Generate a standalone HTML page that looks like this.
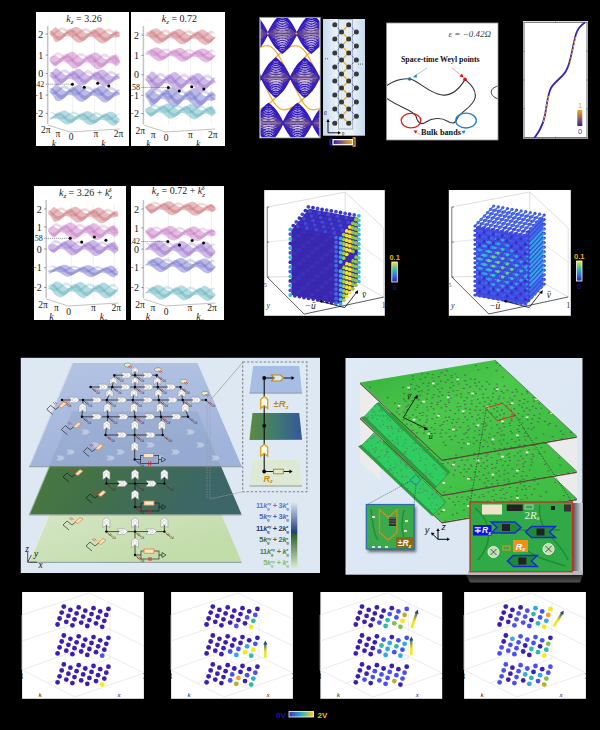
<!DOCTYPE html>
<html><head><meta charset="utf-8"><style>
html,body{margin:0;padding:0;background:#000;}
body{width:600px;height:730px;overflow:hidden;}
svg{display:block;}
</style></head><body>
<svg width="600" height="730" viewBox="0 0 600 730">
<rect x="0" y="0" width="600" height="730" fill="#000"/>
<rect x="36" y="12" width="93" height="134" fill="#fff"/>
<clipPath id="bp1"><rect x="36" y="12" width="93" height="134"/></clipPath><g clip-path="url(#bp1)">
<line x1="72.7" y1="30" x2="72.7" y2="124" stroke="#e6e6e6" stroke-width="0.6"/>
<line x1="94.7" y1="30" x2="94.7" y2="124" stroke="#e6e6e6" stroke-width="0.6"/>
<line x1="115.7" y1="30" x2="115.7" y2="124" stroke="#e6e6e6" stroke-width="0.6"/>
<line x1="47.7" y1="26" x2="47.7" y2="124" stroke="#c4c4c4" stroke-width="1.5"/>
<text x="43.2" y="37.5" font-size="10" fill="#222" text-anchor="end" font-family="Liberation Serif" >2</text>
<line x1="45.7" y1="34" x2="47.7" y2="34" stroke="#444" stroke-width="0.6"/>
<text x="43.2" y="58.5" font-size="10" fill="#222" text-anchor="end" font-family="Liberation Serif" >1</text>
<line x1="45.7" y1="55" x2="47.7" y2="55" stroke="#444" stroke-width="0.6"/>
<text x="43.2" y="77" font-size="10" fill="#222" text-anchor="end" font-family="Liberation Serif" >0</text>
<line x1="45.7" y1="73.5" x2="47.7" y2="73.5" stroke="#444" stroke-width="0.6"/>
<text x="43.2" y="98.5" font-size="10" fill="#222" text-anchor="end" font-family="Liberation Serif" >−1</text>
<line x1="45.7" y1="95" x2="47.7" y2="95" stroke="#444" stroke-width="0.6"/>
<text x="43.2" y="116.9" font-size="10" fill="#222" text-anchor="end" font-family="Liberation Serif" >−2</text>
<line x1="45.7" y1="113.4" x2="47.7" y2="113.4" stroke="#444" stroke-width="0.6"/>
<polygon points="49.7,32 51.6,30.3 53.6,28.5 55.5,27.1 57.5,28.5 59.4,30.2 61.4,31.7 63.3,32.7 65.3,32.8 67.2,32.1 69.1,30.8 71.1,29.2 73,27.7 75,26.9 76.9,26.9 78.9,27.7 80.8,29.1 82.8,30.8 84.7,32.4 86.6,33.3 88.6,33.4 90.5,32.7 92.5,31.4 94.4,29.8 96.4,28.4 98.3,27.5 100.3,27.5 102.2,28.3 104.1,29.8 106.1,31.5 108,33 110,34 111.9,34.1 113.9,33.3 115.8,32.1 117.8,32.1 119.7,33.3 119.7,36.2 117.8,37.2 115.8,37.6 113.9,37.4 111.9,37.9 110,39.1 108,40.6 106.1,42.2 104.1,43.2 102.2,43.5 100.3,42.9 98.3,41.6 96.4,39.9 94.4,38.3 92.5,37.1 90.5,36.8 88.6,37.2 86.6,38.4 84.7,40 82.8,41.5 80.8,42.6 78.9,42.8 76.9,42.2 75,40.9 73,39.2 71.1,37.6 69.1,36.5 67.2,36.1 65.3,36.6 63.3,37.8 61.4,39.4 59.4,40.9 57.5,41.9 55.5,42.1 53.6,39.3 51.6,36.3 49.7,33.7" fill="rgb(190,80,90)" fill-opacity="0.38"/>
<polygon points="49.7,30.4 51.6,31.5 53.6,33.1 55.5,34.6 57.5,36 59.4,36.4 61.4,35.8 63.3,34.2 65.3,32.2 67.2,30.3 69.1,29 71.1,28.7 73,29.4 75,31.1 76.9,33.2 78.9,35.3 80.8,36.7 82.8,37.1 84.7,36.4 86.6,34.8 88.6,32.8 90.5,30.9 92.5,29.6 94.4,29.3 96.4,30.1 98.3,31.8 100.3,33.9 102.2,35.9 104.1,37.3 106.1,37.7 108,37 110,35.4 111.9,33.4 113.9,31.5 115.8,30.3 117.8,30.7 119.7,32.2 119.7,33.2 117.8,33 115.8,33.9 113.9,35.3 111.9,37.2 110,39.3 108,40.9 106.1,41.6 104.1,41.2 102.2,39.8 100.3,37.8 98.3,35.6 96.4,33.9 94.4,33.1 92.5,33.4 90.5,34.7 88.6,36.6 86.6,38.7 84.7,40.2 82.8,40.9 80.8,40.5 78.9,39.1 76.9,37.1 75,34.9 73,33.3 71.1,32.5 69.1,32.8 67.2,34.1 65.3,36 63.3,38.1 61.4,39.6 59.4,40.3 57.5,39.9 55.5,38.4 53.6,35.8 51.6,33.2 49.7,31" fill="rgb(190,80,90)" fill-opacity="0.32"/>
<polygon points="49.7,34.6 51.6,34.1 53.6,32.9 55.5,31.1 57.5,29.4 59.4,28.1 61.4,27.4 63.3,27.5 65.3,28.5 67.2,30 69.1,31.7 71.1,33.2 73,34 75,33.9 76.9,33.1 78.9,31.6 80.8,30 82.8,28.7 84.7,28 86.6,28.2 88.6,29.1 90.5,30.7 92.5,32.4 94.4,33.8 96.4,34.6 98.3,34.6 100.3,33.7 102.2,32.3 104.1,30.7 106.1,29.3 108,28.7 110,28.8 111.9,29.8 113.9,31.4 115.8,33.1 117.8,35.1 119.7,36.3 119.7,37.1 117.8,36.8 115.8,35.9 113.9,34.2 111.9,32.7 110,31.7 108,31.5 106.1,32.2 104.1,33.5 102.2,35.1 100.3,36.6 98.3,37.4 96.4,37.5 94.4,36.7 92.5,35.3 90.5,33.6 88.6,32 86.6,31.1 84.7,30.9 82.8,31.6 80.8,32.9 78.9,34.5 76.9,36 75,36.8 73,36.9 71.1,36.1 69.1,34.6 67.2,32.9 65.3,31.4 63.3,30.4 61.4,30.3 59.4,31 57.5,32.3 55.5,33.9 53.6,34.9 51.6,35.4 49.7,35" fill="rgb(190,80,90)" fill-opacity="0.22"/>
<polygon points="49.7,58.1 51.6,56.6 53.6,55.7 55.5,55.6 57.5,57.1 59.4,58 61.4,58 63.3,57.1 65.3,55.6 67.2,53.9 69.1,52.5 71.1,51.7 73,51.8 75,52.8 76.9,54.4 78.9,56.2 80.8,57.8 82.8,58.7 84.7,58.7 86.6,57.8 88.6,56.3 90.5,54.6 92.5,53.1 94.4,52.4 96.4,52.5 98.3,53.5 100.3,55.1 102.2,56.9 104.1,58.5 106.1,59.3 108,59.3 110,58.4 111.9,56.9 113.9,55.2 115.8,54.2 117.8,56.1 119.7,59.3 119.7,63.4 117.8,65.2 115.8,66.2 113.9,64.8 111.9,63.5 110,62.9 108,63.3 106.1,64.5 104.1,66.1 102.2,67.8 100.3,69 98.3,69.4 96.4,68.9 94.4,67.6 92.5,65.9 90.5,64.1 88.6,62.8 86.6,62.3 84.7,62.6 82.8,63.8 80.8,65.5 78.9,67.1 76.9,68.3 75,68.7 73,68.2 71.1,66.9 69.1,65.1 67.2,63.4 65.3,62.1 63.3,61.6 61.4,62 59.4,63.2 57.5,64.8 55.5,66.4 53.6,65.6 51.6,63.5 49.7,60.5" fill="rgb(185,85,180)" fill-opacity="0.38"/>
<polygon points="49.7,59.8 51.6,61.4 53.6,62.2 55.5,61.9 57.5,61 59.4,59.3 61.4,57.1 63.3,55.1 65.3,53.9 67.2,53.7 69.1,54.7 71.1,56.5 73,58.8 75,60.9 76.9,62.3 78.9,62.6 80.8,61.7 82.8,59.9 84.7,57.7 86.6,55.8 88.6,54.5 90.5,54.4 92.5,55.4 94.4,57.3 96.4,59.5 98.3,61.6 100.3,63 102.2,63.2 104.1,62.3 106.1,60.6 108,58.4 110,56.4 111.9,55.2 113.9,55.1 115.8,56.2 117.8,58.8 119.7,61.8 119.7,62.8 117.8,61.2 115.8,60 113.9,59.1 111.9,59.3 110,60.5 108,62.5 106.1,64.6 104.1,66.4 102.2,67.3 100.3,67.1 98.3,65.7 96.4,63.6 94.4,61.3 92.5,59.4 90.5,58.4 88.6,58.6 86.6,59.8 84.7,61.8 82.8,64 80.8,65.8 78.9,66.6 76.9,66.4 75,65 73,62.9 71.1,60.6 69.1,58.7 67.2,57.8 65.3,57.9 63.3,59.2 61.4,61.2 59.4,63.3 57.5,65.1 55.5,65.9 53.6,65.1 51.6,63.1 49.7,60.4" fill="rgb(185,85,180)" fill-opacity="0.32"/>
<polygon points="49.7,58.8 51.6,56.8 53.6,54.7 55.5,52.9 57.5,52.3 59.4,52.5 61.4,53.7 63.3,55.3 65.3,57.1 67.2,58.6 69.1,59.3 71.1,59.2 73,58.2 75,56.6 76.9,54.9 78.9,53.6 80.8,52.9 82.8,53.2 84.7,54.4 86.6,56 88.6,57.8 90.5,59.3 92.5,60 94.4,59.8 96.4,58.8 98.3,57.2 100.3,55.5 102.2,54.2 104.1,53.6 106.1,53.9 108,55.1 110,56.8 111.9,58.6 113.9,60 115.8,60.8 117.8,61.1 119.7,60.6 119.7,61.4 117.8,62.9 115.8,63.7 113.9,63.1 111.9,61.6 110,59.8 108,58.1 106.1,57 104.1,56.7 102.2,57.3 100.3,58.6 98.3,60.3 96.4,61.9 94.4,62.9 92.5,63.1 90.5,62.4 88.6,60.9 86.6,59.1 84.7,57.4 82.8,56.3 80.8,56 78.9,56.6 76.9,58 75,59.6 73,61.2 71.1,62.2 69.1,62.4 67.2,61.7 65.3,60.2 63.3,58.4 61.4,56.7 59.4,55.6 57.5,55.3 55.5,55.9 53.6,56.9 51.6,58.1 49.7,59.3" fill="rgb(185,85,180)" fill-opacity="0.22"/>
<polygon points="49.7,74.6 51.6,72.8 53.6,70.5 55.5,68.3 57.5,68.8 59.4,70.2 61.4,72 63.3,73.7 65.3,74.9 67.2,75.3 69.1,74.7 71.1,73.5 73,71.8 75,70.2 76.9,69.1 78.9,68.8 80.8,69.5 82.8,70.9 84.7,72.7 86.6,74.4 88.6,75.6 90.5,76 92.5,75.4 94.4,74.1 96.4,72.4 98.3,70.8 100.3,69.8 102.2,69.5 104.1,70.2 106.1,71.6 108,73.4 110,75.1 111.9,76.3 113.9,76.6 115.8,76.2 117.8,75.9 119.7,76.2 119.7,78.3 117.8,79.2 115.8,80.1 113.9,80.9 111.9,82.3 110,84 108,85.5 106.1,86.4 104.1,86.5 102.2,85.7 100.3,84.2 98.3,82.4 96.4,80.7 94.4,79.7 92.5,79.5 90.5,80.2 88.6,81.6 86.6,83.3 84.7,84.8 82.8,85.8 80.8,85.8 78.9,85 76.9,83.5 75,81.6 73,80 71.1,79 69.1,78.8 67.2,79.5 65.3,81 63.3,82.7 61.4,84.2 59.4,85.1 57.5,85.1 55.5,84.1 53.6,80.6 51.6,77.7 49.7,75.8" fill="rgb(128,76,192)" fill-opacity="0.38"/>
<polygon points="49.7,71.9 51.6,71.8 53.6,72.8 55.5,74.5 57.5,76.7 59.4,78.4 61.4,79.1 63.3,78.7 65.3,77.2 67.2,75.1 69.1,73 71.1,71.4 73,70.8 75,71.4 76.9,72.9 78.9,75.1 80.8,77.4 82.8,79.1 84.7,79.8 86.6,79.3 88.6,77.9 90.5,75.8 92.5,73.6 94.4,72.1 96.4,71.5 98.3,72.1 100.3,73.7 102.2,75.9 104.1,78.1 106.1,79.8 108,80.5 110,80 111.9,78.5 113.9,76.4 115.8,74.4 117.8,73.5 119.7,73.7 119.7,74.7 117.8,76 115.8,78.3 113.9,80.5 111.9,82.6 110,84.1 108,84.5 106.1,83.9 104.1,82.2 102.2,79.9 100.3,77.7 98.3,76.1 96.4,75.6 94.4,76.1 92.5,77.7 90.5,79.8 88.6,81.9 86.6,83.4 84.7,83.9 82.8,83.2 80.8,81.5 78.9,79.2 76.9,77 75,75.4 73,74.9 71.1,75.5 69.1,77.1 67.2,79.2 65.3,81.3 63.3,82.7 61.4,83.2 59.4,82.5 57.5,80.7 55.5,78.5 53.6,75.7 51.6,73.6 49.7,72.5" fill="rgb(128,76,192)" fill-opacity="0.32"/>
<polygon points="49.7,75.9 51.6,76.5 53.6,76.3 55.5,75.2 57.5,73.8 59.4,72.1 61.4,70.5 63.3,69.6 65.3,69.5 67.2,70.3 69.1,71.8 71.1,73.7 73,75.3 75,76.4 76.9,76.5 78.9,75.8 80.8,74.4 82.8,72.7 84.7,71.2 86.6,70.3 88.6,70.2 90.5,71 92.5,72.6 94.4,74.4 96.4,76 98.3,77 100.3,77.2 102.2,76.5 104.1,75.1 106.1,73.4 108,71.8 110,70.9 111.9,70.9 113.9,71.7 115.8,73.4 117.8,75.7 119.7,77.9 119.7,78.6 117.8,77.5 115.8,76.2 113.9,74.8 111.9,73.9 110,74 108,74.9 106.1,76.4 104.1,78.1 102.2,79.5 100.3,80.3 98.3,80.1 96.4,79.1 94.4,77.4 92.5,75.6 90.5,74.1 88.6,73.3 86.6,73.3 84.7,74.2 82.8,75.8 80.8,77.5 78.9,78.9 76.9,79.6 75,79.4 73,78.4 71.1,76.7 69.1,74.9 67.2,73.4 65.3,72.6 63.3,72.6 61.4,73.6 59.4,75.1 57.5,76.8 55.5,78.2 53.6,78.5 51.6,77.8 49.7,76.4" fill="rgb(128,76,192)" fill-opacity="0.22"/>
<polygon points="49.7,90.6 51.6,88.8 53.6,86.5 55.5,84.3 57.5,84.8 59.4,86.2 61.4,88 63.3,89.7 65.3,90.9 67.2,91.3 69.1,90.7 71.1,89.4 73,87.7 75,86.1 76.9,85.1 78.9,84.8 80.8,85.5 82.8,86.9 84.7,88.7 86.6,90.4 88.6,91.6 90.5,92 92.5,91.4 94.4,90.1 96.4,88.4 98.3,86.8 100.3,85.7 102.2,85.5 104.1,86.2 106.1,87.7 108,89.5 110,91.2 111.9,92.3 113.9,92.6 115.8,92.2 117.8,91.9 119.7,92.2 119.7,94.3 117.8,95.2 115.8,96 113.9,96.8 111.9,98.2 110,99.9 108,101.5 106.1,102.4 104.1,102.5 102.2,101.7 100.3,100.2 98.3,98.4 96.4,96.7 94.4,95.7 92.5,95.5 90.5,96.2 88.6,97.6 86.6,99.3 84.7,100.8 82.8,101.8 80.8,101.8 78.9,101 76.9,99.5 75,97.7 73,96 71.1,95 69.1,94.8 67.2,95.5 65.3,96.9 63.3,98.6 61.4,100.2 59.4,101.1 57.5,101.1 55.5,100.2 53.6,96.7 51.6,93.7 49.7,91.8" fill="rgb(78,78,192)" fill-opacity="0.38"/>
<polygon points="49.7,87.9 51.6,87.9 53.6,88.9 55.5,90.5 57.5,92.7 59.4,94.4 61.4,95.1 63.3,94.6 65.3,93.2 67.2,91.1 69.1,88.9 71.1,87.4 73,86.8 75,87.4 76.9,89 78.9,91.2 80.8,93.4 82.8,95.1 84.7,95.8 86.6,95.3 88.6,93.8 90.5,91.7 92.5,89.6 94.4,88 96.4,87.5 98.3,88.1 100.3,89.7 102.2,91.9 104.1,94.1 106.1,95.8 108,96.5 110,96 111.9,94.5 113.9,92.4 115.8,90.4 117.8,89.5 119.7,89.7 119.7,90.7 117.8,92 115.8,94.2 113.9,96.4 111.9,98.5 110,100 108,100.5 106.1,99.9 104.1,98.2 102.2,96 100.3,93.8 98.3,92.2 96.4,91.6 94.4,92.1 92.5,93.7 90.5,95.8 88.6,97.9 86.6,99.4 84.7,99.9 82.8,99.2 80.8,97.5 78.9,95.3 76.9,93.1 75,91.5 73,90.9 71.1,91.5 69.1,93 67.2,95.1 65.3,97.2 63.3,98.7 61.4,99.2 59.4,98.5 57.5,96.8 55.5,94.5 53.6,91.7 51.6,89.6 49.7,88.5" fill="rgb(78,78,192)" fill-opacity="0.32"/>
<polygon points="49.7,91.9 51.6,92.5 53.6,92.3 55.5,91.2 57.5,89.7 59.4,88 61.4,86.5 63.3,85.6 65.3,85.5 67.2,86.4 69.1,87.9 71.1,89.7 73,91.3 75,92.4 76.9,92.5 78.9,91.8 80.8,90.4 82.8,88.7 84.7,87.2 86.6,86.2 88.6,86.2 90.5,87.1 92.5,88.6 94.4,90.4 96.4,92 98.3,93.1 100.3,93.2 102.2,92.4 104.1,91 106.1,89.3 108,87.8 110,86.9 111.9,86.9 113.9,87.8 115.8,89.4 117.8,91.7 119.7,93.9 119.7,94.7 117.8,93.6 115.8,92.3 113.9,90.8 111.9,90 110,90 108,90.9 106.1,92.4 104.1,94.1 102.2,95.5 100.3,96.3 98.3,96.1 96.4,95.1 94.4,93.5 92.5,91.7 90.5,90.1 88.6,89.3 86.6,89.3 84.7,90.2 82.8,91.7 80.8,93.4 78.9,94.8 76.9,95.6 75,95.4 73,94.4 71.1,92.8 69.1,90.9 67.2,89.4 65.3,88.6 63.3,88.6 61.4,89.6 59.4,91.1 57.5,92.8 55.5,94.2 53.6,94.5 51.6,93.9 49.7,92.4" fill="rgb(78,78,192)" fill-opacity="0.22"/>
<polygon points="49.7,117.7 51.6,117 53.6,116.2 55.5,115.1 57.5,113.8 59.4,112.4 61.4,111.2 63.3,110.6 65.3,110.6 67.2,111.4 69.1,112.8 71.1,114.3 73,115.5 75,116.3 76.9,116.3 78.9,115.6 80.8,114.4 82.8,113 84.7,111.8 86.6,111.1 88.6,111.2 90.5,112 92.5,113.3 94.4,114.8 96.4,116.1 98.3,116.9 100.3,116.9 102.2,116.1 104.1,114.9 106.1,113.5 108,112.3 110,111.7 111.9,111.8 113.9,112.6 115.8,114.2 117.8,117.2 119.7,119.1 119.7,120.6 117.8,122.6 115.8,125 113.9,125.7 111.9,125.3 110,124.2 108,122.8 106.1,121.3 104.1,120.3 102.2,119.8 100.3,120.1 98.3,121.1 96.4,122.5 94.4,123.8 92.5,124.8 90.5,125.1 88.6,124.7 86.6,123.7 84.7,122.2 82.8,120.8 80.8,119.7 78.9,119.3 76.9,119.6 75,120.6 73,121.9 71.1,123.3 69.1,124.3 67.2,124.6 65.3,124.2 63.3,123.1 61.4,121.6 59.4,120.2 57.5,119.1 55.5,118.7 53.6,118.6 51.6,118.8 49.7,118.7" fill="rgb(60,160,175)" fill-opacity="0.38"/>
<polygon points="49.7,119.7 51.6,117.8 53.6,115.5 55.5,113.4 57.5,112.3 59.4,112.2 61.4,113 63.3,114.5 65.3,116.4 67.2,118.1 69.1,119.3 71.1,119.5 73,118.8 75,117.3 76.9,115.6 78.9,113.9 80.8,112.9 82.8,112.8 84.7,113.6 86.6,115.1 88.6,117 90.5,118.7 92.5,119.8 94.4,120.1 96.4,119.3 98.3,117.9 100.3,116.1 102.2,114.5 104.1,113.4 106.1,113.3 108,114.2 110,115.7 111.9,117.6 113.9,119.3 115.8,120.5 117.8,121.3 119.7,121.1 119.7,122 117.8,123.3 115.8,123.7 113.9,122.7 111.9,121 110,119.1 108,117.5 106.1,116.7 104.1,116.8 102.2,117.8 100.3,119.4 98.3,121.2 96.4,122.7 94.4,123.4 92.5,123.2 90.5,122.1 88.6,120.4 86.6,118.5 84.7,116.9 82.8,116.1 80.8,116.3 78.9,117.3 76.9,118.9 75,120.7 73,122.2 71.1,122.9 69.1,122.6 67.2,121.5 65.3,119.8 63.3,117.9 61.4,116.4 59.4,115.6 57.5,115.7 55.5,116.7 53.6,117.9 51.6,119.2 49.7,120.2" fill="rgb(60,160,175)" fill-opacity="0.32"/>
<polygon points="49.7,112.1 51.6,112 53.6,112.5 55.5,113.6 57.5,115 59.4,116.2 61.4,116.9 63.3,116.7 65.3,115.9 67.2,114.6 69.1,113.2 71.1,112.1 73,111.6 75,111.8 76.9,112.7 78.9,114.1 80.8,115.6 82.8,116.8 84.7,117.4 86.6,117.3 88.6,116.4 90.5,115.1 92.5,113.7 94.4,112.6 96.4,112.1 98.3,112.4 100.3,113.3 102.2,114.7 104.1,116.2 106.1,117.4 108,118 110,117.8 111.9,117 113.9,115.7 115.8,114.4 117.8,113.7 119.7,113.6 119.7,114.3 117.8,115.2 115.8,116.7 113.9,118.2 111.9,119.5 110,120.3 108,120.5 106.1,119.9 104.1,118.7 102.2,117.2 100.3,115.8 98.3,114.9 96.4,114.7 94.4,115.2 92.5,116.3 90.5,117.7 88.6,119 86.6,119.8 84.7,119.9 82.8,119.3 80.8,118.1 78.9,116.7 76.9,115.3 75,114.3 73,114.1 71.1,114.6 69.1,115.7 67.2,117.1 65.3,118.4 63.3,119.2 61.4,119.4 59.4,118.8 57.5,117.6 55.5,116 53.6,114.3 51.6,113 49.7,112.5" fill="rgb(60,160,175)" fill-opacity="0.22"/>
<line x1="45.7" y1="84.2" x2="72.4" y2="84.2" stroke="#333" stroke-width="0.6" stroke-dasharray="1,1"/>
<text x="44.2" y="87" font-size="8" fill="#222" text-anchor="end" font-family="Liberation Serif" >−0.42</text>
<circle cx="72.4" cy="84.2" r="1.5" fill="#000"/>
<circle cx="84.3" cy="87.3" r="1.5" fill="#000"/>
<circle cx="97.7" cy="83.2" r="1.5" fill="#000"/>
<circle cx="108.8" cy="85.9" r="1.5" fill="#000"/>
<text x="84" y="21.5" font-size="10" fill="#222" text-anchor="middle" font-family="Liberation Serif" ><tspan font-style="italic">k</tspan><tspan font-size="7" dy="2" font-style="italic">z</tspan><tspan dy="-2"> = 3.26</tspan></text>
<line x1="47.7" y1="125" x2="69.7" y2="132" stroke="#999" stroke-width="0.6"/>
<line x1="69.7" y1="132" x2="119.7" y2="129" stroke="#999" stroke-width="0.6"/>
<text x="45.7" y="133" font-size="9.5" fill="#222" text-anchor="middle" font-family="Liberation Serif" >2π</text>
<text x="58" y="137" font-size="9.5" fill="#222" text-anchor="middle" font-family="Liberation Serif" >π</text>
<text x="71" y="140" font-size="9.5" fill="#222" text-anchor="middle" font-family="Liberation Serif" >0</text>
<text x="96" y="137" font-size="9.5" fill="#222" text-anchor="middle" font-family="Liberation Serif" >π</text>
<text x="118.6" y="137" font-size="9.5" fill="#222" text-anchor="middle" font-family="Liberation Serif" >2π</text>
<text x="54" y="147" font-size="10" fill="#222" text-anchor="middle" font-family="Liberation Serif" font-style="italic" >k</text>
<text x="105" y="147" font-size="10" fill="#222" text-anchor="middle" font-family="Liberation Serif" font-style="italic" >k<tspan font-size="7" dy="1.5">x</tspan></text>
</g>
<rect x="131" y="12" width="94" height="134" fill="#fff"/>
<clipPath id="bp2"><rect x="131" y="12" width="94" height="134"/></clipPath><g clip-path="url(#bp2)">
<line x1="168.4" y1="30" x2="168.4" y2="124" stroke="#e6e6e6" stroke-width="0.6"/>
<line x1="190.4" y1="30" x2="190.4" y2="124" stroke="#e6e6e6" stroke-width="0.6"/>
<line x1="211.4" y1="30" x2="211.4" y2="124" stroke="#e6e6e6" stroke-width="0.6"/>
<line x1="143.4" y1="26" x2="143.4" y2="124" stroke="#c4c4c4" stroke-width="1.5"/>
<text x="138.9" y="38.5" font-size="10" fill="#222" text-anchor="end" font-family="Liberation Serif" >2</text>
<line x1="141.4" y1="35" x2="143.4" y2="35" stroke="#444" stroke-width="0.6"/>
<text x="138.9" y="58.8" font-size="10" fill="#222" text-anchor="end" font-family="Liberation Serif" >1</text>
<line x1="141.4" y1="55.3" x2="143.4" y2="55.3" stroke="#444" stroke-width="0.6"/>
<text x="138.9" y="78.2" font-size="10" fill="#222" text-anchor="end" font-family="Liberation Serif" >0</text>
<line x1="141.4" y1="74.7" x2="143.4" y2="74.7" stroke="#444" stroke-width="0.6"/>
<text x="138.9" y="98.7" font-size="10" fill="#222" text-anchor="end" font-family="Liberation Serif" >−1</text>
<line x1="141.4" y1="95.2" x2="143.4" y2="95.2" stroke="#444" stroke-width="0.6"/>
<text x="138.9" y="117.1" font-size="10" fill="#222" text-anchor="end" font-family="Liberation Serif" >−2</text>
<line x1="141.4" y1="113.6" x2="143.4" y2="113.6" stroke="#444" stroke-width="0.6"/>
<polygon points="145.4,35.6 147.3,34.4 149.3,32.8 151.2,30.5 153.2,29.1 155.1,28.4 157.1,28.5 159,29.4 161,30.9 162.9,32.5 164.8,33.9 166.8,34.7 168.7,34.7 170.7,33.9 172.6,32.5 174.6,31 176.5,29.7 178.5,29 180.4,29.1 182.3,30.1 184.3,31.5 186.2,33.2 188.2,34.5 190.1,35.3 192.1,35.3 194,34.5 196,33.1 197.9,31.6 199.8,30.3 201.8,29.6 203.7,29.8 205.7,30.7 207.6,32.2 209.6,33.8 211.5,35.4 213.5,36.8 215.4,37.2 215.4,38.1 213.5,39.6 211.5,41.7 209.6,43.4 207.6,44.5 205.7,45 203.7,44.6 201.8,43.4 199.8,41.9 197.9,40.3 196,39.1 194,38.5 192.1,38.8 190.1,39.9 188.2,41.4 186.2,42.8 184.3,43.9 182.3,44.3 180.4,43.9 178.5,42.8 176.5,41.2 174.6,39.6 172.6,38.4 170.7,37.9 168.7,38.2 166.8,39.3 164.8,40.8 162.9,42.3 161,43.3 159,43.7 157.1,43.3 155.1,42.2 153.2,40.6 151.2,38.9 149.3,36.9 147.3,36.2 145.4,36.1" fill="rgb(190,80,90)" fill-opacity="0.38"/>
<polygon points="145.4,34.8 147.3,32.5 149.3,30.9 151.2,30.3 153.2,31.1 155.1,32.8 157.1,34.9 159,36.8 161,38 162.9,38.2 164.8,37.4 166.8,35.7 168.7,33.8 170.7,32 172.6,30.9 174.6,30.8 176.5,31.8 178.5,33.5 180.4,35.6 182.3,37.4 184.3,38.6 186.2,38.8 188.2,37.9 190.1,36.3 192.1,34.4 194,32.6 196,31.5 197.9,31.5 199.8,32.4 201.8,34.1 203.7,36.2 205.7,38.1 207.6,39.2 209.6,39.4 211.5,38.6 213.5,37.6 215.4,36.3 215.4,37.2 213.5,39.8 211.5,42.1 209.6,43.1 207.6,42.9 205.7,41.7 203.7,39.9 201.8,37.8 199.8,36.1 197.9,35.1 196,35.2 194,36.3 192.1,38 190.1,40 188.2,41.6 186.2,42.5 184.3,42.3 182.3,41.1 180.4,39.2 178.5,37.2 176.5,35.4 174.6,34.5 172.6,34.6 170.7,35.7 168.7,37.5 166.8,39.4 164.8,41 162.9,41.9 161,41.6 159,40.4 157.1,38.6 155.1,36.5 153.2,34.8 151.2,33.9 149.3,33.5 147.3,34.1 145.4,35.3" fill="rgb(190,80,90)" fill-opacity="0.32"/>
<polygon points="145.4,31.4 147.3,32.5 149.3,33.8 151.2,34.7 153.2,35.3 155.1,35.1 157.1,34.2 159,32.8 161,31.2 162.9,30.1 164.8,29.5 166.8,29.8 168.7,30.9 170.7,32.4 172.6,34 174.6,35.3 176.5,35.9 178.5,35.7 180.4,34.8 182.3,33.3 184.3,31.8 186.2,30.7 188.2,30.1 190.1,30.4 192.1,31.5 194,33 196,34.6 197.9,35.9 199.8,36.5 201.8,36.3 203.7,35.4 205.7,33.9 207.6,32.4 209.6,31.2 211.5,30.8 213.5,31.6 215.4,33.2 215.4,33.9 213.5,33.3 211.5,33.4 209.6,34 207.6,35.2 205.7,36.7 203.7,38.1 201.8,39.1 199.8,39.3 197.9,38.7 196,37.4 194,35.8 192.1,34.2 190.1,33.2 188.2,32.9 186.2,33.4 184.3,34.6 182.3,36.1 180.4,37.5 178.5,38.5 176.5,38.7 174.6,38 172.6,36.8 170.7,35.1 168.7,33.6 166.8,32.6 164.8,32.3 162.9,32.8 161,34 159,35.5 157.1,36.9 155.1,37.9 153.2,38.1 151.2,37.4 149.3,35.7 147.3,33.7 145.4,31.8" fill="rgb(190,80,90)" fill-opacity="0.22"/>
<polygon points="145.4,54 147.3,53 149.3,51.6 151.2,49.5 153.2,48.2 155.1,47.4 157.1,47.3 159,47.9 161,49.2 162.9,50.6 164.8,52 166.8,52.9 168.7,53.1 170.7,52.5 172.6,51.4 174.6,50 176.5,48.7 178.5,47.9 180.4,47.8 182.3,48.5 184.3,49.7 186.2,51.2 188.2,52.6 190.1,53.5 192.1,53.6 194,53.1 196,51.9 197.9,50.5 199.8,49.3 201.8,48.5 203.7,48.4 205.7,49.1 207.6,50.3 209.6,51.8 211.5,53.4 213.5,55 215.4,55.5 215.4,56.3 213.5,57.7 211.5,59.8 209.6,61.3 207.6,62.2 205.7,62.4 203.7,61.8 201.8,60.7 199.8,59.2 197.9,57.8 196,56.8 194,56.5 192.1,57 190.1,58.1 188.2,59.5 186.2,60.8 184.3,61.7 182.3,61.8 180.4,61.3 178.5,60.1 176.5,58.6 174.6,57.2 172.6,56.2 170.7,56 168.7,56.5 166.8,57.6 164.8,59 162.9,60.3 161,61.1 159,61.3 157.1,60.7 155.1,59.5 153.2,58 151.2,56.6 149.3,55 147.3,54.4 145.4,54.5" fill="rgb(185,85,180)" fill-opacity="0.38"/>
<polygon points="145.4,53.6 147.3,51.4 149.3,49.7 151.2,48.9 153.2,49.5 155.1,50.9 157.1,52.7 159,54.5 161,55.8 162.9,56.3 164.8,55.7 166.8,54.4 168.7,52.7 170.7,51 172.6,49.8 174.6,49.4 176.5,50 178.5,51.5 180.4,53.3 182.3,55.1 184.3,56.4 186.2,56.8 188.2,56.3 190.1,55 192.1,53.2 194,51.5 196,50.3 197.9,50 199.8,50.6 201.8,52 203.7,53.9 205.7,55.7 207.6,57 209.6,57.4 211.5,56.9 213.5,56.2 215.4,55 215.4,55.8 213.5,58.2 211.5,60.1 209.6,60.7 207.6,60.3 205.7,59.1 203.7,57.3 201.8,55.4 199.8,54 197.9,53.3 196,53.7 194,54.9 192.1,56.6 190.1,58.3 188.2,59.6 186.2,60.2 184.3,59.7 182.3,58.5 180.4,56.7 178.5,54.8 176.5,53.4 174.6,52.8 172.6,53.1 170.7,54.3 168.7,56 166.8,57.8 164.8,59.1 162.9,59.6 161,59.2 159,57.9 157.1,56.1 155.1,54.2 153.2,52.8 151.2,52.2 149.3,52.1 147.3,52.8 145.4,54.1" fill="rgb(185,85,180)" fill-opacity="0.32"/>
<polygon points="145.4,49.7 147.3,50.7 149.3,51.8 151.2,52.8 153.2,53.5 155.1,53.5 157.1,52.8 159,51.6 161,50.2 162.9,49 164.8,48.4 166.8,48.4 168.7,49.2 170.7,50.5 172.6,52 174.6,53.3 176.5,54.1 178.5,54.1 180.4,53.4 182.3,52.2 184.3,50.8 186.2,49.6 188.2,48.9 190.1,49 192.1,49.8 194,51.1 196,52.6 197.9,53.9 199.8,54.6 201.8,54.6 203.7,53.9 205.7,52.7 207.6,51.3 209.6,50.1 211.5,49.5 213.5,50.1 215.4,51.3 215.4,51.9 213.5,51.6 211.5,51.9 209.6,52.6 207.6,53.8 205.7,55.2 203.7,56.4 201.8,57.2 199.8,57.1 197.9,56.4 196,55.1 194,53.6 192.1,52.3 190.1,51.5 188.2,51.4 186.2,52.1 184.3,53.3 182.3,54.7 180.4,55.9 178.5,56.6 176.5,56.6 174.6,55.8 172.6,54.5 170.7,53 168.7,51.7 166.8,50.9 164.8,50.9 162.9,51.5 161,52.7 159,54.1 157.1,55.4 155.1,56.1 153.2,56 151.2,55.2 149.3,53.6 147.3,51.7 145.4,50.1" fill="rgb(185,85,180)" fill-opacity="0.22"/>
<polygon points="145.4,78.6 147.3,76.6 149.3,74.1 151.2,71.5 153.2,71.8 155.1,73.2 157.1,75.1 159,77.1 161,78.6 162.9,79.2 164.8,78.9 166.8,77.6 168.7,75.8 170.7,74 172.6,72.6 174.6,72.1 176.5,72.6 178.5,74 180.4,75.9 182.3,77.8 184.3,79.3 186.2,80 188.2,79.6 190.1,78.3 192.1,76.6 194,74.7 196,73.4 197.9,72.9 199.8,73.4 201.8,74.7 203.7,76.7 205.7,78.6 207.6,80.1 209.6,80.7 211.5,80.5 213.5,80.2 215.4,80.4 215.4,82.5 213.5,83.5 211.5,84.6 209.6,85.7 207.6,87.4 205.7,89.2 203.7,90.8 201.8,91.6 199.8,91.4 197.9,90.3 196,88.5 194,86.5 192.1,84.8 190.1,83.9 188.2,84 186.2,85 184.3,86.7 182.3,88.5 180.4,90.1 178.5,90.9 176.5,90.7 174.6,89.5 172.6,87.7 170.7,85.7 168.7,84.1 166.8,83.2 164.8,83.2 162.9,84.3 161,85.9 159,87.8 157.1,89.3 155.1,90.1 153.2,89.9 151.2,88.6 149.3,84.7 147.3,81.6 145.4,79.8" fill="rgb(128,76,192)" fill-opacity="0.38"/>
<polygon points="145.4,75.5 147.3,75.2 149.3,76 151.2,77.7 153.2,80.2 155.1,82.2 157.1,83.3 159,83.2 161,81.8 162.9,79.7 164.8,77.3 166.8,75.3 168.7,74.3 170.7,74.6 172.6,76.1 174.6,78.4 176.5,80.9 178.5,83 180.4,84.1 182.3,83.9 184.3,82.5 186.2,80.4 188.2,78 190.1,76 192.1,75.1 194,75.4 196,76.9 197.9,79.2 199.8,81.7 201.8,83.8 203.7,84.9 205.7,84.7 207.6,83.3 209.6,81.1 211.5,78.8 213.5,77.7 215.4,77.5 215.4,78.6 213.5,80.3 211.5,83 209.6,85.6 207.6,87.8 205.7,89.1 203.7,89.3 201.8,88.3 199.8,86.2 197.9,83.7 196,81.4 194,79.9 192.1,79.6 190.1,80.5 188.2,82.5 186.2,84.9 184.3,87 182.3,88.4 180.4,88.6 178.5,87.5 176.5,85.4 174.6,82.9 172.6,80.6 170.7,79.1 168.7,78.8 166.8,79.8 164.8,81.8 162.9,84.1 161,86.3 159,87.7 157.1,87.8 155.1,86.7 153.2,84.6 151.2,82.1 149.3,79.2 147.3,77.1 145.4,76.2" fill="rgb(128,76,192)" fill-opacity="0.32"/>
<polygon points="145.4,79.5 147.3,80.4 149.3,80.4 151.2,79.4 153.2,78 155.1,76.2 157.1,74.4 159,73.1 161,72.8 162.9,73.5 164.8,75 166.8,76.9 168.7,78.8 170.7,80.2 172.6,80.6 174.6,80.1 176.5,78.7 178.5,76.9 180.4,75.1 182.3,73.9 184.3,73.6 186.2,74.2 188.2,75.8 190.1,77.7 192.1,79.6 194,81 196,81.4 197.9,80.8 199.8,79.4 201.8,77.6 203.7,75.8 205.7,74.6 207.6,74.3 209.6,75 211.5,76.6 213.5,79.2 215.4,81.7 215.4,82.5 213.5,81.2 211.5,79.8 209.6,78.4 207.6,77.7 205.7,78 203.7,79.2 201.8,80.9 199.8,82.8 197.9,84.2 196,84.8 194,84.3 192.1,83 190.1,81.1 188.2,79.1 186.2,77.6 184.3,76.9 182.3,77.2 180.4,78.5 178.5,80.2 176.5,82.1 174.6,83.5 172.6,84 170.7,83.6 168.7,82.2 166.8,80.3 164.8,78.3 162.9,76.8 161,76.2 159,76.5 157.1,77.7 155.1,79.5 153.2,81.4 151.2,82.7 149.3,82.8 147.3,81.8 145.4,80" fill="rgb(128,76,192)" fill-opacity="0.22"/>
<polygon points="145.4,93.7 147.3,91.6 149.3,89.5 151.2,88.2 153.2,90 155.1,92.1 157.1,93.8 159,94.7 161,94.5 162.9,93.3 164.8,91.5 166.8,89.5 168.7,87.9 170.7,87.2 172.6,87.5 174.6,88.8 176.5,90.8 178.5,92.9 180.4,94.6 182.3,95.5 184.3,95.3 186.2,94.1 188.2,92.2 190.1,90.3 192.1,88.7 194,88 196,88.3 197.9,89.7 199.8,91.6 201.8,93.7 203.7,95.4 205.7,96.2 207.6,96 209.6,94.8 211.5,93.2 213.5,93.4 215.4,95.3 215.4,99.2 213.5,100.5 211.5,101 209.6,100.4 207.6,100.6 205.7,101.8 203.7,103.7 201.8,105.6 199.8,107.2 197.9,107.9 196,107.5 194,106.1 192.1,104.2 190.1,102.1 188.2,100.4 186.2,99.6 184.3,99.9 182.3,101.1 180.4,102.9 178.5,104.9 176.5,106.4 174.6,107.1 172.6,106.7 170.7,105.3 168.7,103.3 166.8,101.2 164.8,99.6 162.9,98.8 161,99.1 159,100.3 157.1,102.2 155.1,104.1 153.2,105.6 151.2,106.1 149.3,103.1 147.3,99.3 145.4,96" fill="rgb(78,78,192)" fill-opacity="0.38"/>
<polygon points="145.4,92.3 147.3,93.9 149.3,95.9 151.2,97.6 153.2,99 155.1,99 157.1,97.8 159,95.6 161,93.1 162.9,90.9 164.8,89.6 166.8,89.7 168.7,91.1 170.7,93.4 172.6,96.1 174.6,98.4 176.5,99.8 178.5,99.8 180.4,98.6 182.3,96.4 184.3,93.8 186.2,91.6 188.2,90.4 190.1,90.5 192.1,91.9 194,94.2 196,96.9 197.9,99.2 199.8,100.6 201.8,100.6 203.7,99.3 205.7,97.1 207.6,94.6 209.6,92.4 211.5,91.3 213.5,92.3 215.4,94.5 215.4,95.7 213.5,95.1 211.5,95.8 209.6,97.1 207.6,99.3 205.7,101.9 203.7,104.1 201.8,105.3 199.8,105.3 197.9,104 196,101.7 194,99 192.1,96.6 190.1,95.3 188.2,95.2 186.2,96.4 184.3,98.6 182.3,101.1 180.4,103.3 178.5,104.6 176.5,104.5 174.6,103.1 172.6,100.8 170.7,98.2 168.7,95.8 166.8,94.5 164.8,94.4 162.9,95.6 161,97.8 159,100.4 157.1,102.6 155.1,103.8 153.2,103.7 151.2,102.3 149.3,99.3 147.3,96 145.4,93" fill="rgb(78,78,192)" fill-opacity="0.32"/>
<polygon points="145.4,96.9 147.3,96.1 149.3,94.2 151.2,91.8 153.2,89.9 155.1,88.4 157.1,87.9 159,88.4 161,89.9 162.9,91.9 164.8,94 166.8,95.5 168.7,96.2 170.7,95.8 172.6,94.5 174.6,92.6 176.5,90.6 178.5,89.2 180.4,88.7 182.3,89.2 184.3,90.7 186.2,92.7 188.2,94.8 190.1,96.4 192.1,97 194,96.6 196,95.2 197.9,93.3 199.8,91.4 201.8,90 203.7,89.5 205.7,90 207.6,91.5 209.6,93.6 211.5,95.7 213.5,97.9 215.4,99.1 215.4,100 213.5,100 211.5,99.1 209.6,97.1 207.6,95.1 205.7,93.6 203.7,93 201.8,93.5 199.8,95 197.9,96.9 196,98.8 194,100.1 192.1,100.6 190.1,99.9 188.2,98.4 186.2,96.3 184.3,94.3 182.3,92.8 180.4,92.3 178.5,92.8 176.5,94.2 174.6,96.1 172.6,98 170.7,99.4 168.7,99.8 166.8,99.1 164.8,97.5 162.9,95.5 161,93.4 159,92 157.1,91.5 155.1,92 153.2,93.4 151.2,95.3 149.3,96.7 147.3,97.6 145.4,97.5" fill="rgb(78,78,192)" fill-opacity="0.22"/>
<polygon points="145.4,109.2 147.3,107.9 149.3,107 151.2,106.8 153.2,108.2 155.1,109.1 157.1,109.2 159,108.5 161,107.2 162.9,105.7 164.8,104.4 166.8,103.6 168.7,103.6 170.7,104.4 172.6,105.8 174.6,107.4 176.5,108.8 178.5,109.7 180.4,109.8 182.3,109.1 184.3,107.8 186.2,106.3 188.2,105 190.1,104.2 192.1,104.2 194,105 196,106.4 197.9,108 199.8,109.4 201.8,110.3 203.7,110.4 205.7,109.7 207.6,108.4 209.6,106.9 211.5,105.8 213.5,107.5 215.4,110.3 215.4,114 213.5,115.5 211.5,116.3 209.6,115.1 207.6,114 205.7,113.6 203.7,114 201.8,115.1 199.8,116.6 197.9,118.1 196,119.1 194,119.4 192.1,118.8 190.1,117.6 188.2,116 186.2,114.5 184.3,113.4 182.3,113 180.4,113.4 178.5,114.5 176.5,116 174.6,117.5 172.6,118.5 170.7,118.7 168.7,118.2 166.8,117 164.8,115.4 162.9,113.8 161,112.7 159,112.4 157.1,112.8 155.1,114 153.2,115.4 151.2,116.8 149.3,116 147.3,114 145.4,111.4" fill="rgb(60,160,175)" fill-opacity="0.38"/>
<polygon points="145.4,110.6 147.3,112 149.3,112.8 151.2,112.7 153.2,112 155.1,110.5 157.1,108.6 159,106.8 161,105.5 162.9,105.3 164.8,106 166.8,107.6 168.7,109.7 170.7,111.6 172.6,112.9 174.6,113.3 176.5,112.6 178.5,111.1 180.4,109.2 182.3,107.3 184.3,106.1 186.2,105.9 188.2,106.7 190.1,108.3 192.1,110.3 194,112.2 196,113.5 197.9,113.9 199.8,113.2 201.8,111.7 203.7,109.7 205.7,107.9 207.6,106.7 209.6,106.5 211.5,107.4 213.5,109.7 215.4,112.3 215.4,113.2 213.5,111.8 211.5,110.8 209.6,110.1 207.6,110.4 205.7,111.6 203.7,113.4 201.8,115.3 199.8,116.8 197.9,117.5 196,117.2 194,115.9 192.1,114 190.1,111.9 188.2,110.3 186.2,109.5 184.3,109.8 182.3,111 180.4,112.8 178.5,114.7 176.5,116.2 174.6,116.9 172.6,116.6 170.7,115.2 168.7,113.3 166.8,111.3 164.8,109.7 162.9,108.9 161,109.2 159,110.4 157.1,112.2 155.1,114.2 153.2,115.7 151.2,116.3 149.3,115.4 147.3,113.6 145.4,111.1" fill="rgb(60,160,175)" fill-opacity="0.32"/>
<polygon points="145.4,110 147.3,108.3 149.3,106.4 151.2,104.7 153.2,104.1 155.1,104.2 157.1,105.1 159,106.6 161,108.2 162.9,109.6 164.8,110.3 166.8,110.3 168.7,109.4 170.7,108.1 172.6,106.6 174.6,105.3 176.5,104.7 178.5,104.8 180.4,105.8 182.3,107.2 184.3,108.9 186.2,110.2 188.2,110.9 190.1,110.9 192.1,110 194,108.7 196,107.1 197.9,105.9 199.8,105.3 201.8,105.4 203.7,106.4 205.7,107.9 207.6,109.5 209.6,110.8 211.5,111.6 213.5,112 215.4,111.6 215.4,112.3 213.5,113.7 211.5,114.2 209.6,113.6 207.6,112.2 205.7,110.6 203.7,109.1 201.8,108.2 199.8,108 197.9,108.6 196,109.9 194,111.4 192.1,112.8 190.1,113.6 188.2,113.7 186.2,113 184.3,111.6 182.3,110 180.4,108.5 178.5,107.6 176.5,107.4 174.6,108 172.6,109.3 170.7,110.8 168.7,112.2 166.8,113 164.8,113.1 162.9,112.3 161,111 159,109.3 157.1,107.9 155.1,107 153.2,106.8 151.2,107.4 149.3,108.3 147.3,109.4 145.4,110.4" fill="rgb(60,160,175)" fill-opacity="0.22"/>
<line x1="141.4" y1="87.5" x2="168.3" y2="87.5" stroke="#333" stroke-width="0.6" stroke-dasharray="1,1"/>
<text x="139.9" y="90.3" font-size="8" fill="#222" text-anchor="end" font-family="Liberation Serif" >−0.58</text>
<circle cx="168.3" cy="87.5" r="1.5" fill="#000"/>
<circle cx="179.3" cy="91" r="1.5" fill="#000"/>
<circle cx="191.7" cy="86.8" r="1.5" fill="#000"/>
<circle cx="203.8" cy="88.9" r="1.5" fill="#000"/>
<text x="179.4" y="21.5" font-size="10" fill="#222" text-anchor="middle" font-family="Liberation Serif" ><tspan font-style="italic">k</tspan><tspan font-size="7" dy="2" font-style="italic">z</tspan><tspan dy="-2"> = 0.72</tspan></text>
<line x1="143.4" y1="125" x2="165.4" y2="132" stroke="#999" stroke-width="0.6"/>
<line x1="165.4" y1="132" x2="215.4" y2="129" stroke="#999" stroke-width="0.6"/>
<text x="140.3" y="134" font-size="9.5" fill="#222" text-anchor="middle" font-family="Liberation Serif" >2π</text>
<text x="153.2" y="138" font-size="9.5" fill="#222" text-anchor="middle" font-family="Liberation Serif" >π</text>
<text x="166" y="141" font-size="9.5" fill="#222" text-anchor="middle" font-family="Liberation Serif" >0</text>
<text x="190.5" y="138" font-size="9.5" fill="#222" text-anchor="middle" font-family="Liberation Serif" >π</text>
<text x="212.7" y="138" font-size="9.5" fill="#222" text-anchor="middle" font-family="Liberation Serif" >2π</text>
<text x="148.5" y="147" font-size="10" fill="#222" text-anchor="middle" font-family="Liberation Serif" font-style="italic" >k</text>
<text x="199.7" y="147" font-size="10" fill="#222" text-anchor="middle" font-family="Liberation Serif" font-style="italic" >k<tspan font-size="7" dy="1.5">x</tspan></text>
</g>
<rect x="34" y="186" width="92" height="134" fill="#fff"/>
<clipPath id="bp3"><rect x="34" y="186" width="92" height="134"/></clipPath><g clip-path="url(#bp3)">
<line x1="71.2" y1="204" x2="71.2" y2="298" stroke="#e6e6e6" stroke-width="0.6"/>
<line x1="93.2" y1="204" x2="93.2" y2="298" stroke="#e6e6e6" stroke-width="0.6"/>
<line x1="114.2" y1="204" x2="114.2" y2="298" stroke="#e6e6e6" stroke-width="0.6"/>
<line x1="46.2" y1="200" x2="46.2" y2="298" stroke="#c4c4c4" stroke-width="1.5"/>
<text x="41.7" y="212.5" font-size="10" fill="#222" text-anchor="end" font-family="Liberation Serif" >2</text>
<line x1="44.2" y1="209" x2="46.2" y2="209" stroke="#444" stroke-width="0.6"/>
<text x="41.7" y="230.5" font-size="10" fill="#222" text-anchor="end" font-family="Liberation Serif" >1</text>
<line x1="44.2" y1="227" x2="46.2" y2="227" stroke="#444" stroke-width="0.6"/>
<text x="41.7" y="252.5" font-size="10" fill="#222" text-anchor="end" font-family="Liberation Serif" >0</text>
<line x1="44.2" y1="249" x2="46.2" y2="249" stroke="#444" stroke-width="0.6"/>
<text x="41.7" y="271.3" font-size="10" fill="#222" text-anchor="end" font-family="Liberation Serif" >−1</text>
<line x1="44.2" y1="267.8" x2="46.2" y2="267.8" stroke="#444" stroke-width="0.6"/>
<text x="41.7" y="291" font-size="10" fill="#222" text-anchor="end" font-family="Liberation Serif" >−2</text>
<line x1="44.2" y1="287.5" x2="46.2" y2="287.5" stroke="#444" stroke-width="0.6"/>
<polygon points="48.2,212 50.1,210.2 52.1,208.3 54,206.8 56,207.9 57.9,209.5 59.9,211.1 61.8,212.3 63.8,212.8 65.7,212.4 67.6,211.3 69.6,209.7 71.5,208.2 73.5,207.1 75.4,206.8 77.4,207.3 79.3,208.5 81.3,210.2 83.2,211.8 85.1,213 87.1,213.4 89,213 91,211.9 92.9,210.3 94.9,208.8 96.8,207.7 98.8,207.4 100.7,207.9 102.6,209.2 104.6,210.8 106.5,212.5 108.5,213.6 110.4,214.1 112.4,213.6 114.3,212.6 116.3,212.4 118.2,213.3 118.2,215.9 116.3,216.8 114.3,217.3 112.4,217.4 110.4,218.1 108.5,219.5 106.5,221.1 104.6,222.4 102.6,223.2 100.7,223.2 98.8,222.3 96.8,220.8 94.9,219.2 92.9,217.7 91,216.8 89,216.7 87.1,217.5 85.1,218.9 83.2,220.5 81.3,221.8 79.3,222.6 77.4,222.5 75.4,221.7 73.5,220.2 71.5,218.5 69.6,217 67.6,216.2 65.7,216.1 63.8,216.9 61.8,218.3 59.9,219.9 57.9,221.2 56,222 54,221.8 52.1,218.8 50.1,215.8 48.2,213.5" fill="rgb(190,80,90)" fill-opacity="0.38"/>
<polygon points="48.2,210 50.1,210.8 52.1,212.3 54,213.9 56,215.5 57.9,216.3 59.9,216 61.8,214.8 63.8,212.9 65.7,210.9 67.6,209.3 69.6,208.6 71.5,209 73.5,210.4 75.4,212.4 77.4,214.5 79.3,216.2 81.3,216.9 83.2,216.7 85.1,215.4 87.1,213.5 89,211.5 91,209.9 92.9,209.3 94.9,209.7 96.8,211.1 98.8,213.1 100.7,215.2 102.6,216.8 104.6,217.6 106.5,217.3 108.5,216 110.4,214.1 112.4,212.1 114.3,210.7 116.3,210.7 118.2,211.7 118.2,212.7 116.3,212.9 114.3,214.2 112.4,215.9 110.4,217.9 108.5,219.8 106.5,221.1 104.6,221.4 102.6,220.6 100.7,219 98.8,216.8 96.8,214.8 94.9,213.5 92.9,213.1 91,213.7 89,215.3 87.1,217.3 85.1,219.2 83.2,220.5 81.3,220.7 79.3,220 77.4,218.3 75.4,216.2 73.5,214.2 71.5,212.8 69.6,212.4 67.6,213.1 65.7,214.7 63.8,216.7 61.8,218.6 59.9,219.8 57.9,220.1 56,219.3 54,217.6 52.1,215 50.1,212.4 48.2,210.6" fill="rgb(190,80,90)" fill-opacity="0.32"/>
<polygon points="48.2,214.3 50.1,214.2 52.1,213.2 54,211.6 56,210 57.9,208.5 59.9,207.6 61.8,207.4 63.8,208.1 65.7,209.4 67.6,211.1 69.6,212.6 71.5,213.7 73.5,214 75.4,213.4 77.4,212.2 79.3,210.6 81.3,209.1 83.2,208.2 85.1,208 87.1,208.7 89,210.1 91,211.7 92.9,213.3 94.9,214.3 96.8,214.6 98.8,214 100.7,212.8 102.6,211.2 104.6,209.7 106.5,208.8 108.5,208.7 110.4,209.4 112.4,210.7 114.3,212.5 116.3,214.5 118.2,216.1 118.2,216.8 116.3,216.2 114.3,215.2 112.4,213.6 110.4,212.2 108.5,211.5 106.5,211.7 104.6,212.6 102.6,214 100.7,215.6 98.8,216.9 96.8,217.5 94.9,217.2 92.9,216.1 91,214.6 89,212.9 87.1,211.6 85.1,210.9 83.2,211 81.3,212 79.3,213.4 77.4,215 75.4,216.3 73.5,216.8 71.5,216.5 69.6,215.5 67.6,213.9 65.7,212.2 63.8,210.9 61.8,210.2 59.9,210.4 57.9,211.4 56,212.8 54,214.4 52.1,215.2 50.1,215.4 48.2,214.7" fill="rgb(190,80,90)" fill-opacity="0.22"/>
<polygon points="48.2,228.9 50.1,227.4 52.1,226.5 54,226.3 56,227.8 57.9,228.8 59.9,228.8 61.8,228 63.8,226.5 65.7,224.8 67.6,223.3 69.6,222.5 71.5,222.6 73.5,223.5 75.4,225.1 77.4,226.9 79.3,228.5 81.3,229.4 83.2,229.5 85.1,228.6 87.1,227.1 89,225.4 91,224 92.9,223.2 94.9,223.3 96.8,224.2 98.8,225.8 100.7,227.7 102.6,229.2 104.6,230.1 106.5,230.1 108.5,229.3 110.4,227.8 112.4,226.1 114.3,225 116.3,226.9 118.2,230.1 118.2,234.2 116.3,236 114.3,237 112.4,235.6 110.4,234.3 108.5,233.7 106.5,234.1 104.6,235.3 102.6,237 100.7,238.6 98.8,239.8 96.8,240.2 94.9,239.7 92.9,238.4 91,236.6 89,234.8 87.1,233.6 85.1,233.1 83.2,233.5 81.3,234.7 79.3,236.3 77.4,238 75.4,239.1 73.5,239.5 71.5,239 69.6,237.7 67.6,235.9 65.7,234.1 63.8,232.9 61.8,232.4 59.9,232.8 57.9,234 56,235.7 54,237.2 52.1,236.4 50.1,234.3 48.2,231.3" fill="rgb(185,85,180)" fill-opacity="0.38"/>
<polygon points="48.2,230.6 50.1,232.1 52.1,233 54,232.7 56,231.9 57.9,230.1 59.9,228 61.8,226 63.8,224.7 65.7,224.5 67.6,225.4 69.6,227.3 71.5,229.6 73.5,231.7 75.4,233.1 77.4,233.4 79.3,232.5 81.3,230.8 83.2,228.6 85.1,226.6 87.1,225.3 89,225.2 91,226.1 92.9,228 94.9,230.3 96.8,232.4 98.8,233.8 100.7,234 102.6,233.2 104.6,231.4 106.5,229.2 108.5,227.3 110.4,226 112.4,225.8 114.3,226.9 116.3,229.5 118.2,232.5 118.2,233.6 116.3,232 114.3,230.8 112.4,229.9 110.4,230.1 108.5,231.3 106.5,233.3 104.6,235.5 102.6,237.3 100.7,238.1 98.8,237.8 96.8,236.5 94.9,234.4 92.9,232.1 91,230.2 89,229.2 87.1,229.4 85.1,230.7 83.2,232.7 81.3,234.8 79.3,236.6 77.4,237.4 75.4,237.1 73.5,235.8 71.5,233.6 69.6,231.4 67.6,229.5 65.7,228.6 63.8,228.8 61.8,230 59.9,232 57.9,234.2 56,235.9 54,236.7 52.1,235.8 50.1,233.9 48.2,231.2" fill="rgb(185,85,180)" fill-opacity="0.32"/>
<polygon points="48.2,229.6 50.1,227.7 52.1,225.5 54,223.7 56,223.1 57.9,223.3 59.9,224.4 61.8,226.1 63.8,227.9 65.7,229.4 67.6,230.1 69.6,230 71.5,229 73.5,227.4 75.4,225.7 77.4,224.4 79.3,223.7 81.3,224 83.2,225.1 85.1,226.8 87.1,228.6 89,230.1 91,230.8 92.9,230.7 94.9,229.6 96.8,228.1 98.8,226.4 100.7,225 102.6,224.4 104.6,224.7 106.5,225.8 108.5,227.5 110.4,229.3 112.4,230.8 114.3,231.6 116.3,231.9 118.2,231.5 118.2,232.2 116.3,233.8 114.3,234.5 112.4,233.8 110.4,232.4 108.5,230.6 106.5,228.9 104.6,227.8 102.6,227.5 100.7,228.1 98.8,229.4 96.8,231.1 94.9,232.7 92.9,233.7 91,233.9 89,233.1 87.1,231.7 85.1,229.9 83.2,228.2 81.3,227.1 79.3,226.8 77.4,227.4 75.4,228.8 73.5,230.5 71.5,232.1 69.6,233 67.6,233.2 65.7,232.4 63.8,231 61.8,229.1 59.9,227.5 57.9,226.4 56,226.1 54,226.8 52.1,227.7 50.1,229 48.2,230.1" fill="rgb(185,85,180)" fill-opacity="0.22"/>
<polygon points="48.2,245.7 50.1,244.5 52.1,243.8 54,243.7 56,244.9 57.9,245.5 59.9,245.2 61.8,244.1 63.8,242.6 65.7,241 67.6,239.9 69.6,239.4 71.5,239.8 73.5,241 75.4,242.6 77.4,244.3 79.3,245.6 81.3,246.1 83.2,245.8 85.1,244.7 87.1,243.2 89,241.6 91,240.5 92.9,240.1 94.9,240.5 96.8,241.7 98.8,243.3 100.7,245 102.6,246.2 104.6,246.7 106.5,246.4 108.5,245.3 110.4,243.8 112.4,242.3 114.3,241.5 116.3,243.7 118.2,246.9 118.2,250.7 116.3,252.6 114.3,253.7 112.4,252.3 110.4,250.9 108.5,250.1 106.5,250.1 104.6,251 102.6,252.4 100.7,254 98.8,255.3 96.8,256 94.9,255.9 92.9,254.9 91,253.4 89,251.7 87.1,250.2 85.1,249.5 83.2,249.5 81.3,250.4 79.3,251.8 77.4,253.4 75.4,254.7 73.5,255.4 71.5,255.2 69.6,254.2 67.6,252.7 65.7,251 63.8,249.6 61.8,248.8 59.9,248.9 57.9,249.7 56,251.2 54,252.7 52.1,252.3 50.1,250.6 48.2,248" fill="rgb(128,76,192)" fill-opacity="0.38"/>
<polygon points="48.2,247.9 50.1,249.1 52.1,249.5 54,248.9 56,247.7 57.9,245.8 59.9,243.8 61.8,242.1 63.8,241.3 65.7,241.6 67.6,242.8 69.6,244.8 71.5,246.9 73.5,248.7 75.4,249.6 77.4,249.5 79.3,248.3 81.3,246.4 83.2,244.4 85.1,242.8 87.1,242 89,242.2 91,243.5 92.9,245.5 94.9,247.6 96.8,249.4 98.8,250.3 100.7,250.1 102.6,248.9 104.6,247 106.5,245 108.5,243.4 110.4,242.6 112.4,242.9 114.3,244.3 116.3,246.9 118.2,249.7 118.2,250.7 116.3,249.2 114.3,247.9 112.4,246.7 110.4,246.4 108.5,247.2 106.5,248.8 104.6,250.9 102.6,252.7 100.7,253.9 98.8,254.1 96.8,253.2 94.9,251.4 92.9,249.3 91,247.3 89,246 87.1,245.8 85.1,246.6 83.2,248.2 81.3,250.3 79.3,252.1 77.4,253.3 75.4,253.4 73.5,252.5 71.5,250.8 69.6,248.6 67.6,246.7 65.7,245.4 63.8,245.1 61.8,246 59.9,247.6 57.9,249.7 56,251.5 54,252.6 52.1,252.2 50.1,250.8 48.2,248.5" fill="rgb(128,76,192)" fill-opacity="0.32"/>
<polygon points="48.2,245.6 50.1,243.7 52.1,241.8 54,240.3 56,240 57.9,240.6 59.9,241.9 61.8,243.5 63.8,245.2 65.7,246.3 67.6,246.7 69.6,246.2 71.5,245 73.5,243.5 75.4,242 77.4,240.9 79.3,240.7 81.3,241.2 83.2,242.5 85.1,244.2 87.1,245.8 89,247 91,247.3 92.9,246.8 94.9,245.6 96.8,244.1 98.8,242.6 100.7,241.5 102.6,241.3 104.6,241.9 106.5,243.2 108.5,244.9 110.4,246.5 112.4,247.6 114.3,248 116.3,248 118.2,247.3 118.2,248 116.3,249.7 114.3,250.7 112.4,250.5 110.4,249.3 108.5,247.7 106.5,246.1 104.6,244.8 102.6,244.2 100.7,244.4 98.8,245.4 96.8,246.9 94.9,248.5 92.9,249.7 91,250.2 89,249.8 87.1,248.7 85.1,247.1 83.2,245.4 81.3,244.1 79.3,243.5 77.4,243.8 75.4,244.8 73.5,246.3 71.5,247.9 69.6,249.1 67.6,249.5 65.7,249.2 63.8,248 61.8,246.4 59.9,244.7 57.9,243.4 56,242.9 54,243.1 52.1,243.8 50.1,244.9 48.2,246.1" fill="rgb(128,76,192)" fill-opacity="0.22"/>
<polygon points="48.2,270.6 50.1,270 52.1,269.6 54,269.2 56,268.6 57.9,267.6 59.9,266.3 61.8,265.3 63.8,264.7 65.7,264.7 67.6,265.4 69.6,266.5 71.5,267.7 73.5,268.9 75.4,269.5 77.4,269.6 79.3,269 81.3,268 83.2,266.8 85.1,265.8 87.1,265.2 89,265.2 91,265.8 92.9,267 94.9,268.2 96.8,269.4 98.8,270 100.7,270.1 102.6,269.5 104.6,268.5 106.5,267.3 108.5,266.2 110.4,265.6 112.4,265.7 114.3,266.7 116.3,269.5 118.2,271.7 118.2,273.6 116.3,275.4 114.3,277.3 112.4,277.2 110.4,276.3 108.5,275.1 106.5,273.8 104.6,272.9 102.6,272.6 100.7,272.9 98.8,273.8 96.8,275 94.9,276.1 92.9,276.9 91,277.2 89,276.8 87.1,275.8 85.1,274.6 83.2,273.3 81.3,272.4 79.3,272.1 77.4,272.4 75.4,273.3 73.5,274.5 71.5,275.6 69.6,276.4 67.6,276.7 65.7,276.3 63.8,275.3 61.8,274.1 59.9,272.8 57.9,271.9 56,271.6 54,272 52.1,272.3 50.1,272.4 48.2,271.8" fill="rgb(78,78,192)" fill-opacity="0.38"/>
<polygon points="48.2,273.1 50.1,272.2 52.1,270.6 54,268.6 56,267.2 57.9,266.2 59.9,266.1 61.8,266.7 63.8,268 65.7,269.6 67.6,271.1 69.6,272.1 71.5,272.3 73.5,271.8 75.4,270.6 77.4,269.1 79.3,267.6 81.3,266.7 83.2,266.5 85.1,267.2 87.1,268.5 89,270.1 91,271.6 92.9,272.6 94.9,272.8 96.8,272.3 98.8,271 100.7,269.5 102.6,268.1 104.6,267.2 106.5,267 108.5,267.7 110.4,269 112.4,270.6 114.3,272.2 116.3,273.7 118.2,274.4 118.2,275.1 116.3,275.4 114.3,274.9 112.4,273.5 110.4,271.9 108.5,270.6 106.5,269.9 104.6,270.1 102.6,271 100.7,272.4 98.8,273.9 96.8,275.1 94.9,275.7 92.9,275.5 91,274.5 89,273 87.1,271.3 85.1,270.1 83.2,269.4 81.3,269.6 79.3,270.5 77.4,271.9 75.4,273.5 73.5,274.7 71.5,275.2 69.6,275 67.6,274 65.7,272.4 63.8,270.8 61.8,269.6 59.9,268.9 57.9,269.1 56,270.1 54,271.5 52.1,272.6 50.1,273.4 48.2,273.5" fill="rgb(78,78,192)" fill-opacity="0.32"/>
<polygon points="48.2,266.5 50.1,265.7 52.1,265.5 54,266 56,267.1 57.9,268.4 59.9,269.5 61.8,270 63.8,270 65.7,269.3 67.6,268.2 69.6,267 71.5,266 73.5,265.6 75.4,265.7 77.4,266.5 79.3,267.6 81.3,268.9 83.2,270 85.1,270.5 87.1,270.4 89,269.8 91,268.7 92.9,267.5 94.9,266.5 96.8,266 98.8,266.2 100.7,267 102.6,268.1 104.6,269.4 106.5,270.5 108.5,271 110.4,270.9 112.4,270.2 114.3,269.2 116.3,268.4 118.2,267.8 118.2,268.3 116.3,269.7 114.3,271.2 112.4,272.4 110.4,273.1 108.5,273.2 106.5,272.6 104.6,271.6 102.6,270.3 100.7,269.1 98.8,268.4 96.8,268.2 94.9,268.7 92.9,269.6 91,270.8 89,271.9 87.1,272.6 85.1,272.7 83.2,272.1 81.3,271.1 79.3,269.8 77.4,268.6 75.4,267.9 73.5,267.7 71.5,268.2 69.6,269.2 67.6,270.4 65.7,271.5 63.8,272.1 61.8,272.2 59.9,271.6 57.9,270.6 56,269.3 54,268.1 52.1,267.1 50.1,266.6 48.2,266.8" fill="rgb(78,78,192)" fill-opacity="0.22"/>
<polygon points="48.2,288.3 50.1,286.8 52.1,284.8 54,282.3 56,281.4 57.9,281.4 59.9,282.3 61.8,283.8 63.8,285.5 65.7,287 67.6,287.9 69.6,287.9 71.5,287.2 73.5,285.8 75.4,284.2 77.4,282.8 79.3,282 81.3,282.1 83.2,282.9 85.1,284.4 87.1,286.1 89,287.6 91,288.5 92.9,288.6 94.9,287.8 96.8,286.4 98.8,284.8 100.7,283.4 102.6,282.6 104.6,282.7 106.5,283.6 108.5,285.1 110.4,286.8 112.4,288.3 114.3,289.3 116.3,289.9 118.2,290 118.2,291 116.3,292.2 114.3,293.9 112.4,295.6 110.4,297.2 108.5,298.3 106.5,298.6 104.6,298.1 102.6,296.9 100.7,295.2 98.8,293.6 96.8,292.4 94.9,291.9 92.9,292.3 91,293.5 89,295 87.1,296.6 85.1,297.7 83.2,298 81.3,297.5 79.3,296.2 77.4,294.6 75.4,292.9 73.5,291.7 71.5,291.3 69.6,291.7 67.6,292.9 65.7,294.4 63.8,295.9 61.8,297 59.9,297.4 57.9,296.8 56,295.6 54,293.8 52.1,291 50.1,289.4 48.2,288.9" fill="rgb(60,160,175)" fill-opacity="0.38"/>
<polygon points="48.2,286.3 50.1,284.5 52.1,283.8 54,284.1 56,285.8 57.9,287.9 59.9,289.9 61.8,291.3 63.8,291.6 65.7,290.8 67.6,289.2 69.6,287.2 71.5,285.3 73.5,284 75.4,283.8 77.4,284.7 79.3,286.4 81.3,288.6 83.2,290.6 85.1,291.9 87.1,292.2 89,291.4 91,289.8 92.9,287.8 94.9,285.9 96.8,284.7 98.8,284.5 100.7,285.4 102.6,287.1 104.6,289.3 106.5,291.3 108.5,292.6 110.4,292.8 112.4,292.1 114.3,290.5 116.3,289.1 118.2,287.9 118.2,288.9 116.3,291.4 114.3,294.1 112.4,295.9 110.4,296.7 108.5,296.4 106.5,295.1 104.6,293.1 102.6,291 100.7,289.2 98.8,288.3 96.8,288.5 94.9,289.7 92.9,291.6 91,293.6 89,295.3 87.1,296.1 85.1,295.7 83.2,294.4 81.3,292.4 79.3,290.3 77.4,288.6 75.4,287.7 73.5,287.9 71.5,289.1 69.6,291 67.6,293 65.7,294.7 63.8,295.4 61.8,295.1 59.9,293.8 57.9,291.8 56,289.6 54,287.9 52.1,286.5 50.1,286.2 48.2,286.9" fill="rgb(60,160,175)" fill-opacity="0.32"/>
<polygon points="48.2,285.9 50.1,287.2 52.1,288.2 54,288.5 56,288.4 57.9,287.5 59.9,286 61.8,284.4 63.8,283.2 65.7,282.5 67.6,282.7 69.6,283.8 71.5,285.3 73.5,287 75.4,288.4 77.4,289.2 79.3,289 81.3,288.1 83.2,286.7 85.1,285.1 87.1,283.8 89,283.2 91,283.4 92.9,284.4 94.9,286 96.8,287.7 98.8,289.1 100.7,289.8 102.6,289.7 104.6,288.7 106.5,287.3 108.5,285.7 110.4,284.4 112.4,283.8 114.3,284.1 116.3,285.7 118.2,287.7 118.2,288.5 116.3,287.4 114.3,286.8 112.4,286.7 110.4,287.3 108.5,288.6 106.5,290.1 104.6,291.6 102.6,292.5 100.7,292.7 98.8,292 96.8,290.6 94.9,288.9 92.9,287.3 91,286.3 89,286 87.1,286.7 85.1,287.9 83.2,289.5 81.3,291 79.3,291.9 77.4,292 75.4,291.3 73.5,289.9 71.5,288.2 69.6,286.6 67.6,285.6 65.7,285.4 63.8,286 61.8,287.3 59.9,288.9 57.9,290.4 56,291.3 54,291.4 52.1,290.2 50.1,288.4 48.2,286.3" fill="rgb(60,160,175)" fill-opacity="0.22"/>
<line x1="44.2" y1="238.3" x2="70.2" y2="238.3" stroke="#333" stroke-width="0.6" stroke-dasharray="1,1"/>
<text x="42.7" y="241.1" font-size="8" fill="#222" text-anchor="end" font-family="Liberation Serif" >−0.58</text>
<circle cx="70.2" cy="238.3" r="1.5" fill="#000"/>
<circle cx="81.7" cy="241.9" r="1.5" fill="#000"/>
<circle cx="94.4" cy="237" r="1.5" fill="#000"/>
<circle cx="105.9" cy="240.2" r="1.5" fill="#000"/>
<text x="85.5" y="196" font-size="10" fill="#222" text-anchor="middle" font-family="Liberation Serif" ><tspan font-style="italic">k</tspan><tspan font-size="7" dy="2" font-style="italic">z</tspan><tspan dy="-2"> = 3.26 + </tspan><tspan font-style="italic">k</tspan><tspan font-size="7" dy="2.5" font-style="italic">z</tspan><tspan font-size="6.5" dx="-3.5" dy="-7" font-style="italic">δ</tspan></text>
<line x1="46.2" y1="299" x2="68.2" y2="306" stroke="#999" stroke-width="0.6"/>
<line x1="68.2" y1="306" x2="118.2" y2="303" stroke="#999" stroke-width="0.6"/>
<text x="43" y="308" font-size="9.5" fill="#222" text-anchor="middle" font-family="Liberation Serif" >2π</text>
<text x="56.4" y="311" font-size="9.5" fill="#222" text-anchor="middle" font-family="Liberation Serif" >π</text>
<text x="68.5" y="314.5" font-size="9.5" fill="#222" text-anchor="middle" font-family="Liberation Serif" >0</text>
<text x="93.4" y="311" font-size="9.5" fill="#222" text-anchor="middle" font-family="Liberation Serif" >π</text>
<text x="116.3" y="311" font-size="9.5" fill="#222" text-anchor="middle" font-family="Liberation Serif" >2π</text>
<text x="51.5" y="320" font-size="10" fill="#222" text-anchor="middle" font-family="Liberation Serif" font-style="italic" >k</text>
<text x="103.5" y="320" font-size="10" fill="#222" text-anchor="middle" font-family="Liberation Serif" font-style="italic" >k<tspan font-size="7" dy="1.5">x</tspan></text>
</g>
<rect x="131" y="186" width="93" height="134" fill="#fff"/>
<clipPath id="bp4"><rect x="131" y="186" width="93" height="134"/></clipPath><g clip-path="url(#bp4)">
<line x1="168.4" y1="204" x2="168.4" y2="298" stroke="#e6e6e6" stroke-width="0.6"/>
<line x1="190.4" y1="204" x2="190.4" y2="298" stroke="#e6e6e6" stroke-width="0.6"/>
<line x1="211.4" y1="204" x2="211.4" y2="298" stroke="#e6e6e6" stroke-width="0.6"/>
<line x1="143.4" y1="200" x2="143.4" y2="298" stroke="#c4c4c4" stroke-width="1.5"/>
<text x="138.9" y="212.5" font-size="10" fill="#222" text-anchor="end" font-family="Liberation Serif" >2</text>
<line x1="141.4" y1="209" x2="143.4" y2="209" stroke="#444" stroke-width="0.6"/>
<text x="138.9" y="231.5" font-size="10" fill="#222" text-anchor="end" font-family="Liberation Serif" >1</text>
<line x1="141.4" y1="228" x2="143.4" y2="228" stroke="#444" stroke-width="0.6"/>
<text x="138.9" y="252.5" font-size="10" fill="#222" text-anchor="end" font-family="Liberation Serif" >0</text>
<line x1="141.4" y1="249" x2="143.4" y2="249" stroke="#444" stroke-width="0.6"/>
<text x="138.9" y="271.3" font-size="10" fill="#222" text-anchor="end" font-family="Liberation Serif" >−1</text>
<line x1="141.4" y1="267.8" x2="143.4" y2="267.8" stroke="#444" stroke-width="0.6"/>
<text x="138.9" y="291.1" font-size="10" fill="#222" text-anchor="end" font-family="Liberation Serif" >−2</text>
<line x1="141.4" y1="287.6" x2="143.4" y2="287.6" stroke="#444" stroke-width="0.6"/>
<polygon points="145.4,206.1 147.3,204.8 149.3,203.8 151.2,203.5 153.2,204.8 155.1,206 157.1,206.5 159,206.3 161,205.4 162.9,204.1 164.8,202.7 166.8,201.6 168.7,201.2 170.7,201.6 172.6,202.5 174.6,204 176.5,205.4 178.5,206.5 180.4,207.1 182.3,206.8 184.3,205.9 186.2,204.6 188.2,203.2 190.1,202.2 192.1,201.8 194,202.1 196,203.1 197.9,204.5 199.8,206 201.8,207.1 203.7,207.6 205.7,207.4 207.6,206.4 209.6,205.1 211.5,204 213.5,205 215.4,207.2 215.4,210.4 213.5,211.7 211.5,212.2 209.6,211.2 207.6,210.5 205.7,210.6 203.7,211.4 201.8,212.6 199.8,214 197.9,215.2 196,215.7 194,215.6 192.1,214.7 190.1,213.3 188.2,211.9 186.2,210.6 184.3,210 182.3,210.1 180.4,210.8 178.5,212.1 176.5,213.5 174.6,214.6 172.6,215.2 170.7,215 168.7,214.1 166.8,212.8 164.8,211.3 162.9,210.1 161,209.4 159,209.5 157.1,210.3 155.1,211.6 153.2,212.9 151.2,214 149.3,212.8 147.3,210.6 145.4,208.1" fill="rgb(190,80,90)" fill-opacity="0.38"/>
<polygon points="145.4,206.7 147.3,208.1 149.3,209.2 151.2,209.6 153.2,209.5 155.1,208.5 157.1,206.9 159,205.1 161,203.7 162.9,202.9 164.8,203.1 166.8,204.1 168.7,205.8 170.7,207.7 172.6,209.3 174.6,210.1 176.5,210 178.5,209 180.4,207.4 182.3,205.7 184.3,204.2 186.2,203.4 188.2,203.6 190.1,204.7 192.1,206.4 194,208.3 196,209.8 197.9,210.7 199.8,210.6 201.8,209.6 203.7,208 205.7,206.2 207.6,204.7 209.6,204 211.5,204.3 213.5,206 215.4,208.3 215.4,209.1 213.5,208 211.5,207.4 209.6,207.3 207.6,208.1 205.7,209.5 203.7,211.3 201.8,212.9 199.8,213.9 197.9,214 196,213.2 194,211.6 192.1,209.8 190.1,208.1 188.2,207 186.2,206.8 184.3,207.5 182.3,209 180.4,210.8 178.5,212.4 176.5,213.4 174.6,213.5 172.6,212.6 170.7,211 168.7,209.2 166.8,207.5 164.8,206.4 162.9,206.2 161,207 159,208.5 157.1,210.2 155.1,211.8 153.2,212.8 151.2,212.9 149.3,211.5 147.3,209.5 145.4,207.2" fill="rgb(190,80,90)" fill-opacity="0.32"/>
<polygon points="145.4,207.7 147.3,206.4 149.3,204.7 151.2,203 153.2,202 155.1,201.7 157.1,202.2 159,203.3 161,204.7 162.9,206.2 164.8,207.2 166.8,207.6 168.7,207.2 170.7,206.2 172.6,204.8 174.6,203.5 176.5,202.6 178.5,202.3 180.4,202.8 182.3,203.9 184.3,205.3 186.2,206.7 188.2,207.8 190.1,208.1 192.1,207.7 194,206.7 196,205.4 197.9,204 199.8,203.1 201.8,202.8 203.7,203.3 205.7,204.5 207.6,205.9 209.6,207.3 211.5,208.4 213.5,209.2 215.4,209.2 215.4,209.8 213.5,210.7 211.5,210.8 209.6,209.8 207.6,208.4 205.7,207 203.7,205.8 201.8,205.3 199.8,205.6 197.9,206.5 196,207.9 194,209.2 192.1,210.2 190.1,210.6 188.2,210.3 186.2,209.2 184.3,207.8 182.3,206.4 180.4,205.3 178.5,204.8 176.5,205.1 174.6,206 172.6,207.3 170.7,208.7 168.7,209.7 166.8,210.1 164.8,209.7 162.9,208.7 161,207.2 159,205.8 157.1,204.7 155.1,204.2 153.2,204.5 151.2,205.4 149.3,206.4 147.3,207.4 145.4,208.1" fill="rgb(190,80,90)" fill-opacity="0.22"/>
<polygon points="145.4,230.7 147.3,229.2 149.3,227.8 151.2,227 153.2,228.4 155.1,229.9 157.1,231 159,231.4 161,231 162.9,229.9 164.8,228.4 166.8,227 168.7,226 170.7,225.8 172.6,226.3 174.6,227.5 176.5,229 178.5,230.5 180.4,231.6 182.3,232 184.3,231.5 186.2,230.5 188.2,229 190.1,227.6 192.1,226.6 194,226.3 196,226.9 197.9,228.1 199.8,229.6 201.8,231.1 203.7,232.2 205.7,232.6 207.6,232.1 209.6,231 211.5,229.8 213.5,230.1 215.4,231.9 215.4,235 213.5,236 211.5,236.4 209.6,235.8 207.6,235.6 205.7,236.3 203.7,237.6 201.8,239 199.8,240.4 197.9,241.1 196,241.1 194,240.3 192.1,239 190.1,237.4 188.2,236 186.2,235.2 184.3,235.1 182.3,235.7 180.4,237 178.5,238.5 176.5,239.8 174.6,240.5 172.6,240.5 170.7,239.7 168.7,238.4 166.8,236.8 164.8,235.4 162.9,234.6 161,234.5 159,235.2 157.1,236.4 155.1,237.9 153.2,239.2 151.2,239.8 149.3,237.8 147.3,235.1 145.4,232.5" fill="rgb(185,85,180)" fill-opacity="0.38"/>
<polygon points="145.4,230.1 147.3,231.5 149.3,233 151.2,234 153.2,234.7 155.1,234.4 157.1,233.2 159,231.4 161,229.5 162.9,228.1 164.8,227.5 166.8,227.9 168.7,229.2 170.7,231.1 172.6,233.1 174.6,234.6 176.5,235.3 178.5,235 180.4,233.7 182.3,231.9 184.3,230.1 186.2,228.7 188.2,228.1 190.1,228.5 192.1,229.8 194,231.7 196,233.7 197.9,235.2 199.8,235.9 201.8,235.5 203.7,234.3 205.7,232.5 207.6,230.6 209.6,229.2 211.5,228.8 213.5,229.8 215.4,231.8 215.4,232.7 213.5,231.9 211.5,232.1 209.6,232.8 207.6,234.2 205.7,236 203.7,237.8 201.8,239.1 199.8,239.4 197.9,238.8 196,237.2 194,235.3 192.1,233.4 190.1,232 188.2,231.6 186.2,232.2 184.3,233.6 182.3,235.5 180.4,237.3 178.5,238.5 176.5,238.8 174.6,238.1 172.6,236.6 170.7,234.6 168.7,232.8 166.8,231.4 164.8,231 162.9,231.6 161,233.1 159,234.9 157.1,236.7 155.1,237.9 153.2,238.2 151.2,237.5 149.3,235.5 147.3,233 145.4,230.6" fill="rgb(185,85,180)" fill-opacity="0.32"/>
<polygon points="145.4,233 147.3,232.1 149.3,230.5 151.2,228.7 153.2,227.3 155.1,226.5 157.1,226.3 159,227 161,228.3 162.9,229.8 164.8,231.3 166.8,232.3 168.7,232.5 170.7,231.9 172.6,230.7 174.6,229.2 176.5,227.9 178.5,227 180.4,226.9 182.3,227.6 184.3,228.9 186.2,230.5 188.2,231.9 190.1,232.9 192.1,233.1 194,232.5 196,231.3 197.9,229.8 199.8,228.5 201.8,227.6 203.7,227.5 205.7,228.2 207.6,229.5 209.6,231.1 211.5,232.6 213.5,234 215.4,234.7 215.4,235.3 213.5,235.6 211.5,235.1 209.6,233.7 207.6,232.2 205.7,230.9 203.7,230.2 201.8,230.3 199.8,231.1 197.9,232.5 196,234 194,235.1 192.1,235.7 190.1,235.5 188.2,234.6 186.2,233.1 184.3,231.6 182.3,230.3 180.4,229.6 178.5,229.7 176.5,230.6 174.6,231.9 172.6,233.4 170.7,234.6 168.7,235.1 166.8,234.9 164.8,234 162.9,232.5 161,230.9 159,229.7 157.1,229 155.1,229.1 153.2,230 151.2,231.3 149.3,232.4 147.3,233.2 145.4,233.4" fill="rgb(185,85,180)" fill-opacity="0.22"/>
<polygon points="145.4,248.8 147.3,247.8 149.3,246.7 151.2,244.8 153.2,243.1 155.1,241.5 157.1,240.4 159,240.2 161,240.8 162.9,242.3 164.8,244 166.8,245.8 168.7,246.9 170.7,247.3 172.6,246.7 174.6,245.4 176.5,243.8 178.5,242.2 180.4,241.1 182.3,240.9 184.3,241.5 186.2,243 188.2,244.8 190.1,246.5 192.1,247.6 194,248 196,247.4 197.9,246.1 199.8,244.4 201.8,242.8 203.7,241.8 205.7,241.6 207.6,242.2 209.6,243.7 211.5,245.8 213.5,248.9 215.4,250.6 215.4,252 213.5,254.2 211.5,257.2 209.6,258.5 207.6,258.5 205.7,257.7 203.7,256.2 201.8,254.4 199.8,252.8 197.9,251.7 196,251.5 194,252.2 192.1,253.6 190.1,255.3 188.2,256.8 186.2,257.8 184.3,257.9 182.3,257 180.4,255.5 178.5,253.7 176.5,252.1 174.6,251 172.6,250.8 170.7,251.6 168.7,253 166.8,254.7 164.8,256.2 162.9,257.1 161,257.2 159,256.3 157.1,254.8 155.1,253 153.2,251.4 151.2,250.3 149.3,249.6 147.3,249.7 145.4,249.7" fill="rgb(128,76,192)" fill-opacity="0.38"/>
<polygon points="145.4,250.3 147.3,247.6 149.3,244.9 151.2,242.8 153.2,242.1 155.1,242.7 157.1,244.3 159,246.5 161,248.7 162.9,250.4 164.8,251.1 166.8,250.7 168.7,249.2 170.7,247.1 172.6,245 174.6,243.4 176.5,242.8 178.5,243.4 180.4,245 182.3,247.2 184.3,249.4 186.2,251.1 188.2,251.8 190.1,251.3 192.1,249.8 194,247.8 196,245.6 197.9,244.1 199.8,243.5 201.8,244.1 203.7,245.7 205.7,247.9 207.6,250.2 209.6,251.8 211.5,252.6 213.5,252.8 215.4,252 215.4,253 213.5,255.3 211.5,256.5 209.6,255.9 207.6,254.2 205.7,252 203.7,249.8 201.8,248.2 199.8,247.6 197.9,248.2 196,249.7 194,251.8 192.1,253.9 190.1,255.4 188.2,255.9 186.2,255.2 184.3,253.5 182.3,251.3 180.4,249.1 178.5,247.5 176.5,246.9 174.6,247.5 172.6,249.1 170.7,251.2 168.7,253.3 166.8,254.8 164.8,255.2 162.9,254.5 161,252.8 159,250.6 157.1,248.4 155.1,246.8 153.2,246.2 151.2,246.8 149.3,247.8 147.3,249.4 145.4,250.9" fill="rgb(128,76,192)" fill-opacity="0.32"/>
<polygon points="145.4,242.2 147.3,242.6 149.3,243.6 151.2,245 153.2,246.7 155.1,247.7 157.1,247.9 159,247.2 161,245.8 162.9,244.1 164.8,242.5 166.8,241.6 168.7,241.5 170.7,242.4 172.6,243.9 174.6,245.7 176.5,247.4 178.5,248.4 180.4,248.6 182.3,247.8 184.3,246.4 186.2,244.7 188.2,243.2 190.1,242.3 192.1,242.2 194,243.1 196,244.6 197.9,246.4 199.8,248.1 201.8,249.1 203.7,249.2 205.7,248.5 207.6,247.1 209.6,245.4 211.5,243.9 213.5,243.6 215.4,244.1 215.4,244.8 213.5,245.4 211.5,246.8 209.6,248.4 207.6,250.1 205.7,251.5 203.7,252.3 201.8,252.1 199.8,251.1 197.9,249.5 196,247.7 194,246.1 192.1,245.3 190.1,245.3 188.2,246.2 186.2,247.8 184.3,249.5 182.3,250.9 180.4,251.6 178.5,251.4 176.5,250.4 174.6,248.8 172.6,247 170.7,245.4 168.7,244.6 166.8,244.7 164.8,245.6 162.9,247.1 161,248.8 159,250.2 157.1,250.9 155.1,250.8 153.2,249.7 151.2,248 149.3,245.8 147.3,243.9 145.4,242.6" fill="rgb(128,76,192)" fill-opacity="0.22"/>
<polygon points="145.4,264.7 147.3,263.7 149.3,262.5 151.2,260.6 153.2,259.1 155.1,257.9 157.1,257.3 159,257.4 161,258.4 162.9,259.8 164.8,261.4 166.8,262.7 168.7,263.4 170.7,263.3 172.6,262.5 174.6,261.1 176.5,259.6 178.5,258.4 180.4,257.8 182.3,258 184.3,259 186.2,260.4 188.2,262 190.1,263.3 192.1,264 194,263.9 196,263.1 197.9,261.7 199.8,260.2 201.8,259 203.7,258.4 205.7,258.6 207.6,259.6 209.6,261.1 211.5,262.9 213.5,265.2 215.4,266.2 215.4,267.3 213.5,269 211.5,271.5 209.6,272.9 207.6,273.4 205.7,273.1 203.7,272 201.8,270.5 199.8,268.9 197.9,267.7 196,267.1 194,267.4 192.1,268.3 190.1,269.7 188.2,271.2 186.2,272.3 184.3,272.8 182.3,272.4 180.4,271.4 178.5,269.9 176.5,268.3 174.6,267.1 172.6,266.5 170.7,266.8 168.7,267.8 166.8,269.2 164.8,270.6 162.9,271.8 161,272.2 159,271.8 157.1,270.8 155.1,269.3 153.2,267.7 151.2,266.4 149.3,265.4 147.3,265.2 145.4,265.3" fill="rgb(78,78,192)" fill-opacity="0.38"/>
<polygon points="145.4,265.2 147.3,262.8 149.3,260.6 151.2,259.1 153.2,259.1 155.1,260 157.1,261.7 159,263.8 161,265.5 162.9,266.6 164.8,266.8 166.8,265.9 168.7,264.3 170.7,262.4 172.6,260.7 174.6,259.7 176.5,259.7 178.5,260.7 180.4,262.4 182.3,264.4 184.3,266.2 186.2,267.2 188.2,267.3 190.1,266.5 192.1,264.8 194,262.9 196,261.2 197.9,260.3 199.8,260.3 201.8,261.3 203.7,263 205.7,265 207.6,266.8 209.6,267.8 211.5,268 213.5,267.7 215.4,266.7 215.4,267.6 213.5,269.9 211.5,271.4 209.6,271.4 207.6,270.4 205.7,268.6 203.7,266.6 201.8,264.9 199.8,263.9 197.9,263.8 196,264.8 194,266.5 192.1,268.4 190.1,270 188.2,270.9 186.2,270.8 184.3,269.7 182.3,268 180.4,266 178.5,264.2 176.5,263.3 174.6,263.3 172.6,264.2 170.7,265.9 168.7,267.8 166.8,269.5 164.8,270.3 162.9,270.2 161,269.1 159,267.3 157.1,265.3 155.1,263.6 153.2,262.6 151.2,262.6 149.3,263.1 147.3,264.3 145.4,265.8" fill="rgb(78,78,192)" fill-opacity="0.32"/>
<polygon points="145.4,259.2 147.3,259.9 149.3,261.1 151.2,262.2 153.2,263.4 155.1,264 157.1,263.8 159,262.8 161,261.4 162.9,259.9 164.8,258.8 166.8,258.4 168.7,258.7 170.7,259.8 172.6,261.3 174.6,262.8 176.5,264.1 178.5,264.6 180.4,264.3 182.3,263.4 184.3,262 186.2,260.5 188.2,259.4 190.1,258.9 192.1,259.3 194,260.4 196,261.9 197.9,263.5 199.8,264.7 201.8,265.2 203.7,264.9 205.7,263.9 207.6,262.5 209.6,261.1 211.5,260 213.5,260.1 215.4,260.9 215.4,261.6 213.5,261.7 211.5,262.6 209.6,263.7 207.6,265.2 205.7,266.6 203.7,267.6 201.8,267.9 199.8,267.3 197.9,266.1 196,264.6 194,263.1 192.1,262 190.1,261.6 188.2,262.1 186.2,263.2 184.3,264.6 182.3,266.1 180.4,267 178.5,267.3 176.5,266.7 174.6,265.5 172.6,264 170.7,262.4 168.7,261.4 166.8,261 164.8,261.5 162.9,262.6 161,264.1 159,265.5 157.1,266.4 155.1,266.7 153.2,266.1 151.2,264.9 149.3,262.9 147.3,261.1 145.4,259.6" fill="rgb(78,78,192)" fill-opacity="0.22"/>
<polygon points="145.4,292.4 147.3,291.5 149.3,290.3 151.2,288.6 153.2,287 155.1,285.7 157.1,284.9 159,284.9 161,285.7 162.9,287.1 164.8,288.6 166.8,290.1 168.7,290.9 170.7,291 172.6,290.4 174.6,289.1 176.5,287.6 178.5,286.3 180.4,285.5 182.3,285.5 184.3,286.3 186.2,287.7 188.2,289.3 190.1,290.7 192.1,291.5 194,291.6 196,290.9 197.9,289.7 199.8,288.2 201.8,286.9 203.7,286.1 205.7,286.1 207.6,286.9 209.6,288.3 211.5,290.2 213.5,292.7 215.4,293.9 215.4,295.1 213.5,296.9 211.5,299.4 209.6,300.7 207.6,301 205.7,300.5 203.7,299.3 201.8,297.7 199.8,296.2 197.9,295.1 196,294.7 194,295.2 192.1,296.3 190.1,297.7 188.2,299.1 186.2,300.1 184.3,300.4 182.3,299.9 180.4,298.7 178.5,297.1 176.5,295.6 174.6,294.5 172.6,294.1 170.7,294.6 168.7,295.7 166.8,297.1 164.8,298.6 162.9,299.5 161,299.8 159,299.3 157.1,298 155.1,296.5 153.2,295 151.2,293.9 149.3,293 147.3,293 145.4,293.1" fill="rgb(60,160,175)" fill-opacity="0.38"/>
<polygon points="145.4,293.3 147.3,290.9 149.3,288.6 151.2,286.9 153.2,286.6 155.1,287.3 157.1,288.9 159,290.9 161,292.8 162.9,294.1 164.8,294.4 166.8,293.8 168.7,292.3 170.7,290.4 172.6,288.6 174.6,287.4 176.5,287.2 178.5,288 180.4,289.5 182.3,291.5 184.3,293.4 186.2,294.7 188.2,295 190.1,294.4 192.1,292.9 194,291 196,289.2 197.9,288 199.8,287.8 201.8,288.6 203.7,290.2 205.7,292.2 207.6,294 209.6,295.3 211.5,295.7 213.5,295.7 215.4,294.8 215.4,295.7 213.5,297.8 211.5,299.1 209.6,298.9 207.6,297.6 205.7,295.7 203.7,293.7 201.8,292.1 199.8,291.4 197.9,291.6 196,292.8 194,294.6 192.1,296.4 190.1,297.9 188.2,298.6 186.2,298.3 184.3,297 182.3,295.1 180.4,293.1 178.5,291.5 176.5,290.8 174.6,291 172.6,292.2 170.7,294 168.7,295.9 166.8,297.4 164.8,298 162.9,297.6 161,296.4 159,294.5 157.1,292.5 155.1,290.9 153.2,290.2 151.2,290.4 149.3,291.1 147.3,292.4 145.4,293.8" fill="rgb(60,160,175)" fill-opacity="0.32"/>
<polygon points="145.4,286.7 147.3,287.2 149.3,288.3 151.2,289.5 153.2,290.8 155.1,291.6 157.1,291.5 159,290.7 161,289.4 162.9,287.9 164.8,286.6 166.8,286 168.7,286.2 170.7,287.1 172.6,288.5 174.6,290.1 176.5,291.4 178.5,292.2 180.4,292.1 182.3,291.3 184.3,289.9 186.2,288.4 188.2,287.2 190.1,286.6 192.1,286.8 194,287.7 196,289.1 197.9,290.7 199.8,292 201.8,292.8 203.7,292.7 205.7,291.8 207.6,290.5 209.6,289 211.5,287.9 213.5,287.7 215.4,288.4 215.4,289 213.5,289.3 211.5,290.4 209.6,291.7 207.6,293.2 205.7,294.5 203.7,295.4 201.8,295.4 199.8,294.7 197.9,293.4 196,291.8 194,290.4 192.1,289.4 190.1,289.3 188.2,289.9 186.2,291.1 184.3,292.6 182.3,293.9 180.4,294.8 178.5,294.8 176.5,294.1 174.6,292.8 172.6,291.2 170.7,289.8 168.7,288.8 166.8,288.7 164.8,289.3 162.9,290.5 161,292 159,293.4 157.1,294.2 155.1,294.2 153.2,293.5 151.2,292.1 149.3,290.2 147.3,288.4 145.4,287.1" fill="rgb(60,160,175)" fill-opacity="0.22"/>
<line x1="141.4" y1="241.5" x2="167.8" y2="241.5" stroke="#333" stroke-width="0.6" stroke-dasharray="1,1"/>
<text x="139.9" y="244.3" font-size="8" fill="#222" text-anchor="end" font-family="Liberation Serif" >−0.42</text>
<circle cx="167.8" cy="241.5" r="1.5" fill="#000"/>
<circle cx="179.5" cy="245" r="1.5" fill="#000"/>
<circle cx="192.2" cy="240.4" r="1.5" fill="#000"/>
<circle cx="203.5" cy="243" r="1.5" fill="#000"/>
<text x="178.4" y="194" font-size="10" fill="#222" text-anchor="middle" font-family="Liberation Serif" ><tspan font-style="italic">k</tspan><tspan font-size="7" dy="2" font-style="italic">z</tspan><tspan dy="-2"> = 0.72 + </tspan><tspan font-style="italic">k</tspan><tspan font-size="7" dy="2.5" font-style="italic">z</tspan><tspan font-size="6.5" dx="-3.5" dy="-7" font-style="italic">δ</tspan></text>
<line x1="143.4" y1="299" x2="165.4" y2="306" stroke="#999" stroke-width="0.6"/>
<line x1="165.4" y1="306" x2="215.4" y2="303" stroke="#999" stroke-width="0.6"/>
<text x="140" y="308" font-size="9.5" fill="#222" text-anchor="middle" font-family="Liberation Serif" >2π</text>
<text x="153" y="311" font-size="9.5" fill="#222" text-anchor="middle" font-family="Liberation Serif" >π</text>
<text x="166" y="314.5" font-size="9.5" fill="#222" text-anchor="middle" font-family="Liberation Serif" >0</text>
<text x="190" y="311" font-size="9.5" fill="#222" text-anchor="middle" font-family="Liberation Serif" >π</text>
<text x="212" y="311" font-size="9.5" fill="#222" text-anchor="middle" font-family="Liberation Serif" >2π</text>
<text x="148" y="320" font-size="10" fill="#222" text-anchor="middle" font-family="Liberation Serif" font-style="italic" >k</text>
<text x="200" y="320" font-size="10" fill="#222" text-anchor="middle" font-family="Liberation Serif" font-style="italic" >k<tspan font-size="7" dy="1.5">x</tspan></text>
</g>
<rect x="259.7" y="17.3" width="60.6" height="120.7" fill="#fff"/>
<clipPath id="cb"><rect x="260.5" y="18.1" width="59.00000000000002" height="119.10000000000001"/></clipPath>
<g clip-path="url(#cb)">
<path d="M203,77.6 C211,64 225,45.7 238,45.7 C247,45.7 253,62 260.8,77.6" fill="none" stroke="#f0a818" stroke-width="1.3" stroke-opacity="0.9"/>
<path d="M203,77.6 C211,93 217,109.8 226,109.8 C239,109.8 253,91 260.8,77.6" fill="none" stroke="#f0a818" stroke-width="1.3" stroke-opacity="0.9"/>
<path d="M232,77.6 C240,64 254,45.7 267,45.7 C276,45.7 282,62 289.8,77.6" fill="none" stroke="#f0a818" stroke-width="1.3" stroke-opacity="0.9"/>
<path d="M232,77.6 C240,93 246,109.8 255,109.8 C268,109.8 282,91 289.8,77.6" fill="none" stroke="#f0a818" stroke-width="1.3" stroke-opacity="0.9"/>
<path d="M261,77.6 C269,64 283,45.7 296,45.7 C305,45.7 311,62 318.8,77.6" fill="none" stroke="#f0a818" stroke-width="1.3" stroke-opacity="0.9"/>
<path d="M261,77.6 C269,93 275,109.8 284,109.8 C297,109.8 311,91 318.8,77.6" fill="none" stroke="#f0a818" stroke-width="1.3" stroke-opacity="0.9"/>
<path d="M290,77.6 C298,64 312,45.7 325,45.7 C334,45.7 340,62 347.8,77.6" fill="none" stroke="#f0a818" stroke-width="1.3" stroke-opacity="0.9"/>
<path d="M290,77.6 C298,93 304,109.8 313,109.8 C326,109.8 340,91 347.8,77.6" fill="none" stroke="#f0a818" stroke-width="1.3" stroke-opacity="0.9"/>
<line x1="209.8" y1="33.6" x2="238.8" y2="33.6" stroke="#6a4a8a" stroke-width="1.6"/>
<line x1="238.8" y1="33.6" x2="267.8" y2="33.6" stroke="#6a4a8a" stroke-width="1.6"/>
<line x1="267.8" y1="33.6" x2="296.8" y2="33.6" stroke="#6a4a8a" stroke-width="1.6"/>
<line x1="296.8" y1="33.6" x2="325.8" y2="33.6" stroke="#6a4a8a" stroke-width="1.6"/>
<line x1="325.8" y1="33.6" x2="354.8" y2="33.6" stroke="#6a4a8a" stroke-width="1.6"/>
<path d="M209.8 33.6 212.2 29.2 214.6 25.9 217.1 23.3 219.5 21.3 221.9 20 224.3 19.4 226.7 20 229.1 21.3 231.6 23.3 234 25.9 236.4 29.2 238.8 33.6M209.8 33.6 212.2 38 214.6 41.3 217.1 43.9 219.5 45.9 221.9 47.2 224.3 47.8 226.7 47.2 229.1 45.9 231.6 43.9 234 41.3 236.4 38 238.8 33.6M209.8 33.6 212.2 28.9 214.6 25.2 217.1 22.1 219.5 19.8 221.9 18.3 224.3 17.6 226.7 18.3 229.1 19.8 231.6 22.1 234 25.2 236.4 28.9 238.8 33.6M209.8 33.6 212.2 38.3 214.6 42 217.1 45.1 219.5 47.4 221.9 48.9 224.3 49.6 226.7 48.9 229.1 47.4 231.6 45.1 234 42 236.4 38.3 238.8 33.6M209.8 33.6 212.2 28.7 214.6 24.5 217.1 20.9 219.5 18.2 221.9 16.5 224.3 15.9 226.7 16.5 229.1 18.2 231.6 20.9 234 24.5 236.4 28.7 238.8 33.6M209.8 33.6 212.2 38.5 214.6 42.7 217.1 46.3 219.5 49 221.9 50.7 224.3 51.3 226.7 50.7 229.1 49 231.6 46.3 234 42.7 236.4 38.5 238.8 33.6M209.8 33.6 212.2 29.4 214.6 25.3 217.1 21.6 219.5 18.5 221.9 15.9 224.3 14.1 226.7 15.9 229.1 18.5 231.6 21.6 234 25.3 236.4 29.4 238.8 33.6M209.8 33.6 212.2 37.8 214.6 41.9 217.1 45.6 219.5 48.7 221.9 51.3 224.3 53.1 226.7 51.3 229.1 48.7 231.6 45.6 234 41.9 236.4 37.8 238.8 33.6M238.8 33.6 241.2 29.2 243.6 25.9 246.1 23.3 248.5 21.3 250.9 20 253.3 19.4 255.7 20 258.1 21.3 260.6 23.3 263 25.9 265.4 29.2 267.8 33.6M238.8 33.6 241.2 38 243.6 41.3 246.1 43.9 248.5 45.9 250.9 47.2 253.3 47.8 255.7 47.2 258.1 45.9 260.6 43.9 263 41.3 265.4 38 267.8 33.6M238.8 33.6 241.2 28.9 243.6 25.2 246.1 22.1 248.5 19.8 250.9 18.3 253.3 17.6 255.7 18.3 258.1 19.8 260.6 22.1 263 25.2 265.4 28.9 267.8 33.6M238.8 33.6 241.2 38.3 243.6 42 246.1 45.1 248.5 47.4 250.9 48.9 253.3 49.6 255.7 48.9 258.1 47.4 260.6 45.1 263 42 265.4 38.3 267.8 33.6M238.8 33.6 241.2 28.7 243.6 24.5 246.1 20.9 248.5 18.2 250.9 16.5 253.3 15.9 255.7 16.5 258.1 18.2 260.6 20.9 263 24.5 265.4 28.7 267.8 33.6M238.8 33.6 241.2 38.5 243.6 42.7 246.1 46.3 248.5 49 250.9 50.7 253.3 51.3 255.7 50.7 258.1 49 260.6 46.3 263 42.7 265.4 38.5 267.8 33.6M238.8 33.6 241.2 29.4 243.6 25.3 246.1 21.6 248.5 18.5 250.9 15.9 253.3 14.1 255.7 15.9 258.1 18.5 260.6 21.6 263 25.3 265.4 29.4 267.8 33.6M238.8 33.6 241.2 37.8 243.6 41.9 246.1 45.6 248.5 48.7 250.9 51.3 253.3 53.1 255.7 51.3 258.1 48.7 260.6 45.6 263 41.9 265.4 37.8 267.8 33.6M267.8 33.6 270.2 29.2 272.6 25.9 275.1 23.3 277.5 21.3 279.9 20 282.3 19.4 284.7 20 287.1 21.3 289.6 23.3 292 25.9 294.4 29.2 296.8 33.6M267.8 33.6 270.2 38 272.6 41.3 275.1 43.9 277.5 45.9 279.9 47.2 282.3 47.8 284.7 47.2 287.1 45.9 289.6 43.9 292 41.3 294.4 38 296.8 33.6M267.8 33.6 270.2 28.9 272.6 25.2 275.1 22.1 277.5 19.8 279.9 18.3 282.3 17.6 284.7 18.3 287.1 19.8 289.6 22.1 292 25.2 294.4 28.9 296.8 33.6M267.8 33.6 270.2 38.3 272.6 42 275.1 45.1 277.5 47.4 279.9 48.9 282.3 49.6 284.7 48.9 287.1 47.4 289.6 45.1 292 42 294.4 38.3 296.8 33.6M267.8 33.6 270.2 28.7 272.6 24.5 275.1 20.9 277.5 18.2 279.9 16.5 282.3 15.9 284.7 16.5 287.1 18.2 289.6 20.9 292 24.5 294.4 28.7 296.8 33.6M267.8 33.6 270.2 38.5 272.6 42.7 275.1 46.3 277.5 49 279.9 50.7 282.3 51.3 284.7 50.7 287.1 49 289.6 46.3 292 42.7 294.4 38.5 296.8 33.6M267.8 33.6 270.2 29.4 272.6 25.3 275.1 21.6 277.5 18.5 279.9 15.9 282.3 14.1 284.7 15.9 287.1 18.5 289.6 21.6 292 25.3 294.4 29.4 296.8 33.6M267.8 33.6 270.2 37.8 272.6 41.9 275.1 45.6 277.5 48.7 279.9 51.3 282.3 53.1 284.7 51.3 287.1 48.7 289.6 45.6 292 41.9 294.4 37.8 296.8 33.6M296.8 33.6 299.2 29.2 301.6 25.9 304.1 23.3 306.5 21.3 308.9 20 311.3 19.4 313.7 20 316.1 21.3 318.6 23.3 321 25.9 323.4 29.2 325.8 33.6M296.8 33.6 299.2 38 301.6 41.3 304.1 43.9 306.5 45.9 308.9 47.2 311.3 47.8 313.7 47.2 316.1 45.9 318.6 43.9 321 41.3 323.4 38 325.8 33.6M296.8 33.6 299.2 28.9 301.6 25.2 304.1 22.1 306.5 19.8 308.9 18.3 311.3 17.6 313.7 18.3 316.1 19.8 318.6 22.1 321 25.2 323.4 28.9 325.8 33.6M296.8 33.6 299.2 38.3 301.6 42 304.1 45.1 306.5 47.4 308.9 48.9 311.3 49.6 313.7 48.9 316.1 47.4 318.6 45.1 321 42 323.4 38.3 325.8 33.6M296.8 33.6 299.2 28.7 301.6 24.5 304.1 20.9 306.5 18.2 308.9 16.5 311.3 15.9 313.7 16.5 316.1 18.2 318.6 20.9 321 24.5 323.4 28.7 325.8 33.6M296.8 33.6 299.2 38.5 301.6 42.7 304.1 46.3 306.5 49 308.9 50.7 311.3 51.3 313.7 50.7 316.1 49 318.6 46.3 321 42.7 323.4 38.5 325.8 33.6M296.8 33.6 299.2 29.4 301.6 25.3 304.1 21.6 306.5 18.5 308.9 15.9 311.3 14.1 313.7 15.9 316.1 18.5 318.6 21.6 321 25.3 323.4 29.4 325.8 33.6M296.8 33.6 299.2 37.8 301.6 41.9 304.1 45.6 306.5 48.7 308.9 51.3 311.3 53.1 313.7 51.3 316.1 48.7 318.6 45.6 321 41.9 323.4 37.8 325.8 33.6M325.8 33.6 328.2 29.2 330.6 25.9 333.1 23.3 335.5 21.3 337.9 20 340.3 19.4 342.7 20 345.1 21.3 347.6 23.3 350 25.9 352.4 29.2 354.8 33.6M325.8 33.6 328.2 38 330.6 41.3 333.1 43.9 335.5 45.9 337.9 47.2 340.3 47.8 342.7 47.2 345.1 45.9 347.6 43.9 350 41.3 352.4 38 354.8 33.6M325.8 33.6 328.2 28.9 330.6 25.2 333.1 22.1 335.5 19.8 337.9 18.3 340.3 17.6 342.7 18.3 345.1 19.8 347.6 22.1 350 25.2 352.4 28.9 354.8 33.6M325.8 33.6 328.2 38.3 330.6 42 333.1 45.1 335.5 47.4 337.9 48.9 340.3 49.6 342.7 48.9 345.1 47.4 347.6 45.1 350 42 352.4 38.3 354.8 33.6M325.8 33.6 328.2 28.7 330.6 24.5 333.1 20.9 335.5 18.2 337.9 16.5 340.3 15.9 342.7 16.5 345.1 18.2 347.6 20.9 350 24.5 352.4 28.7 354.8 33.6M325.8 33.6 328.2 38.5 330.6 42.7 333.1 46.3 335.5 49 337.9 50.7 340.3 51.3 342.7 50.7 345.1 49 347.6 46.3 350 42.7 352.4 38.5 354.8 33.6M325.8 33.6 328.2 29.4 330.6 25.3 333.1 21.6 335.5 18.5 337.9 15.9 340.3 14.1 342.7 15.9 345.1 18.5 347.6 21.6 350 25.3 352.4 29.4 354.8 33.6M325.8 33.6 328.2 37.8 330.6 41.9 333.1 45.6 335.5 48.7 337.9 51.3 340.3 53.1 342.7 51.3 345.1 48.7 347.6 45.6 350 41.9 352.4 37.8 354.8 33.6" fill="none" stroke="#3218c0" stroke-width="1.35"/>
<path d="M209.8 33.6 212.2 32.8 214.6 32.5 217.1 32.3 219.5 32.1 221.9 32 224.3 31.8 226.7 32 229.1 32.1 231.6 32.3 234 32.5 236.4 32.8 238.8 33.6M209.8 33.6 212.2 34.4 214.6 34.7 217.1 34.9 219.5 35.1 221.9 35.2 224.3 35.4 226.7 35.2 229.1 35.1 231.6 34.9 234 34.7 236.4 34.4 238.8 33.6M209.8 33.6 212.2 32.1 214.6 31.5 217.1 31 219.5 30.6 221.9 30.3 224.3 30.1 226.7 30.3 229.1 30.6 231.6 31 234 31.5 236.4 32.1 238.8 33.6M209.8 33.6 212.2 35.1 214.6 35.7 217.1 36.2 219.5 36.6 221.9 36.9 224.3 37.1 226.7 36.9 229.1 36.6 231.6 36.2 234 35.7 236.4 35.1 238.8 33.6M209.8 33.6 212.2 31.5 214.6 30.5 217.1 29.7 219.5 29.1 221.9 28.6 224.3 28.3 226.7 28.6 229.1 29.1 231.6 29.7 234 30.5 236.4 31.5 238.8 33.6M209.8 33.6 212.2 35.7 214.6 36.7 217.1 37.5 219.5 38.1 221.9 38.6 224.3 38.9 226.7 38.6 229.1 38.1 231.6 37.5 234 36.7 236.4 35.7 238.8 33.6M238.8 33.6 241.2 32.8 243.6 32.5 246.1 32.3 248.5 32.1 250.9 32 253.3 31.8 255.7 32 258.1 32.1 260.6 32.3 263 32.5 265.4 32.8 267.8 33.6M238.8 33.6 241.2 34.4 243.6 34.7 246.1 34.9 248.5 35.1 250.9 35.2 253.3 35.4 255.7 35.2 258.1 35.1 260.6 34.9 263 34.7 265.4 34.4 267.8 33.6M238.8 33.6 241.2 32.1 243.6 31.5 246.1 31 248.5 30.6 250.9 30.3 253.3 30.1 255.7 30.3 258.1 30.6 260.6 31 263 31.5 265.4 32.1 267.8 33.6M238.8 33.6 241.2 35.1 243.6 35.7 246.1 36.2 248.5 36.6 250.9 36.9 253.3 37.1 255.7 36.9 258.1 36.6 260.6 36.2 263 35.7 265.4 35.1 267.8 33.6M238.8 33.6 241.2 31.5 243.6 30.5 246.1 29.7 248.5 29.1 250.9 28.6 253.3 28.3 255.7 28.6 258.1 29.1 260.6 29.7 263 30.5 265.4 31.5 267.8 33.6M238.8 33.6 241.2 35.7 243.6 36.7 246.1 37.5 248.5 38.1 250.9 38.6 253.3 38.9 255.7 38.6 258.1 38.1 260.6 37.5 263 36.7 265.4 35.7 267.8 33.6M267.8 33.6 270.2 32.8 272.6 32.5 275.1 32.3 277.5 32.1 279.9 32 282.3 31.8 284.7 32 287.1 32.1 289.6 32.3 292 32.5 294.4 32.8 296.8 33.6M267.8 33.6 270.2 34.4 272.6 34.7 275.1 34.9 277.5 35.1 279.9 35.2 282.3 35.4 284.7 35.2 287.1 35.1 289.6 34.9 292 34.7 294.4 34.4 296.8 33.6M267.8 33.6 270.2 32.1 272.6 31.5 275.1 31 277.5 30.6 279.9 30.3 282.3 30.1 284.7 30.3 287.1 30.6 289.6 31 292 31.5 294.4 32.1 296.8 33.6M267.8 33.6 270.2 35.1 272.6 35.7 275.1 36.2 277.5 36.6 279.9 36.9 282.3 37.1 284.7 36.9 287.1 36.6 289.6 36.2 292 35.7 294.4 35.1 296.8 33.6M267.8 33.6 270.2 31.5 272.6 30.5 275.1 29.7 277.5 29.1 279.9 28.6 282.3 28.3 284.7 28.6 287.1 29.1 289.6 29.7 292 30.5 294.4 31.5 296.8 33.6M267.8 33.6 270.2 35.7 272.6 36.7 275.1 37.5 277.5 38.1 279.9 38.6 282.3 38.9 284.7 38.6 287.1 38.1 289.6 37.5 292 36.7 294.4 35.7 296.8 33.6M296.8 33.6 299.2 32.8 301.6 32.5 304.1 32.3 306.5 32.1 308.9 32 311.3 31.8 313.7 32 316.1 32.1 318.6 32.3 321 32.5 323.4 32.8 325.8 33.6M296.8 33.6 299.2 34.4 301.6 34.7 304.1 34.9 306.5 35.1 308.9 35.2 311.3 35.4 313.7 35.2 316.1 35.1 318.6 34.9 321 34.7 323.4 34.4 325.8 33.6M296.8 33.6 299.2 32.1 301.6 31.5 304.1 31 306.5 30.6 308.9 30.3 311.3 30.1 313.7 30.3 316.1 30.6 318.6 31 321 31.5 323.4 32.1 325.8 33.6M296.8 33.6 299.2 35.1 301.6 35.7 304.1 36.2 306.5 36.6 308.9 36.9 311.3 37.1 313.7 36.9 316.1 36.6 318.6 36.2 321 35.7 323.4 35.1 325.8 33.6M296.8 33.6 299.2 31.5 301.6 30.5 304.1 29.7 306.5 29.1 308.9 28.6 311.3 28.3 313.7 28.6 316.1 29.1 318.6 29.7 321 30.5 323.4 31.5 325.8 33.6M296.8 33.6 299.2 35.7 301.6 36.7 304.1 37.5 306.5 38.1 308.9 38.6 311.3 38.9 313.7 38.6 316.1 38.1 318.6 37.5 321 36.7 323.4 35.7 325.8 33.6M325.8 33.6 328.2 32.8 330.6 32.5 333.1 32.3 335.5 32.1 337.9 32 340.3 31.8 342.7 32 345.1 32.1 347.6 32.3 350 32.5 352.4 32.8 354.8 33.6M325.8 33.6 328.2 34.4 330.6 34.7 333.1 34.9 335.5 35.1 337.9 35.2 340.3 35.4 342.7 35.2 345.1 35.1 347.6 34.9 350 34.7 352.4 34.4 354.8 33.6M325.8 33.6 328.2 32.1 330.6 31.5 333.1 31 335.5 30.6 337.9 30.3 340.3 30.1 342.7 30.3 345.1 30.6 347.6 31 350 31.5 352.4 32.1 354.8 33.6M325.8 33.6 328.2 35.1 330.6 35.7 333.1 36.2 335.5 36.6 337.9 36.9 340.3 37.1 342.7 36.9 345.1 36.6 347.6 36.2 350 35.7 352.4 35.1 354.8 33.6M325.8 33.6 328.2 31.5 330.6 30.5 333.1 29.7 335.5 29.1 337.9 28.6 340.3 28.3 342.7 28.6 345.1 29.1 347.6 29.7 350 30.5 352.4 31.5 354.8 33.6M325.8 33.6 328.2 35.7 330.6 36.7 333.1 37.5 335.5 38.1 337.9 38.6 340.3 38.9 342.7 38.6 345.1 38.1 347.6 37.5 350 36.7 352.4 35.7 354.8 33.6" fill="none" stroke="#5e3e92" stroke-width="1.15"/>
<path d="M209.8 33.6 212.2 30.9 214.6 29.5 217.1 28.4 219.5 27.5 221.9 26.9 224.3 26.5 226.7 26.9 229.1 27.5 231.6 28.4 234 29.5 236.4 30.9 238.8 33.6M209.8 33.6 212.2 36.3 214.6 37.7 217.1 38.8 219.5 39.7 221.9 40.3 224.3 40.7 226.7 40.3 229.1 39.7 231.6 38.8 234 37.7 236.4 36.3 238.8 33.6M209.8 33.6 212.2 30.4 214.6 28.5 217.1 27.1 219.5 26 221.9 25.2 224.3 24.7 226.7 25.2 229.1 26 231.6 27.1 234 28.5 236.4 30.4 238.8 33.6M209.8 33.6 212.2 36.8 214.6 38.7 217.1 40.1 219.5 41.2 221.9 42 224.3 42.5 226.7 42 229.1 41.2 231.6 40.1 234 38.7 236.4 36.8 238.8 33.6M209.8 33.6 212.2 29.9 214.6 27.6 217.1 25.8 219.5 24.4 221.9 23.5 224.3 23 226.7 23.5 229.1 24.4 231.6 25.8 234 27.6 236.4 29.9 238.8 33.6M209.8 33.6 212.2 37.3 214.6 39.6 217.1 41.4 219.5 42.8 221.9 43.7 224.3 44.2 226.7 43.7 229.1 42.8 231.6 41.4 234 39.6 236.4 37.3 238.8 33.6M209.8 33.6 212.2 29.5 214.6 26.8 217.1 24.6 219.5 22.9 221.9 21.8 224.3 21.2 226.7 21.8 229.1 22.9 231.6 24.6 234 26.8 236.4 29.5 238.8 33.6M209.8 33.6 212.2 37.7 214.6 40.4 217.1 42.6 219.5 44.3 221.9 45.4 224.3 46 226.7 45.4 229.1 44.3 231.6 42.6 234 40.4 236.4 37.7 238.8 33.6M238.8 33.6 241.2 30.9 243.6 29.5 246.1 28.4 248.5 27.5 250.9 26.9 253.3 26.5 255.7 26.9 258.1 27.5 260.6 28.4 263 29.5 265.4 30.9 267.8 33.6M238.8 33.6 241.2 36.3 243.6 37.7 246.1 38.8 248.5 39.7 250.9 40.3 253.3 40.7 255.7 40.3 258.1 39.7 260.6 38.8 263 37.7 265.4 36.3 267.8 33.6M238.8 33.6 241.2 30.4 243.6 28.5 246.1 27.1 248.5 26 250.9 25.2 253.3 24.7 255.7 25.2 258.1 26 260.6 27.1 263 28.5 265.4 30.4 267.8 33.6M238.8 33.6 241.2 36.8 243.6 38.7 246.1 40.1 248.5 41.2 250.9 42 253.3 42.5 255.7 42 258.1 41.2 260.6 40.1 263 38.7 265.4 36.8 267.8 33.6M238.8 33.6 241.2 29.9 243.6 27.6 246.1 25.8 248.5 24.4 250.9 23.5 253.3 23 255.7 23.5 258.1 24.4 260.6 25.8 263 27.6 265.4 29.9 267.8 33.6M238.8 33.6 241.2 37.3 243.6 39.6 246.1 41.4 248.5 42.8 250.9 43.7 253.3 44.2 255.7 43.7 258.1 42.8 260.6 41.4 263 39.6 265.4 37.3 267.8 33.6M238.8 33.6 241.2 29.5 243.6 26.8 246.1 24.6 248.5 22.9 250.9 21.8 253.3 21.2 255.7 21.8 258.1 22.9 260.6 24.6 263 26.8 265.4 29.5 267.8 33.6M238.8 33.6 241.2 37.7 243.6 40.4 246.1 42.6 248.5 44.3 250.9 45.4 253.3 46 255.7 45.4 258.1 44.3 260.6 42.6 263 40.4 265.4 37.7 267.8 33.6M267.8 33.6 270.2 30.9 272.6 29.5 275.1 28.4 277.5 27.5 279.9 26.9 282.3 26.5 284.7 26.9 287.1 27.5 289.6 28.4 292 29.5 294.4 30.9 296.8 33.6M267.8 33.6 270.2 36.3 272.6 37.7 275.1 38.8 277.5 39.7 279.9 40.3 282.3 40.7 284.7 40.3 287.1 39.7 289.6 38.8 292 37.7 294.4 36.3 296.8 33.6M267.8 33.6 270.2 30.4 272.6 28.5 275.1 27.1 277.5 26 279.9 25.2 282.3 24.7 284.7 25.2 287.1 26 289.6 27.1 292 28.5 294.4 30.4 296.8 33.6M267.8 33.6 270.2 36.8 272.6 38.7 275.1 40.1 277.5 41.2 279.9 42 282.3 42.5 284.7 42 287.1 41.2 289.6 40.1 292 38.7 294.4 36.8 296.8 33.6M267.8 33.6 270.2 29.9 272.6 27.6 275.1 25.8 277.5 24.4 279.9 23.5 282.3 23 284.7 23.5 287.1 24.4 289.6 25.8 292 27.6 294.4 29.9 296.8 33.6M267.8 33.6 270.2 37.3 272.6 39.6 275.1 41.4 277.5 42.8 279.9 43.7 282.3 44.2 284.7 43.7 287.1 42.8 289.6 41.4 292 39.6 294.4 37.3 296.8 33.6M267.8 33.6 270.2 29.5 272.6 26.8 275.1 24.6 277.5 22.9 279.9 21.8 282.3 21.2 284.7 21.8 287.1 22.9 289.6 24.6 292 26.8 294.4 29.5 296.8 33.6M267.8 33.6 270.2 37.7 272.6 40.4 275.1 42.6 277.5 44.3 279.9 45.4 282.3 46 284.7 45.4 287.1 44.3 289.6 42.6 292 40.4 294.4 37.7 296.8 33.6M296.8 33.6 299.2 30.9 301.6 29.5 304.1 28.4 306.5 27.5 308.9 26.9 311.3 26.5 313.7 26.9 316.1 27.5 318.6 28.4 321 29.5 323.4 30.9 325.8 33.6M296.8 33.6 299.2 36.3 301.6 37.7 304.1 38.8 306.5 39.7 308.9 40.3 311.3 40.7 313.7 40.3 316.1 39.7 318.6 38.8 321 37.7 323.4 36.3 325.8 33.6M296.8 33.6 299.2 30.4 301.6 28.5 304.1 27.1 306.5 26 308.9 25.2 311.3 24.7 313.7 25.2 316.1 26 318.6 27.1 321 28.5 323.4 30.4 325.8 33.6M296.8 33.6 299.2 36.8 301.6 38.7 304.1 40.1 306.5 41.2 308.9 42 311.3 42.5 313.7 42 316.1 41.2 318.6 40.1 321 38.7 323.4 36.8 325.8 33.6M296.8 33.6 299.2 29.9 301.6 27.6 304.1 25.8 306.5 24.4 308.9 23.5 311.3 23 313.7 23.5 316.1 24.4 318.6 25.8 321 27.6 323.4 29.9 325.8 33.6M296.8 33.6 299.2 37.3 301.6 39.6 304.1 41.4 306.5 42.8 308.9 43.7 311.3 44.2 313.7 43.7 316.1 42.8 318.6 41.4 321 39.6 323.4 37.3 325.8 33.6M296.8 33.6 299.2 29.5 301.6 26.8 304.1 24.6 306.5 22.9 308.9 21.8 311.3 21.2 313.7 21.8 316.1 22.9 318.6 24.6 321 26.8 323.4 29.5 325.8 33.6M296.8 33.6 299.2 37.7 301.6 40.4 304.1 42.6 306.5 44.3 308.9 45.4 311.3 46 313.7 45.4 316.1 44.3 318.6 42.6 321 40.4 323.4 37.7 325.8 33.6M325.8 33.6 328.2 30.9 330.6 29.5 333.1 28.4 335.5 27.5 337.9 26.9 340.3 26.5 342.7 26.9 345.1 27.5 347.6 28.4 350 29.5 352.4 30.9 354.8 33.6M325.8 33.6 328.2 36.3 330.6 37.7 333.1 38.8 335.5 39.7 337.9 40.3 340.3 40.7 342.7 40.3 345.1 39.7 347.6 38.8 350 37.7 352.4 36.3 354.8 33.6M325.8 33.6 328.2 30.4 330.6 28.5 333.1 27.1 335.5 26 337.9 25.2 340.3 24.7 342.7 25.2 345.1 26 347.6 27.1 350 28.5 352.4 30.4 354.8 33.6M325.8 33.6 328.2 36.8 330.6 38.7 333.1 40.1 335.5 41.2 337.9 42 340.3 42.5 342.7 42 345.1 41.2 347.6 40.1 350 38.7 352.4 36.8 354.8 33.6M325.8 33.6 328.2 29.9 330.6 27.6 333.1 25.8 335.5 24.4 337.9 23.5 340.3 23 342.7 23.5 345.1 24.4 347.6 25.8 350 27.6 352.4 29.9 354.8 33.6M325.8 33.6 328.2 37.3 330.6 39.6 333.1 41.4 335.5 42.8 337.9 43.7 340.3 44.2 342.7 43.7 345.1 42.8 347.6 41.4 350 39.6 352.4 37.3 354.8 33.6M325.8 33.6 328.2 29.5 330.6 26.8 333.1 24.6 335.5 22.9 337.9 21.8 340.3 21.2 342.7 21.8 345.1 22.9 347.6 24.6 350 26.8 352.4 29.5 354.8 33.6M325.8 33.6 328.2 37.7 330.6 40.4 333.1 42.6 335.5 44.3 337.9 45.4 340.3 46 342.7 45.4 345.1 44.3 347.6 42.6 350 40.4 352.4 37.7 354.8 33.6" fill="none" stroke="#3a22b4" stroke-width="1.15"/>
<line x1="203.3" y1="77.7" x2="232.3" y2="77.7" stroke="#6a4a8a" stroke-width="1.6"/>
<line x1="232.3" y1="77.7" x2="261.3" y2="77.7" stroke="#6a4a8a" stroke-width="1.6"/>
<line x1="261.3" y1="77.7" x2="290.3" y2="77.7" stroke="#6a4a8a" stroke-width="1.6"/>
<line x1="290.3" y1="77.7" x2="319.3" y2="77.7" stroke="#6a4a8a" stroke-width="1.6"/>
<line x1="319.3" y1="77.7" x2="348.3" y2="77.7" stroke="#6a4a8a" stroke-width="1.6"/>
<path d="M203.3 77.7 205.7 73.3 208.1 70 210.6 67.4 213 65.4 215.4 64.1 217.8 63.5 220.2 64.1 222.6 65.4 225.1 67.4 227.5 70 229.9 73.3 232.3 77.7M203.3 77.7 205.7 82.1 208.1 85.4 210.6 88 213 90 215.4 91.3 217.8 91.9 220.2 91.3 222.6 90 225.1 88 227.5 85.4 229.9 82.1 232.3 77.7M203.3 77.7 205.7 73 208.1 69.3 210.6 66.2 213 63.9 215.4 62.4 217.8 61.7 220.2 62.4 222.6 63.9 225.1 66.2 227.5 69.3 229.9 73 232.3 77.7M203.3 77.7 205.7 82.4 208.1 86.1 210.6 89.2 213 91.5 215.4 93 217.8 93.7 220.2 93 222.6 91.5 225.1 89.2 227.5 86.1 229.9 82.4 232.3 77.7M203.3 77.7 205.7 72.8 208.1 68.6 210.6 65 213 62.3 215.4 60.6 217.8 60 220.2 60.6 222.6 62.3 225.1 65 227.5 68.6 229.9 72.8 232.3 77.7M203.3 77.7 205.7 82.6 208.1 86.8 210.6 90.4 213 93.1 215.4 94.8 217.8 95.4 220.2 94.8 222.6 93.1 225.1 90.4 227.5 86.8 229.9 82.6 232.3 77.7M203.3 77.7 205.7 73.5 208.1 69.4 210.6 65.7 213 62.6 215.4 60 217.8 58.2 220.2 60 222.6 62.6 225.1 65.7 227.5 69.4 229.9 73.5 232.3 77.7M203.3 77.7 205.7 81.9 208.1 86 210.6 89.7 213 92.8 215.4 95.4 217.8 97.2 220.2 95.4 222.6 92.8 225.1 89.7 227.5 86 229.9 81.9 232.3 77.7M232.3 77.7 234.7 73.3 237.1 70 239.6 67.4 242 65.4 244.4 64.1 246.8 63.5 249.2 64.1 251.6 65.4 254.1 67.4 256.5 70 258.9 73.3 261.3 77.7M232.3 77.7 234.7 82.1 237.1 85.4 239.6 88 242 90 244.4 91.3 246.8 91.9 249.2 91.3 251.6 90 254.1 88 256.5 85.4 258.9 82.1 261.3 77.7M232.3 77.7 234.7 73 237.1 69.3 239.6 66.2 242 63.9 244.4 62.4 246.8 61.7 249.2 62.4 251.6 63.9 254.1 66.2 256.5 69.3 258.9 73 261.3 77.7M232.3 77.7 234.7 82.4 237.1 86.1 239.6 89.2 242 91.5 244.4 93 246.8 93.7 249.2 93 251.6 91.5 254.1 89.2 256.5 86.1 258.9 82.4 261.3 77.7M232.3 77.7 234.7 72.8 237.1 68.6 239.6 65 242 62.3 244.4 60.6 246.8 60 249.2 60.6 251.6 62.3 254.1 65 256.5 68.6 258.9 72.8 261.3 77.7M232.3 77.7 234.7 82.6 237.1 86.8 239.6 90.4 242 93.1 244.4 94.8 246.8 95.4 249.2 94.8 251.6 93.1 254.1 90.4 256.5 86.8 258.9 82.6 261.3 77.7M232.3 77.7 234.7 73.5 237.1 69.4 239.6 65.7 242 62.6 244.4 60 246.8 58.2 249.2 60 251.6 62.6 254.1 65.7 256.5 69.4 258.9 73.5 261.3 77.7M232.3 77.7 234.7 81.9 237.1 86 239.6 89.7 242 92.8 244.4 95.4 246.8 97.2 249.2 95.4 251.6 92.8 254.1 89.7 256.5 86 258.9 81.9 261.3 77.7M261.3 77.7 263.7 73.3 266.1 70 268.6 67.4 271 65.4 273.4 64.1 275.8 63.5 278.2 64.1 280.6 65.4 283.1 67.4 285.5 70 287.9 73.3 290.3 77.7M261.3 77.7 263.7 82.1 266.1 85.4 268.6 88 271 90 273.4 91.3 275.8 91.9 278.2 91.3 280.6 90 283.1 88 285.5 85.4 287.9 82.1 290.3 77.7M261.3 77.7 263.7 73 266.1 69.3 268.6 66.2 271 63.9 273.4 62.4 275.8 61.7 278.2 62.4 280.6 63.9 283.1 66.2 285.5 69.3 287.9 73 290.3 77.7M261.3 77.7 263.7 82.4 266.1 86.1 268.6 89.2 271 91.5 273.4 93 275.8 93.7 278.2 93 280.6 91.5 283.1 89.2 285.5 86.1 287.9 82.4 290.3 77.7M261.3 77.7 263.7 72.8 266.1 68.6 268.6 65 271 62.3 273.4 60.6 275.8 60 278.2 60.6 280.6 62.3 283.1 65 285.5 68.6 287.9 72.8 290.3 77.7M261.3 77.7 263.7 82.6 266.1 86.8 268.6 90.4 271 93.1 273.4 94.8 275.8 95.4 278.2 94.8 280.6 93.1 283.1 90.4 285.5 86.8 287.9 82.6 290.3 77.7M261.3 77.7 263.7 73.5 266.1 69.4 268.6 65.7 271 62.6 273.4 60 275.8 58.2 278.2 60 280.6 62.6 283.1 65.7 285.5 69.4 287.9 73.5 290.3 77.7M261.3 77.7 263.7 81.9 266.1 86 268.6 89.7 271 92.8 273.4 95.4 275.8 97.2 278.2 95.4 280.6 92.8 283.1 89.7 285.5 86 287.9 81.9 290.3 77.7M290.3 77.7 292.7 73.3 295.1 70 297.6 67.4 300 65.4 302.4 64.1 304.8 63.5 307.2 64.1 309.6 65.4 312.1 67.4 314.5 70 316.9 73.3 319.3 77.7M290.3 77.7 292.7 82.1 295.1 85.4 297.6 88 300 90 302.4 91.3 304.8 91.9 307.2 91.3 309.6 90 312.1 88 314.5 85.4 316.9 82.1 319.3 77.7M290.3 77.7 292.7 73 295.1 69.3 297.6 66.2 300 63.9 302.4 62.4 304.8 61.7 307.2 62.4 309.6 63.9 312.1 66.2 314.5 69.3 316.9 73 319.3 77.7M290.3 77.7 292.7 82.4 295.1 86.1 297.6 89.2 300 91.5 302.4 93 304.8 93.7 307.2 93 309.6 91.5 312.1 89.2 314.5 86.1 316.9 82.4 319.3 77.7M290.3 77.7 292.7 72.8 295.1 68.6 297.6 65 300 62.3 302.4 60.6 304.8 60 307.2 60.6 309.6 62.3 312.1 65 314.5 68.6 316.9 72.8 319.3 77.7M290.3 77.7 292.7 82.6 295.1 86.8 297.6 90.4 300 93.1 302.4 94.8 304.8 95.4 307.2 94.8 309.6 93.1 312.1 90.4 314.5 86.8 316.9 82.6 319.3 77.7M290.3 77.7 292.7 73.5 295.1 69.4 297.6 65.7 300 62.6 302.4 60 304.8 58.2 307.2 60 309.6 62.6 312.1 65.7 314.5 69.4 316.9 73.5 319.3 77.7M290.3 77.7 292.7 81.9 295.1 86 297.6 89.7 300 92.8 302.4 95.4 304.8 97.2 307.2 95.4 309.6 92.8 312.1 89.7 314.5 86 316.9 81.9 319.3 77.7M319.3 77.7 321.7 73.3 324.1 70 326.6 67.4 329 65.4 331.4 64.1 333.8 63.5 336.2 64.1 338.6 65.4 341.1 67.4 343.5 70 345.9 73.3 348.3 77.7M319.3 77.7 321.7 82.1 324.1 85.4 326.6 88 329 90 331.4 91.3 333.8 91.9 336.2 91.3 338.6 90 341.1 88 343.5 85.4 345.9 82.1 348.3 77.7M319.3 77.7 321.7 73 324.1 69.3 326.6 66.2 329 63.9 331.4 62.4 333.8 61.7 336.2 62.4 338.6 63.9 341.1 66.2 343.5 69.3 345.9 73 348.3 77.7M319.3 77.7 321.7 82.4 324.1 86.1 326.6 89.2 329 91.5 331.4 93 333.8 93.7 336.2 93 338.6 91.5 341.1 89.2 343.5 86.1 345.9 82.4 348.3 77.7M319.3 77.7 321.7 72.8 324.1 68.6 326.6 65 329 62.3 331.4 60.6 333.8 60 336.2 60.6 338.6 62.3 341.1 65 343.5 68.6 345.9 72.8 348.3 77.7M319.3 77.7 321.7 82.6 324.1 86.8 326.6 90.4 329 93.1 331.4 94.8 333.8 95.4 336.2 94.8 338.6 93.1 341.1 90.4 343.5 86.8 345.9 82.6 348.3 77.7M319.3 77.7 321.7 73.5 324.1 69.4 326.6 65.7 329 62.6 331.4 60 333.8 58.2 336.2 60 338.6 62.6 341.1 65.7 343.5 69.4 345.9 73.5 348.3 77.7M319.3 77.7 321.7 81.9 324.1 86 326.6 89.7 329 92.8 331.4 95.4 333.8 97.2 336.2 95.4 338.6 92.8 341.1 89.7 343.5 86 345.9 81.9 348.3 77.7" fill="none" stroke="#3218c0" stroke-width="1.35"/>
<path d="M203.3 77.7 205.7 76.9 208.1 76.6 210.6 76.4 213 76.2 215.4 76.1 217.8 75.9 220.2 76.1 222.6 76.2 225.1 76.4 227.5 76.6 229.9 76.9 232.3 77.7M203.3 77.7 205.7 78.5 208.1 78.8 210.6 79 213 79.2 215.4 79.3 217.8 79.5 220.2 79.3 222.6 79.2 225.1 79 227.5 78.8 229.9 78.5 232.3 77.7M203.3 77.7 205.7 76.2 208.1 75.6 210.6 75.1 213 74.7 215.4 74.4 217.8 74.2 220.2 74.4 222.6 74.7 225.1 75.1 227.5 75.6 229.9 76.2 232.3 77.7M203.3 77.7 205.7 79.2 208.1 79.8 210.6 80.3 213 80.7 215.4 81 217.8 81.2 220.2 81 222.6 80.7 225.1 80.3 227.5 79.8 229.9 79.2 232.3 77.7M203.3 77.7 205.7 75.6 208.1 74.6 210.6 73.8 213 73.2 215.4 72.7 217.8 72.4 220.2 72.7 222.6 73.2 225.1 73.8 227.5 74.6 229.9 75.6 232.3 77.7M203.3 77.7 205.7 79.8 208.1 80.8 210.6 81.6 213 82.2 215.4 82.7 217.8 83 220.2 82.7 222.6 82.2 225.1 81.6 227.5 80.8 229.9 79.8 232.3 77.7M232.3 77.7 234.7 76.9 237.1 76.6 239.6 76.4 242 76.2 244.4 76.1 246.8 75.9 249.2 76.1 251.6 76.2 254.1 76.4 256.5 76.6 258.9 76.9 261.3 77.7M232.3 77.7 234.7 78.5 237.1 78.8 239.6 79 242 79.2 244.4 79.3 246.8 79.5 249.2 79.3 251.6 79.2 254.1 79 256.5 78.8 258.9 78.5 261.3 77.7M232.3 77.7 234.7 76.2 237.1 75.6 239.6 75.1 242 74.7 244.4 74.4 246.8 74.2 249.2 74.4 251.6 74.7 254.1 75.1 256.5 75.6 258.9 76.2 261.3 77.7M232.3 77.7 234.7 79.2 237.1 79.8 239.6 80.3 242 80.7 244.4 81 246.8 81.2 249.2 81 251.6 80.7 254.1 80.3 256.5 79.8 258.9 79.2 261.3 77.7M232.3 77.7 234.7 75.6 237.1 74.6 239.6 73.8 242 73.2 244.4 72.7 246.8 72.4 249.2 72.7 251.6 73.2 254.1 73.8 256.5 74.6 258.9 75.6 261.3 77.7M232.3 77.7 234.7 79.8 237.1 80.8 239.6 81.6 242 82.2 244.4 82.7 246.8 83 249.2 82.7 251.6 82.2 254.1 81.6 256.5 80.8 258.9 79.8 261.3 77.7M261.3 77.7 263.7 76.9 266.1 76.6 268.6 76.4 271 76.2 273.4 76.1 275.8 75.9 278.2 76.1 280.6 76.2 283.1 76.4 285.5 76.6 287.9 76.9 290.3 77.7M261.3 77.7 263.7 78.5 266.1 78.8 268.6 79 271 79.2 273.4 79.3 275.8 79.5 278.2 79.3 280.6 79.2 283.1 79 285.5 78.8 287.9 78.5 290.3 77.7M261.3 77.7 263.7 76.2 266.1 75.6 268.6 75.1 271 74.7 273.4 74.4 275.8 74.2 278.2 74.4 280.6 74.7 283.1 75.1 285.5 75.6 287.9 76.2 290.3 77.7M261.3 77.7 263.7 79.2 266.1 79.8 268.6 80.3 271 80.7 273.4 81 275.8 81.2 278.2 81 280.6 80.7 283.1 80.3 285.5 79.8 287.9 79.2 290.3 77.7M261.3 77.7 263.7 75.6 266.1 74.6 268.6 73.8 271 73.2 273.4 72.7 275.8 72.4 278.2 72.7 280.6 73.2 283.1 73.8 285.5 74.6 287.9 75.6 290.3 77.7M261.3 77.7 263.7 79.8 266.1 80.8 268.6 81.6 271 82.2 273.4 82.7 275.8 83 278.2 82.7 280.6 82.2 283.1 81.6 285.5 80.8 287.9 79.8 290.3 77.7M290.3 77.7 292.7 76.9 295.1 76.6 297.6 76.4 300 76.2 302.4 76.1 304.8 75.9 307.2 76.1 309.6 76.2 312.1 76.4 314.5 76.6 316.9 76.9 319.3 77.7M290.3 77.7 292.7 78.5 295.1 78.8 297.6 79 300 79.2 302.4 79.3 304.8 79.5 307.2 79.3 309.6 79.2 312.1 79 314.5 78.8 316.9 78.5 319.3 77.7M290.3 77.7 292.7 76.2 295.1 75.6 297.6 75.1 300 74.7 302.4 74.4 304.8 74.2 307.2 74.4 309.6 74.7 312.1 75.1 314.5 75.6 316.9 76.2 319.3 77.7M290.3 77.7 292.7 79.2 295.1 79.8 297.6 80.3 300 80.7 302.4 81 304.8 81.2 307.2 81 309.6 80.7 312.1 80.3 314.5 79.8 316.9 79.2 319.3 77.7M290.3 77.7 292.7 75.6 295.1 74.6 297.6 73.8 300 73.2 302.4 72.7 304.8 72.4 307.2 72.7 309.6 73.2 312.1 73.8 314.5 74.6 316.9 75.6 319.3 77.7M290.3 77.7 292.7 79.8 295.1 80.8 297.6 81.6 300 82.2 302.4 82.7 304.8 83 307.2 82.7 309.6 82.2 312.1 81.6 314.5 80.8 316.9 79.8 319.3 77.7M319.3 77.7 321.7 76.9 324.1 76.6 326.6 76.4 329 76.2 331.4 76.1 333.8 75.9 336.2 76.1 338.6 76.2 341.1 76.4 343.5 76.6 345.9 76.9 348.3 77.7M319.3 77.7 321.7 78.5 324.1 78.8 326.6 79 329 79.2 331.4 79.3 333.8 79.5 336.2 79.3 338.6 79.2 341.1 79 343.5 78.8 345.9 78.5 348.3 77.7M319.3 77.7 321.7 76.2 324.1 75.6 326.6 75.1 329 74.7 331.4 74.4 333.8 74.2 336.2 74.4 338.6 74.7 341.1 75.1 343.5 75.6 345.9 76.2 348.3 77.7M319.3 77.7 321.7 79.2 324.1 79.8 326.6 80.3 329 80.7 331.4 81 333.8 81.2 336.2 81 338.6 80.7 341.1 80.3 343.5 79.8 345.9 79.2 348.3 77.7M319.3 77.7 321.7 75.6 324.1 74.6 326.6 73.8 329 73.2 331.4 72.7 333.8 72.4 336.2 72.7 338.6 73.2 341.1 73.8 343.5 74.6 345.9 75.6 348.3 77.7M319.3 77.7 321.7 79.8 324.1 80.8 326.6 81.6 329 82.2 331.4 82.7 333.8 83 336.2 82.7 338.6 82.2 341.1 81.6 343.5 80.8 345.9 79.8 348.3 77.7" fill="none" stroke="#5e3e92" stroke-width="1.15"/>
<path d="M203.3 77.7 205.7 75 208.1 73.6 210.6 72.5 213 71.6 215.4 71 217.8 70.6 220.2 71 222.6 71.6 225.1 72.5 227.5 73.6 229.9 75 232.3 77.7M203.3 77.7 205.7 80.4 208.1 81.8 210.6 82.9 213 83.8 215.4 84.4 217.8 84.8 220.2 84.4 222.6 83.8 225.1 82.9 227.5 81.8 229.9 80.4 232.3 77.7M203.3 77.7 205.7 74.5 208.1 72.6 210.6 71.2 213 70.1 215.4 69.3 217.8 68.8 220.2 69.3 222.6 70.1 225.1 71.2 227.5 72.6 229.9 74.5 232.3 77.7M203.3 77.7 205.7 80.9 208.1 82.8 210.6 84.2 213 85.3 215.4 86.1 217.8 86.6 220.2 86.1 222.6 85.3 225.1 84.2 227.5 82.8 229.9 80.9 232.3 77.7M203.3 77.7 205.7 74 208.1 71.7 210.6 69.9 213 68.5 215.4 67.6 217.8 67.1 220.2 67.6 222.6 68.5 225.1 69.9 227.5 71.7 229.9 74 232.3 77.7M203.3 77.7 205.7 81.4 208.1 83.7 210.6 85.5 213 86.9 215.4 87.8 217.8 88.3 220.2 87.8 222.6 86.9 225.1 85.5 227.5 83.7 229.9 81.4 232.3 77.7M203.3 77.7 205.7 73.6 208.1 70.9 210.6 68.7 213 67 215.4 65.9 217.8 65.3 220.2 65.9 222.6 67 225.1 68.7 227.5 70.9 229.9 73.6 232.3 77.7M203.3 77.7 205.7 81.8 208.1 84.5 210.6 86.7 213 88.4 215.4 89.5 217.8 90.1 220.2 89.5 222.6 88.4 225.1 86.7 227.5 84.5 229.9 81.8 232.3 77.7M232.3 77.7 234.7 75 237.1 73.6 239.6 72.5 242 71.6 244.4 71 246.8 70.6 249.2 71 251.6 71.6 254.1 72.5 256.5 73.6 258.9 75 261.3 77.7M232.3 77.7 234.7 80.4 237.1 81.8 239.6 82.9 242 83.8 244.4 84.4 246.8 84.8 249.2 84.4 251.6 83.8 254.1 82.9 256.5 81.8 258.9 80.4 261.3 77.7M232.3 77.7 234.7 74.5 237.1 72.6 239.6 71.2 242 70.1 244.4 69.3 246.8 68.8 249.2 69.3 251.6 70.1 254.1 71.2 256.5 72.6 258.9 74.5 261.3 77.7M232.3 77.7 234.7 80.9 237.1 82.8 239.6 84.2 242 85.3 244.4 86.1 246.8 86.6 249.2 86.1 251.6 85.3 254.1 84.2 256.5 82.8 258.9 80.9 261.3 77.7M232.3 77.7 234.7 74 237.1 71.7 239.6 69.9 242 68.5 244.4 67.6 246.8 67.1 249.2 67.6 251.6 68.5 254.1 69.9 256.5 71.7 258.9 74 261.3 77.7M232.3 77.7 234.7 81.4 237.1 83.7 239.6 85.5 242 86.9 244.4 87.8 246.8 88.3 249.2 87.8 251.6 86.9 254.1 85.5 256.5 83.7 258.9 81.4 261.3 77.7M232.3 77.7 234.7 73.6 237.1 70.9 239.6 68.7 242 67 244.4 65.9 246.8 65.3 249.2 65.9 251.6 67 254.1 68.7 256.5 70.9 258.9 73.6 261.3 77.7M232.3 77.7 234.7 81.8 237.1 84.5 239.6 86.7 242 88.4 244.4 89.5 246.8 90.1 249.2 89.5 251.6 88.4 254.1 86.7 256.5 84.5 258.9 81.8 261.3 77.7M261.3 77.7 263.7 75 266.1 73.6 268.6 72.5 271 71.6 273.4 71 275.8 70.6 278.2 71 280.6 71.6 283.1 72.5 285.5 73.6 287.9 75 290.3 77.7M261.3 77.7 263.7 80.4 266.1 81.8 268.6 82.9 271 83.8 273.4 84.4 275.8 84.8 278.2 84.4 280.6 83.8 283.1 82.9 285.5 81.8 287.9 80.4 290.3 77.7M261.3 77.7 263.7 74.5 266.1 72.6 268.6 71.2 271 70.1 273.4 69.3 275.8 68.8 278.2 69.3 280.6 70.1 283.1 71.2 285.5 72.6 287.9 74.5 290.3 77.7M261.3 77.7 263.7 80.9 266.1 82.8 268.6 84.2 271 85.3 273.4 86.1 275.8 86.6 278.2 86.1 280.6 85.3 283.1 84.2 285.5 82.8 287.9 80.9 290.3 77.7M261.3 77.7 263.7 74 266.1 71.7 268.6 69.9 271 68.5 273.4 67.6 275.8 67.1 278.2 67.6 280.6 68.5 283.1 69.9 285.5 71.7 287.9 74 290.3 77.7M261.3 77.7 263.7 81.4 266.1 83.7 268.6 85.5 271 86.9 273.4 87.8 275.8 88.3 278.2 87.8 280.6 86.9 283.1 85.5 285.5 83.7 287.9 81.4 290.3 77.7M261.3 77.7 263.7 73.6 266.1 70.9 268.6 68.7 271 67 273.4 65.9 275.8 65.3 278.2 65.9 280.6 67 283.1 68.7 285.5 70.9 287.9 73.6 290.3 77.7M261.3 77.7 263.7 81.8 266.1 84.5 268.6 86.7 271 88.4 273.4 89.5 275.8 90.1 278.2 89.5 280.6 88.4 283.1 86.7 285.5 84.5 287.9 81.8 290.3 77.7M290.3 77.7 292.7 75 295.1 73.6 297.6 72.5 300 71.6 302.4 71 304.8 70.6 307.2 71 309.6 71.6 312.1 72.5 314.5 73.6 316.9 75 319.3 77.7M290.3 77.7 292.7 80.4 295.1 81.8 297.6 82.9 300 83.8 302.4 84.4 304.8 84.8 307.2 84.4 309.6 83.8 312.1 82.9 314.5 81.8 316.9 80.4 319.3 77.7M290.3 77.7 292.7 74.5 295.1 72.6 297.6 71.2 300 70.1 302.4 69.3 304.8 68.8 307.2 69.3 309.6 70.1 312.1 71.2 314.5 72.6 316.9 74.5 319.3 77.7M290.3 77.7 292.7 80.9 295.1 82.8 297.6 84.2 300 85.3 302.4 86.1 304.8 86.6 307.2 86.1 309.6 85.3 312.1 84.2 314.5 82.8 316.9 80.9 319.3 77.7M290.3 77.7 292.7 74 295.1 71.7 297.6 69.9 300 68.5 302.4 67.6 304.8 67.1 307.2 67.6 309.6 68.5 312.1 69.9 314.5 71.7 316.9 74 319.3 77.7M290.3 77.7 292.7 81.4 295.1 83.7 297.6 85.5 300 86.9 302.4 87.8 304.8 88.3 307.2 87.8 309.6 86.9 312.1 85.5 314.5 83.7 316.9 81.4 319.3 77.7M290.3 77.7 292.7 73.6 295.1 70.9 297.6 68.7 300 67 302.4 65.9 304.8 65.3 307.2 65.9 309.6 67 312.1 68.7 314.5 70.9 316.9 73.6 319.3 77.7M290.3 77.7 292.7 81.8 295.1 84.5 297.6 86.7 300 88.4 302.4 89.5 304.8 90.1 307.2 89.5 309.6 88.4 312.1 86.7 314.5 84.5 316.9 81.8 319.3 77.7M319.3 77.7 321.7 75 324.1 73.6 326.6 72.5 329 71.6 331.4 71 333.8 70.6 336.2 71 338.6 71.6 341.1 72.5 343.5 73.6 345.9 75 348.3 77.7M319.3 77.7 321.7 80.4 324.1 81.8 326.6 82.9 329 83.8 331.4 84.4 333.8 84.8 336.2 84.4 338.6 83.8 341.1 82.9 343.5 81.8 345.9 80.4 348.3 77.7M319.3 77.7 321.7 74.5 324.1 72.6 326.6 71.2 329 70.1 331.4 69.3 333.8 68.8 336.2 69.3 338.6 70.1 341.1 71.2 343.5 72.6 345.9 74.5 348.3 77.7M319.3 77.7 321.7 80.9 324.1 82.8 326.6 84.2 329 85.3 331.4 86.1 333.8 86.6 336.2 86.1 338.6 85.3 341.1 84.2 343.5 82.8 345.9 80.9 348.3 77.7M319.3 77.7 321.7 74 324.1 71.7 326.6 69.9 329 68.5 331.4 67.6 333.8 67.1 336.2 67.6 338.6 68.5 341.1 69.9 343.5 71.7 345.9 74 348.3 77.7M319.3 77.7 321.7 81.4 324.1 83.7 326.6 85.5 329 86.9 331.4 87.8 333.8 88.3 336.2 87.8 338.6 86.9 341.1 85.5 343.5 83.7 345.9 81.4 348.3 77.7M319.3 77.7 321.7 73.6 324.1 70.9 326.6 68.7 329 67 331.4 65.9 333.8 65.3 336.2 65.9 338.6 67 341.1 68.7 343.5 70.9 345.9 73.6 348.3 77.7M319.3 77.7 321.7 81.8 324.1 84.5 326.6 86.7 329 88.4 331.4 89.5 333.8 90.1 336.2 89.5 338.6 88.4 341.1 86.7 343.5 84.5 345.9 81.8 348.3 77.7" fill="none" stroke="#3a22b4" stroke-width="1.15"/>
<line x1="225" y1="123" x2="254" y2="123" stroke="#6a4a8a" stroke-width="1.6"/>
<line x1="254" y1="123" x2="283" y2="123" stroke="#6a4a8a" stroke-width="1.6"/>
<line x1="283" y1="123" x2="312" y2="123" stroke="#6a4a8a" stroke-width="1.6"/>
<line x1="312" y1="123" x2="341" y2="123" stroke="#6a4a8a" stroke-width="1.6"/>
<line x1="341" y1="123" x2="370" y2="123" stroke="#6a4a8a" stroke-width="1.6"/>
<path d="M225 123 227.4 118.6 229.8 115.3 232.2 112.7 234.7 110.7 237.1 109.4 239.5 108.8 241.9 109.4 244.3 110.7 246.8 112.7 249.2 115.3 251.6 118.6 254 123M225 123 227.4 127.4 229.8 130.7 232.2 133.3 234.7 135.3 237.1 136.6 239.5 137.2 241.9 136.6 244.3 135.3 246.8 133.3 249.2 130.7 251.6 127.4 254 123M225 123 227.4 118.3 229.8 114.6 232.2 111.5 234.7 109.2 237.1 107.7 239.5 107 241.9 107.7 244.3 109.2 246.8 111.5 249.2 114.6 251.6 118.3 254 123M225 123 227.4 127.7 229.8 131.4 232.2 134.5 234.7 136.8 237.1 138.3 239.5 139 241.9 138.3 244.3 136.8 246.8 134.5 249.2 131.4 251.6 127.7 254 123M225 123 227.4 118.1 229.8 113.9 232.2 110.3 234.7 107.6 237.1 105.9 239.5 105.3 241.9 105.9 244.3 107.6 246.8 110.3 249.2 113.9 251.6 118.1 254 123M225 123 227.4 127.9 229.8 132.1 232.2 135.7 234.7 138.4 237.1 140.1 239.5 140.7 241.9 140.1 244.3 138.4 246.8 135.7 249.2 132.1 251.6 127.9 254 123M225 123 227.4 118.8 229.8 114.7 232.2 111 234.7 107.9 237.1 105.3 239.5 103.5 241.9 105.3 244.3 107.9 246.8 111 249.2 114.7 251.6 118.8 254 123M225 123 227.4 127.2 229.8 131.3 232.2 135 234.7 138.1 237.1 140.7 239.5 142.5 241.9 140.7 244.3 138.1 246.8 135 249.2 131.3 251.6 127.2 254 123M254 123 256.4 118.6 258.8 115.3 261.2 112.7 263.7 110.7 266.1 109.4 268.5 108.8 270.9 109.4 273.3 110.7 275.8 112.7 278.2 115.3 280.6 118.6 283 123M254 123 256.4 127.4 258.8 130.7 261.2 133.3 263.7 135.3 266.1 136.6 268.5 137.2 270.9 136.6 273.3 135.3 275.8 133.3 278.2 130.7 280.6 127.4 283 123M254 123 256.4 118.3 258.8 114.6 261.2 111.5 263.7 109.2 266.1 107.7 268.5 107 270.9 107.7 273.3 109.2 275.8 111.5 278.2 114.6 280.6 118.3 283 123M254 123 256.4 127.7 258.8 131.4 261.2 134.5 263.7 136.8 266.1 138.3 268.5 139 270.9 138.3 273.3 136.8 275.8 134.5 278.2 131.4 280.6 127.7 283 123M254 123 256.4 118.1 258.8 113.9 261.2 110.3 263.7 107.6 266.1 105.9 268.5 105.3 270.9 105.9 273.3 107.6 275.8 110.3 278.2 113.9 280.6 118.1 283 123M254 123 256.4 127.9 258.8 132.1 261.2 135.7 263.7 138.4 266.1 140.1 268.5 140.7 270.9 140.1 273.3 138.4 275.8 135.7 278.2 132.1 280.6 127.9 283 123M254 123 256.4 118.8 258.8 114.7 261.2 111 263.7 107.9 266.1 105.3 268.5 103.5 270.9 105.3 273.3 107.9 275.8 111 278.2 114.7 280.6 118.8 283 123M254 123 256.4 127.2 258.8 131.3 261.2 135 263.7 138.1 266.1 140.7 268.5 142.5 270.9 140.7 273.3 138.1 275.8 135 278.2 131.3 280.6 127.2 283 123M283 123 285.4 118.6 287.8 115.3 290.2 112.7 292.7 110.7 295.1 109.4 297.5 108.8 299.9 109.4 302.3 110.7 304.8 112.7 307.2 115.3 309.6 118.6 312 123M283 123 285.4 127.4 287.8 130.7 290.2 133.3 292.7 135.3 295.1 136.6 297.5 137.2 299.9 136.6 302.3 135.3 304.8 133.3 307.2 130.7 309.6 127.4 312 123M283 123 285.4 118.3 287.8 114.6 290.2 111.5 292.7 109.2 295.1 107.7 297.5 107 299.9 107.7 302.3 109.2 304.8 111.5 307.2 114.6 309.6 118.3 312 123M283 123 285.4 127.7 287.8 131.4 290.2 134.5 292.7 136.8 295.1 138.3 297.5 139 299.9 138.3 302.3 136.8 304.8 134.5 307.2 131.4 309.6 127.7 312 123M283 123 285.4 118.1 287.8 113.9 290.2 110.3 292.7 107.6 295.1 105.9 297.5 105.3 299.9 105.9 302.3 107.6 304.8 110.3 307.2 113.9 309.6 118.1 312 123M283 123 285.4 127.9 287.8 132.1 290.2 135.7 292.7 138.4 295.1 140.1 297.5 140.7 299.9 140.1 302.3 138.4 304.8 135.7 307.2 132.1 309.6 127.9 312 123M283 123 285.4 118.8 287.8 114.7 290.2 111 292.7 107.9 295.1 105.3 297.5 103.5 299.9 105.3 302.3 107.9 304.8 111 307.2 114.7 309.6 118.8 312 123M283 123 285.4 127.2 287.8 131.3 290.2 135 292.7 138.1 295.1 140.7 297.5 142.5 299.9 140.7 302.3 138.1 304.8 135 307.2 131.3 309.6 127.2 312 123M312 123 314.4 118.6 316.8 115.3 319.2 112.7 321.7 110.7 324.1 109.4 326.5 108.8 328.9 109.4 331.3 110.7 333.8 112.7 336.2 115.3 338.6 118.6 341 123M312 123 314.4 127.4 316.8 130.7 319.2 133.3 321.7 135.3 324.1 136.6 326.5 137.2 328.9 136.6 331.3 135.3 333.8 133.3 336.2 130.7 338.6 127.4 341 123M312 123 314.4 118.3 316.8 114.6 319.2 111.5 321.7 109.2 324.1 107.7 326.5 107 328.9 107.7 331.3 109.2 333.8 111.5 336.2 114.6 338.6 118.3 341 123M312 123 314.4 127.7 316.8 131.4 319.2 134.5 321.7 136.8 324.1 138.3 326.5 139 328.9 138.3 331.3 136.8 333.8 134.5 336.2 131.4 338.6 127.7 341 123M312 123 314.4 118.1 316.8 113.9 319.2 110.3 321.7 107.6 324.1 105.9 326.5 105.3 328.9 105.9 331.3 107.6 333.8 110.3 336.2 113.9 338.6 118.1 341 123M312 123 314.4 127.9 316.8 132.1 319.2 135.7 321.7 138.4 324.1 140.1 326.5 140.7 328.9 140.1 331.3 138.4 333.8 135.7 336.2 132.1 338.6 127.9 341 123M312 123 314.4 118.8 316.8 114.7 319.2 111 321.7 107.9 324.1 105.3 326.5 103.5 328.9 105.3 331.3 107.9 333.8 111 336.2 114.7 338.6 118.8 341 123M312 123 314.4 127.2 316.8 131.3 319.2 135 321.7 138.1 324.1 140.7 326.5 142.5 328.9 140.7 331.3 138.1 333.8 135 336.2 131.3 338.6 127.2 341 123M341 123 343.4 118.6 345.8 115.3 348.2 112.7 350.7 110.7 353.1 109.4 355.5 108.8 357.9 109.4 360.3 110.7 362.8 112.7 365.2 115.3 367.6 118.6 370 123M341 123 343.4 127.4 345.8 130.7 348.2 133.3 350.7 135.3 353.1 136.6 355.5 137.2 357.9 136.6 360.3 135.3 362.8 133.3 365.2 130.7 367.6 127.4 370 123M341 123 343.4 118.3 345.8 114.6 348.2 111.5 350.7 109.2 353.1 107.7 355.5 107 357.9 107.7 360.3 109.2 362.8 111.5 365.2 114.6 367.6 118.3 370 123M341 123 343.4 127.7 345.8 131.4 348.2 134.5 350.7 136.8 353.1 138.3 355.5 139 357.9 138.3 360.3 136.8 362.8 134.5 365.2 131.4 367.6 127.7 370 123M341 123 343.4 118.1 345.8 113.9 348.2 110.3 350.7 107.6 353.1 105.9 355.5 105.3 357.9 105.9 360.3 107.6 362.8 110.3 365.2 113.9 367.6 118.1 370 123M341 123 343.4 127.9 345.8 132.1 348.2 135.7 350.7 138.4 353.1 140.1 355.5 140.7 357.9 140.1 360.3 138.4 362.8 135.7 365.2 132.1 367.6 127.9 370 123M341 123 343.4 118.8 345.8 114.7 348.2 111 350.7 107.9 353.1 105.3 355.5 103.5 357.9 105.3 360.3 107.9 362.8 111 365.2 114.7 367.6 118.8 370 123M341 123 343.4 127.2 345.8 131.3 348.2 135 350.7 138.1 353.1 140.7 355.5 142.5 357.9 140.7 360.3 138.1 362.8 135 365.2 131.3 367.6 127.2 370 123" fill="none" stroke="#3218c0" stroke-width="1.35"/>
<path d="M225 123 227.4 122.2 229.8 121.9 232.2 121.7 234.7 121.5 237.1 121.4 239.5 121.2 241.9 121.4 244.3 121.5 246.8 121.7 249.2 121.9 251.6 122.2 254 123M225 123 227.4 123.8 229.8 124.1 232.2 124.3 234.7 124.5 237.1 124.6 239.5 124.8 241.9 124.6 244.3 124.5 246.8 124.3 249.2 124.1 251.6 123.8 254 123M225 123 227.4 121.5 229.8 120.9 232.2 120.4 234.7 120 237.1 119.7 239.5 119.5 241.9 119.7 244.3 120 246.8 120.4 249.2 120.9 251.6 121.5 254 123M225 123 227.4 124.5 229.8 125.1 232.2 125.6 234.7 126 237.1 126.3 239.5 126.5 241.9 126.3 244.3 126 246.8 125.6 249.2 125.1 251.6 124.5 254 123M225 123 227.4 120.9 229.8 119.9 232.2 119.1 234.7 118.5 237.1 118 239.5 117.7 241.9 118 244.3 118.5 246.8 119.1 249.2 119.9 251.6 120.9 254 123M225 123 227.4 125.1 229.8 126.1 232.2 126.9 234.7 127.5 237.1 128 239.5 128.3 241.9 128 244.3 127.5 246.8 126.9 249.2 126.1 251.6 125.1 254 123M254 123 256.4 122.2 258.8 121.9 261.2 121.7 263.7 121.5 266.1 121.4 268.5 121.2 270.9 121.4 273.3 121.5 275.8 121.7 278.2 121.9 280.6 122.2 283 123M254 123 256.4 123.8 258.8 124.1 261.2 124.3 263.7 124.5 266.1 124.6 268.5 124.8 270.9 124.6 273.3 124.5 275.8 124.3 278.2 124.1 280.6 123.8 283 123M254 123 256.4 121.5 258.8 120.9 261.2 120.4 263.7 120 266.1 119.7 268.5 119.5 270.9 119.7 273.3 120 275.8 120.4 278.2 120.9 280.6 121.5 283 123M254 123 256.4 124.5 258.8 125.1 261.2 125.6 263.7 126 266.1 126.3 268.5 126.5 270.9 126.3 273.3 126 275.8 125.6 278.2 125.1 280.6 124.5 283 123M254 123 256.4 120.9 258.8 119.9 261.2 119.1 263.7 118.5 266.1 118 268.5 117.7 270.9 118 273.3 118.5 275.8 119.1 278.2 119.9 280.6 120.9 283 123M254 123 256.4 125.1 258.8 126.1 261.2 126.9 263.7 127.5 266.1 128 268.5 128.3 270.9 128 273.3 127.5 275.8 126.9 278.2 126.1 280.6 125.1 283 123M283 123 285.4 122.2 287.8 121.9 290.2 121.7 292.7 121.5 295.1 121.4 297.5 121.2 299.9 121.4 302.3 121.5 304.8 121.7 307.2 121.9 309.6 122.2 312 123M283 123 285.4 123.8 287.8 124.1 290.2 124.3 292.7 124.5 295.1 124.6 297.5 124.8 299.9 124.6 302.3 124.5 304.8 124.3 307.2 124.1 309.6 123.8 312 123M283 123 285.4 121.5 287.8 120.9 290.2 120.4 292.7 120 295.1 119.7 297.5 119.5 299.9 119.7 302.3 120 304.8 120.4 307.2 120.9 309.6 121.5 312 123M283 123 285.4 124.5 287.8 125.1 290.2 125.6 292.7 126 295.1 126.3 297.5 126.5 299.9 126.3 302.3 126 304.8 125.6 307.2 125.1 309.6 124.5 312 123M283 123 285.4 120.9 287.8 119.9 290.2 119.1 292.7 118.5 295.1 118 297.5 117.7 299.9 118 302.3 118.5 304.8 119.1 307.2 119.9 309.6 120.9 312 123M283 123 285.4 125.1 287.8 126.1 290.2 126.9 292.7 127.5 295.1 128 297.5 128.3 299.9 128 302.3 127.5 304.8 126.9 307.2 126.1 309.6 125.1 312 123M312 123 314.4 122.2 316.8 121.9 319.2 121.7 321.7 121.5 324.1 121.4 326.5 121.2 328.9 121.4 331.3 121.5 333.8 121.7 336.2 121.9 338.6 122.2 341 123M312 123 314.4 123.8 316.8 124.1 319.2 124.3 321.7 124.5 324.1 124.6 326.5 124.8 328.9 124.6 331.3 124.5 333.8 124.3 336.2 124.1 338.6 123.8 341 123M312 123 314.4 121.5 316.8 120.9 319.2 120.4 321.7 120 324.1 119.7 326.5 119.5 328.9 119.7 331.3 120 333.8 120.4 336.2 120.9 338.6 121.5 341 123M312 123 314.4 124.5 316.8 125.1 319.2 125.6 321.7 126 324.1 126.3 326.5 126.5 328.9 126.3 331.3 126 333.8 125.6 336.2 125.1 338.6 124.5 341 123M312 123 314.4 120.9 316.8 119.9 319.2 119.1 321.7 118.5 324.1 118 326.5 117.7 328.9 118 331.3 118.5 333.8 119.1 336.2 119.9 338.6 120.9 341 123M312 123 314.4 125.1 316.8 126.1 319.2 126.9 321.7 127.5 324.1 128 326.5 128.3 328.9 128 331.3 127.5 333.8 126.9 336.2 126.1 338.6 125.1 341 123M341 123 343.4 122.2 345.8 121.9 348.2 121.7 350.7 121.5 353.1 121.4 355.5 121.2 357.9 121.4 360.3 121.5 362.8 121.7 365.2 121.9 367.6 122.2 370 123M341 123 343.4 123.8 345.8 124.1 348.2 124.3 350.7 124.5 353.1 124.6 355.5 124.8 357.9 124.6 360.3 124.5 362.8 124.3 365.2 124.1 367.6 123.8 370 123M341 123 343.4 121.5 345.8 120.9 348.2 120.4 350.7 120 353.1 119.7 355.5 119.5 357.9 119.7 360.3 120 362.8 120.4 365.2 120.9 367.6 121.5 370 123M341 123 343.4 124.5 345.8 125.1 348.2 125.6 350.7 126 353.1 126.3 355.5 126.5 357.9 126.3 360.3 126 362.8 125.6 365.2 125.1 367.6 124.5 370 123M341 123 343.4 120.9 345.8 119.9 348.2 119.1 350.7 118.5 353.1 118 355.5 117.7 357.9 118 360.3 118.5 362.8 119.1 365.2 119.9 367.6 120.9 370 123M341 123 343.4 125.1 345.8 126.1 348.2 126.9 350.7 127.5 353.1 128 355.5 128.3 357.9 128 360.3 127.5 362.8 126.9 365.2 126.1 367.6 125.1 370 123" fill="none" stroke="#5e3e92" stroke-width="1.15"/>
<path d="M225 123 227.4 120.3 229.8 118.9 232.2 117.8 234.7 116.9 237.1 116.3 239.5 115.9 241.9 116.3 244.3 116.9 246.8 117.8 249.2 118.9 251.6 120.3 254 123M225 123 227.4 125.7 229.8 127.1 232.2 128.2 234.7 129.1 237.1 129.7 239.5 130.1 241.9 129.7 244.3 129.1 246.8 128.2 249.2 127.1 251.6 125.7 254 123M225 123 227.4 119.8 229.8 117.9 232.2 116.5 234.7 115.4 237.1 114.6 239.5 114.1 241.9 114.6 244.3 115.4 246.8 116.5 249.2 117.9 251.6 119.8 254 123M225 123 227.4 126.2 229.8 128.1 232.2 129.5 234.7 130.6 237.1 131.4 239.5 131.9 241.9 131.4 244.3 130.6 246.8 129.5 249.2 128.1 251.6 126.2 254 123M225 123 227.4 119.3 229.8 117 232.2 115.2 234.7 113.8 237.1 112.9 239.5 112.4 241.9 112.9 244.3 113.8 246.8 115.2 249.2 117 251.6 119.3 254 123M225 123 227.4 126.7 229.8 129 232.2 130.8 234.7 132.2 237.1 133.1 239.5 133.6 241.9 133.1 244.3 132.2 246.8 130.8 249.2 129 251.6 126.7 254 123M225 123 227.4 118.9 229.8 116.2 232.2 114 234.7 112.3 237.1 111.2 239.5 110.6 241.9 111.2 244.3 112.3 246.8 114 249.2 116.2 251.6 118.9 254 123M225 123 227.4 127.1 229.8 129.8 232.2 132 234.7 133.7 237.1 134.8 239.5 135.4 241.9 134.8 244.3 133.7 246.8 132 249.2 129.8 251.6 127.1 254 123M254 123 256.4 120.3 258.8 118.9 261.2 117.8 263.7 116.9 266.1 116.3 268.5 115.9 270.9 116.3 273.3 116.9 275.8 117.8 278.2 118.9 280.6 120.3 283 123M254 123 256.4 125.7 258.8 127.1 261.2 128.2 263.7 129.1 266.1 129.7 268.5 130.1 270.9 129.7 273.3 129.1 275.8 128.2 278.2 127.1 280.6 125.7 283 123M254 123 256.4 119.8 258.8 117.9 261.2 116.5 263.7 115.4 266.1 114.6 268.5 114.1 270.9 114.6 273.3 115.4 275.8 116.5 278.2 117.9 280.6 119.8 283 123M254 123 256.4 126.2 258.8 128.1 261.2 129.5 263.7 130.6 266.1 131.4 268.5 131.9 270.9 131.4 273.3 130.6 275.8 129.5 278.2 128.1 280.6 126.2 283 123M254 123 256.4 119.3 258.8 117 261.2 115.2 263.7 113.8 266.1 112.9 268.5 112.4 270.9 112.9 273.3 113.8 275.8 115.2 278.2 117 280.6 119.3 283 123M254 123 256.4 126.7 258.8 129 261.2 130.8 263.7 132.2 266.1 133.1 268.5 133.6 270.9 133.1 273.3 132.2 275.8 130.8 278.2 129 280.6 126.7 283 123M254 123 256.4 118.9 258.8 116.2 261.2 114 263.7 112.3 266.1 111.2 268.5 110.6 270.9 111.2 273.3 112.3 275.8 114 278.2 116.2 280.6 118.9 283 123M254 123 256.4 127.1 258.8 129.8 261.2 132 263.7 133.7 266.1 134.8 268.5 135.4 270.9 134.8 273.3 133.7 275.8 132 278.2 129.8 280.6 127.1 283 123M283 123 285.4 120.3 287.8 118.9 290.2 117.8 292.7 116.9 295.1 116.3 297.5 115.9 299.9 116.3 302.3 116.9 304.8 117.8 307.2 118.9 309.6 120.3 312 123M283 123 285.4 125.7 287.8 127.1 290.2 128.2 292.7 129.1 295.1 129.7 297.5 130.1 299.9 129.7 302.3 129.1 304.8 128.2 307.2 127.1 309.6 125.7 312 123M283 123 285.4 119.8 287.8 117.9 290.2 116.5 292.7 115.4 295.1 114.6 297.5 114.1 299.9 114.6 302.3 115.4 304.8 116.5 307.2 117.9 309.6 119.8 312 123M283 123 285.4 126.2 287.8 128.1 290.2 129.5 292.7 130.6 295.1 131.4 297.5 131.9 299.9 131.4 302.3 130.6 304.8 129.5 307.2 128.1 309.6 126.2 312 123M283 123 285.4 119.3 287.8 117 290.2 115.2 292.7 113.8 295.1 112.9 297.5 112.4 299.9 112.9 302.3 113.8 304.8 115.2 307.2 117 309.6 119.3 312 123M283 123 285.4 126.7 287.8 129 290.2 130.8 292.7 132.2 295.1 133.1 297.5 133.6 299.9 133.1 302.3 132.2 304.8 130.8 307.2 129 309.6 126.7 312 123M283 123 285.4 118.9 287.8 116.2 290.2 114 292.7 112.3 295.1 111.2 297.5 110.6 299.9 111.2 302.3 112.3 304.8 114 307.2 116.2 309.6 118.9 312 123M283 123 285.4 127.1 287.8 129.8 290.2 132 292.7 133.7 295.1 134.8 297.5 135.4 299.9 134.8 302.3 133.7 304.8 132 307.2 129.8 309.6 127.1 312 123M312 123 314.4 120.3 316.8 118.9 319.2 117.8 321.7 116.9 324.1 116.3 326.5 115.9 328.9 116.3 331.3 116.9 333.8 117.8 336.2 118.9 338.6 120.3 341 123M312 123 314.4 125.7 316.8 127.1 319.2 128.2 321.7 129.1 324.1 129.7 326.5 130.1 328.9 129.7 331.3 129.1 333.8 128.2 336.2 127.1 338.6 125.7 341 123M312 123 314.4 119.8 316.8 117.9 319.2 116.5 321.7 115.4 324.1 114.6 326.5 114.1 328.9 114.6 331.3 115.4 333.8 116.5 336.2 117.9 338.6 119.8 341 123M312 123 314.4 126.2 316.8 128.1 319.2 129.5 321.7 130.6 324.1 131.4 326.5 131.9 328.9 131.4 331.3 130.6 333.8 129.5 336.2 128.1 338.6 126.2 341 123M312 123 314.4 119.3 316.8 117 319.2 115.2 321.7 113.8 324.1 112.9 326.5 112.4 328.9 112.9 331.3 113.8 333.8 115.2 336.2 117 338.6 119.3 341 123M312 123 314.4 126.7 316.8 129 319.2 130.8 321.7 132.2 324.1 133.1 326.5 133.6 328.9 133.1 331.3 132.2 333.8 130.8 336.2 129 338.6 126.7 341 123M312 123 314.4 118.9 316.8 116.2 319.2 114 321.7 112.3 324.1 111.2 326.5 110.6 328.9 111.2 331.3 112.3 333.8 114 336.2 116.2 338.6 118.9 341 123M312 123 314.4 127.1 316.8 129.8 319.2 132 321.7 133.7 324.1 134.8 326.5 135.4 328.9 134.8 331.3 133.7 333.8 132 336.2 129.8 338.6 127.1 341 123M341 123 343.4 120.3 345.8 118.9 348.2 117.8 350.7 116.9 353.1 116.3 355.5 115.9 357.9 116.3 360.3 116.9 362.8 117.8 365.2 118.9 367.6 120.3 370 123M341 123 343.4 125.7 345.8 127.1 348.2 128.2 350.7 129.1 353.1 129.7 355.5 130.1 357.9 129.7 360.3 129.1 362.8 128.2 365.2 127.1 367.6 125.7 370 123M341 123 343.4 119.8 345.8 117.9 348.2 116.5 350.7 115.4 353.1 114.6 355.5 114.1 357.9 114.6 360.3 115.4 362.8 116.5 365.2 117.9 367.6 119.8 370 123M341 123 343.4 126.2 345.8 128.1 348.2 129.5 350.7 130.6 353.1 131.4 355.5 131.9 357.9 131.4 360.3 130.6 362.8 129.5 365.2 128.1 367.6 126.2 370 123M341 123 343.4 119.3 345.8 117 348.2 115.2 350.7 113.8 353.1 112.9 355.5 112.4 357.9 112.9 360.3 113.8 362.8 115.2 365.2 117 367.6 119.3 370 123M341 123 343.4 126.7 345.8 129 348.2 130.8 350.7 132.2 353.1 133.1 355.5 133.6 357.9 133.1 360.3 132.2 362.8 130.8 365.2 129 367.6 126.7 370 123M341 123 343.4 118.9 345.8 116.2 348.2 114 350.7 112.3 353.1 111.2 355.5 110.6 357.9 111.2 360.3 112.3 362.8 114 365.2 116.2 367.6 118.9 370 123M341 123 343.4 127.1 345.8 129.8 348.2 132 350.7 133.7 353.1 134.8 355.5 135.4 357.9 134.8 360.3 133.7 362.8 132 365.2 129.8 367.6 127.1 370 123" fill="none" stroke="#3a22b4" stroke-width="1.15"/>
<circle cx="267.8" cy="33.6" r="1.1" fill="#f0a818"/>
<circle cx="296.4" cy="33.6" r="1.1" fill="#f0a818"/>
</g>
<rect x="259.7" y="17.3" width="60.6" height="120.7" fill="none" stroke="#888" stroke-width="0.8"/>
<linearGradient id="gch" x1="0" x2="1" y1="0" y2="0"><stop offset="0" stop-color="#c6daee"/><stop offset="0.35" stop-color="#eef4fa"/><stop offset="0.65" stop-color="#eef4fa"/><stop offset="1" stop-color="#c6daee"/></linearGradient>
<rect x="323" y="19" width="42" height="116.7" fill="url(#gch)"/>
<rect x="338.3" y="19.5" width="14.4" height="109.5" fill="#e2ecf6" stroke="#8a9aa8" stroke-width="0.7"/>
<line x1="341.5" y1="31.9" x2="348.7" y2="24.8" stroke="#f0b020" stroke-width="1.3"/>
<line x1="341.5" y1="31.9" x2="348.7" y2="38.9" stroke="#f0b020" stroke-width="1.3"/>
<line x1="334.8" y1="24.8" x2="341.5" y2="31.9" stroke="#3a50f0" stroke-width="1.0" stroke-dasharray="1.2,0.9"/>
<line x1="334.8" y1="38.9" x2="341.5" y2="31.9" stroke="#3a50f0" stroke-width="1.0" stroke-dasharray="1.2,0.9"/>
<line x1="348.7" y1="24.8" x2="356.4" y2="31.9" stroke="#3a50f0" stroke-width="1.0" stroke-dasharray="1.2,0.9"/>
<line x1="348.7" y1="38.9" x2="356.4" y2="31.9" stroke="#3a50f0" stroke-width="1.0" stroke-dasharray="1.2,0.9"/>
<line x1="341.5" y1="45.9" x2="348.7" y2="38.9" stroke="#f0b020" stroke-width="1.3"/>
<line x1="341.5" y1="45.9" x2="348.7" y2="52.9" stroke="#f0b020" stroke-width="1.3"/>
<line x1="334.8" y1="38.9" x2="341.5" y2="45.9" stroke="#3a50f0" stroke-width="1.0" stroke-dasharray="1.2,0.9"/>
<line x1="334.8" y1="52.9" x2="341.5" y2="45.9" stroke="#3a50f0" stroke-width="1.0" stroke-dasharray="1.2,0.9"/>
<line x1="348.7" y1="38.9" x2="356.4" y2="45.9" stroke="#3a50f0" stroke-width="1.0" stroke-dasharray="1.2,0.9"/>
<line x1="348.7" y1="52.9" x2="356.4" y2="45.9" stroke="#3a50f0" stroke-width="1.0" stroke-dasharray="1.2,0.9"/>
<line x1="341.5" y1="60" x2="348.7" y2="52.9" stroke="#f0b020" stroke-width="1.3"/>
<line x1="341.5" y1="60" x2="348.7" y2="67" stroke="#f0b020" stroke-width="1.3"/>
<line x1="334.8" y1="52.9" x2="341.5" y2="60" stroke="#3a50f0" stroke-width="1.0" stroke-dasharray="1.2,0.9"/>
<line x1="334.8" y1="67" x2="341.5" y2="60" stroke="#3a50f0" stroke-width="1.0" stroke-dasharray="1.2,0.9"/>
<line x1="348.7" y1="52.9" x2="356.4" y2="60" stroke="#3a50f0" stroke-width="1.0" stroke-dasharray="1.2,0.9"/>
<line x1="348.7" y1="67" x2="356.4" y2="60" stroke="#3a50f0" stroke-width="1.0" stroke-dasharray="1.2,0.9"/>
<line x1="341.5" y1="74" x2="348.7" y2="67" stroke="#f0b020" stroke-width="1.3"/>
<line x1="341.5" y1="74" x2="348.7" y2="81" stroke="#f0b020" stroke-width="1.3"/>
<line x1="334.8" y1="67" x2="341.5" y2="74" stroke="#3a50f0" stroke-width="1.0" stroke-dasharray="1.2,0.9"/>
<line x1="334.8" y1="81" x2="341.5" y2="74" stroke="#3a50f0" stroke-width="1.0" stroke-dasharray="1.2,0.9"/>
<line x1="348.7" y1="67" x2="356.4" y2="74" stroke="#3a50f0" stroke-width="1.0" stroke-dasharray="1.2,0.9"/>
<line x1="348.7" y1="81" x2="356.4" y2="74" stroke="#3a50f0" stroke-width="1.0" stroke-dasharray="1.2,0.9"/>
<line x1="341.5" y1="88" x2="348.7" y2="81" stroke="#f0b020" stroke-width="1.3"/>
<line x1="341.5" y1="88" x2="348.7" y2="95" stroke="#f0b020" stroke-width="1.3"/>
<line x1="334.8" y1="81" x2="341.5" y2="88" stroke="#3a50f0" stroke-width="1.0" stroke-dasharray="1.2,0.9"/>
<line x1="334.8" y1="95" x2="341.5" y2="88" stroke="#3a50f0" stroke-width="1.0" stroke-dasharray="1.2,0.9"/>
<line x1="348.7" y1="81" x2="356.4" y2="88" stroke="#3a50f0" stroke-width="1.0" stroke-dasharray="1.2,0.9"/>
<line x1="348.7" y1="95" x2="356.4" y2="88" stroke="#3a50f0" stroke-width="1.0" stroke-dasharray="1.2,0.9"/>
<line x1="341.5" y1="102.1" x2="348.7" y2="95" stroke="#f0b020" stroke-width="1.3"/>
<line x1="341.5" y1="102.1" x2="348.7" y2="109.1" stroke="#f0b020" stroke-width="1.3"/>
<line x1="334.8" y1="95" x2="341.5" y2="102.1" stroke="#3a50f0" stroke-width="1.0" stroke-dasharray="1.2,0.9"/>
<line x1="334.8" y1="109.1" x2="341.5" y2="102.1" stroke="#3a50f0" stroke-width="1.0" stroke-dasharray="1.2,0.9"/>
<line x1="348.7" y1="95" x2="356.4" y2="102.1" stroke="#3a50f0" stroke-width="1.0" stroke-dasharray="1.2,0.9"/>
<line x1="348.7" y1="109.1" x2="356.4" y2="102.1" stroke="#3a50f0" stroke-width="1.0" stroke-dasharray="1.2,0.9"/>
<line x1="341.5" y1="116.2" x2="348.7" y2="109.1" stroke="#f0b020" stroke-width="1.3"/>
<line x1="341.5" y1="116.2" x2="348.7" y2="123.2" stroke="#f0b020" stroke-width="1.3"/>
<line x1="334.8" y1="109.1" x2="341.5" y2="116.2" stroke="#3a50f0" stroke-width="1.0" stroke-dasharray="1.2,0.9"/>
<line x1="334.8" y1="123.2" x2="341.5" y2="116.2" stroke="#3a50f0" stroke-width="1.0" stroke-dasharray="1.2,0.9"/>
<line x1="348.7" y1="109.1" x2="356.4" y2="116.2" stroke="#3a50f0" stroke-width="1.0" stroke-dasharray="1.2,0.9"/>
<line x1="348.7" y1="123.2" x2="356.4" y2="116.2" stroke="#3a50f0" stroke-width="1.0" stroke-dasharray="1.2,0.9"/>
<circle cx="334.8" cy="24.8" r="2.5" fill="#383838"/>
<circle cx="348.7" cy="24.8" r="2.5" fill="#383838"/>
<circle cx="341.5" cy="31.9" r="2.5" fill="#383838"/>
<circle cx="356.4" cy="31.9" r="2.5" fill="#383838"/>
<circle cx="334.8" cy="38.9" r="2.5" fill="#383838"/>
<circle cx="348.7" cy="38.9" r="2.5" fill="#383838"/>
<circle cx="341.5" cy="45.9" r="2.5" fill="#383838"/>
<circle cx="356.4" cy="45.9" r="2.5" fill="#383838"/>
<circle cx="334.8" cy="52.9" r="2.5" fill="#383838"/>
<circle cx="348.7" cy="52.9" r="2.5" fill="#383838"/>
<circle cx="341.5" cy="60" r="2.5" fill="#383838"/>
<circle cx="356.4" cy="60" r="2.5" fill="#383838"/>
<circle cx="334.8" cy="67" r="2.5" fill="#383838"/>
<circle cx="348.7" cy="67" r="2.5" fill="#383838"/>
<circle cx="341.5" cy="74" r="2.5" fill="#383838"/>
<circle cx="356.4" cy="74" r="2.5" fill="#383838"/>
<circle cx="334.8" cy="81" r="2.5" fill="#383838"/>
<circle cx="348.7" cy="81" r="2.5" fill="#383838"/>
<circle cx="341.5" cy="88" r="2.5" fill="#383838"/>
<circle cx="356.4" cy="88" r="2.5" fill="#383838"/>
<circle cx="334.8" cy="95" r="2.5" fill="#383838"/>
<circle cx="348.7" cy="95" r="2.5" fill="#383838"/>
<circle cx="341.5" cy="102.1" r="2.5" fill="#383838"/>
<circle cx="356.4" cy="102.1" r="2.5" fill="#383838"/>
<circle cx="334.8" cy="109.1" r="2.5" fill="#383838"/>
<circle cx="348.7" cy="109.1" r="2.5" fill="#383838"/>
<circle cx="341.5" cy="116.2" r="2.5" fill="#383838"/>
<circle cx="356.4" cy="116.2" r="2.5" fill="#383838"/>
<circle cx="334.8" cy="123.2" r="2.5" fill="#383838"/>
<circle cx="348.7" cy="123.2" r="2.5" fill="#383838"/>
<circle cx="325.5" cy="58.8" r="0.5" fill="#333"/>
<circle cx="327.5" cy="58.8" r="0.5" fill="#333"/>
<circle cx="358.5" cy="64" r="0.5" fill="#333"/>
<circle cx="360.5" cy="64" r="0.5" fill="#333"/>
<circle cx="362.5" cy="64" r="0.5" fill="#333"/>
<line x1="328" y1="132.8" x2="328" y2="121.5" stroke="#000" stroke-width="0.9"/>
<polygon points="326.4,122 329.6,122 328,118.8" fill="#000"/>
<line x1="328" y1="132.8" x2="338.5" y2="132.8" stroke="#000" stroke-width="0.9"/>
<polygon points="338,131.2 338,134.4 341,132.8" fill="#000"/>
<text x="325.3" y="115" font-size="6" fill="#222" text-anchor="middle" font-family="Liberation Serif" font-style="italic" >ū</text>
<text x="343" y="135.5" font-size="6" fill="#222" text-anchor="middle" font-family="Liberation Serif" font-style="italic" >v̄</text>
<linearGradient id="gcb1" x1="0" x2="1"><stop offset="0" stop-color="#3a22b8"/><stop offset="1" stop-color="#f0a818"/></linearGradient>
<rect x="332.4" y="139" width="21" height="6.3" fill="#fff"/>
<rect x="333.6" y="140.2" width="18.6" height="3.9" fill="url(#gcb1)"/>
<path d="M332.4,138.5 L330,140 L330,144.2 L332.4,145.7" fill="none" stroke="#2a20d0" stroke-width="1.3"/>
<path d="M352.5,138 L355,138 L355,146 L352.5,146" fill="none" stroke="#f0a818" stroke-width="1.3"/>
<rect x="386.6" y="23" width="111.4" height="117" fill="#fff" stroke="#999" stroke-width="0.8"/>
<clipPath id="cc"><rect x="387" y="23.5" width="110.6" height="116"/></clipPath><g clip-path="url(#cc)">
<path d="M386,86 C392,82 401,78 409.6,79 C418,80 428,93 442,95 C452,96 460,88 465,79.4 C470,84 477,90 475,98 C473,107 460,112 457,119 C455,124 452,124 447,121 C441,117 432,118 426,122 C421,126 417,122 416,116 C413,110 400,108 386,98" fill="none" stroke="#333" stroke-width="1.1"/>
<path d="M498,86 C490,88 488,95 498,99" fill="none" stroke="#333" stroke-width="1.0"/>
</g>
<circle cx="409.6" cy="79" r="1.7" fill="#1f6fc0"/>
<circle cx="465" cy="79.4" r="1.8" fill="#e01010"/>
<ellipse cx="411" cy="120.6" rx="9.8" ry="7.2" fill="none" stroke="#e02020" stroke-width="1.3"/>
<ellipse cx="466" cy="120.6" rx="10.3" ry="7.4" fill="none" stroke="#2080d0" stroke-width="1.3"/>
<line x1="427" y1="68" x2="414" y2="76.5" stroke="#80b0e0" stroke-width="0.7"/>
<polygon points="413,77.2 416.5,74 417,77.5" fill="#2080d0"/>
<line x1="452" y1="68" x2="462.5" y2="76.5" stroke="#f08080" stroke-width="0.7"/>
<polygon points="463.5,77.5 459.5,76.5 462,73.5" fill="#e01010"/>
<line x1="421" y1="135" x2="415" y2="131.5" stroke="#f08080" stroke-width="0.7"/>
<polygon points="413.5,130.5 417.5,130.5 415.5,133.5" fill="#e01010"/>
<line x1="460" y1="134" x2="464" y2="131.5" stroke="#80b0e0" stroke-width="0.7"/>
<polygon points="465.5,130.5 461.5,131 464,134" fill="#2080d0"/>
<text x="440.3" y="62" font-size="7.9" fill="#111" text-anchor="middle" font-family="Liberation Serif" font-weight="bold" >Space-time Weyl points</text>
<text x="441" y="134.8" font-size="8.2" fill="#111" text-anchor="middle" font-family="Liberation Serif" font-weight="bold" >Bulk bands</text>
<text x="491" y="36.5" font-size="9" fill="#444" text-anchor="end" font-family="Liberation Serif" font-style="italic" >ε = −0.42Ω</text>
<rect x="523" y="21" width="65" height="117.6" fill="#fff"/>
<rect x="524" y="22.3" width="63" height="115.3" fill="none" stroke="#707070" stroke-width="1.1"/>
<line x1="523" y1="51.3" x2="525" y2="51.3" stroke="#666" stroke-width="0.6"/>
<line x1="586" y1="51.3" x2="588" y2="51.3" stroke="#666" stroke-width="0.6"/>
<line x1="523" y1="80" x2="525" y2="80" stroke="#666" stroke-width="0.6"/>
<line x1="586" y1="80" x2="588" y2="80" stroke="#666" stroke-width="0.6"/>
<line x1="523" y1="108.8" x2="525" y2="108.8" stroke="#666" stroke-width="0.6"/>
<line x1="586" y1="108.8" x2="588" y2="108.8" stroke="#666" stroke-width="0.6"/>
<line x1="555.5" y1="21" x2="555.5" y2="23" stroke="#666" stroke-width="0.6"/>
<line x1="555.5" y1="136.6" x2="555.5" y2="138.6" stroke="#666" stroke-width="0.6"/>
<clipPath id="cd"><rect x="523.5" y="21.5" width="64" height="116.6"/></clipPath><g clip-path="url(#cd)">
<path d="M533,140 C538,133 543,126 545,115 C547,104 548,93 551,88 C555,81 562,78 566,71 C571,63 572,48 576,34 C578,28 581,25 585,22.5" fill="none" stroke="#3a22b0" stroke-width="1.8"/>
<path d="M543.5,122 C545,113 547,104 548.5,96" fill="none" stroke="#e8a820" stroke-width="1.2" stroke-dasharray="2.5,1.5"/>
<path d="M570,63 C572,54 574,44 575.5,37" fill="none" stroke="#e8a820" stroke-width="1.2" stroke-dasharray="2.5,1.5"/>
</g>
<linearGradient id="gcbd" x1="0" x2="0" y1="0" y2="1"><stop offset="0" stop-color="#f0a818"/><stop offset="1" stop-color="#3020b0"/></linearGradient>
<rect x="577.3" y="110" width="5" height="16" fill="url(#gcbd)"/>
<text x="580" y="107.5" font-size="7.5" fill="#f0a818" text-anchor="middle" font-family="Liberation Sans" >1</text>
<text x="580" y="134" font-size="7.5" fill="#3a30c0" text-anchor="middle" font-family="Liberation Sans" >0</text>
<rect x="264.2" y="190.1" width="120.6" height="125.7" fill="#fff"/>
<line x1="267.2" y1="207.1" x2="345.2" y2="192.1" stroke="#d0d0d0" stroke-width="0.7"/>
<line x1="345.2" y1="192.1" x2="383.7" y2="228.1" stroke="#d0d0d0" stroke-width="0.7"/>
<line x1="345.2" y1="192.1" x2="345.2" y2="275.1" stroke="#d0d0d0" stroke-width="0.7"/>
<line x1="383.7" y1="228.1" x2="383.7" y2="297.1" stroke="#d0d0d0" stroke-width="0.7"/>
<line x1="267.2" y1="277.1" x2="345.2" y2="275.1" stroke="#d0d0d0" stroke-width="0.7"/>
<line x1="345.2" y1="275.1" x2="383.7" y2="297.1" stroke="#d0d0d0" stroke-width="0.7"/>
<line x1="267.2" y1="242.1" x2="345.2" y2="234.1" stroke="#d0d0d0" stroke-width="0.5"/>
<line x1="345.2" y1="234.1" x2="383.7" y2="262.1" stroke="#d0d0d0" stroke-width="0.5"/>
<line x1="267.2" y1="207.1" x2="267.2" y2="277.1" stroke="#555" stroke-width="0.8"/>
<line x1="267.2" y1="277.1" x2="304.2" y2="314.1" stroke="#333" stroke-width="0.8"/>
<line x1="304.2" y1="314.1" x2="383.7" y2="297.1" stroke="#333" stroke-width="0.8"/>
<line x1="267.2" y1="207.1" x2="269.2" y2="207.1" stroke="#333" stroke-width="0.6"/>
<line x1="267.2" y1="242.1" x2="269.2" y2="242.1" stroke="#333" stroke-width="0.6"/>
<line x1="267.2" y1="277.1" x2="269.2" y2="277.1" stroke="#333" stroke-width="0.6"/>
<polygon points="291.3,230.4 309.4,208.8 357.8,217.8 357.8,281.4 340.7,304 291.3,295" fill="#3a28b0"/>
<circle cx="308.4" cy="206.8" r="1.9" fill="#4048d8"/>
<circle cx="308.4" cy="211.5" r="1.9" fill="#3a28b0"/>
<circle cx="313" cy="207.6" r="1.9" fill="#3a30c0"/>
<circle cx="313" cy="212.3" r="1.9" fill="#3a28b0"/>
<circle cx="317.6" cy="208.4" r="1.9" fill="#4048d8"/>
<circle cx="317.6" cy="213.1" r="1.9" fill="#3d30b8"/>
<circle cx="322.1" cy="209.3" r="1.9" fill="#3a30c0"/>
<circle cx="322.1" cy="213.9" r="1.9" fill="#3a28b0"/>
<circle cx="326.7" cy="210.1" r="1.9" fill="#4048d8"/>
<circle cx="326.7" cy="214.8" r="1.9" fill="#3a28b0"/>
<circle cx="331.3" cy="210.9" r="1.9" fill="#3a30c0"/>
<circle cx="331.3" cy="215.6" r="1.9" fill="#3d30b8"/>
<circle cx="335.9" cy="211.7" r="1.9" fill="#4048d8"/>
<circle cx="335.9" cy="216.4" r="1.9" fill="#3a28b0"/>
<circle cx="340.5" cy="212.5" r="1.9" fill="#3a30c0"/>
<circle cx="340.5" cy="217.2" r="1.9" fill="#3a28b0"/>
<circle cx="345.1" cy="213.3" r="1.9" fill="#4048d8"/>
<circle cx="345.1" cy="218" r="1.9" fill="#3d30b8"/>
<circle cx="349.6" cy="214.2" r="1.9" fill="#3a30c0"/>
<circle cx="349.6" cy="218.8" r="1.9" fill="#3a28b0"/>
<circle cx="305.4" cy="210.6" r="1.9" fill="#3a30c0"/>
<circle cx="354.2" cy="215" r="1.9" fill="#4048d8"/>
<circle cx="305.4" cy="215.3" r="1.9" fill="#3a28b0"/>
<circle cx="354.2" cy="219.7" r="1.9" fill="#3a28b0"/>
<circle cx="354.2" cy="224.4" r="1.9" fill="#3d30b8"/>
<circle cx="354.2" cy="229" r="1.9" fill="#3a28b0"/>
<circle cx="354.2" cy="233.7" r="1.9" fill="#3a28b0"/>
<circle cx="354.2" cy="238.4" r="1.9" fill="#3d30b8"/>
<circle cx="354.2" cy="243.1" r="1.9" fill="#3a28b0"/>
<circle cx="354.2" cy="247.8" r="1.9" fill="#3a28b0"/>
<circle cx="354.2" cy="252.5" r="1.9" fill="#3d30b8"/>
<circle cx="354.2" cy="257.2" r="1.9" fill="#3a28b0"/>
<circle cx="310" cy="211.4" r="1.9" fill="#4048d8"/>
<circle cx="354.2" cy="261.8" r="1.9" fill="#3a28b0"/>
<circle cx="358.8" cy="215.8" r="1.9" fill="#38b0e8"/>
<circle cx="310" cy="216.1" r="1.9" fill="#3a28b0"/>
<circle cx="354.2" cy="266.5" r="1.9" fill="#3d30b8"/>
<circle cx="358.8" cy="220.5" r="1.9" fill="#40c8e0"/>
<circle cx="354.2" cy="271.2" r="1.9" fill="#3a28b0"/>
<circle cx="358.8" cy="225.2" r="1.9" fill="#38b0e8"/>
<circle cx="354.2" cy="275.9" r="1.9" fill="#3a28b0"/>
<circle cx="358.8" cy="229.9" r="1.9" fill="#40c8e0"/>
<circle cx="354.2" cy="280.6" r="1.9" fill="#3d30b8"/>
<circle cx="358.8" cy="234.5" r="1.9" fill="#38b0e8"/>
<circle cx="358.8" cy="239.2" r="1.9" fill="#40c8e0"/>
<circle cx="358.8" cy="243.9" r="1.9" fill="#38b0e8"/>
<circle cx="358.8" cy="248.6" r="1.9" fill="#40c8e0"/>
<circle cx="358.8" cy="253.3" r="1.9" fill="#38b0e8"/>
<circle cx="358.8" cy="258" r="1.9" fill="#40c8e0"/>
<circle cx="314.5" cy="212.2" r="1.9" fill="#3a30c0"/>
<circle cx="358.8" cy="262.7" r="1.9" fill="#38b0e8"/>
<circle cx="314.5" cy="216.9" r="1.9" fill="#3d30b8"/>
<circle cx="358.8" cy="267.3" r="1.9" fill="#40c8e0"/>
<circle cx="358.8" cy="272" r="1.9" fill="#38b0e8"/>
<circle cx="358.8" cy="276.7" r="1.9" fill="#40c8e0"/>
<circle cx="358.8" cy="281.4" r="1.9" fill="#38b0e8"/>
<circle cx="319.1" cy="213" r="1.9" fill="#4048d8"/>
<circle cx="319.1" cy="217.7" r="1.9" fill="#3a28b0"/>
<circle cx="323.7" cy="213.8" r="1.9" fill="#3a30c0"/>
<circle cx="323.7" cy="218.5" r="1.9" fill="#3a28b0"/>
<circle cx="328.3" cy="214.7" r="1.9" fill="#4048d8"/>
<circle cx="328.3" cy="219.3" r="1.9" fill="#3d30b8"/>
<circle cx="332.9" cy="215.5" r="1.9" fill="#3a30c0"/>
<circle cx="332.9" cy="220.2" r="1.9" fill="#3a28b0"/>
<circle cx="337.5" cy="216.3" r="1.9" fill="#4048d8"/>
<circle cx="337.5" cy="221" r="1.9" fill="#3a28b0"/>
<circle cx="342" cy="217.1" r="1.9" fill="#3a30c0"/>
<circle cx="342" cy="221.8" r="1.9" fill="#3d30b8"/>
<circle cx="346.6" cy="217.9" r="1.9" fill="#4048d8"/>
<circle cx="346.6" cy="222.6" r="1.9" fill="#3a28b0"/>
<circle cx="302.4" cy="214.3" r="1.9" fill="#4048d8"/>
<circle cx="351.2" cy="218.7" r="1.9" fill="#3a30c0"/>
<circle cx="302.4" cy="219" r="1.9" fill="#3a28b0"/>
<circle cx="351.2" cy="223.4" r="1.9" fill="#3a28b0"/>
<circle cx="351.2" cy="228.1" r="1.9" fill="#3d30b8"/>
<circle cx="351.2" cy="232.8" r="1.9" fill="#3a28b0"/>
<circle cx="351.2" cy="237.5" r="1.9" fill="#3a28b0"/>
<circle cx="351.2" cy="242.2" r="1.9" fill="#3d30b8"/>
<circle cx="351.2" cy="246.9" r="1.9" fill="#3a28b0"/>
<circle cx="351.2" cy="251.5" r="1.9" fill="#3a28b0"/>
<circle cx="351.2" cy="256.2" r="1.9" fill="#3d30b8"/>
<circle cx="351.2" cy="260.9" r="1.9" fill="#3a28b0"/>
<circle cx="306.9" cy="215.2" r="1.9" fill="#3a30c0"/>
<circle cx="351.2" cy="265.6" r="1.9" fill="#3a28b0"/>
<circle cx="355.8" cy="219.6" r="1.9" fill="#90c840"/>
<circle cx="306.9" cy="219.8" r="1.9" fill="#3a28b0"/>
<circle cx="351.2" cy="270.3" r="1.9" fill="#3d30b8"/>
<circle cx="355.8" cy="224.3" r="1.9" fill="#90c840"/>
<circle cx="351.2" cy="275" r="1.9" fill="#3a28b0"/>
<circle cx="355.8" cy="228.9" r="1.9" fill="#90c840"/>
<circle cx="351.2" cy="279.7" r="1.9" fill="#3a28b0"/>
<circle cx="355.8" cy="233.6" r="1.9" fill="#90c840"/>
<circle cx="351.2" cy="284.3" r="1.9" fill="#3d30b8"/>
<circle cx="355.8" cy="238.3" r="1.9" fill="#90c840"/>
<circle cx="355.8" cy="243" r="1.9" fill="#90c840"/>
<circle cx="355.8" cy="247.7" r="1.9" fill="#90c840"/>
<circle cx="355.8" cy="252.4" r="1.9" fill="#3a2ab0"/>
<circle cx="355.8" cy="257.1" r="1.9" fill="#90c840"/>
<circle cx="355.8" cy="261.7" r="1.9" fill="#90c840"/>
<circle cx="311.5" cy="216" r="1.9" fill="#4048d8"/>
<circle cx="355.8" cy="266.4" r="1.9" fill="#90c840"/>
<circle cx="311.5" cy="220.7" r="1.9" fill="#3d30b8"/>
<circle cx="355.8" cy="271.1" r="1.9" fill="#90c840"/>
<circle cx="355.8" cy="275.8" r="1.9" fill="#90c840"/>
<circle cx="355.8" cy="280.5" r="1.9" fill="#90c840"/>
<circle cx="355.8" cy="285.2" r="1.9" fill="#90c840"/>
<circle cx="316.1" cy="216.8" r="1.9" fill="#3a30c0"/>
<circle cx="316.1" cy="221.5" r="1.9" fill="#3a28b0"/>
<circle cx="320.7" cy="217.6" r="1.9" fill="#4048d8"/>
<circle cx="320.7" cy="222.3" r="1.9" fill="#3a28b0"/>
<circle cx="325.3" cy="218.4" r="1.9" fill="#3a30c0"/>
<circle cx="325.3" cy="223.1" r="1.9" fill="#3d30b8"/>
<circle cx="329.9" cy="219.2" r="1.9" fill="#4048d8"/>
<circle cx="329.9" cy="223.9" r="1.9" fill="#3a28b0"/>
<circle cx="334.4" cy="220.1" r="1.9" fill="#3a30c0"/>
<circle cx="334.4" cy="224.7" r="1.9" fill="#3a28b0"/>
<circle cx="339" cy="220.9" r="1.9" fill="#4048d8"/>
<circle cx="339" cy="225.6" r="1.9" fill="#3d30b8"/>
<circle cx="343.6" cy="221.7" r="1.9" fill="#3a30c0"/>
<circle cx="343.6" cy="226.4" r="1.9" fill="#3a28b0"/>
<circle cx="299.4" cy="218.1" r="1.9" fill="#3a30c0"/>
<circle cx="348.2" cy="222.5" r="1.9" fill="#4048d8"/>
<circle cx="299.4" cy="222.8" r="1.9" fill="#3a28b0"/>
<circle cx="348.2" cy="227.2" r="1.9" fill="#3a28b0"/>
<circle cx="348.2" cy="231.9" r="1.9" fill="#3d30b8"/>
<circle cx="348.2" cy="236.6" r="1.9" fill="#3a28b0"/>
<circle cx="348.2" cy="241.3" r="1.9" fill="#3a28b0"/>
<circle cx="348.2" cy="245.9" r="1.9" fill="#3d30b8"/>
<circle cx="348.2" cy="250.6" r="1.9" fill="#3a28b0"/>
<circle cx="348.2" cy="255.3" r="1.9" fill="#3a28b0"/>
<circle cx="348.2" cy="260" r="1.9" fill="#3d30b8"/>
<circle cx="348.2" cy="264.7" r="1.9" fill="#3a28b0"/>
<circle cx="303.9" cy="218.9" r="1.9" fill="#4048d8"/>
<circle cx="348.2" cy="269.4" r="1.9" fill="#3a28b0"/>
<circle cx="352.8" cy="223.3" r="1.9" fill="#90c840"/>
<circle cx="303.9" cy="223.6" r="1.9" fill="#3a28b0"/>
<circle cx="348.2" cy="274.1" r="1.9" fill="#3d30b8"/>
<circle cx="352.8" cy="228" r="1.9" fill="#90c840"/>
<circle cx="348.2" cy="278.7" r="1.9" fill="#3a28b0"/>
<circle cx="352.8" cy="232.7" r="1.9" fill="#90c840"/>
<circle cx="348.2" cy="283.4" r="1.9" fill="#3a28b0"/>
<circle cx="352.8" cy="237.4" r="1.9" fill="#90c840"/>
<circle cx="348.2" cy="288.1" r="1.9" fill="#3d30b8"/>
<circle cx="352.8" cy="242.1" r="1.9" fill="#90c840"/>
<circle cx="352.8" cy="246.8" r="1.9" fill="#90c840"/>
<circle cx="352.8" cy="251.4" r="1.9" fill="#90c840"/>
<circle cx="352.8" cy="256.1" r="1.9" fill="#3a2ab0"/>
<circle cx="352.8" cy="260.8" r="1.9" fill="#90c840"/>
<circle cx="352.8" cy="265.5" r="1.9" fill="#90c840"/>
<circle cx="308.5" cy="219.7" r="1.9" fill="#3a30c0"/>
<circle cx="352.8" cy="270.2" r="1.9" fill="#90c840"/>
<circle cx="308.5" cy="224.4" r="1.9" fill="#3d30b8"/>
<circle cx="352.8" cy="274.9" r="1.9" fill="#90c840"/>
<circle cx="352.8" cy="279.6" r="1.9" fill="#90c840"/>
<circle cx="352.8" cy="284.2" r="1.9" fill="#90c840"/>
<circle cx="352.8" cy="288.9" r="1.9" fill="#90c840"/>
<circle cx="313.1" cy="220.6" r="1.9" fill="#4048d8"/>
<circle cx="313.1" cy="225.2" r="1.9" fill="#3a28b0"/>
<circle cx="317.7" cy="221.4" r="1.9" fill="#3a30c0"/>
<circle cx="317.7" cy="226.1" r="1.9" fill="#3a28b0"/>
<circle cx="322.3" cy="222.2" r="1.9" fill="#4048d8"/>
<circle cx="322.3" cy="226.9" r="1.9" fill="#3d30b8"/>
<circle cx="326.8" cy="223" r="1.9" fill="#3a30c0"/>
<circle cx="326.8" cy="227.7" r="1.9" fill="#3a28b0"/>
<circle cx="331.4" cy="223.8" r="1.9" fill="#4048d8"/>
<circle cx="331.4" cy="228.5" r="1.9" fill="#3a28b0"/>
<circle cx="336" cy="224.6" r="1.9" fill="#3a30c0"/>
<circle cx="336" cy="229.3" r="1.9" fill="#3d30b8"/>
<circle cx="340.6" cy="225.5" r="1.9" fill="#4048d8"/>
<circle cx="340.6" cy="230.1" r="1.9" fill="#3a28b0"/>
<circle cx="296.3" cy="221.9" r="1.9" fill="#4048d8"/>
<circle cx="345.2" cy="226.3" r="1.9" fill="#3a30c0"/>
<circle cx="296.3" cy="226.6" r="1.9" fill="#3a28b0"/>
<circle cx="345.2" cy="231" r="1.9" fill="#3a28b0"/>
<circle cx="345.2" cy="235.7" r="1.9" fill="#3d30b8"/>
<circle cx="345.2" cy="240.3" r="1.9" fill="#3a28b0"/>
<circle cx="345.2" cy="245" r="1.9" fill="#3a28b0"/>
<circle cx="345.2" cy="249.7" r="1.9" fill="#3d30b8"/>
<circle cx="345.2" cy="254.4" r="1.9" fill="#3a28b0"/>
<circle cx="345.2" cy="259.1" r="1.9" fill="#3a28b0"/>
<circle cx="345.2" cy="263.8" r="1.9" fill="#3d30b8"/>
<circle cx="345.2" cy="268.5" r="1.9" fill="#3a28b0"/>
<circle cx="300.9" cy="222.7" r="1.9" fill="#3a30c0"/>
<circle cx="345.2" cy="273.1" r="1.9" fill="#3a28b0"/>
<circle cx="349.8" cy="227.1" r="1.9" fill="#f8e818"/>
<circle cx="300.9" cy="227.4" r="1.9" fill="#3a28b0"/>
<circle cx="345.2" cy="277.8" r="1.9" fill="#3d30b8"/>
<circle cx="349.8" cy="231.8" r="1.9" fill="#f8e818"/>
<circle cx="345.2" cy="282.5" r="1.9" fill="#3a28b0"/>
<circle cx="349.8" cy="236.5" r="1.9" fill="#f8e818"/>
<circle cx="345.2" cy="287.2" r="1.9" fill="#3a28b0"/>
<circle cx="349.8" cy="241.2" r="1.9" fill="#f8e818"/>
<circle cx="345.2" cy="291.9" r="1.9" fill="#3d30b8"/>
<circle cx="349.8" cy="245.8" r="1.9" fill="#f8e818"/>
<circle cx="349.8" cy="250.5" r="1.9" fill="#f8e818"/>
<circle cx="349.8" cy="255.2" r="1.9" fill="#3a2ab0"/>
<circle cx="349.8" cy="259.9" r="1.9" fill="#3a2ab0"/>
<circle cx="349.8" cy="264.6" r="1.9" fill="#f8e818"/>
<circle cx="349.8" cy="269.3" r="1.9" fill="#f8e818"/>
<circle cx="305.5" cy="223.5" r="1.9" fill="#4048d8"/>
<circle cx="349.8" cy="274" r="1.9" fill="#f8e818"/>
<circle cx="305.5" cy="228.2" r="1.9" fill="#3d30b8"/>
<circle cx="349.8" cy="278.6" r="1.9" fill="#f8e818"/>
<circle cx="349.8" cy="283.3" r="1.9" fill="#f8e818"/>
<circle cx="349.8" cy="288" r="1.9" fill="#f8e818"/>
<circle cx="349.8" cy="292.7" r="1.9" fill="#f8e818"/>
<circle cx="310.1" cy="224.3" r="1.9" fill="#3a30c0"/>
<circle cx="310.1" cy="229" r="1.9" fill="#3a28b0"/>
<circle cx="314.7" cy="225.1" r="1.9" fill="#4048d8"/>
<circle cx="314.7" cy="229.8" r="1.9" fill="#3a28b0"/>
<circle cx="319.2" cy="226" r="1.9" fill="#3a30c0"/>
<circle cx="319.2" cy="230.6" r="1.9" fill="#3d30b8"/>
<circle cx="323.8" cy="226.8" r="1.9" fill="#4048d8"/>
<circle cx="323.8" cy="231.5" r="1.9" fill="#3a28b0"/>
<circle cx="328.4" cy="227.6" r="1.9" fill="#3a30c0"/>
<circle cx="328.4" cy="232.3" r="1.9" fill="#3a28b0"/>
<circle cx="333" cy="228.4" r="1.9" fill="#4048d8"/>
<circle cx="333" cy="233.1" r="1.9" fill="#3d30b8"/>
<circle cx="337.6" cy="229.2" r="1.9" fill="#3a30c0"/>
<circle cx="337.6" cy="233.9" r="1.9" fill="#3a28b0"/>
<circle cx="293.3" cy="225.6" r="1.9" fill="#3a30c0"/>
<circle cx="342.2" cy="230" r="1.9" fill="#4048d8"/>
<circle cx="293.3" cy="230.3" r="1.9" fill="#3a28b0"/>
<circle cx="342.2" cy="234.7" r="1.9" fill="#3a28b0"/>
<circle cx="293.3" cy="235" r="1.9" fill="#3a28b0"/>
<circle cx="342.2" cy="239.4" r="1.9" fill="#3d30b8"/>
<circle cx="293.3" cy="239.7" r="1.9" fill="#3d30b8"/>
<circle cx="342.2" cy="244.1" r="1.9" fill="#3a28b0"/>
<circle cx="293.3" cy="244.4" r="1.9" fill="#3a28b0"/>
<circle cx="342.2" cy="248.8" r="1.9" fill="#3a28b0"/>
<circle cx="293.3" cy="249.1" r="1.9" fill="#3a28b0"/>
<circle cx="342.2" cy="253.5" r="1.9" fill="#3d30b8"/>
<circle cx="293.3" cy="253.7" r="1.9" fill="#3d30b8"/>
<circle cx="342.2" cy="258.2" r="1.9" fill="#3a28b0"/>
<circle cx="293.3" cy="258.4" r="1.9" fill="#3a28b0"/>
<circle cx="342.2" cy="262.8" r="1.9" fill="#3a28b0"/>
<circle cx="293.3" cy="263.1" r="1.9" fill="#3a28b0"/>
<circle cx="342.2" cy="267.5" r="1.9" fill="#3d30b8"/>
<circle cx="293.3" cy="267.8" r="1.9" fill="#3d30b8"/>
<circle cx="342.2" cy="272.2" r="1.9" fill="#3a28b0"/>
<circle cx="293.3" cy="272.5" r="1.9" fill="#3a28b0"/>
<circle cx="297.9" cy="226.5" r="1.9" fill="#4048d8"/>
<circle cx="342.2" cy="276.9" r="1.9" fill="#3a28b0"/>
<circle cx="346.7" cy="230.9" r="1.9" fill="#f8e818"/>
<circle cx="293.3" cy="277.2" r="1.9" fill="#3a28b0"/>
<circle cx="297.9" cy="231.1" r="1.9" fill="#3a28b0"/>
<circle cx="342.2" cy="281.6" r="1.9" fill="#3d30b8"/>
<circle cx="346.7" cy="235.6" r="1.9" fill="#f8e818"/>
<circle cx="293.3" cy="281.9" r="1.9" fill="#3d30b8"/>
<circle cx="297.9" cy="235.8" r="1.9" fill="#3d30b8"/>
<circle cx="342.2" cy="286.3" r="1.9" fill="#3a28b0"/>
<circle cx="346.7" cy="240.2" r="1.9" fill="#f8e818"/>
<circle cx="293.3" cy="286.5" r="1.9" fill="#3a28b0"/>
<circle cx="297.9" cy="240.5" r="1.9" fill="#3a28b0"/>
<circle cx="342.2" cy="291" r="1.9" fill="#3a28b0"/>
<circle cx="346.7" cy="244.9" r="1.9" fill="#f8e818"/>
<circle cx="293.3" cy="291.2" r="1.9" fill="#3a28b0"/>
<circle cx="297.9" cy="245.2" r="1.9" fill="#3a28b0"/>
<circle cx="342.2" cy="295.6" r="1.9" fill="#3d30b8"/>
<circle cx="346.7" cy="249.6" r="1.9" fill="#f8e818"/>
<circle cx="297.9" cy="249.9" r="1.9" fill="#3d30b8"/>
<circle cx="346.7" cy="254.3" r="1.9" fill="#f8e818"/>
<circle cx="297.9" cy="254.6" r="1.9" fill="#3a28b0"/>
<circle cx="346.7" cy="259" r="1.9" fill="#3a2ab0"/>
<circle cx="297.9" cy="259.3" r="1.9" fill="#3a28b0"/>
<circle cx="346.7" cy="263.7" r="1.9" fill="#f8e818"/>
<circle cx="297.9" cy="263.9" r="1.9" fill="#3d30b8"/>
<circle cx="346.7" cy="268.4" r="1.9" fill="#f8e818"/>
<circle cx="297.9" cy="268.6" r="1.9" fill="#3a28b0"/>
<circle cx="346.7" cy="273" r="1.9" fill="#f8e818"/>
<circle cx="297.9" cy="273.3" r="1.9" fill="#3a28b0"/>
<circle cx="302.5" cy="227.3" r="1.9" fill="#3a30c0"/>
<circle cx="346.7" cy="277.7" r="1.9" fill="#f8e818"/>
<circle cx="297.9" cy="278" r="1.9" fill="#3d30b8"/>
<circle cx="302.5" cy="232" r="1.9" fill="#3d30b8"/>
<circle cx="346.7" cy="282.4" r="1.9" fill="#f8e818"/>
<circle cx="297.9" cy="282.7" r="1.9" fill="#3a28b0"/>
<circle cx="302.5" cy="236.6" r="1.9" fill="#3a28b0"/>
<circle cx="346.7" cy="287.1" r="1.9" fill="#f8e818"/>
<circle cx="297.9" cy="287.4" r="1.9" fill="#3a28b0"/>
<circle cx="302.5" cy="241.3" r="1.9" fill="#3a28b0"/>
<circle cx="346.7" cy="291.8" r="1.9" fill="#f8e818"/>
<circle cx="297.9" cy="292.1" r="1.9" fill="#3d30b8"/>
<circle cx="302.5" cy="246" r="1.9" fill="#3d30b8"/>
<circle cx="346.7" cy="296.5" r="1.9" fill="#f8e818"/>
<circle cx="302.5" cy="250.7" r="1.9" fill="#3a28b0"/>
<circle cx="302.5" cy="255.4" r="1.9" fill="#3a28b0"/>
<circle cx="302.5" cy="260.1" r="1.9" fill="#3d30b8"/>
<circle cx="302.5" cy="264.8" r="1.9" fill="#3a28b0"/>
<circle cx="302.5" cy="269.4" r="1.9" fill="#3a28b0"/>
<circle cx="302.5" cy="274.1" r="1.9" fill="#3d30b8"/>
<circle cx="307.1" cy="228.1" r="1.9" fill="#4048d8"/>
<circle cx="302.5" cy="278.8" r="1.9" fill="#3a28b0"/>
<circle cx="307.1" cy="232.8" r="1.9" fill="#3a28b0"/>
<circle cx="302.5" cy="283.5" r="1.9" fill="#3a28b0"/>
<circle cx="307.1" cy="237.5" r="1.9" fill="#3a28b0"/>
<circle cx="302.5" cy="288.2" r="1.9" fill="#3d30b8"/>
<circle cx="307.1" cy="242.1" r="1.9" fill="#3d30b8"/>
<circle cx="302.5" cy="292.9" r="1.9" fill="#3a28b0"/>
<circle cx="307.1" cy="246.8" r="1.9" fill="#3a28b0"/>
<circle cx="307.1" cy="251.5" r="1.9" fill="#3a28b0"/>
<circle cx="307.1" cy="256.2" r="1.9" fill="#3d30b8"/>
<circle cx="307.1" cy="260.9" r="1.9" fill="#3a28b0"/>
<circle cx="307.1" cy="265.6" r="1.9" fill="#3a28b0"/>
<circle cx="307.1" cy="270.3" r="1.9" fill="#3d30b8"/>
<circle cx="307.1" cy="274.9" r="1.9" fill="#3a28b0"/>
<circle cx="311.6" cy="228.9" r="1.9" fill="#3a30c0"/>
<circle cx="307.1" cy="279.6" r="1.9" fill="#3a28b0"/>
<circle cx="311.6" cy="233.6" r="1.9" fill="#3a28b0"/>
<circle cx="307.1" cy="284.3" r="1.9" fill="#3d30b8"/>
<circle cx="311.6" cy="238.3" r="1.9" fill="#3d30b8"/>
<circle cx="307.1" cy="289" r="1.9" fill="#3a28b0"/>
<circle cx="311.6" cy="243" r="1.9" fill="#3a28b0"/>
<circle cx="307.1" cy="293.7" r="1.9" fill="#3a28b0"/>
<circle cx="311.6" cy="247.6" r="1.9" fill="#3a28b0"/>
<circle cx="311.6" cy="252.3" r="1.9" fill="#3d30b8"/>
<circle cx="311.6" cy="257" r="1.9" fill="#3a28b0"/>
<circle cx="311.6" cy="261.7" r="1.9" fill="#3a28b0"/>
<circle cx="311.6" cy="266.4" r="1.9" fill="#3d30b8"/>
<circle cx="311.6" cy="271.1" r="1.9" fill="#3a28b0"/>
<circle cx="311.6" cy="275.8" r="1.9" fill="#3a28b0"/>
<circle cx="316.2" cy="229.7" r="1.9" fill="#4048d8"/>
<circle cx="311.6" cy="280.4" r="1.9" fill="#3d30b8"/>
<circle cx="316.2" cy="234.4" r="1.9" fill="#3d30b8"/>
<circle cx="311.6" cy="285.1" r="1.9" fill="#3a28b0"/>
<circle cx="316.2" cy="239.1" r="1.9" fill="#3a28b0"/>
<circle cx="311.6" cy="289.8" r="1.9" fill="#3a28b0"/>
<circle cx="316.2" cy="243.8" r="1.9" fill="#3a28b0"/>
<circle cx="311.6" cy="294.5" r="1.9" fill="#3d30b8"/>
<circle cx="316.2" cy="248.5" r="1.9" fill="#3d30b8"/>
<circle cx="316.2" cy="253.2" r="1.9" fill="#3a28b0"/>
<circle cx="316.2" cy="257.8" r="1.9" fill="#3a28b0"/>
<circle cx="316.2" cy="262.5" r="1.9" fill="#3d30b8"/>
<circle cx="316.2" cy="267.2" r="1.9" fill="#3a28b0"/>
<circle cx="316.2" cy="271.9" r="1.9" fill="#3a28b0"/>
<circle cx="316.2" cy="276.6" r="1.9" fill="#3d30b8"/>
<circle cx="320.8" cy="230.5" r="1.9" fill="#3a30c0"/>
<circle cx="316.2" cy="281.3" r="1.9" fill="#3a28b0"/>
<circle cx="320.8" cy="235.2" r="1.9" fill="#3a28b0"/>
<circle cx="316.2" cy="286" r="1.9" fill="#3a28b0"/>
<circle cx="320.8" cy="239.9" r="1.9" fill="#3a28b0"/>
<circle cx="316.2" cy="290.6" r="1.9" fill="#3d30b8"/>
<circle cx="320.8" cy="244.6" r="1.9" fill="#3d30b8"/>
<circle cx="316.2" cy="295.3" r="1.9" fill="#3a28b0"/>
<circle cx="320.8" cy="249.3" r="1.9" fill="#3a28b0"/>
<circle cx="320.8" cy="254" r="1.9" fill="#3a28b0"/>
<circle cx="320.8" cy="258.7" r="1.9" fill="#3d30b8"/>
<circle cx="320.8" cy="263.3" r="1.9" fill="#3a28b0"/>
<circle cx="320.8" cy="268" r="1.9" fill="#3a28b0"/>
<circle cx="320.8" cy="272.7" r="1.9" fill="#3d30b8"/>
<circle cx="320.8" cy="277.4" r="1.9" fill="#3a28b0"/>
<circle cx="325.4" cy="231.4" r="1.9" fill="#4048d8"/>
<circle cx="320.8" cy="282.1" r="1.9" fill="#3a28b0"/>
<circle cx="325.4" cy="236" r="1.9" fill="#3a28b0"/>
<circle cx="320.8" cy="286.8" r="1.9" fill="#3d30b8"/>
<circle cx="325.4" cy="240.7" r="1.9" fill="#3d30b8"/>
<circle cx="320.8" cy="291.5" r="1.9" fill="#3a28b0"/>
<circle cx="325.4" cy="245.4" r="1.9" fill="#3a28b0"/>
<circle cx="320.8" cy="296.1" r="1.9" fill="#3a28b0"/>
<circle cx="325.4" cy="250.1" r="1.9" fill="#3a28b0"/>
<circle cx="325.4" cy="254.8" r="1.9" fill="#3d30b8"/>
<circle cx="325.4" cy="259.5" r="1.9" fill="#3a28b0"/>
<circle cx="325.4" cy="264.2" r="1.9" fill="#3a28b0"/>
<circle cx="325.4" cy="268.8" r="1.9" fill="#3d30b8"/>
<circle cx="325.4" cy="273.5" r="1.9" fill="#3a28b0"/>
<circle cx="325.4" cy="278.2" r="1.9" fill="#3a28b0"/>
<circle cx="330" cy="232.2" r="1.9" fill="#3a30c0"/>
<circle cx="325.4" cy="282.9" r="1.9" fill="#3d30b8"/>
<circle cx="330" cy="236.9" r="1.9" fill="#3d30b8"/>
<circle cx="325.4" cy="287.6" r="1.9" fill="#3a28b0"/>
<circle cx="330" cy="241.6" r="1.9" fill="#3a28b0"/>
<circle cx="325.4" cy="292.3" r="1.9" fill="#3a28b0"/>
<circle cx="330" cy="246.2" r="1.9" fill="#3a28b0"/>
<circle cx="325.4" cy="297" r="1.9" fill="#3d30b8"/>
<circle cx="330" cy="250.9" r="1.9" fill="#3d30b8"/>
<circle cx="330" cy="255.6" r="1.9" fill="#3a28b0"/>
<circle cx="330" cy="260.3" r="1.9" fill="#3a28b0"/>
<circle cx="330" cy="265" r="1.9" fill="#3d30b8"/>
<circle cx="330" cy="269.7" r="1.9" fill="#3a28b0"/>
<circle cx="330" cy="274.4" r="1.9" fill="#3a28b0"/>
<circle cx="330" cy="279" r="1.9" fill="#3d30b8"/>
<circle cx="334.6" cy="233" r="1.9" fill="#4048d8"/>
<circle cx="330" cy="283.7" r="1.9" fill="#3a28b0"/>
<circle cx="334.6" cy="237.7" r="1.9" fill="#3a28b0"/>
<circle cx="330" cy="288.4" r="1.9" fill="#3a28b0"/>
<circle cx="334.6" cy="242.4" r="1.9" fill="#3a28b0"/>
<circle cx="330" cy="293.1" r="1.9" fill="#3d30b8"/>
<circle cx="334.6" cy="247.1" r="1.9" fill="#3d30b8"/>
<circle cx="330" cy="297.8" r="1.9" fill="#3a28b0"/>
<circle cx="334.6" cy="251.7" r="1.9" fill="#3a28b0"/>
<circle cx="334.6" cy="256.4" r="1.9" fill="#3a28b0"/>
<circle cx="334.6" cy="261.1" r="1.9" fill="#3d30b8"/>
<circle cx="334.6" cy="265.8" r="1.9" fill="#3a28b0"/>
<circle cx="334.6" cy="270.5" r="1.9" fill="#3a28b0"/>
<circle cx="334.6" cy="275.2" r="1.9" fill="#3d30b8"/>
<circle cx="290.3" cy="229.4" r="1.9" fill="#30a8e0"/>
<circle cx="334.6" cy="279.9" r="1.9" fill="#3a28b0"/>
<circle cx="339.1" cy="233.8" r="1.9" fill="#3a30c0"/>
<circle cx="290.3" cy="234.1" r="1.9" fill="#4a50e0"/>
<circle cx="334.6" cy="284.5" r="1.9" fill="#3a28b0"/>
<circle cx="339.1" cy="238.5" r="1.9" fill="#3a28b0"/>
<circle cx="290.3" cy="238.8" r="1.9" fill="#30c0d8"/>
<circle cx="334.6" cy="289.2" r="1.9" fill="#3d30b8"/>
<circle cx="339.1" cy="243.2" r="1.9" fill="#3d30b8"/>
<circle cx="290.3" cy="243.5" r="1.9" fill="#3a2ab0"/>
<circle cx="334.6" cy="293.9" r="1.9" fill="#3a28b0"/>
<circle cx="339.1" cy="247.9" r="1.9" fill="#3a28b0"/>
<circle cx="290.3" cy="248.1" r="1.9" fill="#30a8e0"/>
<circle cx="334.6" cy="298.6" r="1.9" fill="#3a28b0"/>
<circle cx="339.1" cy="252.6" r="1.9" fill="#3a28b0"/>
<circle cx="290.3" cy="252.8" r="1.9" fill="#4a50e0"/>
<circle cx="339.1" cy="257.2" r="1.9" fill="#3d30b8"/>
<circle cx="290.3" cy="257.5" r="1.9" fill="#30c0d8"/>
<circle cx="339.1" cy="261.9" r="1.9" fill="#3a28b0"/>
<circle cx="290.3" cy="262.2" r="1.9" fill="#3a2ab0"/>
<circle cx="339.1" cy="266.6" r="1.9" fill="#3a28b0"/>
<circle cx="290.3" cy="266.9" r="1.9" fill="#30a8e0"/>
<circle cx="339.1" cy="271.3" r="1.9" fill="#3d30b8"/>
<circle cx="290.3" cy="271.6" r="1.9" fill="#4a50e0"/>
<circle cx="339.1" cy="276" r="1.9" fill="#3a28b0"/>
<circle cx="290.3" cy="276.3" r="1.9" fill="#30c0d8"/>
<circle cx="294.9" cy="230.2" r="1.9" fill="#3a28b0"/>
<circle cx="339.1" cy="280.7" r="1.9" fill="#3a28b0"/>
<circle cx="343.7" cy="234.6" r="1.9" fill="#a8d030"/>
<circle cx="290.3" cy="280.9" r="1.9" fill="#3a2ab0"/>
<circle cx="294.9" cy="234.9" r="1.9" fill="#3a28b0"/>
<circle cx="339.1" cy="285.4" r="1.9" fill="#3d30b8"/>
<circle cx="343.7" cy="239.3" r="1.9" fill="#a8d030"/>
<circle cx="290.3" cy="285.6" r="1.9" fill="#30a8e0"/>
<circle cx="294.9" cy="239.6" r="1.9" fill="#3d30b8"/>
<circle cx="339.1" cy="290" r="1.9" fill="#3a28b0"/>
<circle cx="343.7" cy="244" r="1.9" fill="#a8d030"/>
<circle cx="290.3" cy="290.3" r="1.9" fill="#4a50e0"/>
<circle cx="294.9" cy="244.3" r="1.9" fill="#3a28b0"/>
<circle cx="339.1" cy="294.7" r="1.9" fill="#3a28b0"/>
<circle cx="343.7" cy="248.7" r="1.9" fill="#a8d030"/>
<circle cx="290.3" cy="295" r="1.9" fill="#30c0d8"/>
<circle cx="294.9" cy="249" r="1.9" fill="#3a28b0"/>
<circle cx="339.1" cy="299.4" r="1.9" fill="#3d30b8"/>
<circle cx="343.7" cy="253.4" r="1.9" fill="#a8d030"/>
<circle cx="294.9" cy="253.6" r="1.9" fill="#3d30b8"/>
<circle cx="343.7" cy="258.1" r="1.9" fill="#a8d030"/>
<circle cx="294.9" cy="258.3" r="1.9" fill="#3a28b0"/>
<circle cx="343.7" cy="262.7" r="1.9" fill="#3a2ab0"/>
<circle cx="294.9" cy="263" r="1.9" fill="#3a28b0"/>
<circle cx="343.7" cy="267.4" r="1.9" fill="#a8d030"/>
<circle cx="294.9" cy="267.7" r="1.9" fill="#3d30b8"/>
<circle cx="343.7" cy="272.1" r="1.9" fill="#a8d030"/>
<circle cx="294.9" cy="272.4" r="1.9" fill="#3a28b0"/>
<circle cx="343.7" cy="276.8" r="1.9" fill="#a8d030"/>
<circle cx="294.9" cy="277.1" r="1.9" fill="#3a28b0"/>
<circle cx="299.5" cy="231" r="1.9" fill="#3a28b0"/>
<circle cx="343.7" cy="281.5" r="1.9" fill="#a8d030"/>
<circle cx="294.9" cy="281.8" r="1.9" fill="#3d30b8"/>
<circle cx="299.5" cy="235.7" r="1.9" fill="#3d30b8"/>
<circle cx="343.7" cy="286.2" r="1.9" fill="#a8d030"/>
<circle cx="294.9" cy="286.4" r="1.9" fill="#3a28b0"/>
<circle cx="299.5" cy="240.4" r="1.9" fill="#3a28b0"/>
<circle cx="343.7" cy="290.9" r="1.9" fill="#a8d030"/>
<circle cx="294.9" cy="291.1" r="1.9" fill="#3a28b0"/>
<circle cx="299.5" cy="245.1" r="1.9" fill="#3a28b0"/>
<circle cx="343.7" cy="295.5" r="1.9" fill="#a8d030"/>
<circle cx="294.9" cy="295.8" r="1.9" fill="#3d30b8"/>
<circle cx="299.5" cy="249.8" r="1.9" fill="#3d30b8"/>
<circle cx="343.7" cy="300.2" r="1.9" fill="#a8d030"/>
<circle cx="299.5" cy="254.5" r="1.9" fill="#3a28b0"/>
<circle cx="299.5" cy="259.2" r="1.9" fill="#3a28b0"/>
<circle cx="299.5" cy="263.8" r="1.9" fill="#3d30b8"/>
<circle cx="299.5" cy="268.5" r="1.9" fill="#3a28b0"/>
<circle cx="299.5" cy="273.2" r="1.9" fill="#3a28b0"/>
<circle cx="299.5" cy="277.9" r="1.9" fill="#3d30b8"/>
<circle cx="304" cy="231.9" r="1.9" fill="#3d30b8"/>
<circle cx="299.5" cy="282.6" r="1.9" fill="#3a28b0"/>
<circle cx="304" cy="236.5" r="1.9" fill="#3a28b0"/>
<circle cx="299.5" cy="287.3" r="1.9" fill="#3a28b0"/>
<circle cx="304" cy="241.2" r="1.9" fill="#3a28b0"/>
<circle cx="299.5" cy="292" r="1.9" fill="#3d30b8"/>
<circle cx="304" cy="245.9" r="1.9" fill="#3d30b8"/>
<circle cx="299.5" cy="296.6" r="1.9" fill="#3a28b0"/>
<circle cx="304" cy="250.6" r="1.9" fill="#3a28b0"/>
<circle cx="304" cy="255.3" r="1.9" fill="#3a28b0"/>
<circle cx="304" cy="260" r="1.9" fill="#3d30b8"/>
<circle cx="304" cy="264.7" r="1.9" fill="#3a28b0"/>
<circle cx="304" cy="269.3" r="1.9" fill="#3a28b0"/>
<circle cx="304" cy="274" r="1.9" fill="#3d30b8"/>
<circle cx="304" cy="278.7" r="1.9" fill="#3a28b0"/>
<circle cx="308.6" cy="232.7" r="1.9" fill="#3a28b0"/>
<circle cx="304" cy="283.4" r="1.9" fill="#3a28b0"/>
<circle cx="308.6" cy="237.4" r="1.9" fill="#3a28b0"/>
<circle cx="304" cy="288.1" r="1.9" fill="#3d30b8"/>
<circle cx="308.6" cy="242" r="1.9" fill="#3d30b8"/>
<circle cx="304" cy="292.8" r="1.9" fill="#3a28b0"/>
<circle cx="308.6" cy="246.7" r="1.9" fill="#3a28b0"/>
<circle cx="304" cy="297.5" r="1.9" fill="#3a28b0"/>
<circle cx="308.6" cy="251.4" r="1.9" fill="#3a28b0"/>
<circle cx="308.6" cy="256.1" r="1.9" fill="#3d30b8"/>
<circle cx="308.6" cy="260.8" r="1.9" fill="#3a28b0"/>
<circle cx="308.6" cy="265.5" r="1.9" fill="#3a28b0"/>
<circle cx="308.6" cy="270.2" r="1.9" fill="#3d30b8"/>
<circle cx="308.6" cy="274.8" r="1.9" fill="#3a28b0"/>
<circle cx="308.6" cy="279.5" r="1.9" fill="#3a28b0"/>
<circle cx="313.2" cy="233.5" r="1.9" fill="#3a28b0"/>
<circle cx="308.6" cy="284.2" r="1.9" fill="#3d30b8"/>
<circle cx="313.2" cy="238.2" r="1.9" fill="#3d30b8"/>
<circle cx="308.6" cy="288.9" r="1.9" fill="#3a28b0"/>
<circle cx="313.2" cy="242.9" r="1.9" fill="#3a28b0"/>
<circle cx="308.6" cy="293.6" r="1.9" fill="#3a28b0"/>
<circle cx="313.2" cy="247.5" r="1.9" fill="#3a28b0"/>
<circle cx="308.6" cy="298.3" r="1.9" fill="#3d30b8"/>
<circle cx="313.2" cy="252.2" r="1.9" fill="#3d30b8"/>
<circle cx="313.2" cy="256.9" r="1.9" fill="#3a28b0"/>
<circle cx="313.2" cy="261.6" r="1.9" fill="#3a28b0"/>
<circle cx="313.2" cy="266.3" r="1.9" fill="#3d30b8"/>
<circle cx="313.2" cy="271" r="1.9" fill="#3a28b0"/>
<circle cx="313.2" cy="275.7" r="1.9" fill="#3a28b0"/>
<circle cx="313.2" cy="280.3" r="1.9" fill="#3d30b8"/>
<circle cx="317.8" cy="234.3" r="1.9" fill="#3d30b8"/>
<circle cx="313.2" cy="285" r="1.9" fill="#3a28b0"/>
<circle cx="317.8" cy="239" r="1.9" fill="#3a28b0"/>
<circle cx="313.2" cy="289.7" r="1.9" fill="#3a28b0"/>
<circle cx="317.8" cy="243.7" r="1.9" fill="#3a28b0"/>
<circle cx="313.2" cy="294.4" r="1.9" fill="#3d30b8"/>
<circle cx="317.8" cy="248.4" r="1.9" fill="#3d30b8"/>
<circle cx="313.2" cy="299.1" r="1.9" fill="#3a28b0"/>
<circle cx="317.8" cy="253.1" r="1.9" fill="#3a28b0"/>
<circle cx="317.8" cy="257.7" r="1.9" fill="#3a28b0"/>
<circle cx="317.8" cy="262.4" r="1.9" fill="#3d30b8"/>
<circle cx="317.8" cy="267.1" r="1.9" fill="#3a28b0"/>
<circle cx="317.8" cy="271.8" r="1.9" fill="#3a28b0"/>
<circle cx="317.8" cy="276.5" r="1.9" fill="#3d30b8"/>
<circle cx="317.8" cy="281.2" r="1.9" fill="#3a28b0"/>
<circle cx="322.4" cy="235.1" r="1.9" fill="#3a28b0"/>
<circle cx="317.8" cy="285.9" r="1.9" fill="#3a28b0"/>
<circle cx="322.4" cy="239.8" r="1.9" fill="#3a28b0"/>
<circle cx="317.8" cy="290.5" r="1.9" fill="#3d30b8"/>
<circle cx="322.4" cy="244.5" r="1.9" fill="#3d30b8"/>
<circle cx="317.8" cy="295.2" r="1.9" fill="#3a28b0"/>
<circle cx="322.4" cy="249.2" r="1.9" fill="#3a28b0"/>
<circle cx="317.8" cy="299.9" r="1.9" fill="#3a28b0"/>
<circle cx="322.4" cy="253.9" r="1.9" fill="#3a28b0"/>
<circle cx="322.4" cy="258.6" r="1.9" fill="#3d30b8"/>
<circle cx="322.4" cy="263.2" r="1.9" fill="#3a28b0"/>
<circle cx="322.4" cy="267.9" r="1.9" fill="#3a28b0"/>
<circle cx="322.4" cy="272.6" r="1.9" fill="#3d30b8"/>
<circle cx="322.4" cy="277.3" r="1.9" fill="#3a28b0"/>
<circle cx="322.4" cy="282" r="1.9" fill="#3a28b0"/>
<circle cx="327" cy="235.9" r="1.9" fill="#3a28b0"/>
<circle cx="322.4" cy="286.7" r="1.9" fill="#3d30b8"/>
<circle cx="327" cy="240.6" r="1.9" fill="#3d30b8"/>
<circle cx="322.4" cy="291.4" r="1.9" fill="#3a28b0"/>
<circle cx="327" cy="245.3" r="1.9" fill="#3a28b0"/>
<circle cx="322.4" cy="296" r="1.9" fill="#3a28b0"/>
<circle cx="327" cy="250" r="1.9" fill="#3a28b0"/>
<circle cx="322.4" cy="300.7" r="1.9" fill="#3d30b8"/>
<circle cx="327" cy="254.7" r="1.9" fill="#3d30b8"/>
<circle cx="327" cy="259.4" r="1.9" fill="#3a28b0"/>
<circle cx="327" cy="264.1" r="1.9" fill="#3a28b0"/>
<circle cx="327" cy="268.7" r="1.9" fill="#3d30b8"/>
<circle cx="327" cy="273.4" r="1.9" fill="#3a28b0"/>
<circle cx="327" cy="278.1" r="1.9" fill="#3a28b0"/>
<circle cx="327" cy="282.8" r="1.9" fill="#3d30b8"/>
<circle cx="331.5" cy="236.8" r="1.9" fill="#3d30b8"/>
<circle cx="327" cy="287.5" r="1.9" fill="#3a28b0"/>
<circle cx="331.5" cy="241.4" r="1.9" fill="#3a28b0"/>
<circle cx="327" cy="292.2" r="1.9" fill="#3a28b0"/>
<circle cx="331.5" cy="246.1" r="1.9" fill="#3a28b0"/>
<circle cx="327" cy="296.9" r="1.9" fill="#3d30b8"/>
<circle cx="331.5" cy="250.8" r="1.9" fill="#3d30b8"/>
<circle cx="327" cy="301.5" r="1.9" fill="#3a28b0"/>
<circle cx="331.5" cy="255.5" r="1.9" fill="#3a28b0"/>
<circle cx="331.5" cy="260.2" r="1.9" fill="#3a28b0"/>
<circle cx="331.5" cy="264.9" r="1.9" fill="#3d30b8"/>
<circle cx="331.5" cy="269.6" r="1.9" fill="#3a28b0"/>
<circle cx="331.5" cy="274.2" r="1.9" fill="#3a28b0"/>
<circle cx="331.5" cy="278.9" r="1.9" fill="#3d30b8"/>
<circle cx="331.5" cy="283.6" r="1.9" fill="#3a28b0"/>
<circle cx="336.1" cy="237.6" r="1.9" fill="#4070e8"/>
<circle cx="331.5" cy="288.3" r="1.9" fill="#3a28b0"/>
<circle cx="336.1" cy="242.3" r="1.9" fill="#4a60e0"/>
<circle cx="331.5" cy="293" r="1.9" fill="#3d30b8"/>
<circle cx="336.1" cy="247" r="1.9" fill="#4070e8"/>
<circle cx="331.5" cy="297.7" r="1.9" fill="#3a28b0"/>
<circle cx="336.1" cy="251.6" r="1.9" fill="#4a60e0"/>
<circle cx="331.5" cy="302.4" r="1.9" fill="#3a28b0"/>
<circle cx="336.1" cy="256.3" r="1.9" fill="#4070e8"/>
<circle cx="336.1" cy="261" r="1.9" fill="#4a60e0"/>
<circle cx="336.1" cy="265.7" r="1.9" fill="#4070e8"/>
<circle cx="336.1" cy="270.4" r="1.9" fill="#4a60e0"/>
<circle cx="336.1" cy="275.1" r="1.9" fill="#4070e8"/>
<circle cx="336.1" cy="279.8" r="1.9" fill="#4a60e0"/>
<circle cx="336.1" cy="284.4" r="1.9" fill="#4070e8"/>
<circle cx="340.7" cy="238.4" r="1.9" fill="#30a8e8"/>
<circle cx="336.1" cy="289.1" r="1.9" fill="#4a60e0"/>
<circle cx="340.7" cy="243.1" r="1.9" fill="#38c0d8"/>
<circle cx="336.1" cy="293.8" r="1.9" fill="#4070e8"/>
<circle cx="340.7" cy="247.8" r="1.9" fill="#30a8e8"/>
<circle cx="336.1" cy="298.5" r="1.9" fill="#4a60e0"/>
<circle cx="340.7" cy="252.5" r="1.9" fill="#38c0d8"/>
<circle cx="336.1" cy="303.2" r="1.9" fill="#4070e8"/>
<circle cx="340.7" cy="257.1" r="1.9" fill="#30a8e8"/>
<circle cx="340.7" cy="261.8" r="1.9" fill="#38c0d8"/>
<circle cx="340.7" cy="266.5" r="1.9" fill="#3a2ab0"/>
<circle cx="340.7" cy="271.2" r="1.9" fill="#38c0d8"/>
<circle cx="340.7" cy="275.9" r="1.9" fill="#30a8e8"/>
<circle cx="340.7" cy="280.6" r="1.9" fill="#38c0d8"/>
<circle cx="340.7" cy="285.3" r="1.9" fill="#30a8e8"/>
<circle cx="340.7" cy="289.9" r="1.9" fill="#38c0d8"/>
<circle cx="340.7" cy="294.6" r="1.9" fill="#30a8e8"/>
<circle cx="340.7" cy="299.3" r="1.9" fill="#38c0d8"/>
<circle cx="340.7" cy="304" r="1.9" fill="#30a8e8"/>
<text x="310.2" y="308.6" font-size="9.5" fill="#222" text-anchor="middle" font-family="Liberation Serif" font-style="italic" >−ū</text>
<text x="364.2" y="298.1" font-size="9.5" fill="#222" text-anchor="middle" font-family="Liberation Serif" font-style="italic" >v̄</text>
<line x1="344.7" y1="307.6" x2="321.2" y2="301.6" stroke="#000" stroke-width="0.8"/>
<polygon points="318.7,301.1 322.2,299.6 321.7,303.1" fill="#000"/>
<line x1="344.7" y1="307.6" x2="356.7" y2="292.1" stroke="#000" stroke-width="0.8"/>
<polygon points="358.2,290.1 354.7,292.6 357.7,294.1" fill="#000"/>
<text x="383.7" y="308.1" font-size="8" fill="#333" text-anchor="middle" font-family="Liberation Serif" >1</text>
<text x="268.2" y="308.1" font-size="8" fill="#333" text-anchor="middle" font-family="Liberation Serif" font-style="italic" >y</text>
<text x="265.2" y="287.1" font-size="7" fill="#555" text-anchor="middle" font-family="Liberation Serif" >5</text>
<linearGradient id="gcbf" x1="0" x2="0" y1="0" y2="1"><stop offset="0" stop-color="#f8e020"/><stop offset="0.35" stop-color="#40c0a0"/><stop offset="0.7" stop-color="#3070e0"/><stop offset="1" stop-color="#3020a0"/></linearGradient>
<rect x="391.8" y="262" width="5.5" height="20" fill="url(#gcbf)" stroke="#fff" stroke-width="0.8"/>
<text x="394.6" y="260" font-size="7.5" fill="#f0b000" text-anchor="middle" font-family="Liberation Sans" font-weight="bold" >0.1</text>
<text x="394.6" y="290" font-size="7.5" fill="#101090" text-anchor="middle" font-family="Liberation Sans" font-weight="bold" >0</text>
<rect x="448.8" y="190" width="122" height="125.8" fill="#fff"/>
<line x1="451.8" y1="207" x2="529.8" y2="192" stroke="#d0d0d0" stroke-width="0.7"/>
<line x1="529.8" y1="192" x2="568.2" y2="228" stroke="#d0d0d0" stroke-width="0.7"/>
<line x1="529.8" y1="192" x2="529.8" y2="275" stroke="#d0d0d0" stroke-width="0.7"/>
<line x1="568.2" y1="228" x2="568.2" y2="297" stroke="#d0d0d0" stroke-width="0.7"/>
<line x1="451.8" y1="277" x2="529.8" y2="275" stroke="#d0d0d0" stroke-width="0.7"/>
<line x1="529.8" y1="275" x2="568.2" y2="297" stroke="#d0d0d0" stroke-width="0.7"/>
<line x1="451.8" y1="242" x2="529.8" y2="234" stroke="#d0d0d0" stroke-width="0.5"/>
<line x1="529.8" y1="234" x2="568.2" y2="262" stroke="#d0d0d0" stroke-width="0.5"/>
<line x1="451.8" y1="207" x2="451.8" y2="277" stroke="#555" stroke-width="0.8"/>
<line x1="451.8" y1="277" x2="488.8" y2="314" stroke="#333" stroke-width="0.8"/>
<line x1="488.8" y1="314" x2="568.2" y2="297" stroke="#333" stroke-width="0.8"/>
<line x1="451.8" y1="207" x2="453.8" y2="207" stroke="#333" stroke-width="0.6"/>
<line x1="451.8" y1="242" x2="453.8" y2="242" stroke="#333" stroke-width="0.6"/>
<line x1="451.8" y1="277" x2="453.8" y2="277" stroke="#333" stroke-width="0.6"/>
<polygon points="476,227 525.5,236 543.2,217 543.2,284 525.5,304 476,295" fill="#4048e0"/>
<circle cx="493.7" cy="206" r="1.6" fill="#3a60e8"/>
<circle cx="493.7" cy="210.6" r="1.6" fill="#4048e0"/>
<circle cx="498.3" cy="206.8" r="1.6" fill="#4048e0"/>
<circle cx="498.3" cy="211.4" r="1.6" fill="#4048e0"/>
<circle cx="502.9" cy="207.6" r="1.6" fill="#3a60e8"/>
<circle cx="502.9" cy="212.2" r="1.6" fill="#4048e0"/>
<circle cx="507.5" cy="208.5" r="1.6" fill="#4048e0"/>
<circle cx="507.5" cy="213.1" r="1.6" fill="#4048e0"/>
<circle cx="512.1" cy="209.3" r="1.6" fill="#3a60e8"/>
<circle cx="512.1" cy="213.9" r="1.6" fill="#4048e0"/>
<circle cx="516.7" cy="210.1" r="1.6" fill="#4048e0"/>
<circle cx="516.7" cy="214.7" r="1.6" fill="#4048e0"/>
<circle cx="521.2" cy="210.9" r="1.6" fill="#3a60e8"/>
<circle cx="521.2" cy="215.5" r="1.6" fill="#4048e0"/>
<circle cx="525.8" cy="211.7" r="1.6" fill="#4048e0"/>
<circle cx="525.8" cy="216.3" r="1.6" fill="#4048e0"/>
<circle cx="530.4" cy="212.5" r="1.6" fill="#3a60e8"/>
<circle cx="530.4" cy="217.1" r="1.6" fill="#4048e0"/>
<circle cx="535" cy="213.4" r="1.6" fill="#4048e0"/>
<circle cx="535" cy="218" r="1.6" fill="#4048e0"/>
<circle cx="490.6" cy="209.3" r="1.6" fill="#4048e0"/>
<circle cx="539.6" cy="214.2" r="1.6" fill="#3a60e8"/>
<circle cx="490.6" cy="213.9" r="1.6" fill="#4048e0"/>
<circle cx="539.6" cy="218.8" r="1.6" fill="#4048e0"/>
<circle cx="539.6" cy="223.4" r="1.6" fill="#4048e0"/>
<circle cx="539.6" cy="228" r="1.6" fill="#4048e0"/>
<circle cx="539.6" cy="232.6" r="1.6" fill="#4048e0"/>
<circle cx="539.6" cy="237.2" r="1.6" fill="#4048e0"/>
<circle cx="539.6" cy="241.8" r="1.6" fill="#4048e0"/>
<circle cx="539.6" cy="246.4" r="1.6" fill="#4048e0"/>
<circle cx="539.6" cy="251" r="1.6" fill="#4048e0"/>
<circle cx="539.6" cy="255.6" r="1.6" fill="#4048e0"/>
<circle cx="495.2" cy="210.2" r="1.6" fill="#3a60e8"/>
<circle cx="539.6" cy="260.2" r="1.6" fill="#4048e0"/>
<circle cx="544.2" cy="215" r="1.6" fill="#3e40d8"/>
<circle cx="495.2" cy="214.8" r="1.6" fill="#4048e0"/>
<circle cx="539.6" cy="264.8" r="1.6" fill="#4048e0"/>
<circle cx="544.2" cy="219.6" r="1.6" fill="#3e40d8"/>
<circle cx="539.6" cy="269.4" r="1.6" fill="#4048e0"/>
<circle cx="544.2" cy="224.2" r="1.6" fill="#3e40d8"/>
<circle cx="539.6" cy="274" r="1.6" fill="#4048e0"/>
<circle cx="544.2" cy="228.8" r="1.6" fill="#3e40d8"/>
<circle cx="539.6" cy="278.6" r="1.6" fill="#4048e0"/>
<circle cx="544.2" cy="233.4" r="1.6" fill="#3e40d8"/>
<circle cx="539.6" cy="283.2" r="1.6" fill="#4048e0"/>
<circle cx="544.2" cy="238" r="1.6" fill="#3e40d8"/>
<circle cx="544.2" cy="242.6" r="1.6" fill="#3e40d8"/>
<circle cx="544.2" cy="247.2" r="1.6" fill="#3e40d8"/>
<circle cx="544.2" cy="251.8" r="1.6" fill="#3e40d8"/>
<circle cx="544.2" cy="256.4" r="1.6" fill="#3e40d8"/>
<circle cx="499.8" cy="211" r="1.6" fill="#4048e0"/>
<circle cx="544.2" cy="261" r="1.6" fill="#3e40d8"/>
<circle cx="499.8" cy="215.6" r="1.6" fill="#4048e0"/>
<circle cx="544.2" cy="265.6" r="1.6" fill="#3e40d8"/>
<circle cx="544.2" cy="270.2" r="1.6" fill="#3e40d8"/>
<circle cx="544.2" cy="274.8" r="1.6" fill="#3e40d8"/>
<circle cx="544.2" cy="279.4" r="1.6" fill="#3e40d8"/>
<circle cx="544.2" cy="284" r="1.6" fill="#3e40d8"/>
<circle cx="504.4" cy="211.8" r="1.6" fill="#3a60e8"/>
<circle cx="504.4" cy="216.4" r="1.6" fill="#4048e0"/>
<circle cx="508.9" cy="212.6" r="1.6" fill="#4048e0"/>
<circle cx="508.9" cy="217.2" r="1.6" fill="#4048e0"/>
<circle cx="513.5" cy="213.4" r="1.6" fill="#3a60e8"/>
<circle cx="513.5" cy="218" r="1.6" fill="#4048e0"/>
<circle cx="518.1" cy="214.2" r="1.6" fill="#4048e0"/>
<circle cx="518.1" cy="218.8" r="1.6" fill="#4048e0"/>
<circle cx="522.7" cy="215.1" r="1.6" fill="#3a60e8"/>
<circle cx="522.7" cy="219.7" r="1.6" fill="#4048e0"/>
<circle cx="527.3" cy="215.9" r="1.6" fill="#4048e0"/>
<circle cx="527.3" cy="220.5" r="1.6" fill="#4048e0"/>
<circle cx="531.9" cy="216.7" r="1.6" fill="#3a60e8"/>
<circle cx="531.9" cy="221.3" r="1.6" fill="#4048e0"/>
<circle cx="487.5" cy="212.7" r="1.6" fill="#3a60e8"/>
<circle cx="536.5" cy="217.5" r="1.6" fill="#4048e0"/>
<circle cx="487.5" cy="217.3" r="1.6" fill="#4048e0"/>
<circle cx="536.5" cy="222.1" r="1.6" fill="#4048e0"/>
<circle cx="536.5" cy="226.7" r="1.6" fill="#4048e0"/>
<circle cx="536.5" cy="231.3" r="1.6" fill="#4048e0"/>
<circle cx="536.5" cy="235.9" r="1.6" fill="#4048e0"/>
<circle cx="536.5" cy="240.5" r="1.6" fill="#4048e0"/>
<circle cx="536.5" cy="245.1" r="1.6" fill="#4048e0"/>
<circle cx="536.5" cy="249.7" r="1.6" fill="#4048e0"/>
<circle cx="536.5" cy="254.3" r="1.6" fill="#4048e0"/>
<circle cx="536.5" cy="258.9" r="1.6" fill="#4048e0"/>
<circle cx="492.1" cy="213.5" r="1.6" fill="#4048e0"/>
<circle cx="536.5" cy="263.5" r="1.6" fill="#4048e0"/>
<circle cx="541.1" cy="218.3" r="1.6" fill="#3e40d8"/>
<circle cx="492.1" cy="218.1" r="1.6" fill="#4048e0"/>
<circle cx="536.5" cy="268.1" r="1.6" fill="#4048e0"/>
<circle cx="541.1" cy="222.9" r="1.6" fill="#3e40d8"/>
<circle cx="536.5" cy="272.7" r="1.6" fill="#4048e0"/>
<circle cx="541.1" cy="227.5" r="1.6" fill="#3e40d8"/>
<circle cx="536.5" cy="277.3" r="1.6" fill="#4048e0"/>
<circle cx="541.1" cy="232.1" r="1.6" fill="#3e40d8"/>
<circle cx="536.5" cy="281.9" r="1.6" fill="#4048e0"/>
<circle cx="541.1" cy="236.7" r="1.6" fill="#3e40d8"/>
<circle cx="536.5" cy="286.5" r="1.6" fill="#4048e0"/>
<circle cx="541.1" cy="241.3" r="1.6" fill="#3e40d8"/>
<circle cx="541.1" cy="245.9" r="1.6" fill="#3e40d8"/>
<circle cx="541.1" cy="250.5" r="1.6" fill="#3e40d8"/>
<circle cx="541.1" cy="255.1" r="1.6" fill="#3e40d8"/>
<circle cx="541.1" cy="259.7" r="1.6" fill="#3e40d8"/>
<circle cx="496.6" cy="214.3" r="1.6" fill="#3a60e8"/>
<circle cx="541.1" cy="264.3" r="1.6" fill="#3e40d8"/>
<circle cx="496.6" cy="218.9" r="1.6" fill="#4048e0"/>
<circle cx="541.1" cy="268.9" r="1.6" fill="#3e40d8"/>
<circle cx="541.1" cy="273.5" r="1.6" fill="#3e40d8"/>
<circle cx="541.1" cy="278.1" r="1.6" fill="#3e40d8"/>
<circle cx="541.1" cy="282.7" r="1.6" fill="#3e40d8"/>
<circle cx="541.1" cy="287.3" r="1.6" fill="#3e40d8"/>
<circle cx="501.2" cy="215.1" r="1.6" fill="#4048e0"/>
<circle cx="501.2" cy="219.7" r="1.6" fill="#4048e0"/>
<circle cx="505.8" cy="215.9" r="1.6" fill="#3a60e8"/>
<circle cx="505.8" cy="220.5" r="1.6" fill="#4048e0"/>
<circle cx="510.4" cy="216.8" r="1.6" fill="#4048e0"/>
<circle cx="510.4" cy="221.4" r="1.6" fill="#4048e0"/>
<circle cx="515" cy="217.6" r="1.6" fill="#3a60e8"/>
<circle cx="515" cy="222.2" r="1.6" fill="#4048e0"/>
<circle cx="519.6" cy="218.4" r="1.6" fill="#4048e0"/>
<circle cx="519.6" cy="223" r="1.6" fill="#4048e0"/>
<circle cx="524.2" cy="219.2" r="1.6" fill="#3a60e8"/>
<circle cx="524.2" cy="223.8" r="1.6" fill="#4048e0"/>
<circle cx="528.8" cy="220" r="1.6" fill="#4048e0"/>
<circle cx="528.8" cy="224.6" r="1.6" fill="#4048e0"/>
<circle cx="484.4" cy="216" r="1.6" fill="#4048e0"/>
<circle cx="533.4" cy="220.8" r="1.6" fill="#3a60e8"/>
<circle cx="484.4" cy="220.6" r="1.6" fill="#4048e0"/>
<circle cx="533.4" cy="225.4" r="1.6" fill="#4048e0"/>
<circle cx="533.4" cy="230" r="1.6" fill="#4048e0"/>
<circle cx="533.4" cy="234.6" r="1.6" fill="#4048e0"/>
<circle cx="533.4" cy="239.2" r="1.6" fill="#4048e0"/>
<circle cx="533.4" cy="243.8" r="1.6" fill="#4048e0"/>
<circle cx="533.4" cy="248.4" r="1.6" fill="#4048e0"/>
<circle cx="533.4" cy="253" r="1.6" fill="#4048e0"/>
<circle cx="533.4" cy="257.6" r="1.6" fill="#4048e0"/>
<circle cx="533.4" cy="262.2" r="1.6" fill="#4048e0"/>
<circle cx="488.9" cy="216.8" r="1.6" fill="#3a60e8"/>
<circle cx="533.4" cy="266.8" r="1.6" fill="#4048e0"/>
<circle cx="538" cy="221.7" r="1.6" fill="#3e40d8"/>
<circle cx="488.9" cy="221.4" r="1.6" fill="#4048e0"/>
<circle cx="533.4" cy="271.4" r="1.6" fill="#4048e0"/>
<circle cx="538" cy="226.3" r="1.6" fill="#3e40d8"/>
<circle cx="533.4" cy="276" r="1.6" fill="#4048e0"/>
<circle cx="538" cy="230.9" r="1.6" fill="#3e40d8"/>
<circle cx="533.4" cy="280.6" r="1.6" fill="#4048e0"/>
<circle cx="538" cy="235.5" r="1.6" fill="#3e40d8"/>
<circle cx="533.4" cy="285.2" r="1.6" fill="#4048e0"/>
<circle cx="538" cy="240.1" r="1.6" fill="#3e40d8"/>
<circle cx="533.4" cy="289.8" r="1.6" fill="#4048e0"/>
<circle cx="538" cy="244.7" r="1.6" fill="#3e40d8"/>
<circle cx="538" cy="249.3" r="1.6" fill="#3e40d8"/>
<circle cx="538" cy="253.9" r="1.6" fill="#3e40d8"/>
<circle cx="538" cy="258.5" r="1.6" fill="#3e40d8"/>
<circle cx="538" cy="263.1" r="1.6" fill="#3e40d8"/>
<circle cx="493.5" cy="217.6" r="1.6" fill="#4048e0"/>
<circle cx="538" cy="267.7" r="1.6" fill="#3e40d8"/>
<circle cx="493.5" cy="222.2" r="1.6" fill="#4048e0"/>
<circle cx="538" cy="272.3" r="1.6" fill="#3e40d8"/>
<circle cx="538" cy="276.9" r="1.6" fill="#3e40d8"/>
<circle cx="538" cy="281.5" r="1.6" fill="#3e40d8"/>
<circle cx="538" cy="286.1" r="1.6" fill="#3e40d8"/>
<circle cx="538" cy="290.7" r="1.6" fill="#3e40d8"/>
<circle cx="498.1" cy="218.5" r="1.6" fill="#3a60e8"/>
<circle cx="498.1" cy="223.1" r="1.6" fill="#4048e0"/>
<circle cx="502.7" cy="219.3" r="1.6" fill="#4048e0"/>
<circle cx="502.7" cy="223.9" r="1.6" fill="#4048e0"/>
<circle cx="507.3" cy="220.1" r="1.6" fill="#3a60e8"/>
<circle cx="507.3" cy="224.7" r="1.6" fill="#4048e0"/>
<circle cx="511.9" cy="220.9" r="1.6" fill="#4048e0"/>
<circle cx="511.9" cy="225.5" r="1.6" fill="#4048e0"/>
<circle cx="516.5" cy="221.7" r="1.6" fill="#3a60e8"/>
<circle cx="516.5" cy="226.3" r="1.6" fill="#4048e0"/>
<circle cx="521.1" cy="222.5" r="1.6" fill="#4048e0"/>
<circle cx="521.1" cy="227.1" r="1.6" fill="#4048e0"/>
<circle cx="525.7" cy="223.4" r="1.6" fill="#3a60e8"/>
<circle cx="525.7" cy="228" r="1.6" fill="#4048e0"/>
<circle cx="481.2" cy="219.3" r="1.6" fill="#3a60e8"/>
<circle cx="530.3" cy="224.2" r="1.6" fill="#4048e0"/>
<circle cx="481.2" cy="223.9" r="1.6" fill="#4048e0"/>
<circle cx="530.3" cy="228.8" r="1.6" fill="#4048e0"/>
<circle cx="530.3" cy="233.4" r="1.6" fill="#4048e0"/>
<circle cx="530.3" cy="238" r="1.6" fill="#4048e0"/>
<circle cx="530.3" cy="242.6" r="1.6" fill="#4048e0"/>
<circle cx="530.3" cy="247.2" r="1.6" fill="#4048e0"/>
<circle cx="530.3" cy="251.8" r="1.6" fill="#4048e0"/>
<circle cx="530.3" cy="256.4" r="1.6" fill="#4048e0"/>
<circle cx="530.3" cy="261" r="1.6" fill="#4048e0"/>
<circle cx="530.3" cy="265.6" r="1.6" fill="#4048e0"/>
<circle cx="485.8" cy="220.2" r="1.6" fill="#4048e0"/>
<circle cx="530.3" cy="270.2" r="1.6" fill="#4048e0"/>
<circle cx="534.9" cy="225" r="1.6" fill="#3e40d8"/>
<circle cx="485.8" cy="224.8" r="1.6" fill="#4048e0"/>
<circle cx="530.3" cy="274.8" r="1.6" fill="#4048e0"/>
<circle cx="534.9" cy="229.6" r="1.6" fill="#3e40d8"/>
<circle cx="530.3" cy="279.4" r="1.6" fill="#4048e0"/>
<circle cx="534.9" cy="234.2" r="1.6" fill="#3e40d8"/>
<circle cx="530.3" cy="284" r="1.6" fill="#4048e0"/>
<circle cx="534.9" cy="238.8" r="1.6" fill="#3e40d8"/>
<circle cx="530.3" cy="288.6" r="1.6" fill="#4048e0"/>
<circle cx="534.9" cy="243.4" r="1.6" fill="#3e40d8"/>
<circle cx="530.3" cy="293.2" r="1.6" fill="#4048e0"/>
<circle cx="534.9" cy="248" r="1.6" fill="#3e40d8"/>
<circle cx="534.9" cy="252.6" r="1.6" fill="#3e40d8"/>
<circle cx="534.9" cy="257.2" r="1.6" fill="#3e40d8"/>
<circle cx="534.9" cy="261.8" r="1.6" fill="#3e40d8"/>
<circle cx="534.9" cy="266.4" r="1.6" fill="#3e40d8"/>
<circle cx="490.4" cy="221" r="1.6" fill="#3a60e8"/>
<circle cx="534.9" cy="271" r="1.6" fill="#3e40d8"/>
<circle cx="490.4" cy="225.6" r="1.6" fill="#4048e0"/>
<circle cx="534.9" cy="275.6" r="1.6" fill="#3e40d8"/>
<circle cx="534.9" cy="280.2" r="1.6" fill="#3e40d8"/>
<circle cx="534.9" cy="284.8" r="1.6" fill="#3e40d8"/>
<circle cx="534.9" cy="289.4" r="1.6" fill="#3e40d8"/>
<circle cx="534.9" cy="294" r="1.6" fill="#3e40d8"/>
<circle cx="495" cy="221.8" r="1.6" fill="#4048e0"/>
<circle cx="495" cy="226.4" r="1.6" fill="#4048e0"/>
<circle cx="499.6" cy="222.6" r="1.6" fill="#3a60e8"/>
<circle cx="499.6" cy="227.2" r="1.6" fill="#4048e0"/>
<circle cx="504.2" cy="223.4" r="1.6" fill="#4048e0"/>
<circle cx="504.2" cy="228" r="1.6" fill="#4048e0"/>
<circle cx="508.8" cy="224.2" r="1.6" fill="#3a60e8"/>
<circle cx="508.8" cy="228.8" r="1.6" fill="#4048e0"/>
<circle cx="513.4" cy="225.1" r="1.6" fill="#4048e0"/>
<circle cx="513.4" cy="229.7" r="1.6" fill="#4048e0"/>
<circle cx="518" cy="225.9" r="1.6" fill="#3a60e8"/>
<circle cx="518" cy="230.5" r="1.6" fill="#4048e0"/>
<circle cx="522.6" cy="226.7" r="1.6" fill="#4048e0"/>
<circle cx="522.6" cy="231.3" r="1.6" fill="#4048e0"/>
<circle cx="478.1" cy="222.7" r="1.6" fill="#4048e0"/>
<circle cx="527.1" cy="227.5" r="1.6" fill="#3a60e8"/>
<circle cx="478.1" cy="227.3" r="1.6" fill="#4048e0"/>
<circle cx="527.1" cy="232.1" r="1.6" fill="#4048e0"/>
<circle cx="478.1" cy="231.9" r="1.6" fill="#4048e0"/>
<circle cx="527.1" cy="236.7" r="1.6" fill="#4048e0"/>
<circle cx="478.1" cy="236.5" r="1.6" fill="#4048e0"/>
<circle cx="527.1" cy="241.3" r="1.6" fill="#4048e0"/>
<circle cx="478.1" cy="241.1" r="1.6" fill="#4048e0"/>
<circle cx="527.1" cy="245.9" r="1.6" fill="#4048e0"/>
<circle cx="478.1" cy="245.7" r="1.6" fill="#4048e0"/>
<circle cx="527.1" cy="250.5" r="1.6" fill="#4048e0"/>
<circle cx="478.1" cy="250.3" r="1.6" fill="#4048e0"/>
<circle cx="527.1" cy="255.1" r="1.6" fill="#4048e0"/>
<circle cx="478.1" cy="254.9" r="1.6" fill="#4048e0"/>
<circle cx="527.1" cy="259.7" r="1.6" fill="#4048e0"/>
<circle cx="478.1" cy="259.5" r="1.6" fill="#4048e0"/>
<circle cx="527.1" cy="264.3" r="1.6" fill="#4048e0"/>
<circle cx="478.1" cy="264.1" r="1.6" fill="#4048e0"/>
<circle cx="527.1" cy="268.9" r="1.6" fill="#4048e0"/>
<circle cx="478.1" cy="268.7" r="1.6" fill="#4048e0"/>
<circle cx="482.7" cy="223.5" r="1.6" fill="#3a60e8"/>
<circle cx="527.1" cy="273.5" r="1.6" fill="#4048e0"/>
<circle cx="531.7" cy="228.3" r="1.6" fill="#3e40d8"/>
<circle cx="478.1" cy="273.3" r="1.6" fill="#4048e0"/>
<circle cx="482.7" cy="228.1" r="1.6" fill="#4048e0"/>
<circle cx="527.1" cy="278.1" r="1.6" fill="#4048e0"/>
<circle cx="531.7" cy="232.9" r="1.6" fill="#3e40d8"/>
<circle cx="478.1" cy="277.9" r="1.6" fill="#4048e0"/>
<circle cx="482.7" cy="232.7" r="1.6" fill="#4048e0"/>
<circle cx="527.1" cy="282.7" r="1.6" fill="#4048e0"/>
<circle cx="531.7" cy="237.5" r="1.6" fill="#3e40d8"/>
<circle cx="478.1" cy="282.5" r="1.6" fill="#4048e0"/>
<circle cx="482.7" cy="237.3" r="1.6" fill="#4048e0"/>
<circle cx="527.1" cy="287.3" r="1.6" fill="#4048e0"/>
<circle cx="531.7" cy="242.1" r="1.6" fill="#3e40d8"/>
<circle cx="478.1" cy="287.1" r="1.6" fill="#4048e0"/>
<circle cx="482.7" cy="241.9" r="1.6" fill="#4048e0"/>
<circle cx="527.1" cy="291.9" r="1.6" fill="#4048e0"/>
<circle cx="531.7" cy="246.7" r="1.6" fill="#3e40d8"/>
<circle cx="478.1" cy="291.7" r="1.6" fill="#4048e0"/>
<circle cx="482.7" cy="246.5" r="1.6" fill="#4048e0"/>
<circle cx="527.1" cy="296.5" r="1.6" fill="#4048e0"/>
<circle cx="531.7" cy="251.3" r="1.6" fill="#3e40d8"/>
<circle cx="482.7" cy="251.1" r="1.6" fill="#4048e0"/>
<circle cx="531.7" cy="255.9" r="1.6" fill="#3e40d8"/>
<circle cx="482.7" cy="255.7" r="1.6" fill="#4048e0"/>
<circle cx="531.7" cy="260.5" r="1.6" fill="#3e40d8"/>
<circle cx="482.7" cy="260.3" r="1.6" fill="#4048e0"/>
<circle cx="531.7" cy="265.1" r="1.6" fill="#3e40d8"/>
<circle cx="482.7" cy="264.9" r="1.6" fill="#4048e0"/>
<circle cx="531.7" cy="269.7" r="1.6" fill="#3e40d8"/>
<circle cx="482.7" cy="269.5" r="1.6" fill="#4048e0"/>
<circle cx="487.3" cy="224.3" r="1.6" fill="#4048e0"/>
<circle cx="531.7" cy="274.3" r="1.6" fill="#3e40d8"/>
<circle cx="482.7" cy="274.1" r="1.6" fill="#4048e0"/>
<circle cx="487.3" cy="228.9" r="1.6" fill="#4048e0"/>
<circle cx="531.7" cy="278.9" r="1.6" fill="#3e40d8"/>
<circle cx="482.7" cy="278.7" r="1.6" fill="#4048e0"/>
<circle cx="487.3" cy="233.5" r="1.6" fill="#4048e0"/>
<circle cx="531.7" cy="283.5" r="1.6" fill="#3e40d8"/>
<circle cx="482.7" cy="283.3" r="1.6" fill="#4048e0"/>
<circle cx="487.3" cy="238.1" r="1.6" fill="#4048e0"/>
<circle cx="531.7" cy="288.1" r="1.6" fill="#3e40d8"/>
<circle cx="482.7" cy="287.9" r="1.6" fill="#4048e0"/>
<circle cx="487.3" cy="242.7" r="1.6" fill="#4048e0"/>
<circle cx="531.7" cy="292.7" r="1.6" fill="#3e40d8"/>
<circle cx="482.7" cy="292.5" r="1.6" fill="#4048e0"/>
<circle cx="487.3" cy="247.3" r="1.6" fill="#4048e0"/>
<circle cx="531.7" cy="297.3" r="1.6" fill="#3e40d8"/>
<circle cx="487.3" cy="251.9" r="1.6" fill="#4048e0"/>
<circle cx="487.3" cy="256.5" r="1.6" fill="#4048e0"/>
<circle cx="487.3" cy="261.1" r="1.6" fill="#4048e0"/>
<circle cx="487.3" cy="265.7" r="1.6" fill="#4048e0"/>
<circle cx="487.3" cy="270.3" r="1.6" fill="#4048e0"/>
<circle cx="491.9" cy="225.1" r="1.6" fill="#3a60e8"/>
<circle cx="487.3" cy="274.9" r="1.6" fill="#4048e0"/>
<circle cx="491.9" cy="229.7" r="1.6" fill="#4048e0"/>
<circle cx="487.3" cy="279.5" r="1.6" fill="#4048e0"/>
<circle cx="491.9" cy="234.3" r="1.6" fill="#4048e0"/>
<circle cx="487.3" cy="284.1" r="1.6" fill="#4048e0"/>
<circle cx="491.9" cy="238.9" r="1.6" fill="#4048e0"/>
<circle cx="487.3" cy="288.7" r="1.6" fill="#4048e0"/>
<circle cx="491.9" cy="243.5" r="1.6" fill="#4048e0"/>
<circle cx="487.3" cy="293.3" r="1.6" fill="#4048e0"/>
<circle cx="491.9" cy="248.1" r="1.6" fill="#4048e0"/>
<circle cx="491.9" cy="252.7" r="1.6" fill="#4048e0"/>
<circle cx="491.9" cy="257.3" r="1.6" fill="#4048e0"/>
<circle cx="491.9" cy="261.9" r="1.6" fill="#4048e0"/>
<circle cx="491.9" cy="266.5" r="1.6" fill="#4048e0"/>
<circle cx="491.9" cy="271.1" r="1.6" fill="#4048e0"/>
<circle cx="496.5" cy="225.9" r="1.6" fill="#4048e0"/>
<circle cx="491.9" cy="275.7" r="1.6" fill="#4048e0"/>
<circle cx="496.5" cy="230.5" r="1.6" fill="#4048e0"/>
<circle cx="491.9" cy="280.3" r="1.6" fill="#4048e0"/>
<circle cx="496.5" cy="235.1" r="1.6" fill="#4048e0"/>
<circle cx="491.9" cy="284.9" r="1.6" fill="#4048e0"/>
<circle cx="496.5" cy="239.7" r="1.6" fill="#4048e0"/>
<circle cx="491.9" cy="289.5" r="1.6" fill="#4048e0"/>
<circle cx="496.5" cy="244.3" r="1.6" fill="#4048e0"/>
<circle cx="491.9" cy="294.1" r="1.6" fill="#4048e0"/>
<circle cx="496.5" cy="248.9" r="1.6" fill="#4048e0"/>
<circle cx="496.5" cy="253.5" r="1.6" fill="#4048e0"/>
<circle cx="496.5" cy="258.1" r="1.6" fill="#4048e0"/>
<circle cx="496.5" cy="262.7" r="1.6" fill="#4048e0"/>
<circle cx="496.5" cy="267.3" r="1.6" fill="#4048e0"/>
<circle cx="496.5" cy="271.9" r="1.6" fill="#4048e0"/>
<circle cx="501.1" cy="226.8" r="1.6" fill="#3a60e8"/>
<line x1="475" y1="226" x2="493.7" y2="206" stroke="#4a70e8" stroke-width="1.6"/>
<line x1="479.6" y1="226.8" x2="498.3" y2="206.8" stroke="#4a70e8" stroke-width="1.6"/>
<line x1="484.2" y1="227.6" x2="502.9" y2="207.6" stroke="#4a70e8" stroke-width="1.6"/>
<line x1="488.8" y1="228.5" x2="507.5" y2="208.5" stroke="#4a70e8" stroke-width="1.6"/>
<line x1="493.4" y1="229.3" x2="512.1" y2="209.3" stroke="#4a70e8" stroke-width="1.6"/>
<line x1="498" y1="230.1" x2="516.7" y2="210.1" stroke="#4a70e8" stroke-width="1.6"/>
<line x1="502.5" y1="230.9" x2="521.2" y2="210.9" stroke="#4a70e8" stroke-width="1.6"/>
<line x1="507.1" y1="231.7" x2="525.8" y2="211.7" stroke="#4a70e8" stroke-width="1.6"/>
<line x1="511.7" y1="232.5" x2="530.4" y2="212.5" stroke="#4a70e8" stroke-width="1.6"/>
<line x1="516.3" y1="233.4" x2="535" y2="213.4" stroke="#4a70e8" stroke-width="1.6"/>
<line x1="520.9" y1="234.2" x2="539.6" y2="214.2" stroke="#4a70e8" stroke-width="1.6"/>
<line x1="525.5" y1="235" x2="544.2" y2="215" stroke="#4a70e8" stroke-width="1.6"/>
<line x1="525.5" y1="239.6" x2="544.2" y2="219.6" stroke="#4070e8" stroke-width="2.0"/>
<line x1="525.5" y1="244.2" x2="544.2" y2="224.2" stroke="#4070e8" stroke-width="2.0"/>
<line x1="525.5" y1="248.8" x2="544.2" y2="228.8" stroke="#30a8e0" stroke-width="2.0"/>
<line x1="525.5" y1="253.4" x2="544.2" y2="233.4" stroke="#30a8e0" stroke-width="2.0"/>
<line x1="525.5" y1="258" x2="544.2" y2="238" stroke="#30a8e0" stroke-width="2.0"/>
<line x1="525.5" y1="262.6" x2="544.2" y2="242.6" stroke="#30a8e0" stroke-width="2.0"/>
<line x1="525.5" y1="267.2" x2="544.2" y2="247.2" stroke="#30a8e0" stroke-width="2.0"/>
<line x1="525.5" y1="271.8" x2="544.2" y2="251.8" stroke="#30a8e0" stroke-width="2.0"/>
<line x1="525.5" y1="276.4" x2="544.2" y2="256.4" stroke="#30a8e0" stroke-width="2.0"/>
<line x1="525.5" y1="281" x2="544.2" y2="261" stroke="#30a8e0" stroke-width="2.0"/>
<line x1="525.5" y1="285.6" x2="544.2" y2="265.6" stroke="#30a8e0" stroke-width="2.0"/>
<line x1="525.5" y1="290.2" x2="544.2" y2="270.2" stroke="#30a8e0" stroke-width="2.0"/>
<line x1="525.5" y1="294.8" x2="544.2" y2="274.8" stroke="#4070e8" stroke-width="2.0"/>
<line x1="525.5" y1="299.4" x2="544.2" y2="279.4" stroke="#4070e8" stroke-width="2.0"/>
<line x1="525.5" y1="304" x2="544.2" y2="284" stroke="#4070e8" stroke-width="2.0"/>
<line x1="475" y1="230.6" x2="479.6" y2="231.4" stroke="#4060e8" stroke-width="2.2"/>
<line x1="479.6" y1="231.4" x2="484.2" y2="232.2" stroke="#4060e8" stroke-width="2.2"/>
<line x1="484.2" y1="232.2" x2="488.8" y2="233.1" stroke="#4060e8" stroke-width="2.2"/>
<line x1="488.8" y1="233.1" x2="493.4" y2="233.9" stroke="#4060e8" stroke-width="2.2"/>
<line x1="493.4" y1="233.9" x2="498" y2="234.7" stroke="#3a80e8" stroke-width="2.2"/>
<line x1="498" y1="234.7" x2="502.5" y2="235.5" stroke="#3a80e8" stroke-width="2.2"/>
<line x1="502.5" y1="235.5" x2="507.1" y2="236.3" stroke="#3a80e8" stroke-width="2.2"/>
<line x1="507.1" y1="236.3" x2="511.7" y2="237.1" stroke="#4060e8" stroke-width="2.2"/>
<line x1="511.7" y1="237.1" x2="516.3" y2="238" stroke="#4060e8" stroke-width="2.2"/>
<line x1="516.3" y1="238" x2="520.9" y2="238.8" stroke="#4060e8" stroke-width="2.2"/>
<line x1="520.9" y1="238.8" x2="525.5" y2="239.6" stroke="#4060e8" stroke-width="2.2"/>
<line x1="475" y1="235.2" x2="479.6" y2="236" stroke="#4060e8" stroke-width="2.2"/>
<line x1="479.6" y1="236" x2="484.2" y2="236.8" stroke="#4060e8" stroke-width="2.2"/>
<line x1="484.2" y1="236.8" x2="488.8" y2="237.7" stroke="#4060e8" stroke-width="2.2"/>
<line x1="488.8" y1="237.7" x2="493.4" y2="238.5" stroke="#3a80e8" stroke-width="2.2"/>
<line x1="493.4" y1="238.5" x2="498" y2="239.3" stroke="#3a80e8" stroke-width="2.2"/>
<line x1="498" y1="239.3" x2="502.5" y2="240.1" stroke="#3a80e8" stroke-width="2.2"/>
<line x1="502.5" y1="240.1" x2="507.1" y2="240.9" stroke="#3a80e8" stroke-width="2.2"/>
<line x1="507.1" y1="240.9" x2="511.7" y2="241.7" stroke="#3a80e8" stroke-width="2.2"/>
<line x1="511.7" y1="241.7" x2="516.3" y2="242.6" stroke="#4060e8" stroke-width="2.2"/>
<line x1="516.3" y1="242.6" x2="520.9" y2="243.4" stroke="#4060e8" stroke-width="2.2"/>
<line x1="520.9" y1="243.4" x2="525.5" y2="244.2" stroke="#4060e8" stroke-width="2.2"/>
<line x1="475" y1="239.8" x2="479.6" y2="240.6" stroke="#4060e8" stroke-width="2.2"/>
<line x1="479.6" y1="240.6" x2="484.2" y2="241.4" stroke="#4060e8" stroke-width="2.2"/>
<line x1="484.2" y1="241.4" x2="488.8" y2="242.3" stroke="#3a80e8" stroke-width="2.2"/>
<line x1="488.8" y1="242.3" x2="493.4" y2="243.1" stroke="#3a80e8" stroke-width="2.2"/>
<line x1="493.4" y1="243.1" x2="498" y2="243.9" stroke="#3a80e8" stroke-width="2.2"/>
<line x1="498" y1="243.9" x2="502.5" y2="244.7" stroke="#38a8e0" stroke-width="2.2"/>
<line x1="502.5" y1="244.7" x2="507.1" y2="245.5" stroke="#3a80e8" stroke-width="2.2"/>
<line x1="507.1" y1="245.5" x2="511.7" y2="246.3" stroke="#3a80e8" stroke-width="2.2"/>
<line x1="511.7" y1="246.3" x2="516.3" y2="247.2" stroke="#3a80e8" stroke-width="2.2"/>
<line x1="516.3" y1="247.2" x2="520.9" y2="248" stroke="#4060e8" stroke-width="2.2"/>
<line x1="520.9" y1="248" x2="525.5" y2="248.8" stroke="#4060e8" stroke-width="2.2"/>
<line x1="475" y1="244.4" x2="479.6" y2="245.2" stroke="#3a80e8" stroke-width="2.2"/>
<line x1="479.6" y1="245.2" x2="484.2" y2="246" stroke="#3a80e8" stroke-width="2.2"/>
<line x1="484.2" y1="246" x2="488.8" y2="246.9" stroke="#3a80e8" stroke-width="2.2"/>
<line x1="488.8" y1="246.9" x2="493.4" y2="247.7" stroke="#3a80e8" stroke-width="2.2"/>
<line x1="493.4" y1="247.7" x2="498" y2="248.5" stroke="#38a8e0" stroke-width="2.2"/>
<line x1="498" y1="248.5" x2="502.5" y2="249.3" stroke="#38a8e0" stroke-width="2.2"/>
<line x1="502.5" y1="249.3" x2="507.1" y2="250.1" stroke="#38a8e0" stroke-width="2.2"/>
<line x1="507.1" y1="250.1" x2="511.7" y2="250.9" stroke="#3a80e8" stroke-width="2.2"/>
<line x1="511.7" y1="250.9" x2="516.3" y2="251.8" stroke="#3a80e8" stroke-width="2.2"/>
<line x1="516.3" y1="251.8" x2="520.9" y2="252.6" stroke="#3a80e8" stroke-width="2.2"/>
<line x1="520.9" y1="252.6" x2="525.5" y2="253.4" stroke="#3a80e8" stroke-width="2.2"/>
<line x1="475" y1="249" x2="479.6" y2="249.8" stroke="#3a80e8" stroke-width="2.2"/>
<line x1="479.6" y1="249.8" x2="484.2" y2="250.6" stroke="#3a80e8" stroke-width="2.2"/>
<line x1="484.2" y1="250.6" x2="488.8" y2="251.5" stroke="#38a8e0" stroke-width="2.2"/>
<line x1="488.8" y1="251.5" x2="493.4" y2="252.3" stroke="#38a8e0" stroke-width="2.2"/>
<line x1="493.4" y1="252.3" x2="498" y2="253.1" stroke="#38a8e0" stroke-width="2.2"/>
<line x1="498" y1="253.1" x2="502.5" y2="253.9" stroke="#38a8e0" stroke-width="2.2"/>
<line x1="502.5" y1="253.9" x2="507.1" y2="254.7" stroke="#38a8e0" stroke-width="2.2"/>
<line x1="507.1" y1="254.7" x2="511.7" y2="255.5" stroke="#38a8e0" stroke-width="2.2"/>
<line x1="511.7" y1="255.5" x2="516.3" y2="256.4" stroke="#38a8e0" stroke-width="2.2"/>
<line x1="516.3" y1="256.4" x2="520.9" y2="257.2" stroke="#3a80e8" stroke-width="2.2"/>
<line x1="520.9" y1="257.2" x2="525.5" y2="258" stroke="#3a80e8" stroke-width="2.2"/>
<line x1="475" y1="253.6" x2="479.6" y2="254.4" stroke="#3a80e8" stroke-width="2.2"/>
<line x1="479.6" y1="254.4" x2="484.2" y2="255.2" stroke="#38a8e0" stroke-width="2.2"/>
<line x1="484.2" y1="255.2" x2="488.8" y2="256.1" stroke="#38a8e0" stroke-width="2.2"/>
<line x1="488.8" y1="256.1" x2="493.4" y2="256.9" stroke="#38a8e0" stroke-width="2.2"/>
<line x1="493.4" y1="256.9" x2="498" y2="257.7" stroke="#38a8e0" stroke-width="2.2"/>
<line x1="498" y1="257.7" x2="502.5" y2="258.5" stroke="#38a8e0" stroke-width="2.2"/>
<line x1="502.5" y1="258.5" x2="507.1" y2="259.3" stroke="#38a8e0" stroke-width="2.2"/>
<line x1="507.1" y1="259.3" x2="511.7" y2="260.1" stroke="#38a8e0" stroke-width="2.2"/>
<line x1="511.7" y1="260.1" x2="516.3" y2="261" stroke="#38a8e0" stroke-width="2.2"/>
<line x1="516.3" y1="261" x2="520.9" y2="261.8" stroke="#38a8e0" stroke-width="2.2"/>
<line x1="520.9" y1="261.8" x2="525.5" y2="262.6" stroke="#3a80e8" stroke-width="2.2"/>
<line x1="475" y1="258.2" x2="479.6" y2="259" stroke="#38a8e0" stroke-width="2.2"/>
<line x1="479.6" y1="259" x2="484.2" y2="259.8" stroke="#38a8e0" stroke-width="2.2"/>
<line x1="484.2" y1="259.8" x2="488.8" y2="260.7" stroke="#38a8e0" stroke-width="2.2"/>
<line x1="488.8" y1="260.7" x2="493.4" y2="261.5" stroke="#38a8e0" stroke-width="2.2"/>
<line x1="493.4" y1="261.5" x2="498" y2="262.3" stroke="#38a8e0" stroke-width="2.2"/>
<line x1="498" y1="262.3" x2="502.5" y2="263.1" stroke="#38a8e0" stroke-width="2.2"/>
<line x1="502.5" y1="263.1" x2="507.1" y2="263.9" stroke="#38a8e0" stroke-width="2.2"/>
<line x1="507.1" y1="263.9" x2="511.7" y2="264.7" stroke="#38a8e0" stroke-width="2.2"/>
<line x1="511.7" y1="264.7" x2="516.3" y2="265.6" stroke="#38a8e0" stroke-width="2.2"/>
<line x1="516.3" y1="265.6" x2="520.9" y2="266.4" stroke="#38a8e0" stroke-width="2.2"/>
<line x1="520.9" y1="266.4" x2="525.5" y2="267.2" stroke="#38a8e0" stroke-width="2.2"/>
<line x1="475" y1="262.8" x2="479.6" y2="263.6" stroke="#38a8e0" stroke-width="2.2"/>
<line x1="479.6" y1="263.6" x2="484.2" y2="264.4" stroke="#38a8e0" stroke-width="2.2"/>
<line x1="484.2" y1="264.4" x2="488.8" y2="265.3" stroke="#38a8e0" stroke-width="2.2"/>
<line x1="488.8" y1="265.3" x2="493.4" y2="266.1" stroke="#38a8e0" stroke-width="2.2"/>
<line x1="493.4" y1="266.1" x2="498" y2="266.9" stroke="#38a8e0" stroke-width="2.2"/>
<line x1="498" y1="266.9" x2="502.5" y2="267.7" stroke="#38a8e0" stroke-width="2.2"/>
<line x1="502.5" y1="267.7" x2="507.1" y2="268.5" stroke="#38a8e0" stroke-width="2.2"/>
<line x1="507.1" y1="268.5" x2="511.7" y2="269.3" stroke="#38a8e0" stroke-width="2.2"/>
<line x1="511.7" y1="269.3" x2="516.3" y2="270.2" stroke="#38a8e0" stroke-width="2.2"/>
<line x1="516.3" y1="270.2" x2="520.9" y2="271" stroke="#38a8e0" stroke-width="2.2"/>
<line x1="520.9" y1="271" x2="525.5" y2="271.8" stroke="#38a8e0" stroke-width="2.2"/>
<line x1="475" y1="267.4" x2="479.6" y2="268.2" stroke="#3a80e8" stroke-width="2.2"/>
<line x1="479.6" y1="268.2" x2="484.2" y2="269" stroke="#38a8e0" stroke-width="2.2"/>
<line x1="484.2" y1="269" x2="488.8" y2="269.9" stroke="#38a8e0" stroke-width="2.2"/>
<line x1="488.8" y1="269.9" x2="493.4" y2="270.7" stroke="#38a8e0" stroke-width="2.2"/>
<line x1="493.4" y1="270.7" x2="498" y2="271.5" stroke="#38a8e0" stroke-width="2.2"/>
<line x1="498" y1="271.5" x2="502.5" y2="272.3" stroke="#38a8e0" stroke-width="2.2"/>
<line x1="502.5" y1="272.3" x2="507.1" y2="273.1" stroke="#38a8e0" stroke-width="2.2"/>
<line x1="507.1" y1="273.1" x2="511.7" y2="273.9" stroke="#38a8e0" stroke-width="2.2"/>
<line x1="511.7" y1="273.9" x2="516.3" y2="274.8" stroke="#38a8e0" stroke-width="2.2"/>
<line x1="516.3" y1="274.8" x2="520.9" y2="275.6" stroke="#38a8e0" stroke-width="2.2"/>
<line x1="520.9" y1="275.6" x2="525.5" y2="276.4" stroke="#3a80e8" stroke-width="2.2"/>
<line x1="475" y1="272" x2="479.6" y2="272.8" stroke="#3a80e8" stroke-width="2.2"/>
<line x1="479.6" y1="272.8" x2="484.2" y2="273.6" stroke="#3a80e8" stroke-width="2.2"/>
<line x1="484.2" y1="273.6" x2="488.8" y2="274.5" stroke="#38a8e0" stroke-width="2.2"/>
<line x1="488.8" y1="274.5" x2="493.4" y2="275.3" stroke="#38a8e0" stroke-width="2.2"/>
<line x1="493.4" y1="275.3" x2="498" y2="276.1" stroke="#38a8e0" stroke-width="2.2"/>
<line x1="498" y1="276.1" x2="502.5" y2="276.9" stroke="#38a8e0" stroke-width="2.2"/>
<line x1="502.5" y1="276.9" x2="507.1" y2="277.7" stroke="#38a8e0" stroke-width="2.2"/>
<line x1="507.1" y1="277.7" x2="511.7" y2="278.5" stroke="#38a8e0" stroke-width="2.2"/>
<line x1="511.7" y1="278.5" x2="516.3" y2="279.4" stroke="#38a8e0" stroke-width="2.2"/>
<line x1="516.3" y1="279.4" x2="520.9" y2="280.2" stroke="#3a80e8" stroke-width="2.2"/>
<line x1="520.9" y1="280.2" x2="525.5" y2="281" stroke="#3a80e8" stroke-width="2.2"/>
<line x1="475" y1="276.6" x2="479.6" y2="277.4" stroke="#3a80e8" stroke-width="2.2"/>
<line x1="479.6" y1="277.4" x2="484.2" y2="278.2" stroke="#3a80e8" stroke-width="2.2"/>
<line x1="484.2" y1="278.2" x2="488.8" y2="279.1" stroke="#3a80e8" stroke-width="2.2"/>
<line x1="488.8" y1="279.1" x2="493.4" y2="279.9" stroke="#3a80e8" stroke-width="2.2"/>
<line x1="493.4" y1="279.9" x2="498" y2="280.7" stroke="#38a8e0" stroke-width="2.2"/>
<line x1="498" y1="280.7" x2="502.5" y2="281.5" stroke="#38a8e0" stroke-width="2.2"/>
<line x1="502.5" y1="281.5" x2="507.1" y2="282.3" stroke="#38a8e0" stroke-width="2.2"/>
<line x1="507.1" y1="282.3" x2="511.7" y2="283.1" stroke="#3a80e8" stroke-width="2.2"/>
<line x1="511.7" y1="283.1" x2="516.3" y2="284" stroke="#3a80e8" stroke-width="2.2"/>
<line x1="516.3" y1="284" x2="520.9" y2="284.8" stroke="#3a80e8" stroke-width="2.2"/>
<line x1="520.9" y1="284.8" x2="525.5" y2="285.6" stroke="#3a80e8" stroke-width="2.2"/>
<line x1="475" y1="281.2" x2="479.6" y2="282" stroke="#4060e8" stroke-width="2.2"/>
<line x1="479.6" y1="282" x2="484.2" y2="282.8" stroke="#4060e8" stroke-width="2.2"/>
<line x1="484.2" y1="282.8" x2="488.8" y2="283.7" stroke="#3a80e8" stroke-width="2.2"/>
<line x1="488.8" y1="283.7" x2="493.4" y2="284.5" stroke="#3a80e8" stroke-width="2.2"/>
<line x1="493.4" y1="284.5" x2="498" y2="285.3" stroke="#3a80e8" stroke-width="2.2"/>
<line x1="498" y1="285.3" x2="502.5" y2="286.1" stroke="#38a8e0" stroke-width="2.2"/>
<line x1="502.5" y1="286.1" x2="507.1" y2="286.9" stroke="#3a80e8" stroke-width="2.2"/>
<line x1="507.1" y1="286.9" x2="511.7" y2="287.7" stroke="#3a80e8" stroke-width="2.2"/>
<line x1="511.7" y1="287.7" x2="516.3" y2="288.6" stroke="#3a80e8" stroke-width="2.2"/>
<line x1="516.3" y1="288.6" x2="520.9" y2="289.4" stroke="#4060e8" stroke-width="2.2"/>
<line x1="520.9" y1="289.4" x2="525.5" y2="290.2" stroke="#4060e8" stroke-width="2.2"/>
<line x1="475" y1="285.8" x2="479.6" y2="286.6" stroke="#4060e8" stroke-width="2.2"/>
<line x1="479.6" y1="286.6" x2="484.2" y2="287.4" stroke="#4060e8" stroke-width="2.2"/>
<line x1="484.2" y1="287.4" x2="488.8" y2="288.3" stroke="#4060e8" stroke-width="2.2"/>
<line x1="488.8" y1="288.3" x2="493.4" y2="289.1" stroke="#3a80e8" stroke-width="2.2"/>
<line x1="493.4" y1="289.1" x2="498" y2="289.9" stroke="#3a80e8" stroke-width="2.2"/>
<line x1="498" y1="289.9" x2="502.5" y2="290.7" stroke="#3a80e8" stroke-width="2.2"/>
<line x1="502.5" y1="290.7" x2="507.1" y2="291.5" stroke="#3a80e8" stroke-width="2.2"/>
<line x1="507.1" y1="291.5" x2="511.7" y2="292.3" stroke="#3a80e8" stroke-width="2.2"/>
<line x1="511.7" y1="292.3" x2="516.3" y2="293.2" stroke="#4060e8" stroke-width="2.2"/>
<line x1="516.3" y1="293.2" x2="520.9" y2="294" stroke="#4060e8" stroke-width="2.2"/>
<line x1="520.9" y1="294" x2="525.5" y2="294.8" stroke="#4060e8" stroke-width="2.2"/>
<line x1="475" y1="290.4" x2="479.6" y2="291.2" stroke="#4060e8" stroke-width="2.2"/>
<line x1="479.6" y1="291.2" x2="484.2" y2="292" stroke="#4060e8" stroke-width="2.2"/>
<line x1="484.2" y1="292" x2="488.8" y2="292.9" stroke="#4060e8" stroke-width="2.2"/>
<line x1="488.8" y1="292.9" x2="493.4" y2="293.7" stroke="#4060e8" stroke-width="2.2"/>
<line x1="493.4" y1="293.7" x2="498" y2="294.5" stroke="#3a80e8" stroke-width="2.2"/>
<line x1="498" y1="294.5" x2="502.5" y2="295.3" stroke="#3a80e8" stroke-width="2.2"/>
<line x1="502.5" y1="295.3" x2="507.1" y2="296.1" stroke="#3a80e8" stroke-width="2.2"/>
<line x1="507.1" y1="296.1" x2="511.7" y2="296.9" stroke="#4060e8" stroke-width="2.2"/>
<line x1="511.7" y1="296.9" x2="516.3" y2="297.8" stroke="#4060e8" stroke-width="2.2"/>
<line x1="516.3" y1="297.8" x2="520.9" y2="298.6" stroke="#4060e8" stroke-width="2.2"/>
<line x1="520.9" y1="298.6" x2="525.5" y2="299.4" stroke="#4060e8" stroke-width="2.2"/>
<line x1="475" y1="295" x2="479.6" y2="295.8" stroke="#4060e8" stroke-width="2.2"/>
<line x1="479.6" y1="295.8" x2="484.2" y2="296.6" stroke="#4060e8" stroke-width="2.2"/>
<line x1="484.2" y1="296.6" x2="488.8" y2="297.5" stroke="#4060e8" stroke-width="2.2"/>
<line x1="488.8" y1="297.5" x2="493.4" y2="298.3" stroke="#4060e8" stroke-width="2.2"/>
<line x1="493.4" y1="298.3" x2="498" y2="299.1" stroke="#4060e8" stroke-width="2.2"/>
<line x1="498" y1="299.1" x2="502.5" y2="299.9" stroke="#4060e8" stroke-width="2.2"/>
<line x1="502.5" y1="299.9" x2="507.1" y2="300.7" stroke="#4060e8" stroke-width="2.2"/>
<line x1="507.1" y1="300.7" x2="511.7" y2="301.5" stroke="#4060e8" stroke-width="2.2"/>
<line x1="511.7" y1="301.5" x2="516.3" y2="302.4" stroke="#4060e8" stroke-width="2.2"/>
<line x1="516.3" y1="302.4" x2="520.9" y2="303.2" stroke="#4060e8" stroke-width="2.2"/>
<line x1="520.9" y1="303.2" x2="525.5" y2="304" stroke="#4060e8" stroke-width="2.2"/>
<circle cx="496.5" cy="276.5" r="1.6" fill="#4048e0"/>
<circle cx="501.1" cy="231.4" r="1.6" fill="#4048e0"/>
<circle cx="496.5" cy="281.1" r="1.6" fill="#4048e0"/>
<circle cx="501.1" cy="236" r="1.6" fill="#4048e0"/>
<circle cx="496.5" cy="285.7" r="1.6" fill="#4048e0"/>
<circle cx="501.1" cy="240.6" r="1.6" fill="#4048e0"/>
<circle cx="496.5" cy="290.3" r="1.6" fill="#4048e0"/>
<circle cx="501.1" cy="245.2" r="1.6" fill="#4048e0"/>
<circle cx="496.5" cy="294.9" r="1.6" fill="#4048e0"/>
<circle cx="501.1" cy="249.8" r="1.6" fill="#4048e0"/>
<circle cx="501.1" cy="254.4" r="1.6" fill="#4048e0"/>
<circle cx="501.1" cy="259" r="1.6" fill="#4048e0"/>
<circle cx="501.1" cy="263.6" r="1.6" fill="#4048e0"/>
<circle cx="501.1" cy="268.2" r="1.6" fill="#4048e0"/>
<circle cx="501.1" cy="272.8" r="1.6" fill="#4048e0"/>
<circle cx="505.7" cy="227.6" r="1.6" fill="#4048e0"/>
<circle cx="501.1" cy="277.4" r="1.6" fill="#4048e0"/>
<circle cx="505.7" cy="232.2" r="1.6" fill="#4048e0"/>
<circle cx="501.1" cy="282" r="1.6" fill="#4048e0"/>
<circle cx="505.7" cy="236.8" r="1.6" fill="#4048e0"/>
<circle cx="501.1" cy="286.6" r="1.6" fill="#4048e0"/>
<circle cx="505.7" cy="241.4" r="1.6" fill="#4048e0"/>
<circle cx="501.1" cy="291.2" r="1.6" fill="#4048e0"/>
<circle cx="505.7" cy="246" r="1.6" fill="#4048e0"/>
<circle cx="501.1" cy="295.8" r="1.6" fill="#4048e0"/>
<circle cx="505.7" cy="250.6" r="1.6" fill="#4048e0"/>
<circle cx="505.7" cy="255.2" r="1.6" fill="#4048e0"/>
<circle cx="505.7" cy="259.8" r="1.6" fill="#4048e0"/>
<circle cx="505.7" cy="264.4" r="1.6" fill="#4048e0"/>
<circle cx="505.7" cy="269" r="1.6" fill="#4048e0"/>
<circle cx="505.7" cy="273.6" r="1.6" fill="#4048e0"/>
<circle cx="510.3" cy="228.4" r="1.6" fill="#3a60e8"/>
<circle cx="505.7" cy="278.2" r="1.6" fill="#4048e0"/>
<circle cx="510.3" cy="233" r="1.6" fill="#4048e0"/>
<circle cx="505.7" cy="282.8" r="1.6" fill="#4048e0"/>
<circle cx="510.3" cy="237.6" r="1.6" fill="#4048e0"/>
<circle cx="505.7" cy="287.4" r="1.6" fill="#4048e0"/>
<circle cx="510.3" cy="242.2" r="1.6" fill="#4048e0"/>
<circle cx="505.7" cy="292" r="1.6" fill="#4048e0"/>
<circle cx="510.3" cy="246.8" r="1.6" fill="#4048e0"/>
<circle cx="505.7" cy="296.6" r="1.6" fill="#4048e0"/>
<circle cx="510.3" cy="251.4" r="1.6" fill="#4048e0"/>
<circle cx="510.3" cy="256" r="1.6" fill="#4048e0"/>
<circle cx="510.3" cy="260.6" r="1.6" fill="#4048e0"/>
<circle cx="510.3" cy="265.2" r="1.6" fill="#4048e0"/>
<circle cx="510.3" cy="269.8" r="1.6" fill="#4048e0"/>
<circle cx="510.3" cy="274.4" r="1.6" fill="#4048e0"/>
<circle cx="514.8" cy="229.2" r="1.6" fill="#4048e0"/>
<circle cx="510.3" cy="279" r="1.6" fill="#4048e0"/>
<circle cx="514.8" cy="233.8" r="1.6" fill="#4048e0"/>
<circle cx="510.3" cy="283.6" r="1.6" fill="#4048e0"/>
<circle cx="514.8" cy="238.4" r="1.6" fill="#4048e0"/>
<circle cx="510.3" cy="288.2" r="1.6" fill="#4048e0"/>
<circle cx="514.8" cy="243" r="1.6" fill="#4048e0"/>
<circle cx="510.3" cy="292.8" r="1.6" fill="#4048e0"/>
<circle cx="514.8" cy="247.6" r="1.6" fill="#4048e0"/>
<circle cx="510.3" cy="297.4" r="1.6" fill="#4048e0"/>
<circle cx="514.8" cy="252.2" r="1.6" fill="#4048e0"/>
<circle cx="514.8" cy="256.8" r="1.6" fill="#4048e0"/>
<circle cx="514.8" cy="261.4" r="1.6" fill="#4048e0"/>
<circle cx="514.8" cy="266" r="1.6" fill="#4048e0"/>
<circle cx="514.8" cy="270.6" r="1.6" fill="#4048e0"/>
<circle cx="514.8" cy="275.2" r="1.6" fill="#4048e0"/>
<circle cx="519.4" cy="230" r="1.6" fill="#3a60e8"/>
<circle cx="514.8" cy="279.8" r="1.6" fill="#4048e0"/>
<circle cx="519.4" cy="234.6" r="1.6" fill="#4048e0"/>
<circle cx="514.8" cy="284.4" r="1.6" fill="#4048e0"/>
<circle cx="519.4" cy="239.2" r="1.6" fill="#4048e0"/>
<circle cx="514.8" cy="289" r="1.6" fill="#4048e0"/>
<circle cx="519.4" cy="243.8" r="1.6" fill="#4048e0"/>
<circle cx="514.8" cy="293.6" r="1.6" fill="#4048e0"/>
<circle cx="519.4" cy="248.4" r="1.6" fill="#4048e0"/>
<circle cx="514.8" cy="298.2" r="1.6" fill="#4048e0"/>
<circle cx="519.4" cy="253" r="1.6" fill="#4048e0"/>
<circle cx="519.4" cy="257.6" r="1.6" fill="#4048e0"/>
<circle cx="519.4" cy="262.2" r="1.6" fill="#4048e0"/>
<circle cx="519.4" cy="266.8" r="1.6" fill="#4048e0"/>
<circle cx="519.4" cy="271.4" r="1.6" fill="#4048e0"/>
<circle cx="475" cy="226" r="1.6" fill="#4048e0"/>
<circle cx="519.4" cy="276" r="1.6" fill="#4048e0"/>
<circle cx="524" cy="230.8" r="1.6" fill="#4048e0"/>
<circle cx="475" cy="230.6" r="1.6" fill="#4048e0"/>
<circle cx="519.4" cy="280.6" r="1.6" fill="#4048e0"/>
<circle cx="524" cy="235.4" r="1.6" fill="#4048e0"/>
<circle cx="475" cy="235.2" r="1.6" fill="#4048e0"/>
<circle cx="519.4" cy="285.2" r="1.6" fill="#4048e0"/>
<circle cx="524" cy="240" r="1.6" fill="#4048e0"/>
<circle cx="475" cy="239.8" r="1.6" fill="#4048e0"/>
<circle cx="519.4" cy="289.8" r="1.6" fill="#4048e0"/>
<circle cx="524" cy="244.6" r="1.6" fill="#4048e0"/>
<circle cx="475" cy="244.4" r="1.6" fill="#4048e0"/>
<circle cx="519.4" cy="294.4" r="1.6" fill="#4048e0"/>
<circle cx="524" cy="249.2" r="1.6" fill="#4048e0"/>
<circle cx="475" cy="249" r="1.6" fill="#4048e0"/>
<circle cx="519.4" cy="299" r="1.6" fill="#4048e0"/>
<circle cx="524" cy="253.8" r="1.6" fill="#4048e0"/>
<circle cx="475" cy="253.6" r="1.6" fill="#4048e0"/>
<circle cx="524" cy="258.4" r="1.6" fill="#4048e0"/>
<circle cx="475" cy="258.2" r="1.6" fill="#4048e0"/>
<circle cx="524" cy="263" r="1.6" fill="#4048e0"/>
<circle cx="475" cy="262.8" r="1.6" fill="#4048e0"/>
<circle cx="524" cy="267.6" r="1.6" fill="#4048e0"/>
<circle cx="475" cy="267.4" r="1.6" fill="#4048e0"/>
<circle cx="524" cy="272.2" r="1.6" fill="#4048e0"/>
<circle cx="475" cy="272" r="1.6" fill="#4048e0"/>
<circle cx="479.6" cy="226.8" r="1.6" fill="#4048e0"/>
<circle cx="524" cy="276.8" r="1.6" fill="#4048e0"/>
<circle cx="528.6" cy="231.7" r="1.6" fill="#3e40d8"/>
<circle cx="475" cy="276.6" r="1.6" fill="#4048e0"/>
<circle cx="479.6" cy="231.4" r="1.6" fill="#4058e8"/>
<circle cx="524" cy="281.4" r="1.6" fill="#4048e0"/>
<circle cx="528.6" cy="236.3" r="1.6" fill="#3e40d8"/>
<circle cx="475" cy="281.2" r="1.6" fill="#4048e0"/>
<circle cx="479.6" cy="236" r="1.6" fill="#3a2ec4"/>
<circle cx="524" cy="286" r="1.6" fill="#4048e0"/>
<circle cx="528.6" cy="240.9" r="1.6" fill="#3e40d8"/>
<circle cx="475" cy="285.8" r="1.6" fill="#4048e0"/>
<circle cx="479.6" cy="240.6" r="1.6" fill="#4058e8"/>
<circle cx="524" cy="290.6" r="1.6" fill="#4048e0"/>
<circle cx="528.6" cy="245.5" r="1.6" fill="#3e40d8"/>
<circle cx="475" cy="290.4" r="1.6" fill="#4048e0"/>
<circle cx="479.6" cy="245.2" r="1.6" fill="#3a2ec4"/>
<circle cx="524" cy="295.2" r="1.6" fill="#4048e0"/>
<circle cx="528.6" cy="250.1" r="1.6" fill="#3e40d8"/>
<circle cx="475" cy="295" r="1.6" fill="#4048e0"/>
<circle cx="479.6" cy="249.8" r="1.6" fill="#30a0e8"/>
<circle cx="524" cy="299.8" r="1.6" fill="#4048e0"/>
<circle cx="528.6" cy="254.7" r="1.6" fill="#3e40d8"/>
<circle cx="479.6" cy="254.4" r="1.6" fill="#3a50d8"/>
<circle cx="528.6" cy="259.3" r="1.6" fill="#3e40d8"/>
<circle cx="479.6" cy="259" r="1.6" fill="#30c0c8"/>
<circle cx="528.6" cy="263.9" r="1.6" fill="#3e40d8"/>
<circle cx="479.6" cy="263.6" r="1.6" fill="#3a50d8"/>
<circle cx="528.6" cy="268.5" r="1.6" fill="#3e40d8"/>
<circle cx="479.6" cy="268.2" r="1.6" fill="#30a0e8"/>
<circle cx="528.6" cy="273.1" r="1.6" fill="#3e40d8"/>
<circle cx="479.6" cy="272.8" r="1.6" fill="#3a2ec4"/>
<circle cx="484.2" cy="227.6" r="1.6" fill="#4048e0"/>
<circle cx="528.6" cy="277.7" r="1.6" fill="#3e40d8"/>
<circle cx="479.6" cy="277.4" r="1.6" fill="#4058e8"/>
<circle cx="484.2" cy="232.2" r="1.6" fill="#3a2ec4"/>
<circle cx="528.6" cy="282.3" r="1.6" fill="#3e40d8"/>
<circle cx="479.6" cy="282" r="1.6" fill="#3a2ec4"/>
<circle cx="484.2" cy="236.8" r="1.6" fill="#4058e8"/>
<circle cx="528.6" cy="286.9" r="1.6" fill="#3e40d8"/>
<circle cx="479.6" cy="286.6" r="1.6" fill="#4058e8"/>
<circle cx="484.2" cy="241.4" r="1.6" fill="#3a2ec4"/>
<circle cx="528.6" cy="291.5" r="1.6" fill="#3e40d8"/>
<circle cx="479.6" cy="291.2" r="1.6" fill="#3a2ec4"/>
<circle cx="484.2" cy="246" r="1.6" fill="#30a0e8"/>
<circle cx="528.6" cy="296.1" r="1.6" fill="#3e40d8"/>
<circle cx="479.6" cy="295.8" r="1.6" fill="#4048e0"/>
<circle cx="484.2" cy="250.6" r="1.6" fill="#3a50d8"/>
<circle cx="528.6" cy="300.7" r="1.6" fill="#3e40d8"/>
<circle cx="484.2" cy="255.2" r="1.6" fill="#30c0c8"/>
<circle cx="484.2" cy="259.8" r="1.6" fill="#3a50d8"/>
<circle cx="484.2" cy="264.4" r="1.6" fill="#30c0c8"/>
<circle cx="484.2" cy="269" r="1.6" fill="#3a50d8"/>
<circle cx="484.2" cy="273.6" r="1.6" fill="#30a0e8"/>
<circle cx="488.8" cy="228.5" r="1.6" fill="#4048e0"/>
<circle cx="484.2" cy="278.2" r="1.6" fill="#3a2ec4"/>
<circle cx="488.8" cy="233.1" r="1.6" fill="#4058e8"/>
<circle cx="484.2" cy="282.8" r="1.6" fill="#4058e8"/>
<circle cx="488.8" cy="237.7" r="1.6" fill="#3a2ec4"/>
<circle cx="484.2" cy="287.4" r="1.6" fill="#3a2ec4"/>
<circle cx="488.8" cy="242.3" r="1.6" fill="#30a0e8"/>
<circle cx="484.2" cy="292" r="1.6" fill="#4058e8"/>
<circle cx="488.8" cy="246.9" r="1.6" fill="#3a2ec4"/>
<circle cx="484.2" cy="296.6" r="1.6" fill="#4048e0"/>
<circle cx="488.8" cy="251.5" r="1.6" fill="#30c0c8"/>
<circle cx="488.8" cy="256.1" r="1.6" fill="#3a50d8"/>
<circle cx="488.8" cy="260.7" r="1.6" fill="#70d070"/>
<circle cx="488.8" cy="265.3" r="1.6" fill="#3a50d8"/>
<circle cx="488.8" cy="269.9" r="1.6" fill="#30c0c8"/>
<circle cx="488.8" cy="274.5" r="1.6" fill="#3a50d8"/>
<circle cx="493.4" cy="229.3" r="1.6" fill="#4048e0"/>
<circle cx="488.8" cy="279.1" r="1.6" fill="#30a0e8"/>
<circle cx="493.4" cy="233.9" r="1.6" fill="#3a2ec4"/>
<circle cx="488.8" cy="283.7" r="1.6" fill="#3a2ec4"/>
<circle cx="493.4" cy="238.5" r="1.6" fill="#4058e8"/>
<circle cx="488.8" cy="288.3" r="1.6" fill="#4058e8"/>
<circle cx="493.4" cy="243.1" r="1.6" fill="#3a2ec4"/>
<circle cx="488.8" cy="292.9" r="1.6" fill="#3a2ec4"/>
<circle cx="493.4" cy="247.7" r="1.6" fill="#30a0e8"/>
<circle cx="488.8" cy="297.5" r="1.6" fill="#4048e0"/>
<circle cx="493.4" cy="252.3" r="1.6" fill="#3a50d8"/>
<circle cx="493.4" cy="256.9" r="1.6" fill="#70d070"/>
<circle cx="493.4" cy="261.5" r="1.6" fill="#3a50d8"/>
<circle cx="493.4" cy="266.1" r="1.6" fill="#70d070"/>
<circle cx="493.4" cy="270.7" r="1.6" fill="#3a50d8"/>
<circle cx="493.4" cy="275.3" r="1.6" fill="#30c0c8"/>
<circle cx="498" cy="230.1" r="1.6" fill="#4048e0"/>
<circle cx="493.4" cy="279.9" r="1.6" fill="#3a50d8"/>
<circle cx="498" cy="234.7" r="1.6" fill="#4058e8"/>
<circle cx="493.4" cy="284.5" r="1.6" fill="#30a0e8"/>
<circle cx="498" cy="239.3" r="1.6" fill="#3a2ec4"/>
<circle cx="493.4" cy="289.1" r="1.6" fill="#3a2ec4"/>
<circle cx="498" cy="243.9" r="1.6" fill="#30a0e8"/>
<circle cx="493.4" cy="293.7" r="1.6" fill="#4058e8"/>
<circle cx="498" cy="248.5" r="1.6" fill="#3a50d8"/>
<circle cx="493.4" cy="298.3" r="1.6" fill="#4048e0"/>
<circle cx="498" cy="253.1" r="1.6" fill="#70d070"/>
<circle cx="498" cy="257.7" r="1.6" fill="#3a50d8"/>
<circle cx="498" cy="262.3" r="1.6" fill="#70d070"/>
<circle cx="498" cy="266.9" r="1.6" fill="#3a50d8"/>
<circle cx="498" cy="271.5" r="1.6" fill="#70d070"/>
<circle cx="498" cy="276.1" r="1.6" fill="#3a50d8"/>
<circle cx="502.5" cy="230.9" r="1.6" fill="#4048e0"/>
<circle cx="498" cy="280.7" r="1.6" fill="#30c0c8"/>
<circle cx="502.5" cy="235.5" r="1.6" fill="#3a2ec4"/>
<circle cx="498" cy="285.3" r="1.6" fill="#3a50d8"/>
<circle cx="502.5" cy="240.1" r="1.6" fill="#30a0e8"/>
<circle cx="498" cy="289.9" r="1.6" fill="#30a0e8"/>
<circle cx="502.5" cy="244.7" r="1.6" fill="#3a50d8"/>
<circle cx="498" cy="294.5" r="1.6" fill="#3a2ec4"/>
<circle cx="502.5" cy="249.3" r="1.6" fill="#30c0c8"/>
<circle cx="498" cy="299.1" r="1.6" fill="#4048e0"/>
<circle cx="502.5" cy="253.9" r="1.6" fill="#3a50d8"/>
<circle cx="502.5" cy="258.5" r="1.6" fill="#70d070"/>
<circle cx="502.5" cy="263.1" r="1.6" fill="#3a50d8"/>
<circle cx="502.5" cy="267.7" r="1.6" fill="#70d070"/>
<circle cx="502.5" cy="272.3" r="1.6" fill="#3a50d8"/>
<circle cx="502.5" cy="276.9" r="1.6" fill="#70d070"/>
<circle cx="507.1" cy="231.7" r="1.6" fill="#4048e0"/>
<circle cx="502.5" cy="281.5" r="1.6" fill="#3a50d8"/>
<circle cx="507.1" cy="236.3" r="1.6" fill="#4058e8"/>
<circle cx="502.5" cy="286.1" r="1.6" fill="#30a0e8"/>
<circle cx="507.1" cy="240.9" r="1.6" fill="#3a2ec4"/>
<circle cx="502.5" cy="290.7" r="1.6" fill="#3a2ec4"/>
<circle cx="507.1" cy="245.5" r="1.6" fill="#30a0e8"/>
<circle cx="502.5" cy="295.3" r="1.6" fill="#4058e8"/>
<circle cx="507.1" cy="250.1" r="1.6" fill="#3a50d8"/>
<circle cx="502.5" cy="299.9" r="1.6" fill="#4048e0"/>
<circle cx="507.1" cy="254.7" r="1.6" fill="#30c0c8"/>
<circle cx="507.1" cy="259.3" r="1.6" fill="#3a50d8"/>
<circle cx="507.1" cy="263.9" r="1.6" fill="#70d070"/>
<circle cx="507.1" cy="268.5" r="1.6" fill="#3a50d8"/>
<circle cx="507.1" cy="273.1" r="1.6" fill="#70d070"/>
<circle cx="507.1" cy="277.7" r="1.6" fill="#3a50d8"/>
<circle cx="511.7" cy="232.5" r="1.6" fill="#4048e0"/>
<circle cx="507.1" cy="282.3" r="1.6" fill="#30a0e8"/>
<circle cx="511.7" cy="237.1" r="1.6" fill="#3a2ec4"/>
<circle cx="507.1" cy="286.9" r="1.6" fill="#3a2ec4"/>
<circle cx="511.7" cy="241.7" r="1.6" fill="#4058e8"/>
<circle cx="507.1" cy="291.5" r="1.6" fill="#4058e8"/>
<circle cx="511.7" cy="246.3" r="1.6" fill="#3a2ec4"/>
<circle cx="507.1" cy="296.1" r="1.6" fill="#3a2ec4"/>
<circle cx="511.7" cy="250.9" r="1.6" fill="#30a0e8"/>
<circle cx="507.1" cy="300.7" r="1.6" fill="#4048e0"/>
<circle cx="511.7" cy="255.5" r="1.6" fill="#3a50d8"/>
<circle cx="511.7" cy="260.1" r="1.6" fill="#30c0c8"/>
<circle cx="511.7" cy="264.7" r="1.6" fill="#3a50d8"/>
<circle cx="511.7" cy="269.3" r="1.6" fill="#70d070"/>
<circle cx="511.7" cy="273.9" r="1.6" fill="#3a50d8"/>
<circle cx="511.7" cy="278.5" r="1.6" fill="#30c0c8"/>
<circle cx="516.3" cy="233.4" r="1.6" fill="#4048e0"/>
<circle cx="511.7" cy="283.1" r="1.6" fill="#3a2ec4"/>
<circle cx="516.3" cy="238" r="1.6" fill="#4058e8"/>
<circle cx="511.7" cy="287.7" r="1.6" fill="#30a0e8"/>
<circle cx="516.3" cy="242.6" r="1.6" fill="#3a2ec4"/>
<circle cx="511.7" cy="292.3" r="1.6" fill="#3a2ec4"/>
<circle cx="516.3" cy="247.2" r="1.6" fill="#4058e8"/>
<circle cx="511.7" cy="296.9" r="1.6" fill="#4058e8"/>
<circle cx="516.3" cy="251.8" r="1.6" fill="#3a2ec4"/>
<circle cx="511.7" cy="301.5" r="1.6" fill="#4048e0"/>
<circle cx="516.3" cy="256.4" r="1.6" fill="#30a0e8"/>
<circle cx="516.3" cy="261" r="1.6" fill="#3a50d8"/>
<circle cx="516.3" cy="265.6" r="1.6" fill="#30c0c8"/>
<circle cx="516.3" cy="270.2" r="1.6" fill="#3a50d8"/>
<circle cx="516.3" cy="274.8" r="1.6" fill="#30c0c8"/>
<circle cx="516.3" cy="279.4" r="1.6" fill="#3a50d8"/>
<circle cx="520.9" cy="234.2" r="1.6" fill="#4048e0"/>
<circle cx="516.3" cy="284" r="1.6" fill="#30a0e8"/>
<circle cx="520.9" cy="238.8" r="1.6" fill="#3a2ec4"/>
<circle cx="516.3" cy="288.6" r="1.6" fill="#3a2ec4"/>
<circle cx="520.9" cy="243.4" r="1.6" fill="#4058e8"/>
<circle cx="516.3" cy="293.2" r="1.6" fill="#4058e8"/>
<circle cx="520.9" cy="248" r="1.6" fill="#3a2ec4"/>
<circle cx="516.3" cy="297.8" r="1.6" fill="#3a2ec4"/>
<circle cx="520.9" cy="252.6" r="1.6" fill="#4058e8"/>
<circle cx="516.3" cy="302.4" r="1.6" fill="#4048e0"/>
<circle cx="520.9" cy="257.2" r="1.6" fill="#3a2ec4"/>
<circle cx="520.9" cy="261.8" r="1.6" fill="#30a0e8"/>
<circle cx="520.9" cy="266.4" r="1.6" fill="#3a50d8"/>
<circle cx="520.9" cy="271" r="1.6" fill="#30c0c8"/>
<circle cx="520.9" cy="275.6" r="1.6" fill="#3a50d8"/>
<circle cx="520.9" cy="280.2" r="1.6" fill="#30a0e8"/>
<circle cx="525.5" cy="235" r="1.6" fill="#4048e0"/>
<circle cx="520.9" cy="284.8" r="1.6" fill="#3a2ec4"/>
<circle cx="525.5" cy="239.6" r="1.6" fill="#4058e8"/>
<circle cx="520.9" cy="289.4" r="1.6" fill="#4058e8"/>
<circle cx="525.5" cy="244.2" r="1.6" fill="#3a2ec4"/>
<circle cx="520.9" cy="294" r="1.6" fill="#3a2ec4"/>
<circle cx="525.5" cy="248.8" r="1.6" fill="#4058e8"/>
<circle cx="520.9" cy="298.6" r="1.6" fill="#4058e8"/>
<circle cx="525.5" cy="253.4" r="1.6" fill="#3a2ec4"/>
<circle cx="520.9" cy="303.2" r="1.6" fill="#4048e0"/>
<circle cx="525.5" cy="258" r="1.6" fill="#4058e8"/>
<circle cx="525.5" cy="262.6" r="1.6" fill="#3a2ec4"/>
<circle cx="525.5" cy="267.2" r="1.6" fill="#30a0e8"/>
<circle cx="525.5" cy="271.8" r="1.6" fill="#3a50d8"/>
<circle cx="525.5" cy="276.4" r="1.6" fill="#30a0e8"/>
<circle cx="525.5" cy="281" r="1.6" fill="#3a2ec4"/>
<circle cx="525.5" cy="285.6" r="1.6" fill="#4058e8"/>
<circle cx="525.5" cy="290.2" r="1.6" fill="#3a2ec4"/>
<circle cx="525.5" cy="294.8" r="1.6" fill="#4058e8"/>
<circle cx="525.5" cy="299.4" r="1.6" fill="#3a2ec4"/>
<circle cx="525.5" cy="304" r="1.6" fill="#4048e0"/>
<text x="494.8" y="308.5" font-size="9.5" fill="#222" text-anchor="middle" font-family="Liberation Serif" font-style="italic" >−ū</text>
<text x="548.8" y="298" font-size="9.5" fill="#222" text-anchor="middle" font-family="Liberation Serif" font-style="italic" >v̄</text>
<line x1="529.2" y1="307.5" x2="505.8" y2="301.5" stroke="#000" stroke-width="0.8"/>
<polygon points="503.2,301 506.8,299.5 506.2,303" fill="#000"/>
<line x1="529.2" y1="307.5" x2="541.2" y2="292" stroke="#000" stroke-width="0.8"/>
<polygon points="542.8,290 539.2,292.5 542.2,294" fill="#000"/>
<text x="568.2" y="308" font-size="8" fill="#333" text-anchor="middle" font-family="Liberation Serif" >1</text>
<text x="452.8" y="308" font-size="8" fill="#333" text-anchor="middle" font-family="Liberation Serif" font-style="italic" >y</text>
<text x="449.8" y="287" font-size="7" fill="#555" text-anchor="middle" font-family="Liberation Serif" >5</text>
<linearGradient id="gcbg" x1="0" x2="0" y1="0" y2="1"><stop offset="0" stop-color="#f8e020"/><stop offset="0.35" stop-color="#40c0a0"/><stop offset="0.7" stop-color="#3070e0"/><stop offset="1" stop-color="#3020a0"/></linearGradient>
<rect x="576.5" y="261" width="5.5" height="20" fill="url(#gcbg)" stroke="#fff" stroke-width="0.8"/>
<text x="579.2" y="259" font-size="7.5" fill="#f0b000" text-anchor="middle" font-family="Liberation Sans" font-weight="bold" >0.1</text>
<text x="579.2" y="289" font-size="7.5" fill="#101090" text-anchor="middle" font-family="Liberation Sans" font-weight="bold" >0</text>
<rect x="20.8" y="357.8" width="299.2" height="215.2" fill="#dee8f3"/>
<linearGradient id="gpl1" x1="0" y1="0" x2="0.3" y2="1"><stop offset="0" stop-color="#b4c4e4"/><stop offset="1" stop-color="#a0b3da"/></linearGradient>
<linearGradient id="gpl2" x1="0" y1="0" x2="1" y2="0.3"><stop offset="0" stop-color="#4c7e38"/><stop offset="0.5" stop-color="#42704a"/><stop offset="1" stop-color="#3c6668"/></linearGradient>
<linearGradient id="gpl3" x1="0" y1="0" x2="0.6" y2="1"><stop offset="0" stop-color="#e2ecd8"/><stop offset="1" stop-color="#c2dcaa"/></linearGradient>
<polygon points="72,458.7 197.5,458.7 241.6,561.7 29,561.7" fill="url(#gpl3)"/>
<line x1="29.5" y1="561.7" x2="72.5" y2="458.7" stroke="#ffffff" stroke-width="0.8" stroke-opacity="0.6"/>
<line x1="29" y1="562.3" x2="241.6" y2="562.3" stroke="#7a8a8a" stroke-width="1.2" stroke-opacity="0.7"/>
<polygon points="72,411.4 197.5,411.4 241.6,514.4 29,514.4" fill="url(#gpl2)"/>
<line x1="29.5" y1="514.4" x2="72.5" y2="411.4" stroke="#ffffff" stroke-width="0.8" stroke-opacity="0.6"/>
<line x1="29" y1="515" x2="241.6" y2="515" stroke="#7a8a8a" stroke-width="1.2" stroke-opacity="0.7"/>
<polygon points="72,363 197.5,363 241.6,466 29,466" fill="url(#gpl1)"/>
<line x1="29.5" y1="466" x2="72.5" y2="363" stroke="#ffffff" stroke-width="0.8" stroke-opacity="0.6"/>
<line x1="29" y1="466.6" x2="241.6" y2="466.6" stroke="#7a8a8a" stroke-width="1.2" stroke-opacity="0.7"/>
<polygon points="72,411.4 197.5,411.4 220.3,466 49.2,466" fill="#6a80a8" fill-opacity="0.18"/>
<polygon points="66,449.5 72,449.5 75,452 72,454.5 66,454.5 68.5,452" fill="#ffffff" fill-opacity="0.35"/>
<polygon points="91,442.5 97,442.5 100,445 97,447.5 91,447.5 93.5,445" fill="#ffffff" fill-opacity="0.35"/>
<polygon points="116,449.5 122,449.5 125,452 122,454.5 116,454.5 118.5,452" fill="#ffffff" fill-opacity="0.35"/>
<polygon points="146,442.5 152,442.5 155,445 152,447.5 146,447.5 148.5,445" fill="#ffffff" fill-opacity="0.35"/>
<polygon points="171,449.5 177,449.5 180,452 177,454.5 171,454.5 173.5,452" fill="#ffffff" fill-opacity="0.35"/>
<polygon points="196,442.5 202,442.5 205,445 202,447.5 196,447.5 198.5,445" fill="#ffffff" fill-opacity="0.35"/>
<polygon points="81,429.5 87,429.5 90,432 87,434.5 81,434.5 83.5,432" fill="#ffffff" fill-opacity="0.35"/>
<polygon points="186,429.5 192,429.5 195,432 192,434.5 186,434.5 188.5,432" fill="#ffffff" fill-opacity="0.35"/>
<polygon points="56,455.5 62,455.5 65,458 62,460.5 56,460.5 58.5,458" fill="#ffffff" fill-opacity="0.35"/>
<polygon points="211,455.5 217,455.5 220,458 217,460.5 211,460.5 213.5,458" fill="#ffffff" fill-opacity="0.35"/>
<polygon points="106,455.5 112,455.5 115,458 112,460.5 106,460.5 108.5,458" fill="#ffffff" fill-opacity="0.35"/>
<polygon points="156,455.5 162,455.5 165,458 162,460.5 156,460.5 158.5,458" fill="#ffffff" fill-opacity="0.35"/>
<line x1="135" y1="375.2" x2="135" y2="367" stroke="#111" stroke-width="0.7"/>
<polygon points="135,366.7 138.2,369.2 138.2,373.7 135,371.2 131.8,373.7 131.8,369.2" fill="#fafafa" stroke="#8a8a8a" stroke-width="0.5"/>
<circle cx="135" cy="370.2" r="1.8" fill="none" stroke="#aaa" stroke-width="0.4"/>
<line x1="114.4" y1="375.2" x2="135" y2="375.2" stroke="#111" stroke-width="0.7"/>
<line x1="135" y1="375.2" x2="156.7" y2="375.2" stroke="#111" stroke-width="0.7"/>
<line x1="114.4" y1="375.2" x2="112.3" y2="387" stroke="#111" stroke-width="0.7"/>
<line x1="135" y1="375.2" x2="135" y2="387" stroke="#111" stroke-width="0.7"/>
<line x1="156.7" y1="375.2" x2="157.8" y2="387" stroke="#111" stroke-width="0.7"/>
<line x1="90.6" y1="387" x2="112.3" y2="387" stroke="#111" stroke-width="0.7"/>
<line x1="112.3" y1="387" x2="135" y2="387" stroke="#111" stroke-width="0.7"/>
<line x1="135" y1="387" x2="157.8" y2="387" stroke="#111" stroke-width="0.7"/>
<line x1="157.8" y1="387" x2="180.5" y2="387" stroke="#111" stroke-width="0.7"/>
<line x1="112.3" y1="387" x2="106.8" y2="400" stroke="#111" stroke-width="0.7"/>
<line x1="135" y1="387" x2="132.8" y2="400" stroke="#111" stroke-width="0.7"/>
<line x1="157.8" y1="387" x2="158.8" y2="400" stroke="#111" stroke-width="0.7"/>
<line x1="180.5" y1="387" x2="182.7" y2="400" stroke="#111" stroke-width="0.7"/>
<line x1="62" y1="400" x2="83" y2="400" stroke="#111" stroke-width="0.7"/>
<line x1="83" y1="400" x2="106.8" y2="400" stroke="#111" stroke-width="0.7"/>
<line x1="106.8" y1="400" x2="132.8" y2="400" stroke="#111" stroke-width="0.7"/>
<line x1="132.8" y1="400" x2="158.8" y2="400" stroke="#111" stroke-width="0.7"/>
<line x1="158.8" y1="400" x2="182.7" y2="400" stroke="#111" stroke-width="0.7"/>
<line x1="182.7" y1="400" x2="206" y2="400" stroke="#111" stroke-width="0.7"/>
<line x1="83" y1="400" x2="81.9" y2="416.8" stroke="#111" stroke-width="0.7"/>
<line x1="106.8" y1="400" x2="107.9" y2="416.8" stroke="#111" stroke-width="0.7"/>
<line x1="132.8" y1="400" x2="135" y2="416.8" stroke="#111" stroke-width="0.7"/>
<line x1="158.8" y1="400" x2="161" y2="416.8" stroke="#111" stroke-width="0.7"/>
<line x1="182.7" y1="400" x2="188" y2="416.8" stroke="#111" stroke-width="0.7"/>
<line x1="81.9" y1="416.8" x2="107.9" y2="416.8" stroke="#111" stroke-width="0.7"/>
<line x1="107.9" y1="416.8" x2="135" y2="416.8" stroke="#111" stroke-width="0.7"/>
<line x1="135" y1="416.8" x2="161" y2="416.8" stroke="#111" stroke-width="0.7"/>
<line x1="161" y1="416.8" x2="188" y2="416.8" stroke="#111" stroke-width="0.7"/>
<line x1="107.9" y1="416.8" x2="105.5" y2="435" stroke="#111" stroke-width="0.7"/>
<line x1="135" y1="416.8" x2="134.7" y2="435" stroke="#111" stroke-width="0.7"/>
<line x1="161" y1="416.8" x2="162.7" y2="435" stroke="#111" stroke-width="0.7"/>
<line x1="105.5" y1="435" x2="134.7" y2="435" stroke="#111" stroke-width="0.7"/>
<line x1="134.7" y1="435" x2="162.7" y2="435" stroke="#111" stroke-width="0.7"/>
<line x1="134.7" y1="435" x2="134.7" y2="459.5" stroke="#111" stroke-width="0.7"/>
<polygon points="113.3,377.2 116.8,379.7 116.8,384.5 113.3,382 109.8,384.5 109.8,379.7" fill="#fafafa" stroke="#8a8a8a" stroke-width="0.5"/>
<circle cx="113.3" cy="380.9" r="2" fill="none" stroke="#aaa" stroke-width="0.4"/>
<polygon points="135,377.2 138.5,379.7 138.5,384.5 135,382 131.5,384.5 131.5,379.7" fill="#fafafa" stroke="#8a8a8a" stroke-width="0.5"/>
<circle cx="135" cy="380.9" r="2" fill="none" stroke="#aaa" stroke-width="0.4"/>
<polygon points="157.2,377.2 160.8,379.7 160.8,384.5 157.2,382 153.8,384.5 153.8,379.7" fill="#fafafa" stroke="#8a8a8a" stroke-width="0.5"/>
<circle cx="157.2" cy="380.9" r="2" fill="none" stroke="#aaa" stroke-width="0.4"/>
<polygon points="121,372.4 128.9,372.4 131.4,375.2 128.9,378 121,378 123.5,375.2" fill="#fafafa" stroke="#8a8a8a" stroke-width="0.5"/>
<circle cx="126.2" cy="375.2" r="1.6" fill="none" stroke="#aaa" stroke-width="0.4"/>
<polygon points="142.1,372.4 150.1,372.4 152.6,375.2 150.1,378 142.1,378 144.6,375.2" fill="#fafafa" stroke="#8a8a8a" stroke-width="0.5"/>
<circle cx="147.3" cy="375.2" r="1.6" fill="none" stroke="#aaa" stroke-width="0.4"/>
<circle cx="114.4" cy="375.2" r="1.2" fill="#000"/>
<line x1="116.4" y1="377.2" x2="118.4" y2="379.6" stroke="#e03030" stroke-width="0.7"/>
<line x1="118.2" y1="376.8" x2="120.2" y2="379.2" stroke="#e03030" stroke-width="0.7"/>
<line x1="115.4" y1="376.2" x2="120.4" y2="380.7" stroke="#222" stroke-width="0.5"/>
<text x="121.9" y="382.2" font-size="2.8" fill="#333" text-anchor="middle" font-family="Liberation Sans" >2d</text>
<circle cx="135" cy="375.2" r="1.2" fill="#000"/>
<line x1="137" y1="377.2" x2="139" y2="379.6" stroke="#e03030" stroke-width="0.7"/>
<line x1="138.8" y1="376.8" x2="140.8" y2="379.2" stroke="#e03030" stroke-width="0.7"/>
<line x1="136" y1="376.2" x2="141" y2="380.7" stroke="#222" stroke-width="0.5"/>
<text x="142.5" y="382.2" font-size="2.8" fill="#333" text-anchor="middle" font-family="Liberation Sans" >2d</text>
<circle cx="156.7" cy="375.2" r="1.2" fill="#000"/>
<line x1="158.7" y1="377.2" x2="160.7" y2="379.6" stroke="#e03030" stroke-width="0.7"/>
<line x1="160.5" y1="376.8" x2="162.5" y2="379.2" stroke="#e03030" stroke-width="0.7"/>
<line x1="157.7" y1="376.2" x2="162.7" y2="380.7" stroke="#222" stroke-width="0.5"/>
<text x="164.2" y="382.2" font-size="2.8" fill="#333" text-anchor="middle" font-family="Liberation Sans" >2d</text>
<polygon points="109.5,389.2 113,391.7 113,397.3 109.5,394.8 106,397.3 106,391.7" fill="#fafafa" stroke="#8a8a8a" stroke-width="0.5"/>
<circle cx="109.5" cy="393.2" r="2" fill="none" stroke="#aaa" stroke-width="0.4"/>
<polygon points="133.9,389.2 137.4,391.7 137.4,397.3 133.9,394.8 130.4,397.3 130.4,391.7" fill="#fafafa" stroke="#8a8a8a" stroke-width="0.5"/>
<circle cx="133.9" cy="393.2" r="2" fill="none" stroke="#aaa" stroke-width="0.4"/>
<polygon points="158.3,389.2 161.8,391.7 161.8,397.3 158.3,394.8 154.8,397.3 154.8,391.7" fill="#fafafa" stroke="#8a8a8a" stroke-width="0.5"/>
<circle cx="158.3" cy="393.2" r="2" fill="none" stroke="#aaa" stroke-width="0.4"/>
<polygon points="181.6,389.2 185.1,391.7 185.1,397.3 181.6,394.8 178.1,397.3 178.1,391.7" fill="#fafafa" stroke="#8a8a8a" stroke-width="0.5"/>
<circle cx="181.6" cy="393.2" r="2" fill="none" stroke="#aaa" stroke-width="0.4"/>
<polygon points="97.7,384.2 105.7,384.2 108.2,387 105.7,389.8 97.7,389.8 100.2,387" fill="#fafafa" stroke="#8a8a8a" stroke-width="0.5"/>
<circle cx="102.9" cy="387" r="1.6" fill="none" stroke="#aaa" stroke-width="0.4"/>
<polygon points="119.9,384.2 127.9,384.2 130.4,387 127.9,389.8 119.9,389.8 122.4,387" fill="#fafafa" stroke="#8a8a8a" stroke-width="0.5"/>
<circle cx="125.2" cy="387" r="1.6" fill="none" stroke="#aaa" stroke-width="0.4"/>
<polygon points="142.7,384.2 150.7,384.2 153.2,387 150.7,389.8 142.7,389.8 145.2,387" fill="#fafafa" stroke="#8a8a8a" stroke-width="0.5"/>
<circle cx="147.9" cy="387" r="1.6" fill="none" stroke="#aaa" stroke-width="0.4"/>
<polygon points="165.4,384.2 173.4,384.2 175.9,387 173.4,389.8 165.4,389.8 167.9,387" fill="#fafafa" stroke="#8a8a8a" stroke-width="0.5"/>
<circle cx="170.7" cy="387" r="1.6" fill="none" stroke="#aaa" stroke-width="0.4"/>
<circle cx="90.6" cy="387" r="1.2" fill="#000"/>
<line x1="92.6" y1="389" x2="94.6" y2="391.4" stroke="#e03030" stroke-width="0.7"/>
<line x1="94.4" y1="388.6" x2="96.4" y2="391" stroke="#e03030" stroke-width="0.7"/>
<line x1="91.6" y1="388" x2="96.6" y2="392.5" stroke="#222" stroke-width="0.5"/>
<text x="98.1" y="394" font-size="2.8" fill="#333" text-anchor="middle" font-family="Liberation Sans" >2d</text>
<circle cx="112.3" cy="387" r="1.2" fill="#000"/>
<line x1="114.3" y1="389" x2="116.3" y2="391.4" stroke="#e03030" stroke-width="0.7"/>
<line x1="116.1" y1="388.6" x2="118.1" y2="391" stroke="#e03030" stroke-width="0.7"/>
<line x1="113.3" y1="388" x2="118.3" y2="392.5" stroke="#222" stroke-width="0.5"/>
<text x="119.8" y="394" font-size="2.8" fill="#333" text-anchor="middle" font-family="Liberation Sans" >2d</text>
<circle cx="135" cy="387" r="1.2" fill="#000"/>
<line x1="137" y1="389" x2="139" y2="391.4" stroke="#e03030" stroke-width="0.7"/>
<line x1="138.8" y1="388.6" x2="140.8" y2="391" stroke="#e03030" stroke-width="0.7"/>
<line x1="136" y1="388" x2="141" y2="392.5" stroke="#222" stroke-width="0.5"/>
<text x="142.5" y="394" font-size="2.8" fill="#333" text-anchor="middle" font-family="Liberation Sans" >2d</text>
<circle cx="157.8" cy="387" r="1.2" fill="#000"/>
<line x1="159.8" y1="389" x2="161.8" y2="391.4" stroke="#e03030" stroke-width="0.7"/>
<line x1="161.6" y1="388.6" x2="163.6" y2="391" stroke="#e03030" stroke-width="0.7"/>
<line x1="158.8" y1="388" x2="163.8" y2="392.5" stroke="#222" stroke-width="0.5"/>
<text x="165.3" y="394" font-size="2.8" fill="#333" text-anchor="middle" font-family="Liberation Sans" >2d</text>
<circle cx="180.5" cy="387" r="1.2" fill="#000"/>
<line x1="182.5" y1="389" x2="184.5" y2="391.4" stroke="#e03030" stroke-width="0.7"/>
<line x1="184.3" y1="388.6" x2="186.3" y2="391" stroke="#e03030" stroke-width="0.7"/>
<line x1="181.5" y1="388" x2="186.5" y2="392.5" stroke="#222" stroke-width="0.5"/>
<text x="188" y="394" font-size="2.8" fill="#333" text-anchor="middle" font-family="Liberation Sans" >2d</text>
<polygon points="82.5,403.3 86,405.8 86,412.8 82.5,410.3 79,412.8 79,405.8" fill="#fafafa" stroke="#8a8a8a" stroke-width="0.5"/>
<circle cx="82.5" cy="408.1" r="2" fill="none" stroke="#aaa" stroke-width="0.4"/>
<polygon points="107.3,403.3 110.8,405.8 110.8,412.8 107.3,410.3 103.8,412.8 103.8,405.8" fill="#fafafa" stroke="#8a8a8a" stroke-width="0.5"/>
<circle cx="107.3" cy="408.1" r="2" fill="none" stroke="#aaa" stroke-width="0.4"/>
<polygon points="133.9,403.3 137.4,405.8 137.4,412.8 133.9,410.3 130.4,412.8 130.4,405.8" fill="#fafafa" stroke="#8a8a8a" stroke-width="0.5"/>
<circle cx="133.9" cy="408.1" r="2" fill="none" stroke="#aaa" stroke-width="0.4"/>
<polygon points="159.9,403.3 163.4,405.8 163.4,412.8 159.9,410.3 156.4,412.8 156.4,405.8" fill="#fafafa" stroke="#8a8a8a" stroke-width="0.5"/>
<circle cx="159.9" cy="408.1" r="2" fill="none" stroke="#aaa" stroke-width="0.4"/>
<polygon points="185.3,403.3 188.8,405.8 188.8,412.8 185.3,410.3 181.8,412.8 181.8,405.8" fill="#fafafa" stroke="#8a8a8a" stroke-width="0.5"/>
<circle cx="185.3" cy="408.1" r="2" fill="none" stroke="#aaa" stroke-width="0.4"/>
<polygon points="68.8,397.2 76.8,397.2 79.2,400 76.8,402.8 68.8,402.8 71.2,400" fill="#fafafa" stroke="#8a8a8a" stroke-width="0.5"/>
<circle cx="74" cy="400" r="1.6" fill="none" stroke="#aaa" stroke-width="0.4"/>
<polygon points="91.2,397.2 99.2,397.2 101.7,400 99.2,402.8 91.2,402.8 93.7,400" fill="#fafafa" stroke="#8a8a8a" stroke-width="0.5"/>
<circle cx="96.4" cy="400" r="1.6" fill="none" stroke="#aaa" stroke-width="0.4"/>
<polygon points="116.1,397.2 124.1,397.2 126.6,400 124.1,402.8 116.1,402.8 118.6,400" fill="#fafafa" stroke="#8a8a8a" stroke-width="0.5"/>
<circle cx="121.3" cy="400" r="1.6" fill="none" stroke="#aaa" stroke-width="0.4"/>
<polygon points="142.1,397.2 150.1,397.2 152.6,400 150.1,402.8 142.1,402.8 144.6,400" fill="#fafafa" stroke="#8a8a8a" stroke-width="0.5"/>
<circle cx="147.3" cy="400" r="1.6" fill="none" stroke="#aaa" stroke-width="0.4"/>
<polygon points="167,397.2 175,397.2 177.5,400 175,402.8 167,402.8 169.5,400" fill="#fafafa" stroke="#8a8a8a" stroke-width="0.5"/>
<circle cx="172.2" cy="400" r="1.6" fill="none" stroke="#aaa" stroke-width="0.4"/>
<polygon points="190.6,397.2 198.6,397.2 201.1,400 198.6,402.8 190.6,402.8 193.1,400" fill="#fafafa" stroke="#8a8a8a" stroke-width="0.5"/>
<circle cx="195.8" cy="400" r="1.6" fill="none" stroke="#aaa" stroke-width="0.4"/>
<circle cx="62" cy="400" r="1.2" fill="#000"/>
<line x1="64" y1="402" x2="66" y2="404.4" stroke="#e03030" stroke-width="0.7"/>
<line x1="65.8" y1="401.6" x2="67.8" y2="404" stroke="#e03030" stroke-width="0.7"/>
<line x1="63" y1="401" x2="68" y2="405.5" stroke="#222" stroke-width="0.5"/>
<text x="69.5" y="407" font-size="2.8" fill="#333" text-anchor="middle" font-family="Liberation Sans" >2d</text>
<circle cx="83" cy="400" r="1.2" fill="#000"/>
<line x1="85" y1="402" x2="87" y2="404.4" stroke="#e03030" stroke-width="0.7"/>
<line x1="86.8" y1="401.6" x2="88.8" y2="404" stroke="#e03030" stroke-width="0.7"/>
<line x1="84" y1="401" x2="89" y2="405.5" stroke="#222" stroke-width="0.5"/>
<text x="90.5" y="407" font-size="2.8" fill="#333" text-anchor="middle" font-family="Liberation Sans" >2d</text>
<circle cx="106.8" cy="400" r="1.2" fill="#000"/>
<line x1="108.8" y1="402" x2="110.8" y2="404.4" stroke="#e03030" stroke-width="0.7"/>
<line x1="110.6" y1="401.6" x2="112.6" y2="404" stroke="#e03030" stroke-width="0.7"/>
<line x1="107.8" y1="401" x2="112.8" y2="405.5" stroke="#222" stroke-width="0.5"/>
<text x="114.3" y="407" font-size="2.8" fill="#333" text-anchor="middle" font-family="Liberation Sans" >2d</text>
<circle cx="132.8" cy="400" r="1.2" fill="#000"/>
<line x1="134.8" y1="402" x2="136.8" y2="404.4" stroke="#e03030" stroke-width="0.7"/>
<line x1="136.6" y1="401.6" x2="138.6" y2="404" stroke="#e03030" stroke-width="0.7"/>
<line x1="133.8" y1="401" x2="138.8" y2="405.5" stroke="#222" stroke-width="0.5"/>
<text x="140.3" y="407" font-size="2.8" fill="#333" text-anchor="middle" font-family="Liberation Sans" >2d</text>
<circle cx="158.8" cy="400" r="1.2" fill="#000"/>
<line x1="160.8" y1="402" x2="162.8" y2="404.4" stroke="#e03030" stroke-width="0.7"/>
<line x1="162.6" y1="401.6" x2="164.6" y2="404" stroke="#e03030" stroke-width="0.7"/>
<line x1="159.8" y1="401" x2="164.8" y2="405.5" stroke="#222" stroke-width="0.5"/>
<text x="166.3" y="407" font-size="2.8" fill="#333" text-anchor="middle" font-family="Liberation Sans" >2d</text>
<circle cx="182.7" cy="400" r="1.2" fill="#000"/>
<line x1="184.7" y1="402" x2="186.7" y2="404.4" stroke="#e03030" stroke-width="0.7"/>
<line x1="186.5" y1="401.6" x2="188.5" y2="404" stroke="#e03030" stroke-width="0.7"/>
<line x1="183.7" y1="401" x2="188.7" y2="405.5" stroke="#222" stroke-width="0.5"/>
<text x="190.2" y="407" font-size="2.8" fill="#333" text-anchor="middle" font-family="Liberation Sans" >2d</text>
<circle cx="206" cy="400" r="1.2" fill="#000"/>
<line x1="208" y1="402" x2="210" y2="404.4" stroke="#e03030" stroke-width="0.7"/>
<line x1="209.8" y1="401.6" x2="211.8" y2="404" stroke="#e03030" stroke-width="0.7"/>
<line x1="207" y1="401" x2="212" y2="405.5" stroke="#222" stroke-width="0.5"/>
<text x="213.5" y="407" font-size="2.8" fill="#333" text-anchor="middle" font-family="Liberation Sans" >2d</text>
<polygon points="106.7,420.8 110.2,423.3 110.2,430.3 106.7,427.8 103.2,430.3 103.2,423.3" fill="#fafafa" stroke="#8a8a8a" stroke-width="0.5"/>
<circle cx="106.7" cy="425.5" r="2" fill="none" stroke="#aaa" stroke-width="0.4"/>
<polygon points="134.8,420.8 138.3,423.3 138.3,430.3 134.8,427.8 131.3,430.3 131.3,423.3" fill="#fafafa" stroke="#8a8a8a" stroke-width="0.5"/>
<circle cx="134.8" cy="425.5" r="2" fill="none" stroke="#aaa" stroke-width="0.4"/>
<polygon points="161.8,420.8 165.3,423.3 165.3,430.3 161.8,427.8 158.3,430.3 158.3,423.3" fill="#fafafa" stroke="#8a8a8a" stroke-width="0.5"/>
<circle cx="161.8" cy="425.5" r="2" fill="none" stroke="#aaa" stroke-width="0.4"/>
<polygon points="91.2,414 99.2,414 101.7,416.8 99.2,419.6 91.2,419.6 93.7,416.8" fill="#fafafa" stroke="#8a8a8a" stroke-width="0.5"/>
<circle cx="96.4" cy="416.8" r="1.6" fill="none" stroke="#aaa" stroke-width="0.4"/>
<polygon points="117.7,414 125.7,414 128.2,416.8 125.7,419.6 117.7,419.6 120.2,416.8" fill="#fafafa" stroke="#8a8a8a" stroke-width="0.5"/>
<circle cx="123" cy="416.8" r="1.6" fill="none" stroke="#aaa" stroke-width="0.4"/>
<polygon points="144.2,414 152.2,414 154.8,416.8 152.2,419.6 144.2,419.6 146.8,416.8" fill="#fafafa" stroke="#8a8a8a" stroke-width="0.5"/>
<circle cx="149.5" cy="416.8" r="1.6" fill="none" stroke="#aaa" stroke-width="0.4"/>
<polygon points="170.8,414 178.8,414 181.2,416.8 178.8,419.6 170.8,419.6 173.2,416.8" fill="#fafafa" stroke="#8a8a8a" stroke-width="0.5"/>
<circle cx="176" cy="416.8" r="1.6" fill="none" stroke="#aaa" stroke-width="0.4"/>
<circle cx="81.9" cy="416.8" r="1.2" fill="#000"/>
<line x1="83.9" y1="418.8" x2="85.9" y2="421.2" stroke="#e03030" stroke-width="0.7"/>
<line x1="85.7" y1="418.4" x2="87.7" y2="420.8" stroke="#e03030" stroke-width="0.7"/>
<line x1="82.9" y1="417.8" x2="87.9" y2="422.3" stroke="#222" stroke-width="0.5"/>
<text x="89.4" y="423.8" font-size="2.8" fill="#333" text-anchor="middle" font-family="Liberation Sans" >2d</text>
<circle cx="107.9" cy="416.8" r="1.2" fill="#000"/>
<line x1="109.9" y1="418.8" x2="111.9" y2="421.2" stroke="#e03030" stroke-width="0.7"/>
<line x1="111.7" y1="418.4" x2="113.7" y2="420.8" stroke="#e03030" stroke-width="0.7"/>
<line x1="108.9" y1="417.8" x2="113.9" y2="422.3" stroke="#222" stroke-width="0.5"/>
<text x="115.4" y="423.8" font-size="2.8" fill="#333" text-anchor="middle" font-family="Liberation Sans" >2d</text>
<circle cx="135" cy="416.8" r="1.2" fill="#000"/>
<line x1="137" y1="418.8" x2="139" y2="421.2" stroke="#e03030" stroke-width="0.7"/>
<line x1="138.8" y1="418.4" x2="140.8" y2="420.8" stroke="#e03030" stroke-width="0.7"/>
<line x1="136" y1="417.8" x2="141" y2="422.3" stroke="#222" stroke-width="0.5"/>
<text x="142.5" y="423.8" font-size="2.8" fill="#333" text-anchor="middle" font-family="Liberation Sans" >2d</text>
<circle cx="161" cy="416.8" r="1.2" fill="#000"/>
<line x1="163" y1="418.8" x2="165" y2="421.2" stroke="#e03030" stroke-width="0.7"/>
<line x1="164.8" y1="418.4" x2="166.8" y2="420.8" stroke="#e03030" stroke-width="0.7"/>
<line x1="162" y1="417.8" x2="167" y2="422.3" stroke="#222" stroke-width="0.5"/>
<text x="168.5" y="423.8" font-size="2.8" fill="#333" text-anchor="middle" font-family="Liberation Sans" >2d</text>
<circle cx="188" cy="416.8" r="1.2" fill="#000"/>
<line x1="190" y1="418.8" x2="192" y2="421.2" stroke="#e03030" stroke-width="0.7"/>
<line x1="191.8" y1="418.4" x2="193.8" y2="420.8" stroke="#e03030" stroke-width="0.7"/>
<line x1="189" y1="417.8" x2="194" y2="422.3" stroke="#222" stroke-width="0.5"/>
<text x="195.5" y="423.8" font-size="2.8" fill="#333" text-anchor="middle" font-family="Liberation Sans" >2d</text>
<polygon points="134.7,442 138.2,444.5 138.2,451.5 134.7,449 131.2,451.5 131.2,444.5" fill="#fafafa" stroke="#8a8a8a" stroke-width="0.5"/>
<circle cx="134.7" cy="446.8" r="2" fill="none" stroke="#aaa" stroke-width="0.4"/>
<polygon points="116.3,432.2 124.3,432.2 126.8,435 124.3,437.8 116.3,437.8 118.8,435" fill="#fafafa" stroke="#8a8a8a" stroke-width="0.5"/>
<circle cx="121.6" cy="435" r="1.6" fill="none" stroke="#aaa" stroke-width="0.4"/>
<polygon points="144.9,432.2 152.9,432.2 155.4,435 152.9,437.8 144.9,437.8 147.4,435" fill="#fafafa" stroke="#8a8a8a" stroke-width="0.5"/>
<circle cx="150.2" cy="435" r="1.6" fill="none" stroke="#aaa" stroke-width="0.4"/>
<circle cx="105.5" cy="435" r="1.2" fill="#000"/>
<line x1="107.5" y1="437" x2="109.5" y2="439.4" stroke="#e03030" stroke-width="0.7"/>
<line x1="109.3" y1="436.6" x2="111.3" y2="439" stroke="#e03030" stroke-width="0.7"/>
<line x1="106.5" y1="436" x2="111.5" y2="440.5" stroke="#222" stroke-width="0.5"/>
<text x="113" y="442" font-size="2.8" fill="#333" text-anchor="middle" font-family="Liberation Sans" >2d</text>
<circle cx="134.7" cy="435" r="1.2" fill="#000"/>
<line x1="136.7" y1="437" x2="138.7" y2="439.4" stroke="#e03030" stroke-width="0.7"/>
<line x1="138.5" y1="436.6" x2="140.5" y2="439" stroke="#e03030" stroke-width="0.7"/>
<line x1="135.7" y1="436" x2="140.7" y2="440.5" stroke="#222" stroke-width="0.5"/>
<text x="142.2" y="442" font-size="2.8" fill="#333" text-anchor="middle" font-family="Liberation Sans" >2d</text>
<circle cx="162.7" cy="435" r="1.2" fill="#000"/>
<line x1="164.7" y1="437" x2="166.7" y2="439.4" stroke="#e03030" stroke-width="0.7"/>
<line x1="166.5" y1="436.6" x2="168.5" y2="439" stroke="#e03030" stroke-width="0.7"/>
<line x1="163.7" y1="436" x2="168.7" y2="440.5" stroke="#222" stroke-width="0.5"/>
<text x="170.2" y="442" font-size="2.8" fill="#333" text-anchor="middle" font-family="Liberation Sans" >2d</text>
<circle cx="134.7" cy="459.5" r="1.2" fill="#000"/>
<line x1="136.7" y1="461.5" x2="138.7" y2="463.9" stroke="#e03030" stroke-width="0.7"/>
<line x1="138.5" y1="461.1" x2="140.5" y2="463.5" stroke="#e03030" stroke-width="0.7"/>
<line x1="135.7" y1="460.5" x2="140.7" y2="465" stroke="#222" stroke-width="0.5"/>
<text x="142.2" y="466.5" font-size="2.8" fill="#333" text-anchor="middle" font-family="Liberation Sans" >2d</text>
<line x1="106.4" y1="483.6" x2="135" y2="483.6" stroke="#111" stroke-width="0.7"/>
<line x1="135" y1="483.6" x2="164.4" y2="483.6" stroke="#111" stroke-width="0.7"/>
<line x1="135" y1="483.6" x2="135" y2="507" stroke="#111" stroke-width="0.7"/>
<polygon points="135,490.1 138.5,492.6 138.5,499.6 135,497.1 131.5,499.6 131.5,492.6" fill="#fafafa" stroke="#8a8a8a" stroke-width="0.5"/>
<circle cx="135" cy="494.8" r="2" fill="none" stroke="#aaa" stroke-width="0.4"/>
<line x1="106.4" y1="471.6" x2="106.4" y2="483.6" stroke="#111" stroke-width="0.7"/>
<polygon points="106.4,469.6 109.9,472.1 109.9,479.6 106.4,477.1 102.9,479.6 102.9,472.1" fill="#fafafa" stroke="#8a8a8a" stroke-width="0.5"/>
<circle cx="106.4" cy="474.6" r="2" fill="none" stroke="#aaa" stroke-width="0.4"/>
<line x1="135" y1="471.6" x2="135" y2="483.6" stroke="#111" stroke-width="0.7"/>
<polygon points="135,469.6 138.5,472.1 138.5,479.6 135,477.1 131.5,479.6 131.5,472.1" fill="#fafafa" stroke="#8a8a8a" stroke-width="0.5"/>
<circle cx="135" cy="474.6" r="2" fill="none" stroke="#aaa" stroke-width="0.4"/>
<line x1="164.4" y1="471.6" x2="164.4" y2="483.6" stroke="#111" stroke-width="0.7"/>
<polygon points="164.4,469.6 167.9,472.1 167.9,479.6 164.4,477.1 160.9,479.6 160.9,472.1" fill="#fafafa" stroke="#8a8a8a" stroke-width="0.5"/>
<circle cx="164.4" cy="474.6" r="2" fill="none" stroke="#aaa" stroke-width="0.4"/>
<polygon points="117,480.8 125,480.8 127.5,483.6 125,486.4 117,486.4 119.5,483.6" fill="#fafafa" stroke="#8a8a8a" stroke-width="0.5"/>
<circle cx="122.2" cy="483.6" r="1.6" fill="none" stroke="#aaa" stroke-width="0.4"/>
<polygon points="145.9,480.8 153.9,480.8 156.4,483.6 153.9,486.4 145.9,486.4 148.4,483.6" fill="#fafafa" stroke="#8a8a8a" stroke-width="0.5"/>
<circle cx="151.2" cy="483.6" r="1.6" fill="none" stroke="#aaa" stroke-width="0.4"/>
<circle cx="106.4" cy="483.6" r="1.2" fill="#000"/>
<line x1="108.4" y1="485.6" x2="110.4" y2="488" stroke="#e03030" stroke-width="0.7"/>
<line x1="110.2" y1="485.2" x2="112.2" y2="487.6" stroke="#e03030" stroke-width="0.7"/>
<line x1="107.4" y1="484.6" x2="112.4" y2="489.1" stroke="#222" stroke-width="0.5"/>
<text x="113.9" y="490.6" font-size="2.8" fill="#333" text-anchor="middle" font-family="Liberation Sans" >2d</text>
<circle cx="135" cy="483.6" r="1.2" fill="#000"/>
<line x1="137" y1="485.6" x2="139" y2="488" stroke="#e03030" stroke-width="0.7"/>
<line x1="138.8" y1="485.2" x2="140.8" y2="487.6" stroke="#e03030" stroke-width="0.7"/>
<line x1="136" y1="484.6" x2="141" y2="489.1" stroke="#222" stroke-width="0.5"/>
<text x="142.5" y="490.6" font-size="2.8" fill="#333" text-anchor="middle" font-family="Liberation Sans" >2d</text>
<circle cx="164.4" cy="483.6" r="1.2" fill="#000"/>
<line x1="166.4" y1="485.6" x2="168.4" y2="488" stroke="#e03030" stroke-width="0.7"/>
<line x1="168.2" y1="485.2" x2="170.2" y2="487.6" stroke="#e03030" stroke-width="0.7"/>
<line x1="165.4" y1="484.6" x2="170.4" y2="489.1" stroke="#222" stroke-width="0.5"/>
<text x="171.9" y="490.6" font-size="2.8" fill="#333" text-anchor="middle" font-family="Liberation Sans" >2d</text>
<circle cx="135" cy="507" r="1.2" fill="#000"/>
<line x1="137" y1="509" x2="139" y2="511.4" stroke="#e03030" stroke-width="0.7"/>
<line x1="138.8" y1="508.6" x2="140.8" y2="511" stroke="#e03030" stroke-width="0.7"/>
<line x1="136" y1="508" x2="141" y2="512.5" stroke="#222" stroke-width="0.5"/>
<text x="142.5" y="514" font-size="2.8" fill="#333" text-anchor="middle" font-family="Liberation Sans" >2d</text>
<line x1="106.4" y1="531.6" x2="135" y2="531.6" stroke="#111" stroke-width="0.7"/>
<line x1="135" y1="531.6" x2="164.4" y2="531.6" stroke="#111" stroke-width="0.7"/>
<line x1="135" y1="531.6" x2="135" y2="555" stroke="#111" stroke-width="0.7"/>
<polygon points="135,538.1 138.5,540.6 138.5,547.6 135,545.1 131.5,547.6 131.5,540.6" fill="#fafafa" stroke="#8a8a8a" stroke-width="0.5"/>
<circle cx="135" cy="542.8" r="2" fill="none" stroke="#aaa" stroke-width="0.4"/>
<line x1="106.4" y1="519.6" x2="106.4" y2="531.6" stroke="#111" stroke-width="0.7"/>
<polygon points="106.4,517.6 109.9,520.1 109.9,527.6 106.4,525.1 102.9,527.6 102.9,520.1" fill="#fafafa" stroke="#8a8a8a" stroke-width="0.5"/>
<circle cx="106.4" cy="522.6" r="2" fill="none" stroke="#aaa" stroke-width="0.4"/>
<line x1="135" y1="519.6" x2="135" y2="531.6" stroke="#111" stroke-width="0.7"/>
<polygon points="135,517.6 138.5,520.1 138.5,527.6 135,525.1 131.5,527.6 131.5,520.1" fill="#fafafa" stroke="#8a8a8a" stroke-width="0.5"/>
<circle cx="135" cy="522.6" r="2" fill="none" stroke="#aaa" stroke-width="0.4"/>
<line x1="164.4" y1="519.6" x2="164.4" y2="531.6" stroke="#111" stroke-width="0.7"/>
<polygon points="164.4,517.6 167.9,520.1 167.9,527.6 164.4,525.1 160.9,527.6 160.9,520.1" fill="#fafafa" stroke="#8a8a8a" stroke-width="0.5"/>
<circle cx="164.4" cy="522.6" r="2" fill="none" stroke="#aaa" stroke-width="0.4"/>
<polygon points="117,528.8 125,528.8 127.5,531.6 125,534.4 117,534.4 119.5,531.6" fill="#fafafa" stroke="#8a8a8a" stroke-width="0.5"/>
<circle cx="122.2" cy="531.6" r="1.6" fill="none" stroke="#aaa" stroke-width="0.4"/>
<polygon points="145.9,528.8 153.9,528.8 156.4,531.6 153.9,534.4 145.9,534.4 148.4,531.6" fill="#fafafa" stroke="#8a8a8a" stroke-width="0.5"/>
<circle cx="151.2" cy="531.6" r="1.6" fill="none" stroke="#aaa" stroke-width="0.4"/>
<circle cx="106.4" cy="531.6" r="1.2" fill="#000"/>
<line x1="108.4" y1="533.6" x2="110.4" y2="536" stroke="#e03030" stroke-width="0.7"/>
<line x1="110.2" y1="533.2" x2="112.2" y2="535.6" stroke="#e03030" stroke-width="0.7"/>
<line x1="107.4" y1="532.6" x2="112.4" y2="537.1" stroke="#222" stroke-width="0.5"/>
<text x="113.9" y="538.6" font-size="2.8" fill="#333" text-anchor="middle" font-family="Liberation Sans" >2d</text>
<circle cx="135" cy="531.6" r="1.2" fill="#000"/>
<line x1="137" y1="533.6" x2="139" y2="536" stroke="#e03030" stroke-width="0.7"/>
<line x1="138.8" y1="533.2" x2="140.8" y2="535.6" stroke="#e03030" stroke-width="0.7"/>
<line x1="136" y1="532.6" x2="141" y2="537.1" stroke="#222" stroke-width="0.5"/>
<text x="142.5" y="538.6" font-size="2.8" fill="#333" text-anchor="middle" font-family="Liberation Sans" >2d</text>
<circle cx="164.4" cy="531.6" r="1.2" fill="#000"/>
<line x1="166.4" y1="533.6" x2="168.4" y2="536" stroke="#e03030" stroke-width="0.7"/>
<line x1="168.2" y1="533.2" x2="170.2" y2="535.6" stroke="#e03030" stroke-width="0.7"/>
<line x1="165.4" y1="532.6" x2="170.4" y2="537.1" stroke="#222" stroke-width="0.5"/>
<text x="171.9" y="538.6" font-size="2.8" fill="#333" text-anchor="middle" font-family="Liberation Sans" >2d</text>
<circle cx="135" cy="555" r="1.2" fill="#000"/>
<line x1="137" y1="557" x2="139" y2="559.4" stroke="#e03030" stroke-width="0.7"/>
<line x1="138.8" y1="556.6" x2="140.8" y2="559" stroke="#e03030" stroke-width="0.7"/>
<line x1="136" y1="556" x2="141" y2="560.5" stroke="#222" stroke-width="0.5"/>
<text x="142.5" y="562" font-size="2.8" fill="#333" text-anchor="middle" font-family="Liberation Sans" >2d</text>
<line x1="134.7" y1="459.5" x2="140.7" y2="459.5" stroke="#111" stroke-width="0.7"/>
<rect x="140.7" y="455.5" width="18" height="8" fill="none" stroke="#111" stroke-width="0.6"/>
<rect x="143.7" y="453.5" width="10" height="4.2" fill="#fbe4cc" stroke="#e08030" stroke-width="0.8"/>
<line x1="148.7" y1="461.5" x2="148.7" y2="465.5" stroke="#e02020" stroke-width="0.9"/>
<line x1="150.7" y1="461.5" x2="150.7" y2="465.5" stroke="#e02020" stroke-width="0.9"/>
<line x1="158.7" y1="459.5" x2="161.7" y2="459.5" stroke="#111" stroke-width="0.7"/>
<polygon points="161.7,457 161.7,462 165.7,459.5" fill="none" stroke="#111" stroke-width="0.6"/>
<line x1="135" y1="507" x2="141" y2="507" stroke="#111" stroke-width="0.7"/>
<rect x="141" y="503" width="18" height="8" fill="none" stroke="#111" stroke-width="0.6"/>
<rect x="144" y="501" width="10" height="4.2" fill="#fbe4cc" stroke="#e08030" stroke-width="0.8"/>
<line x1="149" y1="509" x2="149" y2="513" stroke="#e02020" stroke-width="0.9"/>
<line x1="151" y1="509" x2="151" y2="513" stroke="#e02020" stroke-width="0.9"/>
<line x1="159" y1="507" x2="162" y2="507" stroke="#111" stroke-width="0.7"/>
<polygon points="162,504.5 162,509.5 166,507" fill="none" stroke="#111" stroke-width="0.6"/>
<line x1="135" y1="555" x2="141" y2="555" stroke="#111" stroke-width="0.7"/>
<rect x="141" y="551" width="18" height="8" fill="none" stroke="#111" stroke-width="0.6"/>
<rect x="144" y="549" width="10" height="4.2" fill="#fbe4cc" stroke="#e08030" stroke-width="0.8"/>
<line x1="149" y1="557" x2="149" y2="561" stroke="#e02020" stroke-width="0.9"/>
<line x1="151" y1="557" x2="151" y2="561" stroke="#e02020" stroke-width="0.9"/>
<line x1="159" y1="555" x2="162" y2="555" stroke="#111" stroke-width="0.7"/>
<polygon points="162,552.5 162,557.5 166,555" fill="none" stroke="#111" stroke-width="0.6"/>
<path d="M76.3,424.6 l-6,5 l-5,-4 l-4,4 l6,5" fill="none" stroke="#111" stroke-width="0.6"/>
<polygon points="73.3,426.6 78.3,422.1 81.3,423.6 76.3,428.1" fill="#f8e0c0" stroke="#e08030" stroke-width="0.7"/>
<line x1="67.8" y1="422.4" x2="69.8" y2="424.8" stroke="#e03030" stroke-width="0.7"/>
<line x1="69.6" y1="422" x2="71.6" y2="424.4" stroke="#e03030" stroke-width="0.7"/>
<path d="M98.3,446.6 l-6,5 l-5,-4 l-4,4 l6,5" fill="none" stroke="#111" stroke-width="0.6"/>
<polygon points="95.3,448.6 100.3,444.1 103.3,445.6 98.3,450.1" fill="#f8e0c0" stroke="#e08030" stroke-width="0.7"/>
<line x1="89.8" y1="444.4" x2="91.8" y2="446.8" stroke="#e03030" stroke-width="0.7"/>
<line x1="91.6" y1="444" x2="93.6" y2="446.4" stroke="#e03030" stroke-width="0.7"/>
<path d="M61.7,404.4 l-6,5 l-5,-4 l-4,4 l6,5" fill="none" stroke="#111" stroke-width="0.6"/>
<polygon points="58.7,406.4 63.7,401.9 66.7,403.4 61.7,407.9" fill="#f8e0c0" stroke="#e08030" stroke-width="0.7"/>
<line x1="53.2" y1="402.2" x2="55.2" y2="404.6" stroke="#e03030" stroke-width="0.7"/>
<line x1="55" y1="401.8" x2="57" y2="404.2" stroke="#e03030" stroke-width="0.7"/>
<path d="M78,472 l-6,5 l-5,-4 l-4,4 l6,5" fill="none" stroke="#111" stroke-width="0.6"/>
<polygon points="75,474 80,469.5 83,471 78,475.5" fill="#f8e0c0" stroke="#e08030" stroke-width="0.7"/>
<line x1="69.5" y1="469.8" x2="71.5" y2="472.2" stroke="#e03030" stroke-width="0.7"/>
<line x1="71.3" y1="469.4" x2="73.3" y2="471.8" stroke="#e03030" stroke-width="0.7"/>
<path d="M101,493 l-6,5 l-5,-4 l-4,4 l6,5" fill="none" stroke="#111" stroke-width="0.6"/>
<polygon points="98,495 103,490.5 106,492 101,496.5" fill="#f8e0c0" stroke="#e08030" stroke-width="0.7"/>
<line x1="92.5" y1="490.8" x2="94.5" y2="493.2" stroke="#e03030" stroke-width="0.7"/>
<line x1="94.3" y1="490.4" x2="96.3" y2="492.8" stroke="#e03030" stroke-width="0.7"/>
<path d="M78,520 l-6,5 l-5,-4 l-4,4 l6,5" fill="none" stroke="#111" stroke-width="0.6"/>
<polygon points="75,522 80,517.5 83,519 78,523.5" fill="#f8e0c0" stroke="#e08030" stroke-width="0.7"/>
<line x1="69.5" y1="517.8" x2="71.5" y2="520.2" stroke="#e03030" stroke-width="0.7"/>
<line x1="71.3" y1="517.4" x2="73.3" y2="519.8" stroke="#e03030" stroke-width="0.7"/>
<path d="M101,541 l-6,5 l-5,-4 l-4,4 l6,5" fill="none" stroke="#111" stroke-width="0.6"/>
<polygon points="98,543 103,538.5 106,540 101,544.5" fill="#f8e0c0" stroke="#e08030" stroke-width="0.7"/>
<line x1="92.5" y1="538.8" x2="94.5" y2="541.2" stroke="#e03030" stroke-width="0.7"/>
<line x1="94.3" y1="538.4" x2="96.3" y2="540.8" stroke="#e03030" stroke-width="0.7"/>
<ellipse cx="158" cy="369.7" rx="3.5" ry="2" fill="#e0f0d0" stroke="#666" stroke-width="0.5"/>
<line x1="158.5" y1="370.5" x2="160.5" y2="372.9" stroke="#e03030" stroke-width="0.7"/>
<line x1="160.3" y1="370.1" x2="162.3" y2="372.5" stroke="#e03030" stroke-width="0.7"/>
<ellipse cx="183.7" cy="381.3" rx="3.5" ry="2" fill="#e0f0d0" stroke="#666" stroke-width="0.5"/>
<line x1="184.2" y1="382.1" x2="186.2" y2="384.5" stroke="#e03030" stroke-width="0.7"/>
<line x1="186" y1="381.7" x2="188" y2="384.1" stroke="#e03030" stroke-width="0.7"/>
<ellipse cx="205" cy="393.3" rx="3.5" ry="2" fill="#e0f0d0" stroke="#666" stroke-width="0.5"/>
<line x1="205.5" y1="394.1" x2="207.5" y2="396.5" stroke="#e03030" stroke-width="0.7"/>
<line x1="207.3" y1="393.7" x2="209.3" y2="396.1" stroke="#e03030" stroke-width="0.7"/>
<ellipse cx="127.7" cy="365" rx="3.5" ry="2" fill="#e0f0d0" stroke="#666" stroke-width="0.5"/>
<line x1="128.2" y1="365.8" x2="130.2" y2="368.2" stroke="#e03030" stroke-width="0.7"/>
<line x1="130" y1="365.4" x2="132" y2="367.8" stroke="#e03030" stroke-width="0.7"/>
<line x1="207" y1="402" x2="207" y2="499" stroke="#999" stroke-width="0.6" stroke-dasharray="1.5,1.2"/>
<line x1="210" y1="402" x2="210" y2="499" stroke="#999" stroke-width="0.6" stroke-dasharray="1.5,1.2"/>
<line x1="211.7" y1="398.7" x2="242.7" y2="362.5" stroke="#777" stroke-width="0.5"/>
<line x1="210" y1="499" x2="242.7" y2="491.8" stroke="#999" stroke-width="0.5"/>
<line x1="27.7" y1="562.2" x2="27.7" y2="552" stroke="#111" stroke-width="0.7"/>
<line x1="27.7" y1="562.2" x2="37" y2="562.2" stroke="#111" stroke-width="0.7"/>
<line x1="27.7" y1="562.2" x2="31.5" y2="555" stroke="#111" stroke-width="0.7"/>
<text x="27.2" y="551.5" font-size="9.5" fill="#111" text-anchor="middle" font-family="Liberation Serif" font-style="italic" >z</text>
<text x="36" y="556.5" font-size="9.5" fill="#111" text-anchor="middle" font-family="Liberation Serif" font-style="italic" >y</text>
<text x="40.5" y="568" font-size="9.5" fill="#111" text-anchor="middle" font-family="Liberation Serif" font-style="italic" >x</text>
<rect x="242.7" y="362" width="64.2" height="129.8" fill="#dfe9f3" stroke="#808080" stroke-width="1.1" stroke-dasharray="2.4,1.8"/>
<polygon points="253.2,365.9 299.2,365.9 302,392.5 249.5,392.5" fill="#a6bde4"/>
<line x1="249.5" y1="393" x2="302" y2="393" stroke="#7a8aa0" stroke-width="1.2"/>
<linearGradient id="gins" x1="0" x2="1"><stop offset="0" stop-color="#5a8c3c"/><stop offset="0.5" stop-color="#407a70"/><stop offset="1" stop-color="#34589a"/></linearGradient>
<polygon points="252.5,413 299.2,413 302,439 249.5,439" fill="url(#gins)"/>
<line x1="249.5" y1="439.5" x2="302" y2="439.5" stroke="#6a7a80" stroke-width="1.2"/>
<polygon points="252.5,460 299.2,460 302,485.5 249.5,485.5" fill="#dde9d4"/>
<line x1="249.5" y1="486" x2="302" y2="486" stroke="#8a9a8a" stroke-width="1.2"/>
<line x1="264.2" y1="378" x2="264.2" y2="471.5" stroke="#000" stroke-width="1.0"/>
<line x1="264.2" y1="378" x2="292" y2="378" stroke="#000" stroke-width="0.9"/>
<polygon points="291.5,376 291.5,380 294.5,378" fill="#000"/>
<polygon points="271.5,375 280.5,375 283.5,378 280.5,381 271.5,381 274.5,378" fill="#dfe9f3" stroke="#c08a10" stroke-width="1.1"/>
<circle cx="264.2" cy="378" r="1.9" fill="#000"/>
<polygon points="264.2,396.5 267.7,399.5 267.7,408.5 264.2,405.5 260.7,408.5 260.7,399.5" fill="#fff8e8" stroke="#d09a10" stroke-width="1.2"/>
<circle cx="264.2" cy="425.8" r="1.9" fill="#000"/>
<polygon points="264.2,444.3 267.7,447.3 267.7,456.3 264.2,453.3 260.7,456.3 260.7,447.3" fill="#fff8e8" stroke="#d09a10" stroke-width="1.2"/>
<circle cx="264.2" cy="471.5" r="1.9" fill="#000"/>
<line x1="264.2" y1="471.5" x2="290" y2="471.5" stroke="#000" stroke-width="0.9"/>
<rect x="273.5" y="469.2" width="9.8" height="4.6" fill="#dde9d4" stroke="#c08a10" stroke-width="1.0"/>
<polygon points="289.5,469.5 289.5,473.5 292.5,471.5" fill="#000"/>
<text x="281" y="407" font-size="9.5" fill="#c08a10" text-anchor="middle" font-family="Liberation Sans" font-weight="bold" >±<tspan font-style="italic">R</tspan><tspan font-size="5.5" dy="1.5" font-style="italic">z</tspan></text>
<text x="268" y="481.5" font-size="9" fill="#c08a10" text-anchor="middle" font-family="Liberation Sans" font-weight="bold" font-style="italic" >R<tspan font-size="5.5" dy="1.5">z</tspan></text>
<linearGradient id="gcbh" x1="0" y1="0" x2="0" y2="1"><stop offset="0" stop-color="#e4ecf6"/><stop offset="0.48" stop-color="#1e3a7a"/><stop offset="0.48" stop-color="#2a5a24"/><stop offset="1" stop-color="#d8ecc8"/></linearGradient>
<rect x="291" y="501" width="6.3" height="67" fill="url(#gcbh)"/>
<text x="288.5" y="507.7" font-size="7.4" fill="#5a7ad0" text-anchor="end" font-family="Liberation Sans" font-weight="bold" letter-spacing="-0.3">11<tspan font-style="italic">k</tspan><tspan font-size="4.2" dy="1.8">g</tspan><tspan font-size="4.2" dy="-4.5" dx="-2.2">xy</tspan><tspan dy="2.7"> + 3<tspan font-style="italic">k</tspan></tspan><tspan font-size="4.2" dy="1.8">g</tspan><tspan font-size="4.2" dy="-4.5" dx="-2.2">z</tspan></text>
<text x="288.5" y="519.2" font-size="7.4" fill="#4a68b4" text-anchor="end" font-family="Liberation Sans" font-weight="bold" letter-spacing="-0.3">5<tspan font-style="italic">k</tspan><tspan font-size="4.2" dy="1.8">g</tspan><tspan font-size="4.2" dy="-4.5" dx="-2.2">xy</tspan><tspan dy="2.7"> + 3<tspan font-style="italic">k</tspan></tspan><tspan font-size="4.2" dy="1.8">g</tspan><tspan font-size="4.2" dy="-4.5" dx="-2.2">z</tspan></text>
<text x="288.5" y="530.7" font-size="7.4" fill="#26386e" text-anchor="end" font-family="Liberation Sans" font-weight="bold" letter-spacing="-0.3">11<tspan font-style="italic">k</tspan><tspan font-size="4.2" dy="1.8">g</tspan><tspan font-size="4.2" dy="-4.5" dx="-2.2">xy</tspan><tspan dy="2.7"> + 2<tspan font-style="italic">k</tspan></tspan><tspan font-size="4.2" dy="1.8">g</tspan><tspan font-size="4.2" dy="-4.5" dx="-2.2">z</tspan></text>
<text x="288.5" y="542.2" font-size="7.4" fill="#4a6a40" text-anchor="end" font-family="Liberation Sans" font-weight="bold" letter-spacing="-0.3">5<tspan font-style="italic">k</tspan><tspan font-size="4.2" dy="1.8">g</tspan><tspan font-size="4.2" dy="-4.5" dx="-2.2">xy</tspan><tspan dy="2.7"> + 2<tspan font-style="italic">k</tspan></tspan><tspan font-size="4.2" dy="1.8">g</tspan><tspan font-size="4.2" dy="-4.5" dx="-2.2">z</tspan></text>
<text x="288.5" y="553.7" font-size="7.4" fill="#52823a" text-anchor="end" font-family="Liberation Sans" font-weight="bold" letter-spacing="-0.3">11<tspan font-style="italic">k</tspan><tspan font-size="4.2" dy="1.8">g</tspan><tspan font-size="4.2" dy="-4.5" dx="-2.2">xy</tspan><tspan dy="2.7"> + <tspan font-style="italic">k</tspan></tspan><tspan font-size="4.2" dy="1.8">g</tspan><tspan font-size="4.2" dy="-4.5" dx="-2.2">z</tspan></text>
<text x="288.5" y="565.2" font-size="7.4" fill="#84bc68" text-anchor="end" font-family="Liberation Sans" font-weight="bold" letter-spacing="-0.3">5<tspan font-style="italic">k</tspan><tspan font-size="4.2" dy="1.8">g</tspan><tspan font-size="4.2" dy="-4.5" dx="-2.2">xy</tspan><tspan dy="2.7"> + <tspan font-style="italic">k</tspan></tspan><tspan font-size="4.2" dy="1.8">g</tspan><tspan font-size="4.2" dy="-4.5" dx="-2.2">z</tspan></text>
<linearGradient id="gbgi" x1="0" y1="0" x2="1" y2="1"><stop offset="0" stop-color="#dfeaf5"/><stop offset="1" stop-color="#d9e5f1"/></linearGradient>
<rect x="345.5" y="358" width="237" height="216.7" fill="url(#gbgi)"/>
<polygon points="360,382 360,462 380,480 380,400" fill="#ececec"/>
<polygon points="547,405 577,436 577,499 547,470" fill="#ebebeb"/>
<linearGradient id="gbd" x1="0" y1="0" x2="1" y2="1"><stop offset="0" stop-color="#34b03c"/><stop offset="0.45" stop-color="#4cc84c"/><stop offset="1" stop-color="#38b840"/></linearGradient>
<polygon points="360,445 442,522 576.8,498.7 576.8,500.2 442,523.6 360,446.5" fill="#5a4a3a"/>
<polygon points="360,445 495,422.5 576.8,498.7 442,522" fill="url(#gbd)"/>
<path d="M389.4 470.3h2v1.2h-2zM396.7 473.8h2v1.2h-2zM399.8 477.5h2v1.2h-2zM401.9 480.3h2v1.2h-2zM407.4 485.5h2v1.2h-2zM410.3 488.8h2v1.2h-2zM413 490.6h2v1.2h-2zM432.5 509.8h2v1.2h-2zM437.7 513.6h2v1.2h-2zM444.1 520.8h2v1.2h-2zM368.5 444.6h2v1.2h-2zM378.6 452.6h2v1.2h-2zM397.7 469.9h2v1.2h-2zM403 473.4h2v1.2h-2zM407.2 477.2h2v1.2h-2zM410.8 480.3h2v1.2h-2zM411.6 484.8h2v1.2h-2zM418.7 487.8h2v1.2h-2zM420.3 491.2h2v1.2h-2zM422.9 495.2h2v1.2h-2zM439.1 506.9h2v1.2h-2zM440.7 511h2v1.2h-2zM375.6 444.8h2v1.2h-2zM394.1 457.9h2v1.2h-2zM394 460.8h2v1.2h-2zM398.8 464h2v1.2h-2zM401.8 468.7h2v1.2h-2zM406.6 471.3h2v1.2h-2zM409.8 476.9h2v1.2h-2zM414.9 480.4h2v1.2h-2zM419.5 482.1h2v1.2h-2zM421.8 486.3h2v1.2h-2zM426.5 489.8h2v1.2h-2zM429.9 493.4h2v1.2h-2zM434.9 496.4h2v1.2h-2zM452 514.3h2v1.2h-2zM400.5 461.3h2v1.2h-2zM406 464.6h2v1.2h-2zM409.3 468.2h2v1.2h-2zM412.9 469.9h2v1.2h-2zM415.5 475.4h2v1.2h-2zM421.9 477.3h2v1.2h-2zM424.4 481.9h2v1.2h-2zM427 485h2v1.2h-2zM430.7 488.5h2v1.2h-2zM435.4 491.6h2v1.2h-2zM439.4 496.4h2v1.2h-2zM441.2 499.6h2v1.2h-2zM456.1 512.6h2v1.2h-2zM405.6 455.8h2v1.2h-2zM408.7 458.6h2v1.2h-2zM411.5 463.6h2v1.2h-2zM417 466.3h2v1.2h-2zM417.2 469.5h2v1.2h-2zM422.4 472.9h2v1.2h-2zM428.8 477.7h2v1.2h-2zM428.7 480.3h2v1.2h-2zM435.8 484.3h2v1.2h-2zM438.8 487.1h2v1.2h-2zM439.6 490.9h2v1.2h-2zM446 493.9h2v1.2h-2zM448.3 498.1h2v1.2h-2zM452.3 501.5h2v1.2h-2zM454 504.2h2v1.2h-2zM463 509.5h2v1.2h-2zM468.8 514.7h2v1.2h-2zM400 444.6h2v1.2h-2zM405.5 451.1h2v1.2h-2zM409 455.6h2v1.2h-2zM414.2 459.5h2v1.2h-2zM417.1 463.4h2v1.2h-2zM423.5 466.5h2v1.2h-2zM428 469.8h2v1.2h-2zM428.3 471.4h2v1.2h-2zM433.1 475.2h2v1.2h-2zM436.2 480.1h2v1.2h-2zM440.2 482.9h2v1.2h-2zM446.1 486.6h2v1.2h-2zM446.5 489.7h2v1.2h-2zM452.9 493.3h2v1.2h-2zM456 496.6h2v1.2h-2zM457.8 500.9h2v1.2h-2zM463.2 503.2h2v1.2h-2zM472.2 511.7h2v1.2h-2zM403.1 443.4h2v1.2h-2zM408.3 447.3h2v1.2h-2zM412.6 450.6h2v1.2h-2zM416.6 452.8h2v1.2h-2zM417.7 457h2v1.2h-2zM421.5 460.4h2v1.2h-2zM430.6 465.1h2v1.2h-2zM429.9 468.4h2v1.2h-2zM434.1 471.3h2v1.2h-2zM438.8 475.5h2v1.2h-2zM442.8 478.2h2v1.2h-2zM444.8 481.9h2v1.2h-2zM448.8 486h2v1.2h-2zM454.5 488.7h2v1.2h-2zM455.2 492.1h2v1.2h-2zM461.1 496.4h2v1.2h-2zM466 499.1h2v1.2h-2zM470.4 503.2h2v1.2h-2zM472 506.4h2v1.2h-2zM412.3 442.4h2v1.2h-2zM414.4 446.3h2v1.2h-2zM418.8 448.5h2v1.2h-2zM422.3 453h2v1.2h-2zM429.1 457.3h2v1.2h-2zM430.7 461.1h2v1.2h-2zM434.6 462.8h2v1.2h-2zM436.6 466.2h2v1.2h-2zM443.1 470.7h2v1.2h-2zM447.4 474.5h2v1.2h-2zM450.1 478h2v1.2h-2zM451.9 480.1h2v1.2h-2zM455.5 483.4h2v1.2h-2zM459.3 489h2v1.2h-2zM460.9 490.9h2v1.2h-2zM466.8 496.2h2v1.2h-2zM468.8 497.7h2v1.2h-2zM475.4 501h2v1.2h-2zM480.5 505.7h2v1.2h-2zM484.9 509.9h2v1.2h-2zM414.1 436.8h2v1.2h-2zM418.9 441.4h2v1.2h-2zM421.4 444h2v1.2h-2zM427.3 449.4h2v1.2h-2zM426.7 451.9h2v1.2h-2zM433.7 456.3h2v1.2h-2zM434.6 458.5h2v1.2h-2zM439.4 463h2v1.2h-2zM444.6 465.6h2v1.2h-2zM446.8 469.4h2v1.2h-2zM450.5 473h2v1.2h-2zM453.3 476.8h2v1.2h-2zM460.5 479.5h2v1.2h-2zM462.6 482.6h2v1.2h-2zM467.6 487.5h2v1.2h-2zM470.7 490.5h2v1.2h-2zM473.9 494.4h2v1.2h-2zM478.1 496.5h2v1.2h-2zM480.1 501.9h2v1.2h-2zM486.6 504.3h2v1.2h-2zM488.9 508.6h2v1.2h-2zM490.5 511.2h2v1.2h-2zM419.2 437.4h2v1.2h-2zM422.5 440h2v1.2h-2zM429.5 445h2v1.2h-2zM431 448.1h2v1.2h-2zM435.6 451.9h2v1.2h-2zM438.6 453.9h2v1.2h-2zM440.2 457.1h2v1.2h-2zM445.9 461.3h2v1.2h-2zM448.3 464.9h2v1.2h-2zM453.7 469.3h2v1.2h-2zM457.2 473.4h2v1.2h-2zM461.3 475.8h2v1.2h-2zM465.6 479.8h2v1.2h-2zM470.1 482.4h2v1.2h-2zM472.8 486.6h2v1.2h-2zM477.3 489.1h2v1.2h-2zM481.9 493.9h2v1.2h-2zM482.7 495.9h2v1.2h-2zM486.7 500.7h2v1.2h-2zM492.8 504.5h2v1.2h-2zM495.5 506.2h2v1.2h-2zM496.6 510.2h2v1.2h-2zM425.5 436.7h2v1.2h-2zM432.5 440.2h2v1.2h-2zM433.7 444h2v1.2h-2zM436.5 446.5h2v1.2h-2zM441.1 448.9h2v1.2h-2zM444.1 454.6h2v1.2h-2zM447.5 456.8h2v1.2h-2zM453.1 460.9h2v1.2h-2zM453.7 464h2v1.2h-2zM459.5 467.5h2v1.2h-2zM462.6 471.4h2v1.2h-2zM468.9 474h2v1.2h-2zM470.3 477.1h2v1.2h-2zM474.2 482h2v1.2h-2zM477.9 486.2h2v1.2h-2zM482.9 487.3h2v1.2h-2zM487.4 491.4h2v1.2h-2zM491.4 495.9h2v1.2h-2zM493 499.6h2v1.2h-2zM498.5 503.1h2v1.2h-2zM500.5 506.8h2v1.2h-2zM506.9 509.6h2v1.2h-2zM431.6 434.1h2v1.2h-2zM435.8 438.2h2v1.2h-2zM441.2 442.3h2v1.2h-2zM443.1 444.7h2v1.2h-2zM448.3 449.2h2v1.2h-2zM450.7 453.6h2v1.2h-2zM454.5 455h2v1.2h-2zM459.4 458.4h2v1.2h-2zM462.1 463.6h2v1.2h-2zM466.5 466.5h2v1.2h-2zM470.2 469.8h2v1.2h-2zM471.9 472.9h2v1.2h-2zM475.9 477.8h2v1.2h-2zM482 480.4h2v1.2h-2zM485.2 483.5h2v1.2h-2zM487.1 487.4h2v1.2h-2zM492.5 489.7h2v1.2h-2zM495.2 493.9h2v1.2h-2zM500.3 497.5h2v1.2h-2zM502.3 501.4h2v1.2h-2zM507.8 505.6h2v1.2h-2zM511 509.4h2v1.2h-2zM436.4 433.7h2v1.2h-2zM439.7 436.8h2v1.2h-2zM447.7 441.3h2v1.2h-2zM447.7 444h2v1.2h-2zM453.7 448.6h2v1.2h-2zM459.1 451.8h2v1.2h-2zM460.4 454.1h2v1.2h-2zM463.5 457.8h2v1.2h-2zM468.7 462.1h2v1.2h-2zM470.3 465.1h2v1.2h-2zM475.8 467.7h2v1.2h-2zM481.8 473.2h2v1.2h-2zM484.8 475.4h2v1.2h-2zM487.4 479.6h2v1.2h-2zM492.5 484h2v1.2h-2zM494.7 485.9h2v1.2h-2zM499.6 489.7h2v1.2h-2zM502.9 493.9h2v1.2h-2zM504.3 497.9h2v1.2h-2zM510 500.3h2v1.2h-2zM513.1 503.9h2v1.2h-2zM515.7 507.7h2v1.2h-2zM442.8 433.3h2v1.2h-2zM448.9 436.2h2v1.2h-2zM453.6 441h2v1.2h-2zM456.6 442.3h2v1.2h-2zM461.1 447h2v1.2h-2zM461.2 450.4h2v1.2h-2zM464.9 453.1h2v1.2h-2zM472 458.4h2v1.2h-2zM474.7 461.9h2v1.2h-2zM478.1 463.5h2v1.2h-2zM483.7 467.9h2v1.2h-2zM488 471.7h2v1.2h-2zM490 474.4h2v1.2h-2zM495.5 479.2h2v1.2h-2zM498.2 481.6h2v1.2h-2zM501.6 485.2h2v1.2h-2zM501.6 488.2h2v1.2h-2zM505.6 492h2v1.2h-2zM510.4 496.2h2v1.2h-2zM516.4 499.4h2v1.2h-2zM519.3 503.3h2v1.2h-2zM522.1 506.5h2v1.2h-2zM453.4 434.7h2v1.2h-2zM460.5 439.2h2v1.2h-2zM461.2 442.2h2v1.2h-2zM466.1 446.1h2v1.2h-2zM467.1 448.5h2v1.2h-2zM472.7 453.8h2v1.2h-2zM475.4 456.6h2v1.2h-2zM478.7 459.5h2v1.2h-2zM482.8 463.4h2v1.2h-2zM485.6 466.1h2v1.2h-2zM489.4 469.9h2v1.2h-2zM494.4 472.9h2v1.2h-2zM497.2 477.6h2v1.2h-2zM503.1 481.5h2v1.2h-2zM504.7 484.5h2v1.2h-2zM508.9 486.9h2v1.2h-2zM515.4 490.5h2v1.2h-2zM516.2 495.1h2v1.2h-2zM520.6 498.9h2v1.2h-2zM523.8 501.2h2v1.2h-2zM465.5 437.6h2v1.2h-2zM469.4 440.6h2v1.2h-2zM470.3 444.5h2v1.2h-2zM477.2 448.5h2v1.2h-2zM477.7 451.1h2v1.2h-2zM485 456.4h2v1.2h-2zM485.9 457.7h2v1.2h-2zM487.6 461.8h2v1.2h-2zM491.8 465h2v1.2h-2zM496.6 470.1h2v1.2h-2zM502.6 471.9h2v1.2h-2zM507.3 476h2v1.2h-2zM511.4 480.7h2v1.2h-2zM513.5 482h2v1.2h-2zM516.1 487.3h2v1.2h-2zM521.1 489.1h2v1.2h-2zM524.1 494.8h2v1.2h-2zM526 497.4h2v1.2h-2zM462.4 430.6h2v1.2h-2zM471.8 437.8h2v1.2h-2zM473.5 440.3h2v1.2h-2zM477.6 444.7h2v1.2h-2zM481.1 446.9h2v1.2h-2zM484.7 451.6h2v1.2h-2zM490.2 454.8h2v1.2h-2zM492.4 457.9h2v1.2h-2zM495.8 462.1h2v1.2h-2zM498.4 465.1h2v1.2h-2zM505.6 468.6h2v1.2h-2zM505.6 471.5h2v1.2h-2zM513.3 475.5h2v1.2h-2zM517.7 479.5h2v1.2h-2zM519.8 483.3h2v1.2h-2zM523.3 485.3h2v1.2h-2zM524.9 488.5h2v1.2h-2zM530.9 494h2v1.2h-2zM483.1 443.4h2v1.2h-2zM487 445.2h2v1.2h-2zM491.7 451.1h2v1.2h-2zM494.4 453.7h2v1.2h-2zM499.4 457.6h2v1.2h-2zM503.9 460.9h2v1.2h-2zM505.9 463.1h2v1.2h-2zM507.9 466.6h2v1.2h-2zM514.3 469.7h2v1.2h-2zM516.9 475.8h2v1.2h-2zM521.2 479h2v1.2h-2zM523.4 481.6h2v1.2h-2zM528.6 485.8h2v1.2h-2zM533.4 488.6h2v1.2h-2zM539.7 495.7h2v1.2h-2zM476.5 428.5h2v1.2h-2zM491.9 445.3h2v1.2h-2zM496.6 447.9h2v1.2h-2zM502.3 452.8h2v1.2h-2zM505.3 456.2h2v1.2h-2zM508.7 458.6h2v1.2h-2zM513.3 464.1h2v1.2h-2zM515.5 466.3h2v1.2h-2zM517.7 469.5h2v1.2h-2zM523.5 474.6h2v1.2h-2zM529.4 477.5h2v1.2h-2zM533.5 480.3h2v1.2h-2zM536.9 483.6h2v1.2h-2zM545.2 491.6h2v1.2h-2zM482.7 426h2v1.2h-2zM483 429.6h2v1.2h-2zM502.6 448.7h2v1.2h-2zM506.5 451.3h2v1.2h-2zM511.3 455.5h2v1.2h-2zM515.5 457.6h2v1.2h-2zM516.7 461.6h2v1.2h-2zM521.1 464.4h2v1.2h-2zM525.5 469.6h2v1.2h-2zM532 473.3h2v1.2h-2zM536.6 476.4h2v1.2h-2zM536.1 478.6h2v1.2h-2zM558.8 500.4h2v1.2h-2zM488.4 425.1h2v1.2h-2zM492.2 432.3h2v1.2h-2zM513.2 451.1h2v1.2h-2zM518.5 454.9h2v1.2h-2zM523.5 458.2h2v1.2h-2zM522.3 460.4h2v1.2h-2zM526.5 464.5h2v1.2h-2zM530.6 466.9h2v1.2h-2zM535.3 470.3h2v1.2h-2zM538.5 474.3h2v1.2h-2zM542.6 477.8h2v1.2h-2zM562.8 495h2v1.2h-2zM504.6 434.7h2v1.2h-2zM521.5 448.9h2v1.2h-2zM525.3 453.6h2v1.2h-2zM528.9 456.3h2v1.2h-2zM530.8 459.9h2v1.2h-2zM532.7 462.8h2v1.2h-2zM540.5 467.8h2v1.2h-2zM542.2 470h2v1.2h-2zM554.4 481.9h2v1.2h-2zM574.5 499h2v1.2h-2z" fill="#4a5a4a" fill-opacity="0.7"/>
<path d="M382.9 453.3h2.6v1.7h-2.6zM412.7 481.3h2.6v1.7h-2.6zM427.6 495.3h2.6v1.7h-2.6zM442.5 509.3h2.6v1.7h-2.6zM422.3 463.2h2.6v1.7h-2.6zM437.2 477.2h2.6v1.7h-2.6zM452.1 491.2h2.6v1.7h-2.6zM467 505.2h2.6v1.7h-2.6zM432 445.1h2.6v1.7h-2.6zM446.9 459.1h2.6v1.7h-2.6zM461.8 473.1h2.6v1.7h-2.6zM476.7 487.1h2.6v1.7h-2.6zM491.6 501.1h2.6v1.7h-2.6zM456.5 441h2.6v1.7h-2.6zM471.4 455h2.6v1.7h-2.6zM486.3 469h2.6v1.7h-2.6zM501.2 483h2.6v1.7h-2.6zM516.1 497h2.6v1.7h-2.6zM496 450.9h2.6v1.7h-2.6zM510.9 464.9h2.6v1.7h-2.6zM525.8 478.9h2.6v1.7h-2.6zM535.4 460.9h2.6v1.7h-2.6z" fill="#f4f4ec"/>
<line x1="495" y1="422.5" x2="576.8" y2="498.7" stroke="#2a3a2a" stroke-width="0.8" stroke-opacity="0.6"/>
<polygon points="360,417.7 442,494.7 576.8,471.4 576.8,472.9 442,496.3 360,419.2" fill="#5a4a3a"/>
<polygon points="360,417.7 495,395.2 576.8,471.4 442,494.7" fill="url(#gbd)"/>
<path d="M365.7 417.6h2v1.2h-2zM373.8 426.2h2v1.2h-2zM394.2 446.7h2v1.2h-2zM400.6 451.4h2v1.2h-2zM404.1 453.7h2v1.2h-2zM405.1 456.9h2v1.2h-2zM406.6 460.2h2v1.2h-2zM412.8 464h2v1.2h-2zM421.1 471.6h2v1.2h-2zM443.1 491.6h2v1.2h-2zM372.8 418.3h2v1.2h-2zM376.6 421.9h2v1.2h-2zM383.3 427.3h2v1.2h-2zM397.3 442.4h2v1.2h-2zM402.6 445.6h2v1.2h-2zM405.6 448.9h2v1.2h-2zM410.9 453.6h2v1.2h-2zM412.1 456.6h2v1.2h-2zM418 460.1h2v1.2h-2zM418.8 462.8h2v1.2h-2zM423 467.5h2v1.2h-2zM430.8 475h2v1.2h-2zM439 480.8h2v1.2h-2zM387.8 426.3h2v1.2h-2zM394 431.7h2v1.2h-2zM399.5 436.7h2v1.2h-2zM403.4 440.8h2v1.2h-2zM406.8 445.9h2v1.2h-2zM409.2 448.7h2v1.2h-2zM415.3 451.1h2v1.2h-2zM418 456.5h2v1.2h-2zM422.2 459.4h2v1.2h-2zM423.4 462.4h2v1.2h-2zM428.5 466.5h2v1.2h-2zM432.5 470.7h2v1.2h-2zM449.6 486.4h2v1.2h-2zM388.2 422h2v1.2h-2zM402 432.3h2v1.2h-2zM403.9 435.9h2v1.2h-2zM409.9 441h2v1.2h-2zM415.1 444.6h2v1.2h-2zM418.8 448h2v1.2h-2zM421.4 450.7h2v1.2h-2zM423.6 454.9h2v1.2h-2zM426.3 457.1h2v1.2h-2zM432.5 462.3h2v1.2h-2zM434.2 465.3h2v1.2h-2zM438.9 468.5h2v1.2h-2zM442.7 473.2h2v1.2h-2zM403.1 429.4h2v1.2h-2zM409.3 433.5h2v1.2h-2zM414.8 436.7h2v1.2h-2zM414.3 439.4h2v1.2h-2zM418.5 443.2h2v1.2h-2zM424.3 447h2v1.2h-2zM427 449.1h2v1.2h-2zM430.2 453.5h2v1.2h-2zM431.1 456.1h2v1.2h-2zM436.6 459.5h2v1.2h-2zM441.9 463.1h2v1.2h-2zM443 466.9h2v1.2h-2zM447.3 470.4h2v1.2h-2zM452.8 474.3h2v1.2h-2zM470.2 488.6h2v1.2h-2zM404.8 424.4h2v1.2h-2zM409.8 427.1h2v1.2h-2zM413.3 432.3h2v1.2h-2zM417.5 435h2v1.2h-2zM423.7 438.3h2v1.2h-2zM425.8 443.1h2v1.2h-2zM427.5 444.3h2v1.2h-2zM432.7 447.8h2v1.2h-2zM436.7 453.2h2v1.2h-2zM439.8 454.6h2v1.2h-2zM443.7 459.2h2v1.2h-2zM447 462.2h2v1.2h-2zM450.8 465.3h2v1.2h-2zM454.1 469.7h2v1.2h-2zM459.7 472.1h2v1.2h-2zM463 475.9h2v1.2h-2zM406.7 419.2h2v1.2h-2zM412.1 424.4h2v1.2h-2zM418.4 427.8h2v1.2h-2zM420 429.1h2v1.2h-2zM425.4 434.3h2v1.2h-2zM428.7 437.1h2v1.2h-2zM430.9 440.8h2v1.2h-2zM435.9 443.6h2v1.2h-2zM439.1 447.7h2v1.2h-2zM445.3 451.7h2v1.2h-2zM449.1 455.3h2v1.2h-2zM448.7 457.8h2v1.2h-2zM453.3 461.3h2v1.2h-2zM457.8 465.8h2v1.2h-2zM463.3 468.7h2v1.2h-2zM465.4 471.2h2v1.2h-2zM469.5 477h2v1.2h-2zM470.9 479.3h2v1.2h-2zM410.2 411.8h2v1.2h-2zM409.6 415.1h2v1.2h-2zM414.7 419.4h2v1.2h-2zM419.7 422h2v1.2h-2zM421.9 424.9h2v1.2h-2zM427.8 430.3h2v1.2h-2zM430.3 431.7h2v1.2h-2zM434.6 436.8h2v1.2h-2zM437.7 440.9h2v1.2h-2zM441.8 443.8h2v1.2h-2zM446 448h2v1.2h-2zM450.2 450.3h2v1.2h-2zM451 453.9h2v1.2h-2zM454.7 457.8h2v1.2h-2zM460.8 459.8h2v1.2h-2zM463.8 464.2h2v1.2h-2zM467.7 468.3h2v1.2h-2zM473.5 471.5h2v1.2h-2zM476 475.9h2v1.2h-2zM478.6 479h2v1.2h-2zM483.7 482.3h2v1.2h-2zM485.3 485.7h2v1.2h-2zM414 411.2h2v1.2h-2zM420 414.2h2v1.2h-2zM419.4 418h2v1.2h-2zM427 422h2v1.2h-2zM430.3 425.4h2v1.2h-2zM431.8 429.6h2v1.2h-2zM437.6 431.8h2v1.2h-2zM442.7 435.9h2v1.2h-2zM443 439.8h2v1.2h-2zM447.9 441.4h2v1.2h-2zM452.5 445.8h2v1.2h-2zM454.5 450.2h2v1.2h-2zM457.6 453.3h2v1.2h-2zM461.6 455.7h2v1.2h-2zM466.4 459.6h2v1.2h-2zM469.9 464.5h2v1.2h-2zM470.7 465.9h2v1.2h-2zM478.2 471h2v1.2h-2zM482.4 474.2h2v1.2h-2zM485.2 477.7h2v1.2h-2zM487.3 480.3h2v1.2h-2zM491.1 483.2h2v1.2h-2zM419.1 410.6h2v1.2h-2zM423.2 414h2v1.2h-2zM428.5 416.3h2v1.2h-2zM432.8 420.8h2v1.2h-2zM435.6 422.6h2v1.2h-2zM437.1 427.2h2v1.2h-2zM441.9 430.3h2v1.2h-2zM444.4 434.7h2v1.2h-2zM451.5 437.1h2v1.2h-2zM453.6 440.9h2v1.2h-2zM458.1 445.6h2v1.2h-2zM460.7 448.7h2v1.2h-2zM464.9 451.8h2v1.2h-2zM469.3 454h2v1.2h-2zM473.2 458.1h2v1.2h-2zM477.4 462.8h2v1.2h-2zM480.2 465.4h2v1.2h-2zM483.9 468.1h2v1.2h-2zM487.5 472.4h2v1.2h-2zM492 477h2v1.2h-2zM496.2 479.8h2v1.2h-2zM497 482.7h2v1.2h-2zM425.5 408.1h2v1.2h-2zM430.2 413.4h2v1.2h-2zM433 416.7h2v1.2h-2zM436.7 419h2v1.2h-2zM439.4 421.9h2v1.2h-2zM443.9 425.5h2v1.2h-2zM447.9 429.3h2v1.2h-2zM455 433.9h2v1.2h-2zM456.2 437.1h2v1.2h-2zM461.2 439.5h2v1.2h-2zM461.3 443.4h2v1.2h-2zM466.5 447.8h2v1.2h-2zM470.2 450.5h2v1.2h-2zM475.3 453.4h2v1.2h-2zM480.1 457.8h2v1.2h-2zM482.6 462h2v1.2h-2zM486.2 465.7h2v1.2h-2zM491.4 467.9h2v1.2h-2zM495.3 472.6h2v1.2h-2zM498.7 475.6h2v1.2h-2zM503.4 479.5h2v1.2h-2zM506.8 483.1h2v1.2h-2zM431.9 408.1h2v1.2h-2zM436.5 410.8h2v1.2h-2zM438.7 414h2v1.2h-2zM445.1 417.5h2v1.2h-2zM448.2 422.6h2v1.2h-2zM450.9 426.5h2v1.2h-2zM452.1 427.9h2v1.2h-2zM457.6 432h2v1.2h-2zM464.9 436.3h2v1.2h-2zM466.9 438.9h2v1.2h-2zM469.2 442.1h2v1.2h-2zM474.5 445.7h2v1.2h-2zM476.6 450.2h2v1.2h-2zM479 453h2v1.2h-2zM485.3 455.5h2v1.2h-2zM486.2 459.7h2v1.2h-2zM490.9 463.7h2v1.2h-2zM494.4 467h2v1.2h-2zM497.9 470.3h2v1.2h-2zM503.3 473.7h2v1.2h-2zM507.1 478.4h2v1.2h-2zM508.1 480.7h2v1.2h-2zM439.8 406.3h2v1.2h-2zM442.5 409.1h2v1.2h-2zM447 414.4h2v1.2h-2zM449.8 417.9h2v1.2h-2zM453.7 420.3h2v1.2h-2zM459 423.6h2v1.2h-2zM461.1 428h2v1.2h-2zM464.7 432.1h2v1.2h-2zM469 434.8h2v1.2h-2zM473.5 439.3h2v1.2h-2zM478.7 442.1h2v1.2h-2zM479.2 445h2v1.2h-2zM482.3 447.6h2v1.2h-2zM486.7 453.6h2v1.2h-2zM490.3 456.9h2v1.2h-2zM496.2 460h2v1.2h-2zM496 462.5h2v1.2h-2zM501.9 464.8h2v1.2h-2zM503.7 469.6h2v1.2h-2zM507.2 472.6h2v1.2h-2zM512.8 475.6h2v1.2h-2zM519.1 480.2h2v1.2h-2zM443.9 406.9h2v1.2h-2zM447.3 409.3h2v1.2h-2zM451.5 411.8h2v1.2h-2zM454.8 415.1h2v1.2h-2zM459.4 420.8h2v1.2h-2zM464.7 423h2v1.2h-2zM468.7 427.4h2v1.2h-2zM469.3 430.4h2v1.2h-2zM472.1 433h2v1.2h-2zM476 436.7h2v1.2h-2zM479.5 440.3h2v1.2h-2zM485.5 444.5h2v1.2h-2zM491.9 448.3h2v1.2h-2zM494.1 451h2v1.2h-2zM497.7 453.6h2v1.2h-2zM499.8 459.1h2v1.2h-2zM504.1 460.9h2v1.2h-2zM507.1 464.8h2v1.2h-2zM511.3 468.5h2v1.2h-2zM515.8 472.9h2v1.2h-2zM520.7 475.6h2v1.2h-2zM522.3 478.7h2v1.2h-2zM455.9 407.2h2v1.2h-2zM459.6 411.9h2v1.2h-2zM461.5 413.9h2v1.2h-2zM465.2 417.9h2v1.2h-2zM468.4 422.5h2v1.2h-2zM474.1 425.8h2v1.2h-2zM478.4 429.4h2v1.2h-2zM479.4 431.6h2v1.2h-2zM486.3 436.7h2v1.2h-2zM489.7 439.6h2v1.2h-2zM489.2 442.7h2v1.2h-2zM494.3 447.2h2v1.2h-2zM498.7 449.4h2v1.2h-2zM506 454.4h2v1.2h-2zM508.3 456.8h2v1.2h-2zM508.9 460.1h2v1.2h-2zM516 464.4h2v1.2h-2zM518 468.7h2v1.2h-2zM521.7 470.9h2v1.2h-2zM525.6 475.2h2v1.2h-2zM464.7 409.9h2v1.2h-2zM469.1 413.2h2v1.2h-2zM471.3 417.8h2v1.2h-2zM475.2 421.2h2v1.2h-2zM480.3 423.6h2v1.2h-2zM484.6 428.4h2v1.2h-2zM487.8 431.3h2v1.2h-2zM490 434.8h2v1.2h-2zM493.5 438h2v1.2h-2zM496.7 442.3h2v1.2h-2zM500.4 445.7h2v1.2h-2zM505.3 448.6h2v1.2h-2zM508.1 453.1h2v1.2h-2zM513.7 455.2h2v1.2h-2zM517.5 459.9h2v1.2h-2zM522.3 463.3h2v1.2h-2zM522.6 466.1h2v1.2h-2zM528.7 469.4h2v1.2h-2zM533.6 476.9h2v1.2h-2zM473.5 413h2v1.2h-2zM478.5 417.4h2v1.2h-2zM480 420.6h2v1.2h-2zM483.1 423h2v1.2h-2zM489.3 426.7h2v1.2h-2zM491.4 431.1h2v1.2h-2zM498.7 434.1h2v1.2h-2zM501.1 438.3h2v1.2h-2zM504.9 440h2v1.2h-2zM508.2 445.8h2v1.2h-2zM512.6 447.1h2v1.2h-2zM517 452.3h2v1.2h-2zM519.9 455.5h2v1.2h-2zM522.2 457.9h2v1.2h-2zM524.2 461.3h2v1.2h-2zM530 464.6h2v1.2h-2zM468.7 401.6h2v1.2h-2zM485.1 416.3h2v1.2h-2zM487.3 420.4h2v1.2h-2zM491.2 421.4h2v1.2h-2zM495.9 425.7h2v1.2h-2zM498.1 428.6h2v1.2h-2zM502.9 433.1h2v1.2h-2zM507.9 436.5h2v1.2h-2zM511.7 440.5h2v1.2h-2zM511.7 442.6h2v1.2h-2zM516.7 446.2h2v1.2h-2zM519.5 450.4h2v1.2h-2zM525.6 454.3h2v1.2h-2zM530.6 458.5h2v1.2h-2zM531.1 461.5h2v1.2h-2zM485.6 410.8h2v1.2h-2zM489.8 413.6h2v1.2h-2zM494.8 417.5h2v1.2h-2zM499.9 421.5h2v1.2h-2zM503.7 425.7h2v1.2h-2zM506.4 429.6h2v1.2h-2zM506.6 432h2v1.2h-2zM512.8 434.2h2v1.2h-2zM518.3 440.1h2v1.2h-2zM521.9 443.2h2v1.2h-2zM522.2 446.4h2v1.2h-2zM527.9 449.3h2v1.2h-2zM531.7 453.8h2v1.2h-2zM532.5 455.7h2v1.2h-2zM544.2 463.7h2v1.2h-2zM547.4 470.3h2v1.2h-2zM482.1 400.5h2v1.2h-2zM501.7 420.6h2v1.2h-2zM507.1 423.5h2v1.2h-2zM510.9 426.4h2v1.2h-2zM515.2 431.1h2v1.2h-2zM519.4 435.5h2v1.2h-2zM520.8 438.1h2v1.2h-2zM525.8 441.2h2v1.2h-2zM532.1 444.9h2v1.2h-2zM533.6 448.4h2v1.2h-2zM538.3 453.1h2v1.2h-2zM495.8 405.6h2v1.2h-2zM512.1 422.5h2v1.2h-2zM519.6 427.4h2v1.2h-2zM522.8 430h2v1.2h-2zM522.5 433.3h2v1.2h-2zM531.2 437.8h2v1.2h-2zM532.7 440.6h2v1.2h-2zM536.2 443.3h2v1.2h-2zM540.4 447h2v1.2h-2zM543.8 451.4h2v1.2h-2zM559.3 464.6h2v1.2h-2zM567.3 472.2h2v1.2h-2zM492.5 397.9h2v1.2h-2zM506.6 407.4h2v1.2h-2zM524.4 424.9h2v1.2h-2zM526.3 429.6h2v1.2h-2zM531.4 432.1h2v1.2h-2zM536 437.1h2v1.2h-2zM539.5 439h2v1.2h-2zM544.1 442.8h2v1.2h-2zM558.3 457.2h2v1.2h-2z" fill="#4a5a4a" fill-opacity="0.7"/>
<path d="M412.7 454h2.6v1.7h-2.6zM427.6 468h2.6v1.7h-2.6zM442.5 482h2.6v1.7h-2.6zM422.3 435.9h2.6v1.7h-2.6zM437.2 449.9h2.6v1.7h-2.6zM452.1 463.9h2.6v1.7h-2.6zM467 477.9h2.6v1.7h-2.6zM432 417.8h2.6v1.7h-2.6zM446.9 431.8h2.6v1.7h-2.6zM461.8 445.8h2.6v1.7h-2.6zM476.7 459.8h2.6v1.7h-2.6zM491.6 473.8h2.6v1.7h-2.6zM456.5 413.7h2.6v1.7h-2.6zM471.4 427.7h2.6v1.7h-2.6zM486.3 441.7h2.6v1.7h-2.6zM501.2 455.7h2.6v1.7h-2.6zM516.1 469.7h2.6v1.7h-2.6zM496 423.6h2.6v1.7h-2.6zM510.9 437.6h2.6v1.7h-2.6zM525.8 451.6h2.6v1.7h-2.6zM535.4 433.6h2.6v1.7h-2.6z" fill="#f4f4ec"/>
<line x1="495" y1="395.2" x2="576.8" y2="471.4" stroke="#2a3a2a" stroke-width="0.8" stroke-opacity="0.6"/>
<polygon points="360,382.5 442,459.5 576.8,436.2 576.8,437.7 442,461.1 360,384" fill="#5a4a3a"/>
<polygon points="360,382.5 495,360 576.8,436.2 442,459.5" fill="url(#gbd)"/>
<path d="M369.1 386.5h2v1.2h-2zM395.9 411.4h2v1.2h-2zM398.3 413.9h2v1.2h-2zM402.5 419.3h2v1.2h-2zM405.9 423.5h2v1.2h-2zM410.1 424.4h2v1.2h-2zM411.6 429.7h2v1.2h-2zM415.9 432.2h2v1.2h-2zM386.6 397h2v1.2h-2zM394 402.6h2v1.2h-2zM397 407.8h2v1.2h-2zM402.8 411.6h2v1.2h-2zM405.1 415h2v1.2h-2zM408.5 417.1h2v1.2h-2zM413.4 422h2v1.2h-2zM417.2 424.5h2v1.2h-2zM418.7 427.1h2v1.2h-2zM422.9 432.6h2v1.2h-2zM398.2 403.5h2v1.2h-2zM405.5 406.1h2v1.2h-2zM405.8 409h2v1.2h-2zM411.9 414.3h2v1.2h-2zM415.7 416.6h2v1.2h-2zM419 419.3h2v1.2h-2zM423.1 424.7h2v1.2h-2zM425.9 427h2v1.2h-2zM428.6 431h2v1.2h-2zM433.7 432.7h2v1.2h-2zM442.7 441.5h2v1.2h-2zM444.5 444.8h2v1.2h-2zM455 454.5h2v1.2h-2zM402.8 398.3h2v1.2h-2zM404.4 400.6h2v1.2h-2zM407.5 404.6h2v1.2h-2zM414.4 409.4h2v1.2h-2zM418.8 412.7h2v1.2h-2zM421.3 414.9h2v1.2h-2zM426.2 419.3h2v1.2h-2zM425.2 421.8h2v1.2h-2zM430.5 427.1h2v1.2h-2zM433.5 428.9h2v1.2h-2zM439.4 432.7h2v1.2h-2zM440.4 436.2h2v1.2h-2zM403.3 393h2v1.2h-2zM407.5 398.3h2v1.2h-2zM411.2 400h2v1.2h-2zM416.8 404.8h2v1.2h-2zM416.2 406.9h2v1.2h-2zM422.1 411.9h2v1.2h-2zM425.9 415.3h2v1.2h-2zM431.3 418.1h2v1.2h-2zM434.2 422.9h2v1.2h-2zM439.2 425h2v1.2h-2zM440.9 429.2h2v1.2h-2zM445.1 432.4h2v1.2h-2zM448.7 436.1h2v1.2h-2zM450.6 439h2v1.2h-2zM457.6 441.9h2v1.2h-2zM460.6 447.3h2v1.2h-2zM402 386.7h2v1.2h-2zM408.8 389h2v1.2h-2zM410.1 393.7h2v1.2h-2zM416.7 396.3h2v1.2h-2zM417.7 399.3h2v1.2h-2zM420.4 402.5h2v1.2h-2zM426 406.4h2v1.2h-2zM426.9 409.4h2v1.2h-2zM433.1 413h2v1.2h-2zM436.2 416.7h2v1.2h-2zM442.8 421.3h2v1.2h-2zM441.4 423.8h2v1.2h-2zM448.3 428.9h2v1.2h-2zM452.3 430.6h2v1.2h-2zM454.5 435.2h2v1.2h-2zM461.4 438.9h2v1.2h-2zM463 442.6h2v1.2h-2zM473.4 452.8h2v1.2h-2zM410.2 383.7h2v1.2h-2zM414.2 388.2h2v1.2h-2zM417.7 391.1h2v1.2h-2zM419.2 394.7h2v1.2h-2zM425.9 398.6h2v1.2h-2zM430.6 402.7h2v1.2h-2zM430.2 406h2v1.2h-2zM432.6 408.3h2v1.2h-2zM438.2 413.7h2v1.2h-2zM444.7 416.7h2v1.2h-2zM446.1 420h2v1.2h-2zM451 422.6h2v1.2h-2zM453.5 425.9h2v1.2h-2zM455.4 429.8h2v1.2h-2zM463.1 433.5h2v1.2h-2zM466.7 436.7h2v1.2h-2zM468.6 441.4h2v1.2h-2zM472.7 442.8h2v1.2h-2zM412 378.8h2v1.2h-2zM415.5 384.9h2v1.2h-2zM417.8 386.2h2v1.2h-2zM420.8 390.2h2v1.2h-2zM426.5 393h2v1.2h-2zM431.6 397h2v1.2h-2zM436.9 401.7h2v1.2h-2zM436.3 404.1h2v1.2h-2zM440.4 407.2h2v1.2h-2zM444.6 410.4h2v1.2h-2zM448.1 416.5h2v1.2h-2zM452 418.9h2v1.2h-2zM455.7 421.7h2v1.2h-2zM459.3 426.8h2v1.2h-2zM466.9 429.8h2v1.2h-2zM465.2 432.2h2v1.2h-2zM472.9 437.1h2v1.2h-2zM475.6 440h2v1.2h-2zM478.8 442.4h2v1.2h-2zM482.1 446.1h2v1.2h-2zM411.8 375.3h2v1.2h-2zM419.6 378.6h2v1.2h-2zM422.4 382.8h2v1.2h-2zM426.7 385.5h2v1.2h-2zM427.7 389.3h2v1.2h-2zM432.8 394h2v1.2h-2zM437.5 395.8h2v1.2h-2zM439.6 400.3h2v1.2h-2zM444.4 403.7h2v1.2h-2zM445.4 406.1h2v1.2h-2zM449.2 409.7h2v1.2h-2zM454.2 413h2v1.2h-2zM457.4 418.2h2v1.2h-2zM462.3 421.9h2v1.2h-2zM467.1 425.4h2v1.2h-2zM468.5 428.3h2v1.2h-2zM473.8 430.4h2v1.2h-2zM478.4 434h2v1.2h-2zM483.4 439.5h2v1.2h-2zM485.7 441.4h2v1.2h-2zM487 445.9h2v1.2h-2zM493.5 448.3h2v1.2h-2zM420.9 373.4h2v1.2h-2zM424.4 376.7h2v1.2h-2zM427.9 382.6h2v1.2h-2zM433.6 385.8h2v1.2h-2zM437.1 388.9h2v1.2h-2zM438.8 391.2h2v1.2h-2zM441.4 394.8h2v1.2h-2zM447.5 399.3h2v1.2h-2zM447.9 401.7h2v1.2h-2zM456.3 406.4h2v1.2h-2zM457.7 409.6h2v1.2h-2zM462.5 412.7h2v1.2h-2zM464.1 416.2h2v1.2h-2zM466.5 419.1h2v1.2h-2zM472.7 423.2h2v1.2h-2zM475.3 426h2v1.2h-2zM478.3 429.8h2v1.2h-2zM481.4 433.7h2v1.2h-2zM488.3 437.1h2v1.2h-2zM490.9 441.4h2v1.2h-2zM492.4 443.6h2v1.2h-2zM498.6 448h2v1.2h-2zM426.7 373.3h2v1.2h-2zM431.3 377.4h2v1.2h-2zM432.7 380.7h2v1.2h-2zM436.7 383.4h2v1.2h-2zM441 387.7h2v1.2h-2zM447.6 391.7h2v1.2h-2zM448.1 395h2v1.2h-2zM449.5 397.3h2v1.2h-2zM457.1 402.4h2v1.2h-2zM459.1 405.9h2v1.2h-2zM464.7 407.8h2v1.2h-2zM468.9 412.7h2v1.2h-2zM471 416.1h2v1.2h-2zM475.9 419.1h2v1.2h-2zM480.9 423.2h2v1.2h-2zM484.2 425.9h2v1.2h-2zM484 429.2h2v1.2h-2zM488.7 433.4h2v1.2h-2zM493.3 435.3h2v1.2h-2zM498.4 440.4h2v1.2h-2zM500.3 443.6h2v1.2h-2zM503.8 447.8h2v1.2h-2zM431.8 373.9h2v1.2h-2zM437.7 376.1h2v1.2h-2zM440 380.6h2v1.2h-2zM444.6 381.8h2v1.2h-2zM449.3 387.1h2v1.2h-2zM452.2 390.3h2v1.2h-2zM455.6 394.5h2v1.2h-2zM460.1 396.4h2v1.2h-2zM463.3 400.1h2v1.2h-2zM464.2 403.8h2v1.2h-2zM469.2 408.7h2v1.2h-2zM474.4 409.8h2v1.2h-2zM477.3 414.2h2v1.2h-2zM478.8 417.8h2v1.2h-2zM484.2 422.2h2v1.2h-2zM485.6 424.6h2v1.2h-2zM490.6 427.4h2v1.2h-2zM496.6 432.1h2v1.2h-2zM500.2 434.6h2v1.2h-2zM502.5 439.2h2v1.2h-2zM506.3 442.8h2v1.2h-2zM510.1 446.6h2v1.2h-2zM440.5 372h2v1.2h-2zM444.3 374.8h2v1.2h-2zM446.9 379.3h2v1.2h-2zM451 381.9h2v1.2h-2zM452.5 385h2v1.2h-2zM456.4 389.9h2v1.2h-2zM460 393.3h2v1.2h-2zM466 397h2v1.2h-2zM470.6 400.4h2v1.2h-2zM470.6 403.2h2v1.2h-2zM475.7 406h2v1.2h-2zM479.2 409.6h2v1.2h-2zM482.2 412.3h2v1.2h-2zM486.7 416.9h2v1.2h-2zM489.7 420.4h2v1.2h-2zM496.1 424.2h2v1.2h-2zM498.5 427.8h2v1.2h-2zM500.7 430.4h2v1.2h-2zM503.1 434.3h2v1.2h-2zM510.7 438.8h2v1.2h-2zM514.5 441.3h2v1.2h-2zM518.7 444.5h2v1.2h-2zM445.8 370h2v1.2h-2zM450.6 374.9h2v1.2h-2zM450.6 376.8h2v1.2h-2zM456.4 380.9h2v1.2h-2zM457.8 383.4h2v1.2h-2zM462.7 387.8h2v1.2h-2zM467.6 392.3h2v1.2h-2zM471.7 395.4h2v1.2h-2zM476.7 398.7h2v1.2h-2zM478.8 402.5h2v1.2h-2zM482.9 405.7h2v1.2h-2zM486 408.6h2v1.2h-2zM490.3 412.7h2v1.2h-2zM495.6 416.3h2v1.2h-2zM498.9 419.8h2v1.2h-2zM502.2 423h2v1.2h-2zM503.2 426h2v1.2h-2zM509.8 430.7h2v1.2h-2zM511.1 432.6h2v1.2h-2zM516.8 436.7h2v1.2h-2zM518 439.4h2v1.2h-2zM523.6 444.5h2v1.2h-2zM454.4 373.4h2v1.2h-2zM456.4 376.8h2v1.2h-2zM464.3 380.1h2v1.2h-2zM465.8 383.9h2v1.2h-2zM469.2 386.2h2v1.2h-2zM473 391.5h2v1.2h-2zM475 393.1h2v1.2h-2zM482.1 397.3h2v1.2h-2zM483.9 401h2v1.2h-2zM488.3 403.5h2v1.2h-2zM493 408.3h2v1.2h-2zM496.3 410.7h2v1.2h-2zM499.1 414.2h2v1.2h-2zM502.5 417.6h2v1.2h-2zM508.8 422.6h2v1.2h-2zM509.1 424.9h2v1.2h-2zM516.6 429.1h2v1.2h-2zM518.2 431.1h2v1.2h-2zM523.6 435.9h2v1.2h-2zM524.5 439.4h2v1.2h-2zM464.1 374.5h2v1.2h-2zM469.9 378.4h2v1.2h-2zM474.1 382.6h2v1.2h-2zM475.5 385.3h2v1.2h-2zM478.6 388.5h2v1.2h-2zM482.1 393.6h2v1.2h-2zM486.9 397.1h2v1.2h-2zM490 400.6h2v1.2h-2zM494.7 402.8h2v1.2h-2zM496.1 406.9h2v1.2h-2zM500.7 409.5h2v1.2h-2zM503.1 413.1h2v1.2h-2zM510.5 418.2h2v1.2h-2zM510.6 420h2v1.2h-2zM518.2 425h2v1.2h-2zM522.5 427.8h2v1.2h-2zM524.3 432.3h2v1.2h-2zM526.7 435.6h2v1.2h-2zM474 378.8h2v1.2h-2zM478.1 381.6h2v1.2h-2zM481.1 385.6h2v1.2h-2zM485 388.7h2v1.2h-2zM492.1 392.7h2v1.2h-2zM491.8 396.4h2v1.2h-2zM497.7 398.2h2v1.2h-2zM500.1 402.6h2v1.2h-2zM505.6 405.4h2v1.2h-2zM510 409.7h2v1.2h-2zM511.2 414.1h2v1.2h-2zM512.5 415.9h2v1.2h-2zM518.6 418.7h2v1.2h-2zM521.4 422.6h2v1.2h-2zM527.2 427.7h2v1.2h-2zM530.7 429h2v1.2h-2zM535.3 437.2h2v1.2h-2zM485.8 381h2v1.2h-2zM488.3 383.5h2v1.2h-2zM493.3 388.3h2v1.2h-2zM495.3 390.2h2v1.2h-2zM498.4 395.7h2v1.2h-2zM502.8 397.4h2v1.2h-2zM507.1 401.4h2v1.2h-2zM509.3 403.8h2v1.2h-2zM513.2 408.2h2v1.2h-2zM517.4 412.9h2v1.2h-2zM521.5 415.8h2v1.2h-2zM526.6 419.3h2v1.2h-2zM530.4 422.8h2v1.2h-2zM532.8 427.1h2v1.2h-2zM542.4 433.4h2v1.2h-2zM474.9 365.1h2v1.2h-2zM477.3 369.2h2v1.2h-2zM495.8 383.6h2v1.2h-2zM495.9 386.7h2v1.2h-2zM500.6 390.8h2v1.2h-2zM502.4 392.5h2v1.2h-2zM509 397.4h2v1.2h-2zM511 399.6h2v1.2h-2zM518.3 404.3h2v1.2h-2zM521.1 406.6h2v1.2h-2zM522.9 410.3h2v1.2h-2zM527.4 413.9h2v1.2h-2zM531.3 418.6h2v1.2h-2zM537.1 421.2h2v1.2h-2zM551.6 436h2v1.2h-2zM486.1 367.1h2v1.2h-2zM503.4 385.6h2v1.2h-2zM506.5 389.8h2v1.2h-2zM511.5 391.8h2v1.2h-2zM513.9 395.6h2v1.2h-2zM518.7 400h2v1.2h-2zM522.6 402.9h2v1.2h-2zM525.8 407.5h2v1.2h-2zM528.8 409.5h2v1.2h-2zM533.1 414.7h2v1.2h-2zM538.4 417.8h2v1.2h-2zM543.8 420.7h2v1.2h-2zM547.3 424.2h2v1.2h-2zM561.4 438.1h2v1.2h-2zM495.5 370h2v1.2h-2zM501.9 376.5h2v1.2h-2zM515 388.7h2v1.2h-2zM516 391.3h2v1.2h-2zM521 393.6h2v1.2h-2zM523.4 398.7h2v1.2h-2zM526.7 401h2v1.2h-2zM531.7 405.8h2v1.2h-2zM535.2 407.8h2v1.2h-2zM539 413.4h2v1.2h-2zM548.8 422.8h2v1.2h-2zM555.1 425.6h2v1.2h-2zM559.8 430.6h2v1.2h-2zM562.3 433.7h2v1.2h-2zM495.6 362.6h2v1.2h-2zM498.9 364.9h2v1.2h-2zM525.9 390.7h2v1.2h-2zM526.6 392.6h2v1.2h-2zM532.4 396.9h2v1.2h-2zM533 400.5h2v1.2h-2zM538.1 403h2v1.2h-2zM540.2 407.6h2v1.2h-2zM548.1 412.2h2v1.2h-2zM570 431.7h2v1.2h-2z" fill="#4a5a4a" fill-opacity="0.7"/>
<path d="M397.8 404.8h2.6v1.7h-2.6zM412.7 418.8h2.6v1.7h-2.6zM427.6 432.8h2.6v1.7h-2.6zM407.4 386.7h2.6v1.7h-2.6zM422.3 400.7h2.6v1.7h-2.6zM437.2 414.7h2.6v1.7h-2.6zM452.1 428.7h2.6v1.7h-2.6zM467 442.7h2.6v1.7h-2.6zM432 382.6h2.6v1.7h-2.6zM446.9 396.6h2.6v1.7h-2.6zM461.8 410.6h2.6v1.7h-2.6zM476.7 424.6h2.6v1.7h-2.6zM491.6 438.6h2.6v1.7h-2.6zM456.5 378.5h2.6v1.7h-2.6zM471.4 392.5h2.6v1.7h-2.6zM486.3 406.5h2.6v1.7h-2.6zM501.2 420.5h2.6v1.7h-2.6zM516.1 434.5h2.6v1.7h-2.6zM496 388.4h2.6v1.7h-2.6zM510.9 402.4h2.6v1.7h-2.6zM525.8 416.4h2.6v1.7h-2.6zM535.4 398.4h2.6v1.7h-2.6zM550.3 412.4h2.6v1.7h-2.6z" fill="#f4f4ec"/>
<line x1="495" y1="360" x2="576.8" y2="436.2" stroke="#2a3a2a" stroke-width="0.8" stroke-opacity="0.6"/>
<polygon points="376.4,403.6 448.3,473.8 450.8,472.3 378.9,402.1" fill="#2a9e40"/>
<polygon points="364.4,416.4 436.3,486.6 435.1,488.2 361.2,417.2" fill="#2aa040" stroke="#4a6a4a" stroke-width="0.4"/>
<polygon points="376.4,403.6 448.3,473.8 436.3,486.6 364.4,416.4" fill="#30cc62" stroke="#1e7a34" stroke-width="0.5"/>
<path d="M397.9 428.3h1.5v1h-1.5zM422.3 450.2h1.5v1h-1.5zM410.5 445.9h1.5v1h-1.5zM374.5 414.2h1.5v1h-1.5zM373.9 411.8h1.5v1h-1.5zM380.3 409.7h1.5v1h-1.5zM397 444h1.5v1h-1.5zM382.6 415.1h1.5v1h-1.5zM410.1 459.8h1.5v1h-1.5zM413.1 449.2h1.5v1h-1.5zM446 472.7h1.5v1h-1.5zM434.6 467.6h1.5v1h-1.5zM385.4 415.2h1.5v1h-1.5zM388.8 435.7h1.5v1h-1.5zM382.4 423.7h1.5v1h-1.5zM417.9 453.2h1.5v1h-1.5zM415 442.9h1.5v1h-1.5zM378.2 410.4h1.5v1h-1.5zM420.2 456.8h1.5v1h-1.5zM392 433.1h1.5v1h-1.5zM405.4 439.3h1.5v1h-1.5zM425.1 468.3h1.5v1h-1.5zM387.1 428.1h1.5v1h-1.5zM403.7 451.7h1.5v1h-1.5zM425.4 458.5h1.5v1h-1.5zM445.5 473.9h1.5v1h-1.5zM397.4 442.6h1.5v1h-1.5zM381.5 420.5h1.5v1h-1.5zM371.2 414.9h1.5v1h-1.5zM424.5 464.6h1.5v1h-1.5zM435.6 469.1h1.5v1h-1.5zM419.3 460h1.5v1h-1.5zM412.6 450.1h1.5v1h-1.5zM425.5 474.7h1.5v1h-1.5zM402.5 445.4h1.5v1h-1.5zM372.3 416.8h1.5v1h-1.5zM411 461.7h1.5v1h-1.5zM432.1 464.9h1.5v1h-1.5zM396.1 439.2h1.5v1h-1.5zM372.5 411.1h1.5v1h-1.5zM387.1 416.9h1.5v1h-1.5zM371.4 417.6h1.5v1h-1.5zM382.7 415.8h1.5v1h-1.5zM394.1 442.2h1.5v1h-1.5zM376.8 415h1.5v1h-1.5zM405.3 453.5h1.5v1h-1.5zM424.9 472.2h1.5v1h-1.5zM391.4 428.5h1.5v1h-1.5zM391.6 440.1h1.5v1h-1.5zM443.4 472.8h1.5v1h-1.5zM386.3 418.9h1.5v1h-1.5zM387.4 426.2h1.5v1h-1.5zM415.6 448.3h1.5v1h-1.5zM371.7 409.2h1.5v1h-1.5zM396.2 436.8h1.5v1h-1.5zM436.6 479.3h1.5v1h-1.5zM406.1 447.7h1.5v1h-1.5zM424.4 451.8h1.5v1h-1.5zM431.7 476.7h1.5v1h-1.5zM429.7 475.2h1.5v1h-1.5zM399.8 436.3h1.5v1h-1.5zM376.2 419h1.5v1h-1.5zM380.1 408.8h1.5v1h-1.5zM389.5 420.3h1.5v1h-1.5zM400.2 428.1h1.5v1h-1.5zM374.6 405.6h1.5v1h-1.5zM379.3 415.4h1.5v1h-1.5zM367.7 416.6h1.5v1h-1.5zM418.8 448.6h1.5v1h-1.5zM390.4 425.8h1.5v1h-1.5zM401.1 430.7h1.5v1h-1.5zM425.5 475.9h1.5v1h-1.5zM404.1 442.5h1.5v1h-1.5zM381.3 410.9h1.5v1h-1.5zM397.9 431h1.5v1h-1.5zM434.1 463.9h1.5v1h-1.5zM366.6 417.4h1.5v1h-1.5zM412.6 442.6h1.5v1h-1.5zM415.1 442.1h1.5v1h-1.5zM402.6 453.2h1.5v1h-1.5zM430.1 473.1h1.5v1h-1.5zM390.8 426.6h1.5v1h-1.5zM379.1 425.2h1.5v1h-1.5zM405.3 451h1.5v1h-1.5zM397.4 429.6h1.5v1h-1.5zM422.9 473.2h1.5v1h-1.5zM428 473.8h1.5v1h-1.5zM426.4 470.5h1.5v1h-1.5zM386.5 426.1h1.5v1h-1.5zM401.6 428.9h1.5v1h-1.5z" fill="#5a7a5a" fill-opacity="0.8"/>
<polygon points="361.5,445.5 433.5,514.5 432.3,516.1 358.3,446.3" fill="#2aa040" stroke="#4a6a4a" stroke-width="0.4"/>
<polygon points="373.8,433 445.8,502 433.5,514.5 361.5,445.5" fill="#30cc62" stroke="#1e7a34" stroke-width="0.5"/>
<path d="M378.3 460.7h1.5v1h-1.5zM374.2 450.5h1.5v1h-1.5zM376.9 442h1.5v1h-1.5zM443.2 504.6h1.5v1h-1.5zM414.4 483h1.5v1h-1.5zM400.3 470.5h1.5v1h-1.5zM377.4 456.6h1.5v1h-1.5zM377.4 442.1h1.5v1h-1.5zM372 437.7h1.5v1h-1.5zM392.1 472.4h1.5v1h-1.5zM399.7 460.6h1.5v1h-1.5zM380.2 463.2h1.5v1h-1.5zM370.7 445.1h1.5v1h-1.5zM392.8 467.3h1.5v1h-1.5zM389.7 465h1.5v1h-1.5zM401.6 475.5h1.5v1h-1.5zM431.5 502.5h1.5v1h-1.5zM383.2 443.6h1.5v1h-1.5zM435.9 504.4h1.5v1h-1.5zM376.1 458.2h1.5v1h-1.5zM406.5 482.1h1.5v1h-1.5zM433.7 497.4h1.5v1h-1.5zM388.7 468.6h1.5v1h-1.5zM374.1 451.9h1.5v1h-1.5zM372.3 448.4h1.5v1h-1.5zM412.7 493.3h1.5v1h-1.5zM428.3 497.5h1.5v1h-1.5zM386.2 448.5h1.5v1h-1.5zM405.6 475.9h1.5v1h-1.5zM367.8 449.2h1.5v1h-1.5zM401.7 476.8h1.5v1h-1.5zM386.6 451.2h1.5v1h-1.5zM370.4 438.1h1.5v1h-1.5zM387.8 456.7h1.5v1h-1.5zM390.7 469.4h1.5v1h-1.5zM435.8 496.7h1.5v1h-1.5zM400.3 462.4h1.5v1h-1.5zM409.6 490.9h1.5v1h-1.5zM378.9 456.5h1.5v1h-1.5zM395.2 453.9h1.5v1h-1.5zM424.6 490h1.5v1h-1.5zM380.7 450.2h1.5v1h-1.5zM385.4 454.1h1.5v1h-1.5zM400.8 469h1.5v1h-1.5zM412.6 477.2h1.5v1h-1.5zM379.6 440.6h1.5v1h-1.5zM375.1 446.9h1.5v1h-1.5zM389.8 467.9h1.5v1h-1.5zM401.4 476.7h1.5v1h-1.5zM443.6 501.4h1.5v1h-1.5zM373.3 435.9h1.5v1h-1.5zM394.6 466.8h1.5v1h-1.5zM423 488.7h1.5v1h-1.5zM443.2 499.6h1.5v1h-1.5zM431.4 493.3h1.5v1h-1.5zM436.4 493.8h1.5v1h-1.5zM434 509.1h1.5v1h-1.5zM438 508.6h1.5v1h-1.5zM374.7 457.4h1.5v1h-1.5zM404.6 464.5h1.5v1h-1.5zM411.3 481h1.5v1h-1.5zM406 467.6h1.5v1h-1.5zM375.4 448.7h1.5v1h-1.5zM404.8 465.8h1.5v1h-1.5zM396.5 472.4h1.5v1h-1.5zM419.5 488.3h1.5v1h-1.5zM397.7 464.7h1.5v1h-1.5zM387.6 451h1.5v1h-1.5zM404.6 465.1h1.5v1h-1.5zM417.3 491.9h1.5v1h-1.5zM417.6 475.5h1.5v1h-1.5zM394.7 463.5h1.5v1h-1.5zM368.6 451.5h1.5v1h-1.5zM422 491.4h1.5v1h-1.5zM422.1 484.2h1.5v1h-1.5zM383.9 455.4h1.5v1h-1.5zM419.4 492.4h1.5v1h-1.5zM366.7 441.1h1.5v1h-1.5zM430.1 505h1.5v1h-1.5zM428.5 509.3h1.5v1h-1.5zM386.3 452.1h1.5v1h-1.5zM401.2 483h1.5v1h-1.5zM388.8 470.2h1.5v1h-1.5zM428.7 498.1h1.5v1h-1.5zM407 488.1h1.5v1h-1.5zM426.6 490.7h1.5v1h-1.5zM432.3 493.8h1.5v1h-1.5zM388.6 470.5h1.5v1h-1.5zM431 495.3h1.5v1h-1.5zM387.2 460.7h1.5v1h-1.5z" fill="#5a7a5a" fill-opacity="0.8"/>
<polygon points="485.3,408 502.7,403.3 515.2,415.3 497.3,420.7" fill="none" stroke="#d03020" stroke-width="1.0"/>
<line x1="486" y1="410" x2="470.5" y2="502" stroke="#222" stroke-width="0.6" stroke-dasharray="1.5,1.2"/>
<line x1="515" y1="415" x2="572" y2="502" stroke="#222" stroke-width="0.6" stroke-dasharray="1.5,1.2"/>
<polygon points="409.9,480 416,474.7 420.5,480 416,485.3" fill="none" stroke="#2070c0" stroke-width="0.8"/>
<line x1="410" y1="481.3" x2="366.7" y2="504.8" stroke="#222" stroke-width="0.5" stroke-dasharray="1.3,1"/>
<line x1="416" y1="485.3" x2="414" y2="504.8" stroke="#222" stroke-width="0.5" stroke-dasharray="1.3,1"/>
<line x1="403.3" y1="417.5" x2="416" y2="397" stroke="#000" stroke-width="0.8"/>
<polygon points="417.5,394.5 413.8,398 417.5,399" fill="#000"/>
<line x1="403.3" y1="417.5" x2="426" y2="428.5" stroke="#000" stroke-width="0.8"/>
<polygon points="428.5,429.5 424,426.5 424.5,430.5" fill="#000"/>
<text x="409" y="399" font-size="8" fill="#111" text-anchor="middle" font-family="Liberation Serif" font-style="italic" >v̄</text>
<text x="430.8" y="439" font-size="8" fill="#111" text-anchor="middle" font-family="Liberation Serif" font-style="italic" >ū</text>
<filter id="shd" x="-20%" y="-20%" width="150%" height="150%"><feGaussianBlur stdDeviation="1.6"/></filter>
<rect x="368" y="507" width="48" height="45" fill="#333" filter="url(#shd)" fill-opacity="0.7"/>
<rect x="366.3" y="504.5" width="47.7" height="44.5" fill="#3aaa4c" stroke="#2a6ab0" stroke-width="1.2"/>
<path d="M371,509 C373,520 372,532 378,540" fill="none" stroke="#2a8a3a" stroke-width="1.5"/>
<path d="M404,510 C400,525 402,540 410,546" fill="none" stroke="#2a8a3a" stroke-width="1.5"/>
<polygon points="379.5,509.5 388.5,517.5 397,509.5 397,532.5 388.5,540 379.5,532.5" fill="none" stroke="#d09018" stroke-width="1.3"/>
<rect x="389" y="517.5" width="7" height="8.5" fill="#333"/>
<line x1="387.5" y1="518.5" x2="397.5" y2="518.5" stroke="#888" stroke-width="0.5"/>
<line x1="387.5" y1="521" x2="397.5" y2="521" stroke="#888" stroke-width="0.5"/>
<line x1="387.5" y1="523.5" x2="397.5" y2="523.5" stroke="#888" stroke-width="0.5"/>
<rect x="372" y="516" width="3" height="2" fill="#ddd"/>
<rect x="372" y="546" width="3" height="2" fill="#ddd"/>
<rect x="378" y="546" width="3" height="2" fill="#ddd"/>
<rect x="385" y="546" width="3" height="2" fill="#ddd"/>
<rect x="405" y="520" width="3" height="2" fill="#ddd"/>
<rect x="404" y="530" width="3" height="2" fill="#ddd"/>
<rect x="396" y="537" width="17" height="11" fill="#8a6a18"/>
<text x="404.5" y="546" font-size="8.5" fill="#fff" text-anchor="middle" font-family="Liberation Sans" font-weight="bold" >±<tspan font-style="italic">R</tspan><tspan font-size="5" dy="1.5" font-style="italic">z</tspan></text>
<line x1="438" y1="539.3" x2="438" y2="530.5" stroke="#000" stroke-width="1.0"/>
<polygon points="436.3,531 439.7,531 438,528.3" fill="#000"/>
<line x1="438" y1="539.3" x2="447.5" y2="539.3" stroke="#000" stroke-width="1.0"/>
<polygon points="447,537.6 447,541 449.8,539.3" fill="#000"/>
<line x1="438" y1="539.3" x2="432.5" y2="534" stroke="#000" stroke-width="1.0"/>
<polygon points="431,532.5 434.5,533 432,535.8" fill="#000"/>
<text x="443.5" y="530" font-size="8.5" fill="#111" text-anchor="middle" font-family="Liberation Sans" font-style="italic" >z</text>
<text x="427" y="533" font-size="8.5" fill="#111" text-anchor="middle" font-family="Liberation Sans" font-style="italic" >y</text>
<linearGradient id="gshd" x1="0" y1="0" x2="0" y2="1"><stop offset="0" stop-color="#202020"/><stop offset="1" stop-color="#505050"/></linearGradient>
<polygon points="466,575 583,575 580,582.5 470,582.5" fill="url(#gshd)"/>
<linearGradient id="gshr" x1="0" x2="1"><stop offset="0" stop-color="#505050"/><stop offset="1" stop-color="#d8e2ec"/></linearGradient>
<rect x="572.5" y="503" width="10" height="71.5" fill="url(#gshr)"/>
<rect x="468" y="571" width="114.5" height="3.8" fill="#b8bcc0"/>
<rect x="470" y="502" width="102.5" height="69.7" fill="#30aa46" stroke="#d02a20" stroke-width="1.3"/>
<path d="M475,508 C490,520 495,540 478,560" fill="none" stroke="#238a34" stroke-width="1.5"/>
<path d="M540,505 C535,530 560,540 568,560" fill="none" stroke="#238a34" stroke-width="1.5"/>
<path d="M500,530 L560,530" fill="none" stroke="#238a34" stroke-width="1.5"/>
<path d="M520,545 C530,555 545,560 565,566" fill="none" stroke="#238a34" stroke-width="1.5"/>
<rect x="482" y="504.5" width="20" height="10" fill="#f0e4c8"/>
<rect x="506.7" y="504.5" width="16" height="6.5" fill="#222"/>
<rect x="525" y="505" width="8" height="4" fill="none" stroke="#ddd" stroke-width="0.7"/>
<rect x="551" y="506" width="4" height="4" fill="#222"/>
<rect x="564" y="504.5" width="7" height="7" fill="#333"/>
<text x="532" y="518.5" font-size="11" fill="#e8f4e8" text-anchor="middle" font-family="Liberation Serif" font-weight="" >2<tspan font-style="italic">R</tspan><tspan font-size="6" dy="1.5" font-style="italic">x</tspan></text>
<polygon points="491,522 515,522 521,527.5 515,533 491,533 497,527.5" fill="#1e8a38" stroke="#1a28d8" stroke-width="1.4"/>
<rect x="502" y="524" width="8" height="7" fill="#222"/>
<polygon points="555.5,526.5 531.5,526.5 525.5,532 531.5,537.5 555.5,537.5 549.5,532" fill="#1e8a38" stroke="#1a28d8" stroke-width="1.4"/>
<rect x="536.5" y="528.5" width="8" height="7" fill="#222"/>
<polygon points="537.4,555.5 513.4,555.5 507.4,561 513.4,566.5 537.4,566.5 531.4,561" fill="#1e8a38" stroke="#1a28d8" stroke-width="1.4"/>
<rect x="518.4" y="557.5" width="8" height="7" fill="#222"/>
<rect x="473" y="525" width="18.5" height="10.5" fill="#1010e0"/>
<text x="482.5" y="533" font-size="8.5" fill="#fff" text-anchor="middle" font-family="Liberation Sans" font-weight="bold" >∓<tspan font-style="italic">R</tspan><tspan font-size="5" dy="1.5" font-style="italic">x</tspan></text>
<rect x="513" y="540" width="15" height="12" fill="#f09018"/>
<text x="520.5" y="549.5" font-size="9" fill="#fff" text-anchor="middle" font-family="Liberation Sans" font-weight="bold" ><tspan font-style="italic">R</tspan><tspan font-size="5" dy="1.5" font-style="italic">x</tspan></text>
<rect x="503" y="546" width="7" height="4" fill="none" stroke="#f09018" stroke-width="1"/>
<circle cx="493.5" cy="552" r="5.5" fill="#bfe0b0" stroke="#e8f0e0" stroke-width="1"/>
<line x1="490.5" y1="549" x2="496.5" y2="555" stroke="#333" stroke-width="0.8"/>
<line x1="490.5" y1="555" x2="496.5" y2="549" stroke="#333" stroke-width="0.8"/>
<circle cx="548.5" cy="549" r="5.5" fill="#bfe0b0" stroke="#e8f0e0" stroke-width="1"/>
<line x1="545.5" y1="546" x2="551.5" y2="552" stroke="#333" stroke-width="0.8"/>
<line x1="545.5" y1="552" x2="551.5" y2="546" stroke="#333" stroke-width="0.8"/>
<linearGradient id="garr" x1="0" y1="1" x2="0" y2="0" gradientUnits="objectBoundingBox"><stop offset="0" stop-color="#f8f000"/><stop offset="1" stop-color="#2a4a7a"/></linearGradient>
<rect x="22.1" y="592" width="121.8" height="106.8" fill="#fff"/>
<line x1="22" y1="615" x2="89" y2="593" stroke="#e2e2e2" stroke-width="0.7"/>
<line x1="89" y1="593" x2="144" y2="619" stroke="#e2e2e2" stroke-width="0.7"/>
<line x1="22" y1="641" x2="89" y2="619" stroke="#e2e2e2" stroke-width="0.7"/>
<line x1="89" y1="619" x2="144" y2="646" stroke="#e2e2e2" stroke-width="0.7"/>
<line x1="22" y1="670" x2="89" y2="646" stroke="#e2e2e2" stroke-width="0.7"/>
<line x1="89" y1="646" x2="144" y2="673" stroke="#e2e2e2" stroke-width="0.7"/>
<line x1="22" y1="670" x2="75" y2="697" stroke="#e2e2e2" stroke-width="0.7"/>
<line x1="75" y1="697" x2="144" y2="673" stroke="#e2e2e2" stroke-width="0.7"/>
<line x1="48" y1="683" x2="110" y2="658" stroke="#e2e2e2" stroke-width="0.7"/>
<line x1="105" y1="686" x2="75" y2="660" stroke="#e2e2e2" stroke-width="0.7"/>
<line x1="65" y1="604" x2="65" y2="662" stroke="#e2e2e2" stroke-width="0.6"/>
<line x1="110" y1="603" x2="110" y2="660" stroke="#e2e2e2" stroke-width="0.6"/>
<line x1="22" y1="615" x2="22" y2="670" stroke="#e2e2e2" stroke-width="0.7"/>
<circle cx="63.8" cy="606.6" r="2.4" fill="#3a1fb0"/>
<circle cx="78.7" cy="607.4" r="2.4" fill="#3a1fb0"/>
<circle cx="93.5" cy="608.2" r="2.4" fill="#3a1fb0"/>
<circle cx="108.4" cy="608.9" r="2.4" fill="#3a1fb0"/>
<circle cx="61.7" cy="612.6" r="2.4" fill="#3a1fb0"/>
<circle cx="76.6" cy="613.4" r="2.4" fill="#3a1fb0"/>
<circle cx="91.5" cy="614.1" r="2.4" fill="#3a1fb0"/>
<circle cx="106.3" cy="614.9" r="2.4" fill="#3a1fb0"/>
<circle cx="59.6" cy="618.5" r="2.4" fill="#3a1fb0"/>
<circle cx="74.5" cy="619.3" r="2.4" fill="#3a1fb0"/>
<circle cx="89.4" cy="620.1" r="2.4" fill="#3a1fb0"/>
<circle cx="104.3" cy="620.8" r="2.4" fill="#3a1fb0"/>
<circle cx="57.6" cy="624.5" r="2.4" fill="#3a1fb0"/>
<circle cx="72.4" cy="625.3" r="2.4" fill="#3a1fb0"/>
<circle cx="87.3" cy="626" r="2.4" fill="#3a1fb0"/>
<circle cx="102.2" cy="626.8" r="2.4" fill="#3a1fb0"/>
<circle cx="70.4" cy="609.9" r="2.4" fill="#3a1fb0"/>
<circle cx="85.3" cy="610.7" r="2.4" fill="#3a1fb0"/>
<circle cx="100.2" cy="611.4" r="2.4" fill="#3a1fb0"/>
<circle cx="68.4" cy="615.9" r="2.4" fill="#3a1fb0"/>
<circle cx="83.2" cy="616.6" r="2.4" fill="#3a1fb0"/>
<circle cx="98.1" cy="617.4" r="2.4" fill="#3a1fb0"/>
<circle cx="66.3" cy="621.8" r="2.4" fill="#3a1fb0"/>
<circle cx="81.2" cy="622.6" r="2.4" fill="#3a1fb0"/>
<circle cx="96" cy="623.3" r="2.4" fill="#3a1fb0"/>
<circle cx="63.8" cy="635.5" r="2.4" fill="#3a1fb0"/>
<circle cx="78.7" cy="636.3" r="2.4" fill="#3a1fb0"/>
<circle cx="93.5" cy="637.1" r="2.4" fill="#3a1fb0"/>
<circle cx="108.4" cy="637.8" r="2.4" fill="#3a1fb0"/>
<circle cx="61.7" cy="641.5" r="2.4" fill="#3a1fb0"/>
<circle cx="76.6" cy="642.3" r="2.4" fill="#3a1fb0"/>
<circle cx="91.5" cy="643" r="2.4" fill="#3a1fb0"/>
<circle cx="106.3" cy="643.8" r="2.4" fill="#3a1fb0"/>
<circle cx="59.6" cy="647.4" r="2.4" fill="#3a1fb0"/>
<circle cx="74.5" cy="648.2" r="2.4" fill="#3a1fb0"/>
<circle cx="89.4" cy="649" r="2.4" fill="#3a1fb0"/>
<circle cx="104.3" cy="649.7" r="2.4" fill="#3a1fb0"/>
<circle cx="57.6" cy="653.4" r="2.4" fill="#3a1fb0"/>
<circle cx="72.4" cy="654.2" r="2.4" fill="#3a1fb0"/>
<circle cx="87.3" cy="654.9" r="2.4" fill="#3a1fb0"/>
<circle cx="102.2" cy="655.7" r="2.4" fill="#4a50f0"/>
<circle cx="70.4" cy="638.8" r="2.4" fill="#3a1fb0"/>
<circle cx="85.3" cy="639.6" r="2.4" fill="#3a1fb0"/>
<circle cx="100.2" cy="640.3" r="2.4" fill="#3a1fb0"/>
<circle cx="68.4" cy="644.8" r="2.4" fill="#3a1fb0"/>
<circle cx="83.2" cy="645.5" r="2.4" fill="#3a1fb0"/>
<circle cx="98.1" cy="646.3" r="2.4" fill="#3a1fb0"/>
<circle cx="66.3" cy="650.7" r="2.4" fill="#3a1fb0"/>
<circle cx="81.2" cy="651.5" r="2.4" fill="#3a1fb0"/>
<circle cx="96" cy="652.2" r="2.4" fill="#3a1fb0"/>
<circle cx="63.8" cy="664.4" r="2.4" fill="#3a1fb0"/>
<circle cx="78.7" cy="665.2" r="2.4" fill="#3a1fb0"/>
<circle cx="93.5" cy="666" r="2.4" fill="#3a1fb0"/>
<circle cx="108.4" cy="666.7" r="2.4" fill="#3a1fb0"/>
<circle cx="61.7" cy="670.4" r="2.4" fill="#3a1fb0"/>
<circle cx="76.6" cy="671.2" r="2.4" fill="#3a1fb0"/>
<circle cx="91.5" cy="671.9" r="2.4" fill="#3a1fb0"/>
<circle cx="106.3" cy="672.7" r="2.4" fill="#3a1fb0"/>
<circle cx="59.6" cy="676.3" r="2.4" fill="#3a1fb0"/>
<circle cx="74.5" cy="677.1" r="2.4" fill="#3a1fb0"/>
<circle cx="89.4" cy="677.9" r="2.4" fill="#3a1fb0"/>
<circle cx="104.3" cy="678.6" r="2.4" fill="#3a1fb0"/>
<circle cx="57.6" cy="682.3" r="2.4" fill="#3a1fb0"/>
<circle cx="72.4" cy="683.1" r="2.4" fill="#3a1fb0"/>
<circle cx="87.3" cy="683.8" r="2.4" fill="#3a1fb0"/>
<circle cx="102.2" cy="684.6" r="2.4" fill="#f8e818"/>
<circle cx="70.4" cy="667.7" r="2.4" fill="#3a1fb0"/>
<circle cx="85.3" cy="668.5" r="2.4" fill="#3a1fb0"/>
<circle cx="100.2" cy="669.2" r="2.4" fill="#3a1fb0"/>
<circle cx="68.4" cy="673.7" r="2.4" fill="#3a1fb0"/>
<circle cx="83.2" cy="674.4" r="2.4" fill="#3a1fb0"/>
<circle cx="98.1" cy="675.2" r="2.4" fill="#3a1fb0"/>
<circle cx="66.3" cy="679.6" r="2.4" fill="#3a1fb0"/>
<circle cx="81.2" cy="680.4" r="2.4" fill="#3a1fb0"/>
<circle cx="96" cy="681.1" r="2.4" fill="#3a1fb0"/>
<text x="40" y="697" font-size="7" fill="#222" text-anchor="middle" font-family="Liberation Serif" font-style="italic" >k</text>
<text x="119" y="697" font-size="7" fill="#222" text-anchor="middle" font-family="Liberation Serif" font-style="italic" >x</text>
<text x="21" y="679" font-size="8" fill="#000" text-anchor="middle" font-family="Liberation Serif" >3</text>
<text x="145" y="679" font-size="8" fill="#000" text-anchor="middle" font-family="Liberation Serif" >3</text>
<rect x="171.1" y="592" width="121.8" height="106.8" fill="#fff"/>
<line x1="171" y1="615" x2="238" y2="593" stroke="#e2e2e2" stroke-width="0.7"/>
<line x1="238" y1="593" x2="293" y2="619" stroke="#e2e2e2" stroke-width="0.7"/>
<line x1="171" y1="641" x2="238" y2="619" stroke="#e2e2e2" stroke-width="0.7"/>
<line x1="238" y1="619" x2="293" y2="646" stroke="#e2e2e2" stroke-width="0.7"/>
<line x1="171" y1="670" x2="238" y2="646" stroke="#e2e2e2" stroke-width="0.7"/>
<line x1="238" y1="646" x2="293" y2="673" stroke="#e2e2e2" stroke-width="0.7"/>
<line x1="171" y1="670" x2="224" y2="697" stroke="#e2e2e2" stroke-width="0.7"/>
<line x1="224" y1="697" x2="293" y2="673" stroke="#e2e2e2" stroke-width="0.7"/>
<line x1="197" y1="683" x2="259" y2="658" stroke="#e2e2e2" stroke-width="0.7"/>
<line x1="254" y1="686" x2="224" y2="660" stroke="#e2e2e2" stroke-width="0.7"/>
<line x1="214" y1="604" x2="214" y2="662" stroke="#e2e2e2" stroke-width="0.6"/>
<line x1="259" y1="603" x2="259" y2="660" stroke="#e2e2e2" stroke-width="0.6"/>
<line x1="171" y1="615" x2="171" y2="670" stroke="#e2e2e2" stroke-width="0.7"/>
<circle cx="212.8" cy="606.6" r="2.4" fill="#3a1fb0"/>
<circle cx="227.7" cy="607.4" r="2.4" fill="#3a1fb0"/>
<circle cx="242.5" cy="608.2" r="2.4" fill="#3a1fb0"/>
<circle cx="257.4" cy="608.9" r="2.4" fill="#3a1fb0"/>
<circle cx="210.7" cy="612.6" r="2.4" fill="#3a1fb0"/>
<circle cx="225.6" cy="613.4" r="2.4" fill="#3a1fb0"/>
<circle cx="240.5" cy="614.1" r="2.4" fill="#3a1fb0"/>
<circle cx="255.3" cy="614.9" r="2.4" fill="#4a50f0"/>
<circle cx="208.6" cy="618.5" r="2.4" fill="#3a1fb0"/>
<circle cx="223.5" cy="619.3" r="2.4" fill="#3a1fb0"/>
<circle cx="238.4" cy="620.1" r="2.4" fill="#3a1fb0"/>
<circle cx="253.3" cy="620.8" r="2.4" fill="#30b8a8"/>
<circle cx="206.6" cy="624.5" r="2.4" fill="#3a1fb0"/>
<circle cx="221.4" cy="625.3" r="2.4" fill="#3a1fb0"/>
<circle cx="236.3" cy="626" r="2.4" fill="#4a50f0"/>
<circle cx="251.2" cy="626.8" r="2.4" fill="#f8e818"/>
<circle cx="219.4" cy="609.9" r="2.4" fill="#3a1fb0"/>
<circle cx="234.3" cy="610.7" r="2.4" fill="#3a1fb0"/>
<circle cx="249.2" cy="611.4" r="2.4" fill="#3a1fb0"/>
<circle cx="217.4" cy="615.9" r="2.4" fill="#3a1fb0"/>
<circle cx="232.2" cy="616.6" r="2.4" fill="#3a1fb0"/>
<circle cx="247.1" cy="617.4" r="2.4" fill="#4a50f0"/>
<circle cx="215.3" cy="621.8" r="2.4" fill="#3a1fb0"/>
<circle cx="230.2" cy="622.6" r="2.4" fill="#3a1fb0"/>
<circle cx="245" cy="623.3" r="2.4" fill="#3a1fb0"/>
<circle cx="212.8" cy="635.5" r="2.4" fill="#3a1fb0"/>
<circle cx="227.7" cy="636.3" r="2.4" fill="#3a1fb0"/>
<circle cx="242.5" cy="637.1" r="2.4" fill="#3a1fb0"/>
<circle cx="257.4" cy="637.8" r="2.4" fill="#3a1fb0"/>
<circle cx="210.7" cy="641.5" r="2.4" fill="#3a1fb0"/>
<circle cx="225.6" cy="642.3" r="2.4" fill="#3a1fb0"/>
<circle cx="240.5" cy="643" r="2.4" fill="#3a1fb0"/>
<circle cx="255.3" cy="643.8" r="2.4" fill="#4a50f0"/>
<circle cx="208.6" cy="647.4" r="2.4" fill="#3a1fb0"/>
<circle cx="223.5" cy="648.2" r="2.4" fill="#3a1fb0"/>
<circle cx="238.4" cy="649" r="2.4" fill="#4a50f0"/>
<circle cx="253.3" cy="649.7" r="2.4" fill="#f8e818"/>
<circle cx="206.6" cy="653.4" r="2.4" fill="#3a1fb0"/>
<circle cx="221.4" cy="654.2" r="2.4" fill="#3a1fb0"/>
<circle cx="236.3" cy="654.9" r="2.4" fill="#30a8e0"/>
<circle cx="251.2" cy="655.7" r="2.4" fill="#30b8a8"/>
<circle cx="219.4" cy="638.8" r="2.4" fill="#3a1fb0"/>
<circle cx="234.3" cy="639.6" r="2.4" fill="#3a1fb0"/>
<circle cx="249.2" cy="640.3" r="2.4" fill="#3a1fb0"/>
<circle cx="217.4" cy="644.8" r="2.4" fill="#3a1fb0"/>
<circle cx="232.2" cy="645.5" r="2.4" fill="#3a1fb0"/>
<circle cx="247.1" cy="646.3" r="2.4" fill="#30a8e0"/>
<circle cx="215.3" cy="650.7" r="2.4" fill="#3a1fb0"/>
<circle cx="230.2" cy="651.5" r="2.4" fill="#4a50f0"/>
<circle cx="245" cy="652.2" r="2.4" fill="#f8e818"/>
<circle cx="212.8" cy="664.4" r="2.4" fill="#3a1fb0"/>
<circle cx="227.7" cy="665.2" r="2.4" fill="#3a1fb0"/>
<circle cx="242.5" cy="666" r="2.4" fill="#3a1fb0"/>
<circle cx="257.4" cy="666.7" r="2.4" fill="#3a1fb0"/>
<circle cx="210.7" cy="670.4" r="2.4" fill="#3a1fb0"/>
<circle cx="225.6" cy="671.2" r="2.4" fill="#3a1fb0"/>
<circle cx="240.5" cy="671.9" r="2.4" fill="#3a1fb0"/>
<circle cx="255.3" cy="672.7" r="2.4" fill="#4a50f0"/>
<circle cx="208.6" cy="676.3" r="2.4" fill="#3a1fb0"/>
<circle cx="223.5" cy="677.1" r="2.4" fill="#3a1fb0"/>
<circle cx="238.4" cy="677.9" r="2.4" fill="#f0a030"/>
<circle cx="253.3" cy="678.6" r="2.4" fill="#30a8e0"/>
<circle cx="206.6" cy="682.3" r="2.4" fill="#3a1fb0"/>
<circle cx="221.4" cy="683.1" r="2.4" fill="#3a1fb0"/>
<circle cx="236.3" cy="683.8" r="2.4" fill="#b8b028"/>
<circle cx="251.2" cy="684.6" r="2.4" fill="#30b8a8"/>
<circle cx="219.4" cy="667.7" r="2.4" fill="#3a1fb0"/>
<circle cx="234.3" cy="668.5" r="2.4" fill="#3a1fb0"/>
<circle cx="249.2" cy="669.2" r="2.4" fill="#3a1fb0"/>
<circle cx="217.4" cy="673.7" r="2.4" fill="#3a1fb0"/>
<circle cx="232.2" cy="674.4" r="2.4" fill="#4a50f0"/>
<circle cx="247.1" cy="675.2" r="2.4" fill="#4a50f0"/>
<circle cx="215.3" cy="679.6" r="2.4" fill="#3a1fb0"/>
<circle cx="230.2" cy="680.4" r="2.4" fill="#4a50f0"/>
<circle cx="245" cy="681.1" r="2.4" fill="#3a1fb0"/>
<linearGradient id="ga149_0" gradientUnits="userSpaceOnUse" x1="265.3" y1="658" x2="265.3" y2="643"><stop offset="0" stop-color="#f8f000"/><stop offset="0.45" stop-color="#e8e010"/><stop offset="1" stop-color="#2a5a7a"/></linearGradient>
<line x1="265.3" y1="658" x2="265.3" y2="643" stroke="url(#ga149_0)" stroke-width="2.4"/>
<polygon points="265.3,640.5 267.3,644.5 263.3,644.5" fill="#2a4a7a"/>
<text x="189" y="697" font-size="7" fill="#222" text-anchor="middle" font-family="Liberation Serif" font-style="italic" >k</text>
<text x="268" y="697" font-size="7" fill="#222" text-anchor="middle" font-family="Liberation Serif" font-style="italic" >x</text>
<text x="170" y="679" font-size="8" fill="#000" text-anchor="middle" font-family="Liberation Serif" >3</text>
<text x="294" y="679" font-size="8" fill="#000" text-anchor="middle" font-family="Liberation Serif" >3</text>
<rect x="320.4" y="592" width="121.8" height="106.8" fill="#fff"/>
<line x1="320.2" y1="615" x2="387.2" y2="593" stroke="#e2e2e2" stroke-width="0.7"/>
<line x1="387.2" y1="593" x2="442.2" y2="619" stroke="#e2e2e2" stroke-width="0.7"/>
<line x1="320.2" y1="641" x2="387.2" y2="619" stroke="#e2e2e2" stroke-width="0.7"/>
<line x1="387.2" y1="619" x2="442.2" y2="646" stroke="#e2e2e2" stroke-width="0.7"/>
<line x1="320.2" y1="670" x2="387.2" y2="646" stroke="#e2e2e2" stroke-width="0.7"/>
<line x1="387.2" y1="646" x2="442.2" y2="673" stroke="#e2e2e2" stroke-width="0.7"/>
<line x1="320.2" y1="670" x2="373.2" y2="697" stroke="#e2e2e2" stroke-width="0.7"/>
<line x1="373.2" y1="697" x2="442.2" y2="673" stroke="#e2e2e2" stroke-width="0.7"/>
<line x1="346.2" y1="683" x2="408.2" y2="658" stroke="#e2e2e2" stroke-width="0.7"/>
<line x1="403.2" y1="686" x2="373.2" y2="660" stroke="#e2e2e2" stroke-width="0.7"/>
<line x1="363.2" y1="604" x2="363.2" y2="662" stroke="#e2e2e2" stroke-width="0.6"/>
<line x1="408.2" y1="603" x2="408.2" y2="660" stroke="#e2e2e2" stroke-width="0.6"/>
<line x1="320.2" y1="615" x2="320.2" y2="670" stroke="#e2e2e2" stroke-width="0.7"/>
<circle cx="362" cy="606.6" r="2.4" fill="#3a1fb0"/>
<circle cx="376.9" cy="607.4" r="2.4" fill="#3a1fb0"/>
<circle cx="391.8" cy="608.2" r="2.4" fill="#3a1fb0"/>
<circle cx="406.7" cy="608.9" r="2.4" fill="#4a50f0"/>
<circle cx="359.9" cy="612.6" r="2.4" fill="#3a1fb0"/>
<circle cx="374.8" cy="613.4" r="2.4" fill="#3a1fb0"/>
<circle cx="389.7" cy="614.1" r="2.4" fill="#4a50f0"/>
<circle cx="404.6" cy="614.9" r="2.4" fill="#b8b028"/>
<circle cx="357.9" cy="618.5" r="2.4" fill="#3a1fb0"/>
<circle cx="372.8" cy="619.3" r="2.4" fill="#3a1fb0"/>
<circle cx="387.6" cy="620.1" r="2.4" fill="#30b8a8"/>
<circle cx="402.5" cy="620.8" r="2.4" fill="#f8e818"/>
<circle cx="355.8" cy="624.5" r="2.4" fill="#3a1fb0"/>
<circle cx="370.7" cy="625.3" r="2.4" fill="#3a1fb0"/>
<circle cx="385.6" cy="626" r="2.4" fill="#30b8a8"/>
<circle cx="400.4" cy="626.8" r="2.4" fill="#80c050"/>
<circle cx="368.7" cy="609.9" r="2.4" fill="#3a1fb0"/>
<circle cx="383.6" cy="610.7" r="2.4" fill="#3a1fb0"/>
<circle cx="398.4" cy="611.4" r="2.4" fill="#4a50f0"/>
<circle cx="366.6" cy="615.9" r="2.4" fill="#3a1fb0"/>
<circle cx="381.5" cy="616.6" r="2.4" fill="#3a1fb0"/>
<circle cx="396.4" cy="617.4" r="2.4" fill="#4a50f0"/>
<circle cx="364.5" cy="621.8" r="2.4" fill="#3a1fb0"/>
<circle cx="379.4" cy="622.6" r="2.4" fill="#4a50f0"/>
<circle cx="394.3" cy="623.3" r="2.4" fill="#80c050"/>
<circle cx="362" cy="635.5" r="2.4" fill="#3a1fb0"/>
<circle cx="376.9" cy="636.3" r="2.4" fill="#3a1fb0"/>
<circle cx="391.8" cy="637.1" r="2.4" fill="#3a1fb0"/>
<circle cx="406.7" cy="637.8" r="2.4" fill="#4a50f0"/>
<circle cx="359.9" cy="641.5" r="2.4" fill="#3a1fb0"/>
<circle cx="374.8" cy="642.3" r="2.4" fill="#3a1fb0"/>
<circle cx="389.7" cy="643" r="2.4" fill="#30a8e0"/>
<circle cx="404.6" cy="643.8" r="2.4" fill="#30a8e0"/>
<circle cx="357.9" cy="647.4" r="2.4" fill="#3a1fb0"/>
<circle cx="372.8" cy="648.2" r="2.4" fill="#3a1fb0"/>
<circle cx="387.6" cy="649" r="2.4" fill="#30a8e0"/>
<circle cx="402.5" cy="649.7" r="2.4" fill="#4a50f0"/>
<circle cx="355.8" cy="653.4" r="2.4" fill="#3a1fb0"/>
<circle cx="370.7" cy="654.2" r="2.4" fill="#3a1fb0"/>
<circle cx="385.6" cy="654.9" r="2.4" fill="#30a8e0"/>
<circle cx="400.4" cy="655.7" r="2.4" fill="#30a8e0"/>
<circle cx="368.7" cy="638.8" r="2.4" fill="#3a1fb0"/>
<circle cx="383.6" cy="639.6" r="2.4" fill="#4a50f0"/>
<circle cx="398.4" cy="640.3" r="2.4" fill="#4a50f0"/>
<circle cx="366.6" cy="644.8" r="2.4" fill="#3a1fb0"/>
<circle cx="381.5" cy="645.5" r="2.4" fill="#30b8a8"/>
<circle cx="396.4" cy="646.3" r="2.4" fill="#30b8a8"/>
<circle cx="364.5" cy="650.7" r="2.4" fill="#3a1fb0"/>
<circle cx="379.4" cy="651.5" r="2.4" fill="#4a50f0"/>
<circle cx="394.3" cy="652.2" r="2.4" fill="#4a50f0"/>
<circle cx="362" cy="664.4" r="2.4" fill="#3a1fb0"/>
<circle cx="376.9" cy="665.2" r="2.4" fill="#3a1fb0"/>
<circle cx="391.8" cy="666" r="2.4" fill="#3a1fb0"/>
<circle cx="406.7" cy="666.7" r="2.4" fill="#3a1fb0"/>
<circle cx="359.9" cy="670.4" r="2.4" fill="#3a1fb0"/>
<circle cx="374.8" cy="671.2" r="2.4" fill="#4a50f0"/>
<circle cx="389.7" cy="671.9" r="2.4" fill="#4a50f0"/>
<circle cx="404.6" cy="672.7" r="2.4" fill="#4a50f0"/>
<circle cx="357.9" cy="676.3" r="2.4" fill="#3a1fb0"/>
<circle cx="372.8" cy="677.1" r="2.4" fill="#4a50f0"/>
<circle cx="387.6" cy="677.9" r="2.4" fill="#4a50f0"/>
<circle cx="402.5" cy="678.6" r="2.4" fill="#4a50f0"/>
<circle cx="355.8" cy="682.3" r="2.4" fill="#3a1fb0"/>
<circle cx="370.7" cy="683.1" r="2.4" fill="#3a1fb0"/>
<circle cx="385.6" cy="683.8" r="2.4" fill="#4a50f0"/>
<circle cx="400.4" cy="684.6" r="2.4" fill="#3a1fb0"/>
<circle cx="368.7" cy="667.7" r="2.4" fill="#3a1fb0"/>
<circle cx="383.6" cy="668.5" r="2.4" fill="#3a1fb0"/>
<circle cx="398.4" cy="669.2" r="2.4" fill="#3a1fb0"/>
<circle cx="366.6" cy="673.7" r="2.4" fill="#3a1fb0"/>
<circle cx="381.5" cy="674.4" r="2.4" fill="#4a50f0"/>
<circle cx="396.4" cy="675.2" r="2.4" fill="#4a50f0"/>
<circle cx="364.5" cy="679.6" r="2.4" fill="#4a50f0"/>
<circle cx="379.4" cy="680.4" r="2.4" fill="#4a50f0"/>
<circle cx="394.3" cy="681.1" r="2.4" fill="#b8b028"/>
<linearGradient id="ga298_0" gradientUnits="userSpaceOnUse" x1="411.5" y1="628" x2="417" y2="612"><stop offset="0" stop-color="#f8f000"/><stop offset="0.45" stop-color="#e8e010"/><stop offset="1" stop-color="#2a5a7a"/></linearGradient>
<line x1="411.5" y1="628" x2="417" y2="612" stroke="url(#ga298_0)" stroke-width="2.4"/>
<polygon points="417.8,609.6 418.4,614 414.6,612.7" fill="#2a4a7a"/>
<linearGradient id="ga298_1" gradientUnits="userSpaceOnUse" x1="411.3" y1="655" x2="411.3" y2="639"><stop offset="0" stop-color="#f8f000"/><stop offset="0.45" stop-color="#e8e010"/><stop offset="1" stop-color="#2a5a7a"/></linearGradient>
<line x1="411.3" y1="655" x2="411.3" y2="639" stroke="url(#ga298_1)" stroke-width="2.4"/>
<polygon points="411.3,636.5 413.3,640.5 409.3,640.5" fill="#2a4a7a"/>
<text x="338.2" y="697" font-size="7" fill="#222" text-anchor="middle" font-family="Liberation Serif" font-style="italic" >k</text>
<text x="417.2" y="697" font-size="7" fill="#222" text-anchor="middle" font-family="Liberation Serif" font-style="italic" >x</text>
<text x="319.2" y="679" font-size="8" fill="#000" text-anchor="middle" font-family="Liberation Serif" >3</text>
<text x="443.2" y="679" font-size="8" fill="#000" text-anchor="middle" font-family="Liberation Serif" >3</text>
<rect x="464.1" y="592" width="121.8" height="106.8" fill="#fff"/>
<line x1="464" y1="615" x2="531" y2="593" stroke="#e2e2e2" stroke-width="0.7"/>
<line x1="531" y1="593" x2="586" y2="619" stroke="#e2e2e2" stroke-width="0.7"/>
<line x1="464" y1="641" x2="531" y2="619" stroke="#e2e2e2" stroke-width="0.7"/>
<line x1="531" y1="619" x2="586" y2="646" stroke="#e2e2e2" stroke-width="0.7"/>
<line x1="464" y1="670" x2="531" y2="646" stroke="#e2e2e2" stroke-width="0.7"/>
<line x1="531" y1="646" x2="586" y2="673" stroke="#e2e2e2" stroke-width="0.7"/>
<line x1="464" y1="670" x2="517" y2="697" stroke="#e2e2e2" stroke-width="0.7"/>
<line x1="517" y1="697" x2="586" y2="673" stroke="#e2e2e2" stroke-width="0.7"/>
<line x1="490" y1="683" x2="552" y2="658" stroke="#e2e2e2" stroke-width="0.7"/>
<line x1="547" y1="686" x2="517" y2="660" stroke="#e2e2e2" stroke-width="0.7"/>
<line x1="507" y1="604" x2="507" y2="662" stroke="#e2e2e2" stroke-width="0.6"/>
<line x1="552" y1="603" x2="552" y2="660" stroke="#e2e2e2" stroke-width="0.6"/>
<line x1="464" y1="615" x2="464" y2="670" stroke="#e2e2e2" stroke-width="0.7"/>
<circle cx="505.8" cy="606.6" r="2.4" fill="#3a1fb0"/>
<circle cx="520.6" cy="607.4" r="2.4" fill="#3a1fb0"/>
<circle cx="535.5" cy="608.2" r="2.4" fill="#30a8e0"/>
<circle cx="550.4" cy="608.9" r="2.4" fill="#f8e818"/>
<circle cx="503.7" cy="612.6" r="2.4" fill="#3a1fb0"/>
<circle cx="518.6" cy="613.4" r="2.4" fill="#4a50f0"/>
<circle cx="533.5" cy="614.1" r="2.4" fill="#30b8a8"/>
<circle cx="548.3" cy="614.9" r="2.4" fill="#f0a030"/>
<circle cx="501.6" cy="618.5" r="2.4" fill="#3a1fb0"/>
<circle cx="516.5" cy="619.3" r="2.4" fill="#4a50f0"/>
<circle cx="531.4" cy="620.1" r="2.4" fill="#3a1fb0"/>
<circle cx="546.3" cy="620.8" r="2.4" fill="#30a8e0"/>
<circle cx="499.6" cy="624.5" r="2.4" fill="#3a1fb0"/>
<circle cx="514.4" cy="625.3" r="2.4" fill="#4a50f0"/>
<circle cx="529.3" cy="626" r="2.4" fill="#4a50f0"/>
<circle cx="544.2" cy="626.8" r="2.4" fill="#f8e818"/>
<circle cx="512.4" cy="609.9" r="2.4" fill="#3a1fb0"/>
<circle cx="527.3" cy="610.7" r="2.4" fill="#4a50f0"/>
<circle cx="542.2" cy="611.4" r="2.4" fill="#4a50f0"/>
<circle cx="510.4" cy="615.9" r="2.4" fill="#3a1fb0"/>
<circle cx="525.2" cy="616.6" r="2.4" fill="#4a50f0"/>
<circle cx="540.1" cy="617.4" r="2.4" fill="#4a50f0"/>
<circle cx="508.3" cy="621.8" r="2.4" fill="#3a1fb0"/>
<circle cx="523.2" cy="622.6" r="2.4" fill="#4a50f0"/>
<circle cx="538" cy="623.3" r="2.4" fill="#30b8a8"/>
<circle cx="505.8" cy="635.5" r="2.4" fill="#3a1fb0"/>
<circle cx="520.6" cy="636.3" r="2.4" fill="#4a50f0"/>
<circle cx="535.5" cy="637.1" r="2.4" fill="#4a50f0"/>
<circle cx="550.4" cy="637.8" r="2.4" fill="#3a1fb0"/>
<circle cx="503.7" cy="641.5" r="2.4" fill="#3a1fb0"/>
<circle cx="518.6" cy="642.3" r="2.4" fill="#4a50f0"/>
<circle cx="533.5" cy="643" r="2.4" fill="#4a50f0"/>
<circle cx="548.3" cy="643.8" r="2.4" fill="#80c050"/>
<circle cx="501.6" cy="647.4" r="2.4" fill="#4a50f0"/>
<circle cx="516.5" cy="648.2" r="2.4" fill="#4a50f0"/>
<circle cx="531.4" cy="649" r="2.4" fill="#30b8a8"/>
<circle cx="546.3" cy="649.7" r="2.4" fill="#30b8a8"/>
<circle cx="499.6" cy="653.4" r="2.4" fill="#4a50f0"/>
<circle cx="514.4" cy="654.2" r="2.4" fill="#4a50f0"/>
<circle cx="529.3" cy="654.9" r="2.4" fill="#3a1fb0"/>
<circle cx="544.2" cy="655.7" r="2.4" fill="#f8e818"/>
<circle cx="512.4" cy="638.8" r="2.4" fill="#30a8e0"/>
<circle cx="527.3" cy="639.6" r="2.4" fill="#4a50f0"/>
<circle cx="542.2" cy="640.3" r="2.4" fill="#4a50f0"/>
<circle cx="510.4" cy="644.8" r="2.4" fill="#4a50f0"/>
<circle cx="525.2" cy="645.5" r="2.4" fill="#3a1fb0"/>
<circle cx="540.1" cy="646.3" r="2.4" fill="#3a1fb0"/>
<circle cx="508.3" cy="650.7" r="2.4" fill="#4a50f0"/>
<circle cx="523.2" cy="651.5" r="2.4" fill="#3a1fb0"/>
<circle cx="538" cy="652.2" r="2.4" fill="#30b8a8"/>
<circle cx="505.8" cy="664.4" r="2.4" fill="#4a50f0"/>
<circle cx="520.6" cy="665.2" r="2.4" fill="#4a50f0"/>
<circle cx="535.5" cy="666" r="2.4" fill="#4a50f0"/>
<circle cx="550.4" cy="666.7" r="2.4" fill="#4a50f0"/>
<circle cx="503.7" cy="670.4" r="2.4" fill="#4a50f0"/>
<circle cx="518.6" cy="671.2" r="2.4" fill="#4a50f0"/>
<circle cx="533.5" cy="671.9" r="2.4" fill="#3a1fb0"/>
<circle cx="548.3" cy="672.7" r="2.4" fill="#4a50f0"/>
<circle cx="501.6" cy="676.3" r="2.4" fill="#4a50f0"/>
<circle cx="516.5" cy="677.1" r="2.4" fill="#4a50f0"/>
<circle cx="531.4" cy="677.9" r="2.4" fill="#30b8a8"/>
<circle cx="546.3" cy="678.6" r="2.4" fill="#80c050"/>
<circle cx="499.6" cy="682.3" r="2.4" fill="#4a50f0"/>
<circle cx="514.4" cy="683.1" r="2.4" fill="#4a50f0"/>
<circle cx="529.3" cy="683.8" r="2.4" fill="#30a8e0"/>
<circle cx="544.2" cy="684.6" r="2.4" fill="#b8b028"/>
<circle cx="512.4" cy="667.7" r="2.4" fill="#3a1fb0"/>
<circle cx="527.3" cy="668.5" r="2.4" fill="#4a50f0"/>
<circle cx="542.2" cy="669.2" r="2.4" fill="#3a1fb0"/>
<circle cx="510.4" cy="673.7" r="2.4" fill="#3a1fb0"/>
<circle cx="525.2" cy="674.4" r="2.4" fill="#30a8e0"/>
<circle cx="540.1" cy="675.2" r="2.4" fill="#30a8e0"/>
<circle cx="508.3" cy="679.6" r="2.4" fill="#3a1fb0"/>
<circle cx="523.2" cy="680.4" r="2.4" fill="#3a1fb0"/>
<circle cx="538" cy="681.1" r="2.4" fill="#4a50f0"/>
<linearGradient id="ga442_0" gradientUnits="userSpaceOnUse" x1="553.8" y1="626.3" x2="562.5" y2="612.5"><stop offset="0" stop-color="#f8f000"/><stop offset="0.45" stop-color="#e8e010"/><stop offset="1" stop-color="#2a5a7a"/></linearGradient>
<line x1="553.8" y1="626.3" x2="562.5" y2="612.5" stroke="url(#ga442_0)" stroke-width="2.4"/>
<polygon points="563.8,610.4 563.4,614.8 560,612.7" fill="#2a4a7a"/>
<text x="482" y="697" font-size="7" fill="#222" text-anchor="middle" font-family="Liberation Serif" font-style="italic" >k</text>
<text x="561" y="697" font-size="7" fill="#222" text-anchor="middle" font-family="Liberation Serif" font-style="italic" >x</text>
<text x="463" y="679" font-size="8" fill="#000" text-anchor="middle" font-family="Liberation Serif" >3</text>
<text x="587" y="679" font-size="8" fill="#000" text-anchor="middle" font-family="Liberation Serif" >3</text>
<text x="281" y="717.5" font-size="8" fill="#1010d0" text-anchor="middle" font-family="Liberation Sans" font-weight="bold" >0V</text>
<linearGradient id="gcbv" x1="0" x2="1"><stop offset="0" stop-color="#3a30c0"/><stop offset="0.5" stop-color="#30b0c0"/><stop offset="1" stop-color="#f8d020"/></linearGradient>
<rect x="289" y="711.5" width="24.5" height="5.5" fill="url(#gcbv)" stroke="#fff" stroke-width="0.8"/>
<text x="322.5" y="717.5" font-size="8" fill="#f8c000" text-anchor="middle" font-family="Liberation Sans" font-weight="bold" >2V</text>
</svg>
</body></html>
